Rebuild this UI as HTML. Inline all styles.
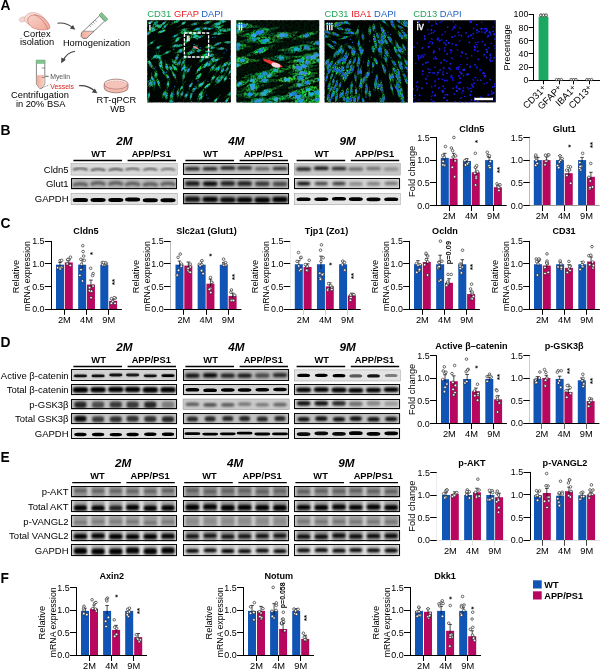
<!DOCTYPE html>
<html><head><meta charset="utf-8"><title>Figure</title>
<style>
html,body{margin:0;padding:0;background:#fff;}
body{width:600px;height:669px;overflow:hidden;font-family:"Liberation Sans", sans-serif;}
svg{display:block;will-change:transform;font-family:"Liberation Sans", sans-serif;}
</style></head><body>
<svg width="600" height="669" viewBox="0 0 600 669">
<defs>
<linearGradient id="braing" x1="0" y1="0" x2="1" y2="1"><stop offset="0" stop-color="#f8d3ca"/><stop offset="1" stop-color="#f0a999"/></linearGradient>
<linearGradient id="liqg" x1="0" y1="0" x2="1" y2="0"><stop offset="0" stop-color="#f2ab9b"/><stop offset="1" stop-color="#f9d3c8"/></linearGradient>
<filter id="grain0" x="0" y="0" width="100%" height="100%"><feTurbulence type="fractalNoise" baseFrequency="0.7" numOctaves="2" seed="3"/><feColorMatrix type="matrix" values="0 0 0 0 0  0 0 0 0 0  0 0 0 0 0  2.2 0 0 0 -0.8"/></filter>
<filter id="grain1" x="0" y="0" width="100%" height="100%"><feTurbulence type="fractalNoise" baseFrequency="0.45" numOctaves="2" seed="4"/><feColorMatrix type="matrix" values="0 0 0 0 0  0 0 0 0 0  0 0 0 0 0  2.4 0 0 0 -0.85"/></filter>
<filter id="grain2" x="0" y="0" width="100%" height="100%"><feTurbulence type="fractalNoise" baseFrequency="0.7" numOctaves="2" seed="5"/><feColorMatrix type="matrix" values="0 0 0 0 0  0 0 0 0 0  0 0 0 0 0  2.2 0 0 0 -0.8"/></filter>
<filter id="b04" x="-20%" y="-20%" width="140%" height="140%"><feGaussianBlur stdDeviation="0.4"/></filter>
<filter id="b05" x="-20%" y="-20%" width="140%" height="140%"><feGaussianBlur stdDeviation="0.5"/></filter>
<filter id="b06" x="-20%" y="-50%" width="140%" height="200%"><feGaussianBlur stdDeviation="0.6"/></filter>
<filter id="b07" x="-20%" y="-50%" width="140%" height="200%"><feGaussianBlur stdDeviation="0.95"/></filter>
<filter id="b08" x="-20%" y="-20%" width="140%" height="140%"><feGaussianBlur stdDeviation="0.8"/></filter>
<filter id="b12" x="-20%" y="-20%" width="140%" height="140%"><feGaussianBlur stdDeviation="1.2"/></filter>
</defs>
<rect x="0" y="0" width="600" height="669" fill="#fff"/>
<text x="0.60" y="10.00" font-size="13.8" text-anchor="start" font-weight="bold" font-style="normal" fill="#000" >A</text>
<g stroke-width="0.5" stroke-linecap="round"><ellipse cx="22.6" cy="19.4" rx="3.4" ry="2.4" fill="#f6d6cf" stroke="#cdb0aa" transform="rotate(-20 22.6 19.4)"/><path d="M24.5,18.5 C25.5,14 30.5,11.6 36,13 C41.5,14.4 46.5,19 48,25.5 L31,25 C27,24 24,21.5 24.5,18.5 Z" fill="#f8dad3" stroke="#c39a92" stroke-dasharray="0.8 0.7"/><path d="M28.3,18 C31,13.8 38.5,14.2 44,18.6 C48,21.8 50.6,26.3 49.6,28.4 C46,30.6 38,30.2 33.4,28 C29.4,26 26.6,21.6 28.3,18 Z" fill="url(#braing)" stroke="#b4544c" stroke-dasharray="0.8 0.7"/><path d="M34.5,14.6 C40,17 45.5,22.5 47.6,29.2" fill="none" stroke="#b4544c" stroke-dasharray="0.8 0.7"/></g>
<text x="37.00" y="36.60" font-size="9.3" text-anchor="middle" font-weight="normal" font-style="normal" fill="#000" >Cortex</text>
<text x="37.00" y="45.20" font-size="9.3" text-anchor="middle" font-weight="normal" font-style="normal" fill="#000" >isolation</text>
<path d="M57.5,23.2 C63,22.5 69,24.5 73.5,28.2" fill="none" stroke="#444" stroke-width="1.1"/>
<path d="M75.3,29.8 L69.8,28.6 L73.0,25.0 Z" fill="#444"/>
<polygon points="81.45,32.92 99.59,15.71 104.68,21.08 86.55,38.28 82.94,38.26 81.29,36.52" fill="#fff" stroke="#555" stroke-width="0.7" stroke-linejoin="round"/>
<polygon points="81.45,32.92 83.26,31.20 94.01,31.20 86.55,38.28 82.94,38.26 81.29,36.52" fill="url(#liqg)" stroke="#555" stroke-width="0.5" stroke-linejoin="round"/>
<polygon points="98.97,15.05 101.58,12.58 107.91,19.25 105.30,21.73" fill="#80c68f" stroke="#4d7d58" stroke-width="0.5"/>
<line x1="89.43" y1="25.34" x2="91.02" y2="27.01" stroke="#444" stroke-width="0.5"/>
<line x1="91.25" y1="23.62" x2="92.83" y2="25.29" stroke="#444" stroke-width="0.5"/>
<line x1="93.06" y1="21.90" x2="94.64" y2="23.57" stroke="#444" stroke-width="0.5"/>
<line x1="94.87" y1="20.18" x2="96.46" y2="21.85" stroke="#444" stroke-width="0.5"/>
<text x="96.50" y="46.40" font-size="9.3" text-anchor="middle" font-weight="normal" font-style="normal" fill="#000" >Homogenization</text>
<path d="M75,51.2 C70,52 65.5,55.5 63.0,60.5" fill="none" stroke="#444" stroke-width="1.1"/>
<path d="M61.2,63.2 L61.3,57.4 L65.9,59.8 Z" fill="#444"/>
<path d="M36.4,62.5 L44.8,62.5 L44.8,84 L41.4,88.6 L39.8,88.6 L36.4,84 Z" fill="#fff" stroke="#555" stroke-width="0.7" stroke-linejoin="round"/>
<path d="M36.75,76 L44.45,76 L44.45,83.9 L41.2,88.2 L40.0,88.2 L36.75,83.9 Z" fill="url(#liqg)"/>
<line x1="36.7" y1="75.6" x2="44.5" y2="75.6" stroke="#e0746a" stroke-width="0.5"/>
<rect x="36.10" y="60.00" width="9.00" height="3.40" fill="#80c68f" stroke="#5a9c6a" stroke-width="0.4" />
<path d="M44.8,68 h-3 M44.8,77.4 h-3" stroke="#444" stroke-width="0.6"/>
<line x1="45.20" y1="76.30" x2="48.60" y2="76.30" stroke="#333" stroke-width="0.8" />
<path d="M41.6,88 L48.8,85.2" stroke="#444" stroke-width="0.6" stroke-dasharray="1.2 0.8"/>
<text x="50.20" y="79.00" font-size="6.9" text-anchor="start" font-weight="normal" font-style="normal" fill="#555" >Myelin</text>
<text x="50.20" y="88.70" font-size="6.9" text-anchor="start" font-weight="normal" font-style="normal" fill="#d8201c" >Vessels</text>
<text x="40.00" y="98.40" font-size="9.3" text-anchor="middle" font-weight="normal" font-style="normal" fill="#000" >Centrifugation</text>
<text x="40.70" y="106.80" font-size="9.3" text-anchor="middle" font-weight="normal" font-style="normal" fill="#000" >in 20% BSA</text>
<path d="M79,85.7 C85,85.2 91,87.5 95.2,91.4" fill="none" stroke="#444" stroke-width="1.1"/>
<path d="M97.4,93.3 L91.8,92.4 L94.8,88.5 Z" fill="#444"/>
<path d="M104.2,84 L104.2,87.9 A11.9,4.9 0 0 0 128,87.9 L128,84 Z" fill="#f2b9ae" stroke="#7a4a44" stroke-width="0.6"/>
<ellipse cx="116.1" cy="84" rx="11.9" ry="4.9" fill="#fbe6e1" stroke="#7a4a44" stroke-width="0.6"/>
<ellipse cx="116.1" cy="85.0" rx="10.6" ry="3.8" fill="#f5c3b9" stroke="#b9776b" stroke-width="0.4" stroke-dasharray="2 1"/>
<text x="116.40" y="103.20" font-size="9.3" text-anchor="middle" font-weight="normal" font-style="normal" fill="#000" >RT-qPCR</text>
<text x="117.80" y="112.20" font-size="9.3" text-anchor="middle" font-weight="normal" font-style="normal" fill="#000" >WB</text>
<text x="147.3" y="17" font-size="9.4"><tspan fill="#23a65c">CD31</tspan> <tspan fill="#e5222b">GFAP</tspan> <tspan fill="#1f62c4">DAPI</tspan></text>
<text x="324.6" y="17" font-size="9.4"><tspan fill="#23a65c">CD31</tspan> <tspan fill="#e5222b">IBA1</tspan> <tspan fill="#1f62c4">DAPI</tspan></text>
<text x="413.2" y="17" font-size="9.4"><tspan fill="#23a65c">CD13</tspan> <tspan fill="#1f62c4">DAPI</tspan></text>
<clipPath id="mc0"><rect x="147.2" y="20.2" width="83.6" height="82.2"/></clipPath>
<rect x="147.20" y="20.20" width="83.60" height="82.20" fill="#010804" stroke="none" stroke-width="0" />
<g clip-path="url(#mc0)">
<g filter="url(#b04)">
<g transform="translate(159.4,57.6) rotate(58)"><ellipse rx="7.9" ry="0.7" fill="rgb(7,108,50)" opacity="0.87"/><ellipse rx="3.9" ry="1.4" fill="rgb(13,198,92)" opacity="0.98"/></g>
<g transform="translate(175.2,45.6) rotate(-17)"><ellipse rx="5.8" ry="0.6" fill="rgb(19,105,43)" opacity="0.72"/><ellipse rx="2.9" ry="1.2" fill="rgb(35,191,79)" opacity="0.97"/></g>
<g transform="translate(215.6,33.4) rotate(-9)"><ellipse rx="5.5" ry="0.5" fill="rgb(6,102,50)" opacity="0.59"/><ellipse rx="3.2" ry="1.5" fill="rgb(11,186,92)" opacity="0.81"/></g>
<g transform="translate(200.5,94.4) rotate(-58)"><ellipse rx="7.2" ry="0.9" fill="rgb(17,132,45)" opacity="0.77"/><ellipse rx="3.6" ry="1.5" fill="rgb(31,240,83)" opacity="0.84"/></g>
<g transform="translate(152.4,28.5) rotate(-41)"><ellipse rx="6.7" ry="0.6" fill="rgb(25,125,36)" opacity="0.56"/><ellipse rx="3.9" ry="1.5" fill="rgb(47,228,66)" opacity="0.89"/></g>
<g transform="translate(219.2,33.7) rotate(-4)"><ellipse rx="7.8" ry="0.5" fill="rgb(26,127,34)" opacity="0.76"/><ellipse rx="2.7" ry="1.4" fill="rgb(49,232,63)" opacity="0.91"/></g>
<g transform="translate(194.7,47.6) rotate(-38)"><ellipse rx="5.5" ry="0.6" fill="rgb(19,97,51)" opacity="0.79"/><ellipse rx="3.4" ry="1.5" fill="rgb(35,178,93)" opacity="0.87"/></g>
<g transform="translate(202.4,59.4) rotate(-43)"><ellipse rx="7.8" ry="0.6" fill="rgb(8,101,28)" opacity="0.56"/><ellipse rx="3.9" ry="1.6" fill="rgb(16,185,52)" opacity="0.87"/></g>
<g transform="translate(157.5,25.7) rotate(-16)"><ellipse rx="6.6" ry="0.7" fill="rgb(25,133,36)" opacity="0.67"/><ellipse rx="3.4" ry="1.2" fill="rgb(47,242,66)" opacity="0.94"/></g>
<g transform="translate(216.5,26.6) rotate(4)"><ellipse rx="6.1" ry="0.9" fill="rgb(18,94,36)" opacity="0.50"/><ellipse rx="4.0" ry="1.6" fill="rgb(34,171,67)" opacity="0.93"/></g>
<g transform="translate(150.4,22.3) rotate(-22)"><ellipse rx="6.2" ry="0.7" fill="rgb(25,96,39)" opacity="0.63"/><ellipse rx="3.6" ry="1.2" fill="rgb(47,176,72)" opacity="0.96"/></g>
<g transform="translate(150.0,83.5) rotate(100)"><ellipse rx="5.3" ry="0.8" fill="rgb(29,90,53)" opacity="0.51"/><ellipse rx="4.0" ry="1.6" fill="rgb(53,165,97)" opacity="0.76"/></g>
<g transform="translate(180.3,51.5) rotate(-17)"><ellipse rx="5.8" ry="0.9" fill="rgb(27,122,53)" opacity="0.55"/><ellipse rx="3.6" ry="1.4" fill="rgb(50,223,97)" opacity="0.85"/></g>
<g transform="translate(196.1,29.3) rotate(-28)"><ellipse rx="8.5" ry="0.7" fill="rgb(8,114,29)" opacity="0.52"/><ellipse rx="3.0" ry="1.3" fill="rgb(15,209,54)" opacity="0.80"/></g>
<g transform="translate(148.9,32.9) rotate(-49)"><ellipse rx="5.4" ry="0.8" fill="rgb(25,129,32)" opacity="0.57"/><ellipse rx="2.8" ry="1.4" fill="rgb(47,235,59)" opacity="0.98"/></g>
<g transform="translate(208.8,51.4) rotate(-3)"><ellipse rx="5.4" ry="0.8" fill="rgb(13,110,53)" opacity="0.81"/><ellipse rx="3.9" ry="1.1" fill="rgb(24,201,97)" opacity="0.98"/></g>
<g transform="translate(166.3,95.4) rotate(91)"><ellipse rx="5.5" ry="0.5" fill="rgb(12,124,44)" opacity="0.52"/><ellipse rx="3.4" ry="1.6" fill="rgb(23,226,81)" opacity="0.97"/></g>
<g transform="translate(218.5,68.5) rotate(-62)"><ellipse rx="7.1" ry="0.9" fill="rgb(21,106,51)" opacity="0.50"/><ellipse rx="3.8" ry="1.5" fill="rgb(39,194,94)" opacity="0.73"/></g>
<g transform="translate(220.8,30.1) rotate(-20)"><ellipse rx="6.2" ry="0.9" fill="rgb(17,101,48)" opacity="0.81"/><ellipse rx="3.7" ry="1.7" fill="rgb(31,185,88)" opacity="0.87"/></g>
<g transform="translate(225.4,78.8) rotate(-60)"><ellipse rx="6.3" ry="0.6" fill="rgb(12,91,45)" opacity="0.56"/><ellipse rx="3.0" ry="1.5" fill="rgb(23,167,83)" opacity="0.91"/></g>
<g transform="translate(217.8,23.7) rotate(-12)"><ellipse rx="8.9" ry="0.5" fill="rgb(11,121,34)" opacity="0.61"/><ellipse rx="3.4" ry="1.3" fill="rgb(21,220,63)" opacity="0.73"/></g>
<g transform="translate(171.8,94.3) rotate(115)"><ellipse rx="6.0" ry="0.5" fill="rgb(8,119,52)" opacity="0.64"/><ellipse rx="3.0" ry="1.6" fill="rgb(15,218,96)" opacity="0.71"/></g>
<g transform="translate(198.7,50.6) rotate(-10)"><ellipse rx="7.1" ry="0.7" fill="rgb(7,132,55)" opacity="0.53"/><ellipse rx="2.6" ry="1.6" fill="rgb(13,241,100)" opacity="0.66"/></g>
<g transform="translate(202.0,84.0) rotate(-47)"><ellipse rx="7.5" ry="0.8" fill="rgb(17,103,44)" opacity="0.81"/><ellipse rx="3.5" ry="1.3" fill="rgb(31,188,81)" opacity="0.87"/></g>
<g transform="translate(164.9,26.5) rotate(-45)"><ellipse rx="7.5" ry="0.8" fill="rgb(26,93,36)" opacity="0.69"/><ellipse rx="3.9" ry="1.2" fill="rgb(48,170,67)" opacity="0.89"/></g>
<g transform="translate(221.7,77.4) rotate(-45)"><ellipse rx="8.4" ry="0.8" fill="rgb(14,90,30)" opacity="0.71"/><ellipse rx="3.2" ry="1.7" fill="rgb(27,165,55)" opacity="0.91"/></g>
<g transform="translate(205.4,28.3) rotate(-7)"><ellipse rx="7.5" ry="0.9" fill="rgb(22,93,51)" opacity="0.75"/><ellipse rx="3.4" ry="1.2" fill="rgb(41,170,93)" opacity="0.76"/></g>
<g transform="translate(154.4,83.0) rotate(88)"><ellipse rx="8.6" ry="0.6" fill="rgb(19,93,39)" opacity="0.89"/><ellipse rx="2.7" ry="1.4" fill="rgb(35,170,71)" opacity="0.71"/></g>
<g transform="translate(194.2,89.2) rotate(-53)"><ellipse rx="8.0" ry="0.8" fill="rgb(20,91,52)" opacity="0.74"/><ellipse rx="3.3" ry="1.7" fill="rgb(38,166,95)" opacity="0.93"/></g>
<g transform="translate(213.7,60.4) rotate(-37)"><ellipse rx="8.4" ry="0.6" fill="rgb(19,92,31)" opacity="0.81"/><ellipse rx="2.8" ry="1.6" fill="rgb(35,168,57)" opacity="0.99"/></g>
<g transform="translate(212.9,67.6) rotate(-54)"><ellipse rx="8.8" ry="0.9" fill="rgb(23,111,40)" opacity="0.65"/><ellipse rx="3.8" ry="1.6" fill="rgb(43,202,74)" opacity="0.85"/></g>
<g transform="translate(212.3,59.2) rotate(-43)"><ellipse rx="9.0" ry="0.6" fill="rgb(13,117,28)" opacity="0.55"/><ellipse rx="3.4" ry="1.0" fill="rgb(24,213,51)" opacity="0.73"/></g>
<g transform="translate(179.0,45.7) rotate(-17)"><ellipse rx="8.6" ry="0.7" fill="rgb(7,110,42)" opacity="0.59"/><ellipse rx="3.6" ry="1.4" fill="rgb(14,200,77)" opacity="0.94"/></g>
<g transform="translate(147.2,100.7) rotate(91)"><ellipse rx="6.5" ry="0.8" fill="rgb(26,125,53)" opacity="0.74"/><ellipse rx="3.7" ry="1.3" fill="rgb(49,228,98)" opacity="0.75"/></g>
<g transform="translate(153.6,30.3) rotate(-22)"><ellipse rx="8.5" ry="0.8" fill="rgb(33,122,39)" opacity="0.86"/><ellipse rx="3.0" ry="1.0" fill="rgb(60,222,72)" opacity="0.97"/></g>
<g transform="translate(230.5,93.6) rotate(-32)"><ellipse rx="8.0" ry="0.7" fill="rgb(16,113,36)" opacity="0.54"/><ellipse rx="3.4" ry="1.7" fill="rgb(30,206,66)" opacity="0.88"/></g>
<g transform="translate(226.8,100.6) rotate(-55)"><ellipse rx="6.3" ry="0.7" fill="rgb(26,107,35)" opacity="0.79"/><ellipse rx="3.3" ry="1.3" fill="rgb(49,196,64)" opacity="0.75"/></g>
<g transform="translate(216.9,60.0) rotate(-28)"><ellipse rx="7.5" ry="0.6" fill="rgb(20,129,44)" opacity="0.84"/><ellipse rx="4.2" ry="1.0" fill="rgb(37,236,80)" opacity="0.83"/></g>
<g transform="translate(207.6,22.5) rotate(-16)"><ellipse rx="6.6" ry="0.6" fill="rgb(25,99,33)" opacity="0.85"/><ellipse rx="4.2" ry="1.4" fill="rgb(47,180,61)" opacity="0.69"/></g>
<g transform="translate(152.4,78.7) rotate(80)"><ellipse rx="6.8" ry="0.8" fill="rgb(21,121,53)" opacity="0.73"/><ellipse rx="3.1" ry="1.3" fill="rgb(39,221,98)" opacity="0.84"/></g>
<g transform="translate(194.7,23.9) rotate(-11)"><ellipse rx="8.6" ry="0.5" fill="rgb(29,92,46)" opacity="0.87"/><ellipse rx="3.8" ry="1.4" fill="rgb(53,169,84)" opacity="0.91"/></g>
<g transform="translate(191.0,96.3) rotate(-81)"><ellipse rx="6.4" ry="0.7" fill="rgb(21,91,53)" opacity="0.85"/><ellipse rx="3.5" ry="1.1" fill="rgb(39,167,98)" opacity="0.91"/></g>
<g transform="translate(206.2,54.6) rotate(-9)"><ellipse rx="7.6" ry="0.8" fill="rgb(8,125,29)" opacity="0.86"/><ellipse rx="3.6" ry="1.2" fill="rgb(15,228,53)" opacity="0.96"/></g>
<g transform="translate(185.3,70.5) rotate(-60)"><ellipse rx="7.8" ry="0.7" fill="rgb(29,103,40)" opacity="0.83"/><ellipse rx="3.5" ry="1.5" fill="rgb(54,188,74)" opacity="0.72"/></g>
<g transform="translate(181.9,94.0) rotate(-69)"><ellipse rx="5.8" ry="0.6" fill="rgb(25,97,52)" opacity="0.86"/><ellipse rx="2.8" ry="1.4" fill="rgb(47,177,95)" opacity="0.75"/></g>
<g transform="translate(201.1,97.4) rotate(-56)"><ellipse rx="8.5" ry="0.8" fill="rgb(6,118,51)" opacity="0.70"/><ellipse rx="3.2" ry="1.6" fill="rgb(12,216,93)" opacity="0.89"/></g>
<g transform="translate(213.1,77.8) rotate(-55)"><ellipse rx="6.4" ry="0.6" fill="rgb(9,117,27)" opacity="0.51"/><ellipse rx="2.9" ry="1.6" fill="rgb(17,213,50)" opacity="0.88"/></g>
<g transform="translate(207.0,63.7) rotate(-43)"><ellipse rx="8.1" ry="0.8" fill="rgb(7,122,51)" opacity="0.57"/><ellipse rx="3.6" ry="1.5" fill="rgb(13,223,93)" opacity="0.85"/></g>
<g transform="translate(177.9,93.2) rotate(-86)"><ellipse rx="7.0" ry="0.6" fill="rgb(21,98,49)" opacity="0.51"/><ellipse rx="3.9" ry="1.3" fill="rgb(39,179,90)" opacity="0.94"/></g>
<g transform="translate(182.7,68.6) rotate(-68)"><ellipse rx="7.7" ry="0.5" fill="rgb(7,105,51)" opacity="0.85"/><ellipse rx="3.2" ry="1.1" fill="rgb(14,191,93)" opacity="0.66"/></g>
<g transform="translate(218.2,24.1) rotate(-17)"><ellipse rx="8.4" ry="0.8" fill="rgb(8,96,28)" opacity="0.63"/><ellipse rx="3.9" ry="1.0" fill="rgb(15,175,52)" opacity="0.71"/></g>
<g transform="translate(223.2,21.5) rotate(-13)"><ellipse rx="5.4" ry="0.8" fill="rgb(10,110,48)" opacity="0.54"/><ellipse rx="2.6" ry="1.3" fill="rgb(19,201,88)" opacity="0.94"/></g>
<g transform="translate(206.4,57.1) rotate(-5)"><ellipse rx="8.3" ry="0.8" fill="rgb(25,97,38)" opacity="0.83"/><ellipse rx="4.1" ry="1.6" fill="rgb(47,177,70)" opacity="0.86"/></g>
<g transform="translate(183.7,76.7) rotate(-80)"><ellipse rx="7.8" ry="0.9" fill="rgb(15,114,51)" opacity="0.73"/><ellipse rx="2.7" ry="1.3" fill="rgb(28,209,94)" opacity="0.74"/></g>
<g transform="translate(180.7,50.2) rotate(-25)"><ellipse rx="9.0" ry="0.6" fill="rgb(5,97,33)" opacity="0.75"/><ellipse rx="3.1" ry="1.6" fill="rgb(10,177,61)" opacity="0.84"/></g>
<g transform="translate(219.2,23.4) rotate(-28)"><ellipse rx="7.5" ry="0.8" fill="rgb(9,125,50)" opacity="0.65"/><ellipse rx="3.2" ry="1.3" fill="rgb(18,228,91)" opacity="0.83"/></g>
<g transform="translate(199.6,37.2) rotate(-23)"><ellipse rx="5.7" ry="0.6" fill="rgb(16,103,49)" opacity="0.62"/><ellipse rx="3.9" ry="1.2" fill="rgb(30,189,90)" opacity="0.76"/></g>
<g transform="translate(185.1,57.1) rotate(-27)"><ellipse rx="6.7" ry="0.6" fill="rgb(22,124,50)" opacity="0.55"/><ellipse rx="2.7" ry="1.6" fill="rgb(41,227,91)" opacity="0.67"/></g>
<g transform="translate(224.7,64.8) rotate(-44)"><ellipse rx="7.1" ry="0.8" fill="rgb(28,127,46)" opacity="0.83"/><ellipse rx="3.7" ry="1.5" fill="rgb(52,232,85)" opacity="0.92"/></g>
<g transform="translate(157.9,56.8) rotate(-24)"><ellipse rx="6.8" ry="0.7" fill="rgb(10,108,53)" opacity="0.74"/><ellipse rx="4.0" ry="1.2" fill="rgb(19,198,97)" opacity="0.85"/></g>
<g transform="translate(229.7,63.7) rotate(-54)"><ellipse rx="5.4" ry="0.7" fill="rgb(9,111,36)" opacity="0.61"/><ellipse rx="2.8" ry="1.1" fill="rgb(17,202,67)" opacity="0.71"/></g>
<g transform="translate(225.0,64.8) rotate(-38)"><ellipse rx="8.6" ry="0.8" fill="rgb(23,119,53)" opacity="0.64"/><ellipse rx="3.8" ry="1.4" fill="rgb(43,217,98)" opacity="0.84"/></g>
<g transform="translate(167.1,52.5) rotate(-25)"><ellipse rx="7.0" ry="0.5" fill="rgb(17,91,34)" opacity="0.75"/><ellipse rx="3.9" ry="1.2" fill="rgb(32,167,62)" opacity="0.69"/></g>
<g transform="translate(151.7,42.7) rotate(-35)"><ellipse rx="6.0" ry="0.6" fill="rgb(11,111,35)" opacity="0.86"/><ellipse rx="2.8" ry="1.1" fill="rgb(20,203,65)" opacity="0.71"/></g>
<g transform="translate(219.3,27.3) rotate(-28)"><ellipse rx="6.9" ry="0.7" fill="rgb(8,132,35)" opacity="0.52"/><ellipse rx="4.0" ry="1.2" fill="rgb(16,241,64)" opacity="0.67"/></g>
<g transform="translate(217.4,79.2) rotate(-55)"><ellipse rx="5.2" ry="0.6" fill="rgb(16,127,54)" opacity="0.68"/><ellipse rx="2.9" ry="1.5" fill="rgb(30,232,99)" opacity="0.79"/></g>
<g transform="translate(208.7,46.6) rotate(-14)"><ellipse rx="7.1" ry="0.6" fill="rgb(16,120,35)" opacity="0.52"/><ellipse rx="3.3" ry="1.5" fill="rgb(30,219,64)" opacity="0.84"/></g>
<g transform="translate(161.0,62.5) rotate(72)"><ellipse rx="5.2" ry="0.9" fill="rgb(31,95,45)" opacity="0.61"/><ellipse rx="3.3" ry="1.2" fill="rgb(57,173,82)" opacity="0.89"/></g>
<g transform="translate(151.6,83.2) rotate(74)"><ellipse rx="7.6" ry="0.7" fill="rgb(17,108,51)" opacity="0.52"/><ellipse rx="3.7" ry="1.3" fill="rgb(31,197,94)" opacity="0.92"/></g>
<g transform="translate(158.4,47.4) rotate(-29)"><ellipse rx="5.1" ry="0.6" fill="rgb(11,91,42)" opacity="0.64"/><ellipse rx="3.1" ry="1.5" fill="rgb(21,166,78)" opacity="0.76"/></g>
<g transform="translate(183.9,29.7) rotate(-14)"><ellipse rx="6.2" ry="0.6" fill="rgb(31,112,31)" opacity="0.67"/><ellipse rx="3.5" ry="1.1" fill="rgb(57,204,57)" opacity="0.72"/></g>
<g transform="translate(183.6,23.1) rotate(-35)"><ellipse rx="8.7" ry="0.5" fill="rgb(25,96,48)" opacity="0.90"/><ellipse rx="3.1" ry="1.3" fill="rgb(46,176,89)" opacity="0.74"/></g>
<g transform="translate(209.2,64.5) rotate(-27)"><ellipse rx="6.1" ry="0.8" fill="rgb(19,106,36)" opacity="0.77"/><ellipse rx="2.6" ry="1.7" fill="rgb(35,193,67)" opacity="0.87"/></g>
<g transform="translate(198.6,76.3) rotate(-45)"><ellipse rx="5.2" ry="0.9" fill="rgb(22,129,53)" opacity="0.74"/><ellipse rx="3.8" ry="1.6" fill="rgb(40,236,97)" opacity="0.93"/></g>
<g transform="translate(211.3,55.4) rotate(-9)"><ellipse rx="6.0" ry="0.8" fill="rgb(17,99,37)" opacity="0.87"/><ellipse rx="2.7" ry="1.7" fill="rgb(32,180,68)" opacity="1.00"/></g>
<g transform="translate(178.2,38.4) rotate(-14)"><ellipse rx="8.9" ry="0.6" fill="rgb(7,94,36)" opacity="0.65"/><ellipse rx="2.9" ry="1.2" fill="rgb(13,172,67)" opacity="0.67"/></g>
<g transform="translate(204.7,66.5) rotate(-35)"><ellipse rx="8.9" ry="0.8" fill="rgb(30,126,36)" opacity="0.88"/><ellipse rx="3.7" ry="1.1" fill="rgb(55,230,67)" opacity="0.98"/></g>
<g transform="translate(222.3,70.6) rotate(-61)"><ellipse rx="8.1" ry="0.6" fill="rgb(13,112,36)" opacity="0.77"/><ellipse rx="3.0" ry="1.3" fill="rgb(25,205,67)" opacity="0.98"/></g>
<g transform="translate(168.0,84.2) rotate(98)"><ellipse rx="7.2" ry="0.9" fill="rgb(17,115,51)" opacity="0.75"/><ellipse rx="3.4" ry="1.3" fill="rgb(31,210,93)" opacity="0.71"/></g>
<g transform="translate(186.3,95.3) rotate(-63)"><ellipse rx="7.7" ry="0.8" fill="rgb(29,93,52)" opacity="0.82"/><ellipse rx="3.1" ry="1.6" fill="rgb(53,170,96)" opacity="0.70"/></g>
<g transform="translate(221.4,48.6) rotate(-5)"><ellipse rx="5.2" ry="0.8" fill="rgb(31,98,32)" opacity="0.70"/><ellipse rx="3.8" ry="1.3" fill="rgb(57,179,59)" opacity="0.87"/></g>
<g transform="translate(194.7,34.0) rotate(-13)"><ellipse rx="8.8" ry="0.9" fill="rgb(29,125,36)" opacity="0.62"/><ellipse rx="3.3" ry="1.3" fill="rgb(53,229,67)" opacity="0.77"/></g>
<g transform="translate(175.3,35.9) rotate(-23)"><ellipse rx="5.0" ry="0.7" fill="rgb(6,105,41)" opacity="0.82"/><ellipse rx="3.1" ry="1.3" fill="rgb(12,191,76)" opacity="0.66"/></g>
<g transform="translate(172.0,102.2) rotate(98)"><ellipse rx="7.1" ry="0.8" fill="rgb(11,121,37)" opacity="0.58"/><ellipse rx="3.5" ry="1.4" fill="rgb(21,220,68)" opacity="0.84"/></g>
<g transform="translate(208.5,64.7) rotate(-36)"><ellipse rx="8.1" ry="0.5" fill="rgb(15,100,30)" opacity="0.67"/><ellipse rx="2.8" ry="1.2" fill="rgb(28,182,55)" opacity="0.80"/></g>
<g transform="translate(160.9,66.0) rotate(66)"><ellipse rx="6.1" ry="0.9" fill="rgb(17,115,37)" opacity="0.86"/><ellipse rx="3.7" ry="1.7" fill="rgb(31,210,69)" opacity="0.92"/></g>
<g transform="translate(198.4,29.0) rotate(-24)"><ellipse rx="8.7" ry="0.5" fill="rgb(30,111,48)" opacity="0.70"/><ellipse rx="3.1" ry="1.1" fill="rgb(55,203,88)" opacity="0.97"/></g>
<g transform="translate(163.8,72.5) rotate(64)"><ellipse rx="8.7" ry="0.5" fill="rgb(5,119,50)" opacity="0.60"/><ellipse rx="3.6" ry="1.2" fill="rgb(10,218,91)" opacity="0.78"/></g>
<g transform="translate(200.5,84.9) rotate(-47)"><ellipse rx="5.5" ry="0.6" fill="rgb(26,125,41)" opacity="0.51"/><ellipse rx="2.8" ry="1.6" fill="rgb(48,229,75)" opacity="0.94"/></g>
<g transform="translate(160.0,26.4) rotate(-36)"><ellipse rx="7.8" ry="0.5" fill="rgb(29,132,31)" opacity="0.62"/><ellipse rx="2.8" ry="1.4" fill="rgb(53,241,58)" opacity="0.67"/></g>
<g transform="translate(171.8,96.1) rotate(103)"><ellipse rx="8.0" ry="0.8" fill="rgb(23,110,42)" opacity="0.90"/><ellipse rx="2.7" ry="1.5" fill="rgb(42,200,77)" opacity="0.80"/></g>
<g transform="translate(177.1,21.2) rotate(-26)"><ellipse rx="8.5" ry="0.9" fill="rgb(29,108,34)" opacity="0.76"/><ellipse rx="3.6" ry="1.6" fill="rgb(54,198,62)" opacity="0.88"/></g>
<g transform="translate(155.9,74.3) rotate(87)"><ellipse rx="8.4" ry="0.7" fill="rgb(19,122,30)" opacity="0.77"/><ellipse rx="3.2" ry="1.6" fill="rgb(35,223,56)" opacity="0.92"/></g>
<g transform="translate(188.5,70.0) rotate(-56)"><ellipse rx="6.2" ry="0.7" fill="rgb(12,118,52)" opacity="0.77"/><ellipse rx="2.6" ry="1.1" fill="rgb(22,215,96)" opacity="0.90"/></g>
<g transform="translate(191.3,52.6) rotate(-38)"><ellipse rx="8.8" ry="0.8" fill="rgb(30,111,40)" opacity="0.65"/><ellipse rx="3.4" ry="1.0" fill="rgb(56,202,73)" opacity="0.69"/></g>
<g transform="translate(187.5,40.5) rotate(-41)"><ellipse rx="6.8" ry="0.7" fill="rgb(17,127,29)" opacity="0.84"/><ellipse rx="3.8" ry="1.5" fill="rgb(31,231,54)" opacity="0.88"/></g>
<g transform="translate(166.8,66.8) rotate(74)"><ellipse rx="7.7" ry="0.8" fill="rgb(30,118,41)" opacity="0.64"/><ellipse rx="3.5" ry="1.7" fill="rgb(55,215,75)" opacity="0.95"/></g>
<g transform="translate(191.0,52.4) rotate(-15)"><ellipse rx="7.6" ry="0.9" fill="rgb(25,124,50)" opacity="0.86"/><ellipse rx="4.1" ry="1.6" fill="rgb(46,226,91)" opacity="0.66"/></g>
<g transform="translate(228.0,42.3) rotate(2)"><ellipse rx="6.3" ry="0.7" fill="rgb(20,106,55)" opacity="0.88"/><ellipse rx="3.7" ry="1.2" fill="rgb(37,194,100)" opacity="0.86"/></g>
<g transform="translate(184.7,32.1) rotate(-12)"><ellipse rx="8.9" ry="0.5" fill="rgb(9,128,40)" opacity="0.74"/><ellipse rx="4.2" ry="1.6" fill="rgb(18,233,74)" opacity="0.97"/></g>
<g transform="translate(148.9,95.3) rotate(96)"><ellipse rx="6.7" ry="0.5" fill="rgb(29,118,51)" opacity="0.73"/><ellipse rx="2.6" ry="1.2" fill="rgb(54,215,93)" opacity="0.72"/></g>
<g transform="translate(227.3,69.0) rotate(-59)"><ellipse rx="5.8" ry="0.8" fill="rgb(23,110,36)" opacity="0.67"/><ellipse rx="2.9" ry="1.2" fill="rgb(42,200,66)" opacity="0.79"/></g>
<g transform="translate(173.9,74.9) rotate(64)"><ellipse rx="8.8" ry="0.6" fill="rgb(31,102,36)" opacity="0.74"/><ellipse rx="4.1" ry="1.3" fill="rgb(57,187,67)" opacity="0.86"/></g>
<g transform="translate(170.9,68.2) rotate(61)"><ellipse rx="7.8" ry="0.6" fill="rgb(19,100,53)" opacity="0.74"/><ellipse rx="2.7" ry="1.4" fill="rgb(36,183,98)" opacity="0.98"/></g>
<g transform="translate(155.0,56.3) rotate(-40)"><ellipse rx="5.3" ry="0.8" fill="rgb(7,122,53)" opacity="0.81"/><ellipse rx="2.9" ry="1.3" fill="rgb(13,223,98)" opacity="0.89"/></g>
<g transform="translate(181.7,87.8) rotate(-60)"><ellipse rx="8.9" ry="0.7" fill="rgb(17,130,30)" opacity="0.63"/><ellipse rx="2.8" ry="1.1" fill="rgb(31,238,55)" opacity="0.71"/></g>
<g transform="translate(164.0,93.9) rotate(110)"><ellipse rx="5.2" ry="0.7" fill="rgb(9,124,30)" opacity="0.77"/><ellipse rx="3.6" ry="1.4" fill="rgb(17,226,56)" opacity="0.68"/></g>
<g transform="translate(170.4,102.1) rotate(93)"><ellipse rx="5.4" ry="0.7" fill="rgb(15,112,41)" opacity="0.76"/><ellipse rx="2.8" ry="1.4" fill="rgb(29,204,76)" opacity="0.79"/></g>
<g transform="translate(150.1,64.3) rotate(56)"><ellipse rx="7.8" ry="0.8" fill="rgb(31,125,52)" opacity="0.71"/><ellipse rx="3.9" ry="1.5" fill="rgb(57,228,96)" opacity="0.74"/></g>
<g transform="translate(183.3,62.2) rotate(-65)"><ellipse rx="7.0" ry="0.9" fill="rgb(28,109,50)" opacity="0.72"/><ellipse rx="3.7" ry="1.2" fill="rgb(52,199,91)" opacity="0.89"/></g>
<g transform="translate(224.7,30.5) rotate(0)"><ellipse rx="5.1" ry="0.8" fill="rgb(8,105,44)" opacity="0.68"/><ellipse rx="3.6" ry="1.5" fill="rgb(16,192,81)" opacity="0.83"/></g>
<g transform="translate(174.6,67.7) rotate(53)"><ellipse rx="5.3" ry="0.6" fill="rgb(18,134,45)" opacity="0.76"/><ellipse rx="3.8" ry="1.6" fill="rgb(33,245,82)" opacity="1.00"/></g>
<g transform="translate(176.8,57.9) rotate(-69)"><ellipse rx="5.5" ry="0.9" fill="rgb(28,91,53)" opacity="0.81"/><ellipse rx="4.1" ry="1.6" fill="rgb(52,167,98)" opacity="0.75"/></g>
<g transform="translate(219.1,80.8) rotate(-47)"><ellipse rx="8.1" ry="0.6" fill="rgb(7,124,50)" opacity="0.83"/><ellipse rx="4.0" ry="1.6" fill="rgb(13,226,91)" opacity="0.67"/></g>
<g transform="translate(198.9,31.9) rotate(-24)"><ellipse rx="6.5" ry="0.8" fill="rgb(29,90,31)" opacity="0.51"/><ellipse rx="3.1" ry="1.5" fill="rgb(54,165,58)" opacity="1.00"/></g>
<g transform="translate(174.6,62.3) rotate(42)"><ellipse rx="6.9" ry="0.5" fill="rgb(20,109,31)" opacity="0.54"/><ellipse rx="3.9" ry="1.6" fill="rgb(37,199,57)" opacity="0.88"/></g>
<g transform="translate(190.6,85.5) rotate(-69)"><ellipse rx="6.3" ry="0.7" fill="rgb(13,124,32)" opacity="0.59"/><ellipse rx="2.6" ry="1.6" fill="rgb(24,226,59)" opacity="0.74"/></g>
<g transform="translate(205.9,65.1) rotate(-44)"><ellipse rx="7.2" ry="0.6" fill="rgb(10,107,36)" opacity="0.74"/><ellipse rx="3.3" ry="1.4" fill="rgb(19,195,67)" opacity="0.83"/></g>
<g transform="translate(230.0,29.5) rotate(-3)"><ellipse rx="7.4" ry="0.8" fill="rgb(9,119,43)" opacity="0.68"/><ellipse rx="3.2" ry="1.7" fill="rgb(18,218,79)" opacity="0.67"/></g>
<g transform="translate(163.7,23.2) rotate(-43)"><ellipse rx="7.8" ry="0.6" fill="rgb(24,124,40)" opacity="0.61"/><ellipse rx="3.3" ry="1.1" fill="rgb(45,226,73)" opacity="0.92"/></g>
<g transform="translate(212.2,47.8) rotate(-5)"><ellipse rx="6.4" ry="0.6" fill="rgb(18,99,34)" opacity="0.74"/><ellipse rx="2.8" ry="1.4" fill="rgb(33,180,62)" opacity="0.79"/></g>
<g transform="translate(230.3,71.8) rotate(-62)"><ellipse rx="5.6" ry="0.8" fill="rgb(14,114,40)" opacity="0.58"/><ellipse rx="2.7" ry="1.1" fill="rgb(27,209,74)" opacity="0.99"/></g>
<g transform="translate(199.0,69.5) rotate(-54)"><ellipse rx="7.1" ry="0.8" fill="rgb(22,128,36)" opacity="0.86"/><ellipse rx="3.7" ry="1.3" fill="rgb(40,234,66)" opacity="0.93"/></g>
<g transform="translate(184.2,67.5) rotate(-84)"><ellipse rx="8.2" ry="0.7" fill="rgb(19,130,47)" opacity="0.58"/><ellipse rx="3.1" ry="1.4" fill="rgb(36,238,87)" opacity="0.75"/></g>
<g transform="translate(222.2,20.5) rotate(-17)"><ellipse rx="6.1" ry="0.7" fill="rgb(25,122,47)" opacity="0.65"/><ellipse rx="3.2" ry="1.3" fill="rgb(47,222,87)" opacity="0.98"/></g>
<g transform="translate(209.4,28.7) rotate(-11)"><ellipse rx="5.8" ry="0.7" fill="rgb(22,94,34)" opacity="0.58"/><ellipse rx="3.7" ry="1.1" fill="rgb(41,171,63)" opacity="0.70"/></g>
<g transform="translate(149.7,62.4) rotate(53)"><ellipse rx="8.4" ry="0.5" fill="rgb(31,129,50)" opacity="0.84"/><ellipse rx="2.8" ry="1.2" fill="rgb(58,236,92)" opacity="0.87"/></g>
<g transform="translate(207.3,85.9) rotate(-40)"><ellipse rx="8.7" ry="0.8" fill="rgb(19,130,40)" opacity="0.56"/><ellipse rx="4.1" ry="1.3" fill="rgb(36,237,74)" opacity="0.94"/></g>
<g transform="translate(194.8,36.7) rotate(-4)"><ellipse rx="8.1" ry="0.6" fill="rgb(17,121,27)" opacity="0.55"/><ellipse rx="4.1" ry="1.6" fill="rgb(32,221,50)" opacity="0.90"/></g>
<g transform="translate(217.7,43.9) rotate(-24)"><ellipse rx="5.1" ry="0.6" fill="rgb(30,107,55)" opacity="0.83"/><ellipse rx="4.1" ry="1.2" fill="rgb(56,195,100)" opacity="0.74"/></g>
<g transform="translate(158.5,82.8) rotate(72)"><ellipse rx="7.3" ry="0.6" fill="rgb(19,128,28)" opacity="0.86"/><ellipse rx="3.9" ry="1.3" fill="rgb(35,233,51)" opacity="0.92"/></g>
<g transform="translate(191.0,32.6) rotate(-5)"><ellipse rx="7.4" ry="0.5" fill="rgb(31,106,37)" opacity="0.57"/><ellipse rx="4.0" ry="1.3" fill="rgb(57,193,69)" opacity="0.92"/></g>
<g transform="translate(161.8,31.4) rotate(-20)"><ellipse rx="5.2" ry="0.6" fill="rgb(28,124,53)" opacity="0.80"/><ellipse rx="4.2" ry="1.3" fill="rgb(51,226,98)" opacity="0.93"/></g>
<g transform="translate(216.9,68.6) rotate(-29)"><ellipse rx="7.7" ry="0.6" fill="rgb(14,99,49)" opacity="0.51"/><ellipse rx="3.6" ry="1.6" fill="rgb(27,180,90)" opacity="0.70"/></g>
<g transform="translate(167.8,76.8) rotate(59)"><ellipse rx="6.7" ry="0.5" fill="rgb(17,121,41)" opacity="0.72"/><ellipse rx="3.0" ry="1.3" fill="rgb(31,221,76)" opacity="0.74"/></g>
<g transform="translate(155.5,23.2) rotate(-50)"><ellipse rx="5.7" ry="0.6" fill="rgb(5,101,47)" opacity="0.81"/><ellipse rx="3.6" ry="1.7" fill="rgb(10,185,87)" opacity="0.89"/></g>
<g transform="translate(179.1,62.9) rotate(-64)"><ellipse rx="5.7" ry="0.9" fill="rgb(5,109,38)" opacity="0.60"/><ellipse rx="2.9" ry="1.5" fill="rgb(10,199,70)" opacity="0.99"/></g>
<g transform="translate(215.9,100.1) rotate(-50)"><ellipse rx="8.7" ry="0.6" fill="rgb(22,92,41)" opacity="0.55"/><ellipse rx="3.6" ry="1.2" fill="rgb(40,169,75)" opacity="0.89"/></g>
<g transform="translate(177.0,40.3) rotate(-37)"><ellipse rx="7.1" ry="0.8" fill="rgb(31,113,31)" opacity="0.71"/><ellipse rx="2.6" ry="1.2" fill="rgb(57,207,58)" opacity="0.81"/></g>
<g transform="translate(196.1,36.0) rotate(-3)"><ellipse rx="5.2" ry="0.7" fill="rgb(14,118,55)" opacity="0.79"/><ellipse rx="2.8" ry="1.6" fill="rgb(27,216,100)" opacity="0.97"/></g>
<g transform="translate(216.6,23.8) rotate(-25)"><ellipse rx="6.0" ry="0.9" fill="rgb(14,96,43)" opacity="0.69"/><ellipse rx="3.3" ry="1.6" fill="rgb(27,175,79)" opacity="0.73"/></g>
</g>
<rect x="147.2" y="20.2" width="83.6" height="82.2" filter="url(#grain0)"/>
<g filter="url(#b04)"><ellipse rx="1.5" ry="1.0" fill="rgb(25,187,209)" opacity="0.92" transform="translate(159.4,57.6) rotate(58)"/><ellipse rx="1.5" ry="1.0" fill="rgb(60,166,233)" opacity="0.92" transform="translate(175.2,45.6) rotate(-17)"/><ellipse rx="1.5" ry="1.0" fill="rgb(56,150,192)" opacity="0.92" transform="translate(215.6,33.4) rotate(-9)"/><ellipse rx="1.5" ry="1.0" fill="rgb(52,185,198)" opacity="0.92" transform="translate(200.5,94.4) rotate(-58)"/><ellipse rx="1.5" ry="1.0" fill="rgb(47,189,212)" opacity="0.92" transform="translate(152.4,28.5) rotate(-41)"/><ellipse rx="1.5" ry="1.0" fill="rgb(34,196,199)" opacity="0.92" transform="translate(219.2,33.7) rotate(-4)"/><ellipse rx="1.5" ry="1.0" fill="rgb(33,142,204)" opacity="0.92" transform="translate(194.7,47.6) rotate(-38)"/><ellipse rx="1.5" ry="1.0" fill="rgb(23,152,195)" opacity="0.92" transform="translate(202.4,59.4) rotate(-43)"/><ellipse rx="1.5" ry="1.0" fill="rgb(49,173,192)" opacity="0.92" transform="translate(157.5,25.7) rotate(-16)"/><ellipse rx="1.5" ry="1.0" fill="rgb(26,152,194)" opacity="0.92" transform="translate(216.5,26.6) rotate(4)"/><ellipse rx="1.5" ry="1.0" fill="rgb(60,141,234)" opacity="0.92" transform="translate(150.4,22.3) rotate(-22)"/><ellipse rx="1.5" ry="1.0" fill="rgb(55,149,190)" opacity="0.92" transform="translate(150.0,83.5) rotate(100)"/><ellipse rx="1.5" ry="1.0" fill="rgb(37,144,220)" opacity="0.92" transform="translate(180.3,51.5) rotate(-17)"/><ellipse rx="1.5" ry="1.0" fill="rgb(49,167,225)" opacity="0.92" transform="translate(196.1,29.3) rotate(-28)"/><ellipse rx="1.5" ry="1.0" fill="rgb(29,148,228)" opacity="0.92" transform="translate(148.9,32.9) rotate(-49)"/><ellipse rx="1.5" ry="1.0" fill="rgb(50,198,233)" opacity="0.92" transform="translate(208.8,51.4) rotate(-3)"/><ellipse rx="1.5" ry="1.0" fill="rgb(50,162,212)" opacity="0.92" transform="translate(166.3,95.4) rotate(91)"/><ellipse rx="1.5" ry="1.0" fill="rgb(22,199,217)" opacity="0.92" transform="translate(218.5,68.5) rotate(-62)"/><ellipse rx="1.5" ry="1.0" fill="rgb(32,160,185)" opacity="0.92" transform="translate(220.8,30.1) rotate(-20)"/><ellipse rx="1.5" ry="1.0" fill="rgb(48,199,228)" opacity="0.92" transform="translate(225.4,78.8) rotate(-60)"/><ellipse rx="1.5" ry="1.0" fill="rgb(44,149,192)" opacity="0.92" transform="translate(217.8,23.7) rotate(-12)"/><ellipse rx="1.5" ry="1.0" fill="rgb(31,143,222)" opacity="0.92" transform="translate(171.8,94.3) rotate(115)"/><ellipse rx="1.5" ry="1.0" fill="rgb(22,156,211)" opacity="0.92" transform="translate(198.7,50.6) rotate(-10)"/><ellipse rx="1.5" ry="1.0" fill="rgb(30,198,188)" opacity="0.92" transform="translate(202.0,84.0) rotate(-47)"/><ellipse rx="1.5" ry="1.0" fill="rgb(41,166,224)" opacity="0.92" transform="translate(164.9,26.5) rotate(-45)"/><ellipse rx="1.5" ry="1.0" fill="rgb(45,167,182)" opacity="0.92" transform="translate(221.7,77.4) rotate(-45)"/><ellipse rx="1.5" ry="1.0" fill="rgb(60,175,223)" opacity="0.92" transform="translate(205.4,28.3) rotate(-7)"/><ellipse rx="1.5" ry="1.0" fill="rgb(29,165,212)" opacity="0.92" transform="translate(154.4,83.0) rotate(88)"/><ellipse rx="1.5" ry="1.0" fill="rgb(20,158,207)" opacity="0.92" transform="translate(194.2,89.2) rotate(-53)"/><ellipse rx="1.5" ry="1.0" fill="rgb(38,164,180)" opacity="0.92" transform="translate(213.7,60.4) rotate(-37)"/><ellipse rx="1.5" ry="1.0" fill="rgb(31,166,199)" opacity="0.92" transform="translate(212.9,67.6) rotate(-54)"/><ellipse rx="1.5" ry="1.0" fill="rgb(52,167,204)" opacity="0.92" transform="translate(212.3,59.2) rotate(-43)"/><ellipse rx="1.5" ry="1.0" fill="rgb(42,162,206)" opacity="0.92" transform="translate(179.0,45.7) rotate(-17)"/><ellipse rx="1.5" ry="1.0" fill="rgb(36,168,188)" opacity="0.92" transform="translate(147.2,100.7) rotate(91)"/><ellipse rx="1.5" ry="1.0" fill="rgb(25,173,231)" opacity="0.92" transform="translate(153.6,30.3) rotate(-22)"/><ellipse rx="1.5" ry="1.0" fill="rgb(38,160,221)" opacity="0.92" transform="translate(230.5,93.6) rotate(-32)"/><ellipse rx="1.5" ry="1.0" fill="rgb(31,186,220)" opacity="0.92" transform="translate(226.8,100.6) rotate(-55)"/><ellipse rx="1.5" ry="1.0" fill="rgb(44,179,204)" opacity="0.92" transform="translate(216.9,60.0) rotate(-28)"/><ellipse rx="1.5" ry="1.0" fill="rgb(42,163,207)" opacity="0.92" transform="translate(207.6,22.5) rotate(-16)"/><ellipse rx="1.5" ry="1.0" fill="rgb(41,171,221)" opacity="0.92" transform="translate(152.4,78.7) rotate(80)"/><ellipse rx="1.5" ry="1.0" fill="rgb(40,141,216)" opacity="0.92" transform="translate(194.7,23.9) rotate(-11)"/><ellipse rx="1.5" ry="1.0" fill="rgb(20,179,201)" opacity="0.92" transform="translate(191.0,96.3) rotate(-81)"/><ellipse rx="1.5" ry="1.0" fill="rgb(36,187,227)" opacity="0.92" transform="translate(206.2,54.6) rotate(-9)"/><ellipse rx="1.5" ry="1.0" fill="rgb(20,146,197)" opacity="0.92" transform="translate(185.3,70.5) rotate(-60)"/><ellipse rx="1.5" ry="1.0" fill="rgb(55,161,230)" opacity="0.92" transform="translate(181.9,94.0) rotate(-69)"/><ellipse rx="1.5" ry="1.0" fill="rgb(23,197,202)" opacity="0.92" transform="translate(201.1,97.4) rotate(-56)"/><ellipse rx="1.5" ry="1.0" fill="rgb(55,181,209)" opacity="0.92" transform="translate(213.1,77.8) rotate(-55)"/><ellipse rx="1.5" ry="1.0" fill="rgb(52,175,190)" opacity="0.92" transform="translate(207.0,63.7) rotate(-43)"/><ellipse rx="1.5" ry="1.0" fill="rgb(33,168,186)" opacity="0.92" transform="translate(177.9,93.2) rotate(-86)"/><ellipse rx="1.5" ry="1.0" fill="rgb(26,174,235)" opacity="0.92" transform="translate(182.7,68.6) rotate(-68)"/><ellipse rx="1.5" ry="1.0" fill="rgb(42,177,203)" opacity="0.92" transform="translate(218.2,24.1) rotate(-17)"/><ellipse rx="1.5" ry="1.0" fill="rgb(54,144,220)" opacity="0.92" transform="translate(223.2,21.5) rotate(-13)"/><ellipse rx="1.5" ry="1.0" fill="rgb(20,175,220)" opacity="0.92" transform="translate(206.4,57.1) rotate(-5)"/><ellipse rx="1.5" ry="1.0" fill="rgb(21,151,198)" opacity="0.92" transform="translate(183.7,76.7) rotate(-80)"/><ellipse rx="1.5" ry="1.0" fill="rgb(51,181,235)" opacity="0.92" transform="translate(180.7,50.2) rotate(-25)"/><ellipse rx="1.5" ry="1.0" fill="rgb(58,175,198)" opacity="0.92" transform="translate(219.2,23.4) rotate(-28)"/><ellipse rx="1.5" ry="1.0" fill="rgb(41,150,218)" opacity="0.92" transform="translate(199.6,37.2) rotate(-23)"/><ellipse rx="1.5" ry="1.0" fill="rgb(33,187,206)" opacity="0.92" transform="translate(185.1,57.1) rotate(-27)"/><ellipse rx="1.5" ry="1.0" fill="rgb(52,178,230)" opacity="0.92" transform="translate(224.7,64.8) rotate(-44)"/><ellipse rx="1.5" ry="1.0" fill="rgb(37,177,199)" opacity="0.92" transform="translate(157.9,56.8) rotate(-24)"/><ellipse rx="1.5" ry="1.0" fill="rgb(49,151,231)" opacity="0.92" transform="translate(229.7,63.7) rotate(-54)"/><ellipse rx="1.5" ry="1.0" fill="rgb(34,175,227)" opacity="0.92" transform="translate(225.0,64.8) rotate(-38)"/><ellipse rx="1.5" ry="1.0" fill="rgb(35,181,195)" opacity="0.92" transform="translate(167.1,52.5) rotate(-25)"/><ellipse rx="1.5" ry="1.0" fill="rgb(32,184,193)" opacity="0.92" transform="translate(151.7,42.7) rotate(-35)"/><ellipse rx="1.5" ry="1.0" fill="rgb(55,189,192)" opacity="0.92" transform="translate(219.3,27.3) rotate(-28)"/><ellipse rx="1.5" ry="1.0" fill="rgb(29,145,186)" opacity="0.92" transform="translate(217.4,79.2) rotate(-55)"/><ellipse rx="1.5" ry="1.0" fill="rgb(25,186,212)" opacity="0.92" transform="translate(208.7,46.6) rotate(-14)"/><ellipse rx="1.5" ry="1.0" fill="rgb(33,199,191)" opacity="0.92" transform="translate(161.0,62.5) rotate(72)"/><ellipse rx="1.5" ry="1.0" fill="rgb(21,173,199)" opacity="0.92" transform="translate(151.6,83.2) rotate(74)"/><ellipse rx="1.5" ry="1.0" fill="rgb(52,194,209)" opacity="0.92" transform="translate(158.4,47.4) rotate(-29)"/><ellipse rx="1.5" ry="1.0" fill="rgb(22,178,188)" opacity="0.92" transform="translate(183.9,29.7) rotate(-14)"/><ellipse rx="1.5" ry="1.0" fill="rgb(52,197,198)" opacity="0.92" transform="translate(183.6,23.1) rotate(-35)"/><ellipse rx="1.5" ry="1.0" fill="rgb(23,182,201)" opacity="0.92" transform="translate(209.2,64.5) rotate(-27)"/><ellipse rx="1.5" ry="1.0" fill="rgb(39,184,216)" opacity="0.92" transform="translate(198.6,76.3) rotate(-45)"/><ellipse rx="1.5" ry="1.0" fill="rgb(35,146,211)" opacity="0.92" transform="translate(211.3,55.4) rotate(-9)"/><ellipse rx="1.5" ry="1.0" fill="rgb(47,184,181)" opacity="0.92" transform="translate(178.2,38.4) rotate(-14)"/><ellipse rx="1.5" ry="1.0" fill="rgb(27,155,183)" opacity="0.92" transform="translate(204.7,66.5) rotate(-35)"/><ellipse rx="1.5" ry="1.0" fill="rgb(23,154,226)" opacity="0.92" transform="translate(222.3,70.6) rotate(-61)"/><ellipse rx="1.5" ry="1.0" fill="rgb(43,188,235)" opacity="0.92" transform="translate(168.0,84.2) rotate(98)"/><ellipse rx="1.5" ry="1.0" fill="rgb(36,184,230)" opacity="0.92" transform="translate(186.3,95.3) rotate(-63)"/><ellipse rx="1.5" ry="1.0" fill="rgb(44,149,212)" opacity="0.92" transform="translate(221.4,48.6) rotate(-5)"/><ellipse rx="1.5" ry="1.0" fill="rgb(24,190,223)" opacity="0.92" transform="translate(194.7,34.0) rotate(-13)"/><ellipse rx="1.5" ry="1.0" fill="rgb(29,157,233)" opacity="0.92" transform="translate(175.3,35.9) rotate(-23)"/><ellipse rx="1.5" ry="1.0" fill="rgb(23,146,200)" opacity="0.92" transform="translate(172.0,102.2) rotate(98)"/><ellipse rx="1.5" ry="1.0" fill="rgb(33,143,187)" opacity="0.92" transform="translate(208.5,64.7) rotate(-36)"/><ellipse rx="1.5" ry="1.0" fill="rgb(51,184,228)" opacity="0.92" transform="translate(160.9,66.0) rotate(66)"/><ellipse rx="1.5" ry="1.0" fill="rgb(26,174,189)" opacity="0.92" transform="translate(198.4,29.0) rotate(-24)"/><ellipse rx="1.5" ry="1.0" fill="rgb(23,151,206)" opacity="0.92" transform="translate(163.8,72.5) rotate(64)"/><ellipse rx="1.5" ry="1.0" fill="rgb(47,192,209)" opacity="0.92" transform="translate(200.5,84.9) rotate(-47)"/><ellipse rx="1.5" ry="1.0" fill="rgb(50,186,230)" opacity="0.92" transform="translate(160.0,26.4) rotate(-36)"/><ellipse rx="1.5" ry="1.0" fill="rgb(28,154,213)" opacity="0.92" transform="translate(171.8,96.1) rotate(103)"/><ellipse rx="1.5" ry="1.0" fill="rgb(26,179,180)" opacity="0.92" transform="translate(177.1,21.2) rotate(-26)"/><ellipse rx="1.5" ry="1.0" fill="rgb(27,190,212)" opacity="0.92" transform="translate(155.9,74.3) rotate(87)"/><ellipse rx="1.5" ry="1.0" fill="rgb(39,152,226)" opacity="0.92" transform="translate(188.5,70.0) rotate(-56)"/><ellipse rx="1.5" ry="1.0" fill="rgb(31,172,186)" opacity="0.92" transform="translate(191.3,52.6) rotate(-38)"/><ellipse rx="1.5" ry="1.0" fill="rgb(22,194,205)" opacity="0.92" transform="translate(187.5,40.5) rotate(-41)"/><ellipse rx="1.5" ry="1.0" fill="rgb(27,167,222)" opacity="0.92" transform="translate(166.8,66.8) rotate(74)"/><ellipse rx="1.5" ry="1.0" fill="rgb(41,174,226)" opacity="0.92" transform="translate(191.0,52.4) rotate(-15)"/><ellipse rx="1.5" ry="1.0" fill="rgb(57,149,187)" opacity="0.92" transform="translate(228.0,42.3) rotate(2)"/><ellipse rx="1.5" ry="1.0" fill="rgb(22,191,201)" opacity="0.92" transform="translate(184.7,32.1) rotate(-12)"/><ellipse rx="1.5" ry="1.0" fill="rgb(26,173,203)" opacity="0.92" transform="translate(148.9,95.3) rotate(96)"/><ellipse rx="1.5" ry="1.0" fill="rgb(35,143,190)" opacity="0.92" transform="translate(227.3,69.0) rotate(-59)"/><ellipse rx="1.5" ry="1.0" fill="rgb(37,190,201)" opacity="0.92" transform="translate(173.9,74.9) rotate(64)"/><ellipse rx="1.5" ry="1.0" fill="rgb(44,158,219)" opacity="0.92" transform="translate(170.9,68.2) rotate(61)"/><ellipse rx="1.5" ry="1.0" fill="rgb(39,193,202)" opacity="0.92" transform="translate(155.0,56.3) rotate(-40)"/><ellipse rx="1.5" ry="1.0" fill="rgb(25,180,235)" opacity="0.92" transform="translate(181.7,87.8) rotate(-60)"/><ellipse rx="1.5" ry="1.0" fill="rgb(56,148,219)" opacity="0.92" transform="translate(164.0,93.9) rotate(110)"/><ellipse rx="1.5" ry="1.0" fill="rgb(23,171,188)" opacity="0.92" transform="translate(170.4,102.1) rotate(93)"/><ellipse rx="1.5" ry="1.0" fill="rgb(30,142,180)" opacity="0.92" transform="translate(150.1,64.3) rotate(56)"/><ellipse rx="1.5" ry="1.0" fill="rgb(25,148,219)" opacity="0.92" transform="translate(183.3,62.2) rotate(-65)"/><ellipse rx="1.5" ry="1.0" fill="rgb(51,173,198)" opacity="0.92" transform="translate(224.7,30.5) rotate(0)"/><ellipse rx="1.5" ry="1.0" fill="rgb(36,193,183)" opacity="0.92" transform="translate(174.6,67.7) rotate(53)"/><ellipse rx="1.5" ry="1.0" fill="rgb(45,156,228)" opacity="0.92" transform="translate(176.8,57.9) rotate(-69)"/><ellipse rx="1.5" ry="1.0" fill="rgb(60,145,217)" opacity="0.92" transform="translate(219.1,80.8) rotate(-47)"/><ellipse rx="1.5" ry="1.0" fill="rgb(41,160,209)" opacity="0.92" transform="translate(198.9,31.9) rotate(-24)"/><ellipse rx="1.5" ry="1.0" fill="rgb(51,177,210)" opacity="0.92" transform="translate(174.6,62.3) rotate(42)"/><ellipse rx="1.5" ry="1.0" fill="rgb(57,188,228)" opacity="0.92" transform="translate(190.6,85.5) rotate(-69)"/><ellipse rx="1.5" ry="1.0" fill="rgb(49,200,222)" opacity="0.92" transform="translate(205.9,65.1) rotate(-44)"/><ellipse rx="1.5" ry="1.0" fill="rgb(35,148,225)" opacity="0.92" transform="translate(230.0,29.5) rotate(-3)"/><ellipse rx="1.5" ry="1.0" fill="rgb(40,181,223)" opacity="0.92" transform="translate(163.7,23.2) rotate(-43)"/><ellipse rx="1.5" ry="1.0" fill="rgb(49,179,202)" opacity="0.92" transform="translate(212.2,47.8) rotate(-5)"/><ellipse rx="1.5" ry="1.0" fill="rgb(46,172,217)" opacity="0.92" transform="translate(230.3,71.8) rotate(-62)"/><ellipse rx="1.5" ry="1.0" fill="rgb(56,160,233)" opacity="0.92" transform="translate(199.0,69.5) rotate(-54)"/><ellipse rx="1.5" ry="1.0" fill="rgb(37,191,225)" opacity="0.92" transform="translate(184.2,67.5) rotate(-84)"/><ellipse rx="1.5" ry="1.0" fill="rgb(49,184,211)" opacity="0.92" transform="translate(222.2,20.5) rotate(-17)"/><ellipse rx="1.5" ry="1.0" fill="rgb(31,172,221)" opacity="0.92" transform="translate(209.4,28.7) rotate(-11)"/><ellipse rx="1.5" ry="1.0" fill="rgb(50,198,205)" opacity="0.92" transform="translate(149.7,62.4) rotate(53)"/><ellipse rx="1.5" ry="1.0" fill="rgb(35,189,235)" opacity="0.92" transform="translate(207.3,85.9) rotate(-40)"/><ellipse rx="1.5" ry="1.0" fill="rgb(41,175,197)" opacity="0.92" transform="translate(194.8,36.7) rotate(-4)"/><ellipse rx="1.5" ry="1.0" fill="rgb(33,146,214)" opacity="0.92" transform="translate(217.7,43.9) rotate(-24)"/><ellipse rx="1.5" ry="1.0" fill="rgb(36,172,188)" opacity="0.92" transform="translate(158.5,82.8) rotate(72)"/><ellipse rx="1.5" ry="1.0" fill="rgb(59,151,195)" opacity="0.92" transform="translate(191.0,32.6) rotate(-5)"/><ellipse rx="1.5" ry="1.0" fill="rgb(56,172,208)" opacity="0.92" transform="translate(161.8,31.4) rotate(-20)"/><ellipse rx="1.5" ry="1.0" fill="rgb(29,161,199)" opacity="0.92" transform="translate(216.9,68.6) rotate(-29)"/><ellipse rx="1.5" ry="1.0" fill="rgb(60,161,228)" opacity="0.92" transform="translate(167.8,76.8) rotate(59)"/><ellipse rx="1.5" ry="1.0" fill="rgb(23,143,182)" opacity="0.92" transform="translate(155.5,23.2) rotate(-50)"/><ellipse rx="1.5" ry="1.0" fill="rgb(38,143,209)" opacity="0.92" transform="translate(179.1,62.9) rotate(-64)"/><ellipse rx="1.5" ry="1.0" fill="rgb(51,200,223)" opacity="0.92" transform="translate(215.9,100.1) rotate(-50)"/><ellipse rx="1.5" ry="1.0" fill="rgb(59,200,216)" opacity="0.92" transform="translate(177.0,40.3) rotate(-37)"/><ellipse rx="1.5" ry="1.0" fill="rgb(44,199,209)" opacity="0.92" transform="translate(196.1,36.0) rotate(-3)"/><ellipse rx="1.5" ry="1.0" fill="rgb(38,182,190)" opacity="0.92" transform="translate(216.6,23.8) rotate(-25)"/><circle cx="154.8" cy="81.9" r="0.6" fill="rgb(30,101,244)"/><circle cx="215.0" cy="37.1" r="0.6" fill="rgb(30,149,239)"/><circle cx="154.7" cy="55.7" r="0.6" fill="rgb(30,110,245)"/><circle cx="207.2" cy="55.9" r="0.6" fill="rgb(30,133,207)"/><circle cx="147.4" cy="74.1" r="0.6" fill="rgb(30,141,246)"/><circle cx="208.1" cy="61.0" r="0.6" fill="rgb(30,103,248)"/><circle cx="212.8" cy="37.5" r="0.6" fill="rgb(30,160,231)"/><circle cx="185.8" cy="35.6" r="0.6" fill="rgb(30,107,248)"/><circle cx="212.7" cy="28.5" r="0.6" fill="rgb(30,102,201)"/><circle cx="206.7" cy="95.1" r="0.6" fill="rgb(30,115,207)"/><circle cx="226.7" cy="49.9" r="0.6" fill="rgb(30,116,235)"/><circle cx="207.9" cy="81.4" r="0.6" fill="rgb(30,92,205)"/><circle cx="197.1" cy="39.1" r="0.6" fill="rgb(30,115,218)"/><circle cx="178.8" cy="62.7" r="0.6" fill="rgb(30,103,227)"/><circle cx="194.2" cy="44.6" r="0.6" fill="rgb(30,160,229)"/><circle cx="174.0" cy="94.5" r="0.6" fill="rgb(30,104,229)"/><circle cx="217.5" cy="79.9" r="0.6" fill="rgb(30,120,245)"/><circle cx="148.3" cy="81.3" r="0.6" fill="rgb(30,158,255)"/><circle cx="173.0" cy="20.3" r="0.6" fill="rgb(30,109,213)"/><circle cx="158.1" cy="82.6" r="0.6" fill="rgb(30,136,220)"/><circle cx="159.1" cy="51.0" r="0.6" fill="rgb(30,136,206)"/><circle cx="200.2" cy="47.7" r="0.6" fill="rgb(30,134,255)"/><circle cx="181.1" cy="51.5" r="0.6" fill="rgb(30,154,204)"/><circle cx="230.5" cy="56.6" r="0.6" fill="rgb(30,141,231)"/><circle cx="229.8" cy="78.3" r="0.6" fill="rgb(30,151,215)"/><circle cx="184.6" cy="55.8" r="0.6" fill="rgb(30,156,213)"/><circle cx="208.0" cy="98.2" r="0.6" fill="rgb(30,97,244)"/><circle cx="224.1" cy="53.0" r="0.6" fill="rgb(30,136,206)"/><circle cx="174.6" cy="86.6" r="0.6" fill="rgb(30,130,235)"/><circle cx="224.0" cy="70.2" r="0.6" fill="rgb(30,136,240)"/><circle cx="191.6" cy="101.6" r="0.6" fill="rgb(30,123,224)"/><circle cx="188.6" cy="71.6" r="0.6" fill="rgb(30,134,214)"/><circle cx="198.0" cy="80.9" r="0.6" fill="rgb(30,157,251)"/><circle cx="166.5" cy="72.2" r="0.6" fill="rgb(30,135,220)"/><circle cx="172.2" cy="22.8" r="0.6" fill="rgb(30,144,201)"/><circle cx="192.8" cy="93.8" r="0.6" fill="rgb(30,112,253)"/><circle cx="149.6" cy="93.8" r="0.6" fill="rgb(30,148,233)"/><circle cx="192.2" cy="83.4" r="0.6" fill="rgb(30,148,221)"/><circle cx="200.4" cy="83.5" r="0.6" fill="rgb(30,133,207)"/><circle cx="173.8" cy="49.2" r="0.6" fill="rgb(30,141,201)"/><circle cx="221.2" cy="78.8" r="0.6" fill="rgb(30,139,231)"/><circle cx="175.0" cy="75.2" r="0.6" fill="rgb(30,96,243)"/><circle cx="193.6" cy="47.2" r="0.6" fill="rgb(30,125,233)"/><circle cx="154.2" cy="68.4" r="0.6" fill="rgb(30,138,232)"/><circle cx="219.7" cy="32.9" r="0.6" fill="rgb(30,113,210)"/><ellipse cx="195.8" cy="47.6" rx="3.2" ry="0.8" fill="#f88" transform="rotate(25 195.8 47.6)"/></g>
</g>
<clipPath id="mc1"><rect x="236.4" y="20.2" width="82.8" height="82.2"/></clipPath>
<rect x="236.40" y="20.20" width="82.80" height="82.20" fill="#03170a" stroke="none" stroke-width="0" />
<g clip-path="url(#mc1)">
<g filter="url(#b05)">
<g transform="translate(285.2,35.2) rotate(6)"><ellipse rx="15.7" ry="1.9" fill="rgb(17,118,42)" opacity="0.56"/><ellipse rx="6.8" ry="2.8" fill="rgb(26,174,62)" opacity="0.81"/></g>
<g transform="translate(281.2,34.9) rotate(2)"><ellipse rx="13.9" ry="2.0" fill="rgb(23,135,68)" opacity="0.65"/><ellipse rx="7.5" ry="2.6" fill="rgb(35,199,100)" opacity="0.80"/></g>
<g transform="translate(269.1,75.7) rotate(-22)"><ellipse rx="15.7" ry="1.7" fill="rgb(25,114,41)" opacity="0.61"/><ellipse rx="7.2" ry="2.5" fill="rgb(37,169,61)" opacity="0.92"/></g>
<g transform="translate(269.1,103.3) rotate(3)"><ellipse rx="19.2" ry="1.8" fill="rgb(10,112,36)" opacity="0.51"/><ellipse rx="6.6" ry="3.6" fill="rgb(15,165,54)" opacity="0.77"/></g>
<g transform="translate(318.4,93.4) rotate(3)"><ellipse rx="13.0" ry="1.9" fill="rgb(25,159,39)" opacity="0.53"/><ellipse rx="8.7" ry="3.6" fill="rgb(38,235,58)" opacity="0.70"/></g>
<g transform="translate(260.7,50.6) rotate(-20)"><ellipse rx="16.4" ry="2.2" fill="rgb(15,152,52)" opacity="0.54"/><ellipse rx="7.6" ry="2.8" fill="rgb(23,224,77)" opacity="0.99"/></g>
<g transform="translate(291.8,94.4) rotate(-22)"><ellipse rx="17.1" ry="2.1" fill="rgb(30,129,59)" opacity="0.71"/><ellipse rx="7.6" ry="3.2" fill="rgb(45,190,87)" opacity="0.77"/></g>
<g transform="translate(317.6,43.2) rotate(5)"><ellipse rx="15.2" ry="1.3" fill="rgb(25,114,62)" opacity="0.58"/><ellipse rx="6.8" ry="2.6" fill="rgb(38,168,92)" opacity="0.88"/></g>
<g transform="translate(307.2,62.4) rotate(-3)"><ellipse rx="13.7" ry="1.7" fill="rgb(39,138,35)" opacity="0.60"/><ellipse rx="7.9" ry="2.9" fill="rgb(58,203,52)" opacity="0.85"/></g>
<g transform="translate(263.5,93.7) rotate(-9)"><ellipse rx="12.4" ry="1.8" fill="rgb(24,112,53)" opacity="0.77"/><ellipse rx="6.7" ry="2.5" fill="rgb(36,166,78)" opacity="0.92"/></g>
<g transform="translate(319.2,60.2) rotate(2)"><ellipse rx="17.1" ry="1.2" fill="rgb(29,141,65)" opacity="0.53"/><ellipse rx="9.0" ry="3.3" fill="rgb(43,208,96)" opacity="0.81"/></g>
<g transform="translate(264.8,73.6) rotate(-6)"><ellipse rx="19.9" ry="1.9" fill="rgb(14,114,56)" opacity="0.88"/><ellipse rx="8.3" ry="2.7" fill="rgb(22,169,83)" opacity="0.93"/></g>
<g transform="translate(294.5,93.8) rotate(-19)"><ellipse rx="16.2" ry="1.2" fill="rgb(25,115,60)" opacity="0.73"/><ellipse rx="9.2" ry="3.2" fill="rgb(38,170,89)" opacity="0.96"/></g>
<g transform="translate(300.9,78.4) rotate(-19)"><ellipse rx="17.5" ry="1.3" fill="rgb(36,140,35)" opacity="0.60"/><ellipse rx="6.3" ry="2.9" fill="rgb(54,207,52)" opacity="0.79"/></g>
<g transform="translate(254.3,39.3) rotate(-10)"><ellipse rx="16.8" ry="1.7" fill="rgb(19,131,56)" opacity="0.61"/><ellipse rx="7.7" ry="2.8" fill="rgb(29,193,83)" opacity="0.91"/></g>
<g transform="translate(266.4,40.3) rotate(3)"><ellipse rx="17.8" ry="2.1" fill="rgb(35,151,46)" opacity="0.54"/><ellipse rx="8.2" ry="3.5" fill="rgb(52,223,69)" opacity="0.88"/></g>
<g transform="translate(266.1,91.6) rotate(-21)"><ellipse rx="19.6" ry="1.2" fill="rgb(36,148,62)" opacity="0.82"/><ellipse rx="6.2" ry="2.5" fill="rgb(54,218,92)" opacity="0.90"/></g>
<g transform="translate(256.8,101.6) rotate(-0)"><ellipse rx="17.5" ry="1.5" fill="rgb(8,115,56)" opacity="0.54"/><ellipse rx="7.4" ry="3.5" fill="rgb(13,170,83)" opacity="0.90"/></g>
<g transform="translate(300.8,60.4) rotate(-8)"><ellipse rx="15.0" ry="1.5" fill="rgb(39,165,54)" opacity="0.54"/><ellipse rx="7.3" ry="3.1" fill="rgb(58,244,80)" opacity="0.84"/></g>
<g transform="translate(312.9,57.3) rotate(2)"><ellipse rx="18.6" ry="1.4" fill="rgb(39,148,41)" opacity="0.86"/><ellipse rx="6.3" ry="3.5" fill="rgb(58,218,61)" opacity="0.67"/></g>
<g transform="translate(299.8,68.5) rotate(-22)"><ellipse rx="14.0" ry="1.9" fill="rgb(14,119,39)" opacity="0.52"/><ellipse rx="7.9" ry="3.2" fill="rgb(22,176,58)" opacity="0.72"/></g>
<g transform="translate(275.6,70.4) rotate(-8)"><ellipse rx="19.8" ry="1.4" fill="rgb(17,161,41)" opacity="0.77"/><ellipse rx="6.6" ry="3.1" fill="rgb(26,237,61)" opacity="0.65"/></g>
<g transform="translate(261.6,31.8) rotate(-15)"><ellipse rx="19.1" ry="1.4" fill="rgb(21,140,63)" opacity="0.65"/><ellipse rx="8.5" ry="3.7" fill="rgb(32,207,94)" opacity="0.73"/></g>
<g transform="translate(259.7,100.4) rotate(-7)"><ellipse rx="15.4" ry="2.0" fill="rgb(15,133,53)" opacity="0.70"/><ellipse rx="8.3" ry="2.7" fill="rgb(23,197,78)" opacity="0.85"/></g>
<g transform="translate(243.7,25.4) rotate(5)"><ellipse rx="18.4" ry="1.6" fill="rgb(21,165,60)" opacity="0.53"/><ellipse rx="8.7" ry="2.9" fill="rgb(32,243,89)" opacity="0.71"/></g>
<g transform="translate(304.1,66.1) rotate(-2)"><ellipse rx="14.5" ry="1.2" fill="rgb(16,125,49)" opacity="0.57"/><ellipse rx="9.2" ry="3.0" fill="rgb(24,184,73)" opacity="0.82"/></g>
<g transform="translate(301.3,72.9) rotate(-15)"><ellipse rx="19.0" ry="1.5" fill="rgb(9,115,49)" opacity="0.64"/><ellipse rx="7.5" ry="3.1" fill="rgb(14,170,73)" opacity="0.76"/></g>
<g transform="translate(238.6,25.6) rotate(3)"><ellipse rx="15.0" ry="1.4" fill="rgb(18,136,68)" opacity="0.85"/><ellipse rx="8.8" ry="2.7" fill="rgb(27,201,100)" opacity="0.69"/></g>
<g transform="translate(297.0,49.0) rotate(-4)"><ellipse rx="19.5" ry="1.8" fill="rgb(29,156,68)" opacity="0.86"/><ellipse rx="8.3" ry="3.3" fill="rgb(43,230,100)" opacity="0.80"/></g>
<g transform="translate(237.9,44.9) rotate(8)"><ellipse rx="13.6" ry="2.0" fill="rgb(21,125,34)" opacity="0.79"/><ellipse rx="8.7" ry="2.6" fill="rgb(32,184,51)" opacity="0.73"/></g>
<g transform="translate(235.4,19.1) rotate(-3)"><ellipse rx="15.2" ry="1.7" fill="rgb(31,117,38)" opacity="0.60"/><ellipse rx="8.7" ry="3.0" fill="rgb(46,173,56)" opacity="0.84"/></g>
<g transform="translate(234.1,60.3) rotate(-19)"><ellipse rx="16.2" ry="1.4" fill="rgb(21,136,63)" opacity="0.88"/><ellipse rx="7.8" ry="2.9" fill="rgb(31,201,93)" opacity="0.71"/></g>
<g transform="translate(300.7,77.3) rotate(-4)"><ellipse rx="17.7" ry="1.5" fill="rgb(24,126,62)" opacity="0.71"/><ellipse rx="8.9" ry="3.4" fill="rgb(36,186,92)" opacity="0.94"/></g>
<g transform="translate(236.3,65.3) rotate(-18)"><ellipse rx="15.9" ry="1.9" fill="rgb(39,119,38)" opacity="0.71"/><ellipse rx="6.5" ry="2.7" fill="rgb(58,175,56)" opacity="0.79"/></g>
<g transform="translate(281.1,57.9) rotate(-2)"><ellipse rx="18.8" ry="1.9" fill="rgb(14,127,63)" opacity="0.59"/><ellipse rx="6.9" ry="3.2" fill="rgb(22,188,94)" opacity="0.83"/></g>
<g transform="translate(305.1,73.2) rotate(-1)"><ellipse rx="13.0" ry="1.4" fill="rgb(25,160,38)" opacity="0.88"/><ellipse rx="6.8" ry="2.6" fill="rgb(38,236,57)" opacity="1.00"/></g>
<g transform="translate(295.9,49.3) rotate(-20)"><ellipse rx="14.5" ry="1.4" fill="rgb(11,114,64)" opacity="0.53"/><ellipse rx="8.1" ry="3.1" fill="rgb(17,169,95)" opacity="0.96"/></g>
<g transform="translate(320.7,79.8) rotate(-3)"><ellipse rx="15.2" ry="2.1" fill="rgb(27,121,52)" opacity="0.76"/><ellipse rx="7.0" ry="2.6" fill="rgb(41,179,77)" opacity="0.92"/></g>
<g transform="translate(242.5,60.3) rotate(1)"><ellipse rx="17.7" ry="2.0" fill="rgb(38,148,44)" opacity="0.76"/><ellipse rx="8.0" ry="3.4" fill="rgb(57,219,66)" opacity="0.84"/></g>
<g transform="translate(306.6,35.3) rotate(-17)"><ellipse rx="15.8" ry="1.8" fill="rgb(24,133,48)" opacity="0.58"/><ellipse rx="7.9" ry="2.6" fill="rgb(36,196,71)" opacity="0.89"/></g>
<g transform="translate(317.1,99.6) rotate(-17)"><ellipse rx="13.9" ry="1.6" fill="rgb(8,157,34)" opacity="0.88"/><ellipse rx="8.1" ry="3.4" fill="rgb(12,232,51)" opacity="0.90"/></g>
<g transform="translate(316.5,54.8) rotate(-1)"><ellipse rx="14.0" ry="2.1" fill="rgb(29,136,36)" opacity="0.72"/><ellipse rx="6.6" ry="2.5" fill="rgb(44,201,54)" opacity="0.93"/></g>
<g transform="translate(297.4,67.5) rotate(7)"><ellipse rx="12.0" ry="2.1" fill="rgb(40,154,53)" opacity="0.87"/><ellipse rx="6.3" ry="3.8" fill="rgb(60,227,79)" opacity="0.79"/></g>
<g transform="translate(250.1,94.4) rotate(-6)"><ellipse rx="19.9" ry="1.8" fill="rgb(17,121,49)" opacity="0.85"/><ellipse rx="8.2" ry="3.4" fill="rgb(25,179,73)" opacity="0.83"/></g>
<g transform="translate(275.9,99.2) rotate(-11)"><ellipse rx="19.9" ry="1.8" fill="rgb(12,138,60)" opacity="0.82"/><ellipse rx="8.5" ry="3.5" fill="rgb(19,204,89)" opacity="0.85"/></g>
<g transform="translate(316.7,92.1) rotate(-6)"><ellipse rx="15.4" ry="2.0" fill="rgb(22,131,47)" opacity="0.75"/><ellipse rx="9.4" ry="2.9" fill="rgb(33,194,70)" opacity="0.95"/></g>
<g transform="translate(300.6,101.0) rotate(-14)"><ellipse rx="18.8" ry="1.5" fill="rgb(31,158,50)" opacity="0.77"/><ellipse rx="7.3" ry="3.2" fill="rgb(46,233,74)" opacity="0.70"/></g>
<g transform="translate(258.2,32.8) rotate(-7)"><ellipse rx="15.1" ry="1.5" fill="rgb(6,121,36)" opacity="0.86"/><ellipse rx="7.8" ry="3.5" fill="rgb(10,179,54)" opacity="0.73"/></g>
<g transform="translate(252.5,85.5) rotate(-20)"><ellipse rx="17.9" ry="1.4" fill="rgb(22,118,35)" opacity="0.55"/><ellipse rx="6.8" ry="2.9" fill="rgb(33,174,52)" opacity="0.84"/></g>
<g transform="translate(236.5,31.0) rotate(-3)"><ellipse rx="12.5" ry="1.6" fill="rgb(36,121,40)" opacity="0.72"/><ellipse rx="7.4" ry="3.5" fill="rgb(54,179,60)" opacity="0.76"/></g>
<g transform="translate(282.1,35.5) rotate(-13)"><ellipse rx="17.1" ry="1.4" fill="rgb(40,139,46)" opacity="0.72"/><ellipse rx="7.4" ry="3.3" fill="rgb(59,205,69)" opacity="0.71"/></g>
<g transform="translate(298.7,96.4) rotate(-12)"><ellipse rx="17.0" ry="1.7" fill="rgb(9,166,53)" opacity="0.53"/><ellipse rx="7.8" ry="2.8" fill="rgb(14,245,78)" opacity="0.97"/></g>
<g transform="translate(307.0,82.7) rotate(-9)"><ellipse rx="15.2" ry="1.4" fill="rgb(38,163,58)" opacity="0.89"/><ellipse rx="7.0" ry="2.9" fill="rgb(57,241,86)" opacity="0.73"/></g>
<g transform="translate(264.6,80.4) rotate(1)"><ellipse rx="13.5" ry="1.8" fill="rgb(12,120,49)" opacity="0.76"/><ellipse rx="6.6" ry="2.6" fill="rgb(19,177,73)" opacity="0.96"/></g>
<g transform="translate(252.3,80.3) rotate(-10)"><ellipse rx="12.1" ry="2.1" fill="rgb(29,157,58)" opacity="0.75"/><ellipse rx="6.4" ry="3.1" fill="rgb(43,231,86)" opacity="0.81"/></g>
<g transform="translate(308.1,57.5) rotate(-1)"><ellipse rx="15.6" ry="1.9" fill="rgb(20,165,38)" opacity="0.68"/><ellipse rx="6.3" ry="2.7" fill="rgb(30,243,56)" opacity="0.75"/></g>
<g transform="translate(286.6,79.6) rotate(-4)"><ellipse rx="17.5" ry="1.2" fill="rgb(38,146,36)" opacity="0.59"/><ellipse rx="8.5" ry="2.6" fill="rgb(56,215,54)" opacity="0.99"/></g>
<g transform="translate(239.5,84.1) rotate(-21)"><ellipse rx="18.0" ry="1.9" fill="rgb(19,133,46)" opacity="0.64"/><ellipse rx="7.8" ry="2.7" fill="rgb(28,196,68)" opacity="0.97"/></g>
<g transform="translate(299.4,85.0) rotate(-15)"><ellipse rx="12.8" ry="1.6" fill="rgb(28,112,50)" opacity="0.76"/><ellipse rx="6.0" ry="2.8" fill="rgb(42,166,74)" opacity="0.69"/></g>
<g transform="translate(264.1,41.2) rotate(-4)"><ellipse rx="17.5" ry="1.7" fill="rgb(6,132,47)" opacity="0.62"/><ellipse rx="7.2" ry="3.2" fill="rgb(10,195,70)" opacity="0.84"/></g>
<g transform="translate(252.8,88.2) rotate(-16)"><ellipse rx="16.4" ry="1.3" fill="rgb(20,131,47)" opacity="0.51"/><ellipse rx="7.1" ry="3.6" fill="rgb(30,194,70)" opacity="0.76"/></g>
<g transform="translate(260.5,76.6) rotate(-3)"><ellipse rx="19.4" ry="1.3" fill="rgb(11,153,37)" opacity="0.88"/><ellipse rx="7.1" ry="3.2" fill="rgb(17,226,55)" opacity="0.67"/></g>
<g transform="translate(236.8,48.4) rotate(-11)"><ellipse rx="12.1" ry="1.4" fill="rgb(17,115,48)" opacity="0.60"/><ellipse rx="8.5" ry="2.6" fill="rgb(26,170,71)" opacity="0.96"/></g>
<g transform="translate(308.0,89.7) rotate(-13)"><ellipse rx="17.7" ry="2.0" fill="rgb(23,141,36)" opacity="0.85"/><ellipse rx="9.1" ry="3.4" fill="rgb(35,208,53)" opacity="0.94"/></g>
<g transform="translate(306.7,47.5) rotate(6)"><ellipse rx="14.2" ry="1.8" fill="rgb(16,120,53)" opacity="0.82"/><ellipse rx="8.6" ry="3.1" fill="rgb(24,177,78)" opacity="0.75"/></g>
<g transform="translate(298.0,97.1) rotate(6)"><ellipse rx="15.4" ry="1.5" fill="rgb(36,132,67)" opacity="0.66"/><ellipse rx="9.5" ry="3.5" fill="rgb(54,195,99)" opacity="0.66"/></g>
<g transform="translate(311.3,94.1) rotate(-12)"><ellipse rx="15.5" ry="1.3" fill="rgb(23,161,63)" opacity="0.52"/><ellipse rx="9.3" ry="2.6" fill="rgb(35,238,93)" opacity="0.94"/></g>
<g transform="translate(253.7,35.4) rotate(-0)"><ellipse rx="16.0" ry="2.0" fill="rgb(10,140,52)" opacity="0.71"/><ellipse rx="7.9" ry="2.9" fill="rgb(15,207,77)" opacity="0.82"/></g>
</g>
<rect x="236.4" y="20.2" width="82.8" height="82.2" filter="url(#grain1)"/>
<g filter="url(#b04)"><ellipse rx="2.7" ry="1.9" fill="rgb(33,141,228)" opacity="0.92" transform="translate(285.2,35.2) rotate(6)"/><ellipse rx="2.8" ry="1.7" fill="rgb(59,163,221)" opacity="0.92" transform="translate(281.2,34.9) rotate(2)"/><ellipse rx="3.0" ry="1.6" fill="rgb(56,172,209)" opacity="0.92" transform="translate(269.1,75.7) rotate(-22)"/><ellipse rx="2.9" ry="2.0" fill="rgb(31,164,233)" opacity="0.92" transform="translate(269.1,103.3) rotate(3)"/><ellipse rx="3.1" ry="1.7" fill="rgb(31,170,212)" opacity="0.92" transform="translate(318.4,93.4) rotate(3)"/><ellipse rx="3.0" ry="1.8" fill="rgb(37,129,216)" opacity="0.92" transform="translate(260.7,50.6) rotate(-20)"/><ellipse rx="3.1" ry="1.7" fill="rgb(37,150,242)" opacity="0.92" transform="translate(291.8,94.4) rotate(-22)"/><ellipse rx="2.6" ry="1.7" fill="rgb(41,127,223)" opacity="0.92" transform="translate(317.6,43.2) rotate(5)"/><ellipse rx="2.7" ry="1.7" fill="rgb(47,133,229)" opacity="0.92" transform="translate(307.2,62.4) rotate(-3)"/><ellipse rx="3.1" ry="2.1" fill="rgb(59,173,203)" opacity="0.92" transform="translate(263.5,93.7) rotate(-9)"/><ellipse rx="2.6" ry="1.6" fill="rgb(59,171,228)" opacity="0.92" transform="translate(319.2,60.2) rotate(2)"/><ellipse rx="3.1" ry="2.0" fill="rgb(32,148,208)" opacity="0.92" transform="translate(264.8,73.6) rotate(-6)"/><ellipse rx="2.6" ry="1.9" fill="rgb(28,127,207)" opacity="0.92" transform="translate(294.5,93.8) rotate(-19)"/><ellipse rx="2.6" ry="2.0" fill="rgb(55,144,209)" opacity="0.92" transform="translate(300.9,78.4) rotate(-19)"/><ellipse rx="2.7" ry="1.6" fill="rgb(32,141,202)" opacity="0.92" transform="translate(254.3,39.3) rotate(-10)"/><ellipse rx="3.1" ry="1.8" fill="rgb(36,174,203)" opacity="0.92" transform="translate(266.4,40.3) rotate(3)"/><ellipse rx="2.6" ry="2.1" fill="rgb(26,166,211)" opacity="0.92" transform="translate(266.1,91.6) rotate(-21)"/><ellipse rx="2.9" ry="1.8" fill="rgb(34,146,233)" opacity="0.92" transform="translate(256.8,101.6) rotate(-0)"/><ellipse rx="3.0" ry="2.0" fill="rgb(24,144,206)" opacity="0.92" transform="translate(300.8,60.4) rotate(-8)"/><ellipse rx="3.1" ry="2.0" fill="rgb(54,152,226)" opacity="0.92" transform="translate(312.9,57.3) rotate(2)"/><ellipse rx="2.7" ry="1.9" fill="rgb(35,155,236)" opacity="0.92" transform="translate(299.8,68.5) rotate(-22)"/><ellipse rx="2.8" ry="1.6" fill="rgb(42,171,204)" opacity="0.92" transform="translate(275.6,70.4) rotate(-8)"/><ellipse rx="2.7" ry="2.0" fill="rgb(40,129,237)" opacity="0.92" transform="translate(261.6,31.8) rotate(-15)"/><ellipse rx="3.2" ry="1.8" fill="rgb(53,147,211)" opacity="0.92" transform="translate(259.7,100.4) rotate(-7)"/><ellipse rx="2.9" ry="1.9" fill="rgb(45,123,245)" opacity="0.92" transform="translate(243.7,25.4) rotate(5)"/><ellipse rx="3.2" ry="1.9" fill="rgb(53,150,244)" opacity="0.92" transform="translate(304.1,66.1) rotate(-2)"/><ellipse rx="3.0" ry="1.6" fill="rgb(60,142,231)" opacity="0.92" transform="translate(301.3,72.9) rotate(-15)"/><ellipse rx="2.9" ry="2.1" fill="rgb(28,153,232)" opacity="0.92" transform="translate(238.6,25.6) rotate(3)"/><ellipse rx="2.8" ry="1.8" fill="rgb(29,146,242)" opacity="0.92" transform="translate(297.0,49.0) rotate(-4)"/><ellipse rx="3.0" ry="1.8" fill="rgb(39,154,217)" opacity="0.92" transform="translate(237.9,44.9) rotate(8)"/><ellipse rx="3.1" ry="1.8" fill="rgb(41,166,226)" opacity="0.92" transform="translate(235.4,19.1) rotate(-3)"/><ellipse rx="3.0" ry="2.0" fill="rgb(49,124,210)" opacity="0.92" transform="translate(234.1,60.3) rotate(-19)"/><ellipse rx="2.6" ry="2.1" fill="rgb(23,145,202)" opacity="0.92" transform="translate(300.7,77.3) rotate(-4)"/><ellipse rx="3.1" ry="1.9" fill="rgb(41,171,232)" opacity="0.92" transform="translate(236.3,65.3) rotate(-18)"/><ellipse rx="2.8" ry="1.7" fill="rgb(26,162,228)" opacity="0.92" transform="translate(281.1,57.9) rotate(-2)"/><ellipse rx="2.5" ry="1.7" fill="rgb(60,135,231)" opacity="0.92" transform="translate(305.1,73.2) rotate(-1)"/><ellipse rx="2.6" ry="1.7" fill="rgb(24,171,200)" opacity="0.92" transform="translate(295.9,49.3) rotate(-20)"/><ellipse rx="3.1" ry="1.6" fill="rgb(28,161,235)" opacity="0.92" transform="translate(320.7,79.8) rotate(-3)"/><ellipse rx="2.7" ry="1.9" fill="rgb(31,160,228)" opacity="0.92" transform="translate(242.5,60.3) rotate(1)"/><ellipse rx="2.8" ry="1.7" fill="rgb(37,136,226)" opacity="0.92" transform="translate(306.6,35.3) rotate(-17)"/><ellipse rx="2.9" ry="1.8" fill="rgb(41,136,215)" opacity="0.92" transform="translate(317.1,99.6) rotate(-17)"/><ellipse rx="2.7" ry="1.9" fill="rgb(54,145,236)" opacity="0.92" transform="translate(316.5,54.8) rotate(-1)"/><ellipse rx="2.8" ry="2.0" fill="rgb(51,124,214)" opacity="0.92" transform="translate(297.4,67.5) rotate(7)"/><ellipse rx="2.9" ry="1.9" fill="rgb(31,146,231)" opacity="0.92" transform="translate(250.1,94.4) rotate(-6)"/><ellipse rx="2.6" ry="2.1" fill="rgb(57,168,207)" opacity="0.92" transform="translate(275.9,99.2) rotate(-11)"/><ellipse rx="2.9" ry="1.7" fill="rgb(22,150,203)" opacity="0.92" transform="translate(316.7,92.1) rotate(-6)"/><ellipse rx="3.2" ry="1.8" fill="rgb(23,153,223)" opacity="0.92" transform="translate(300.6,101.0) rotate(-14)"/><ellipse rx="2.9" ry="2.0" fill="rgb(45,125,245)" opacity="0.92" transform="translate(258.2,32.8) rotate(-7)"/><ellipse rx="2.8" ry="2.0" fill="rgb(36,175,228)" opacity="0.92" transform="translate(252.5,85.5) rotate(-20)"/><ellipse rx="2.6" ry="1.9" fill="rgb(33,159,210)" opacity="0.92" transform="translate(236.5,31.0) rotate(-3)"/><ellipse rx="3.2" ry="1.9" fill="rgb(50,149,223)" opacity="0.92" transform="translate(282.1,35.5) rotate(-13)"/><ellipse rx="3.0" ry="1.8" fill="rgb(46,123,226)" opacity="0.92" transform="translate(298.7,96.4) rotate(-12)"/><ellipse rx="2.5" ry="2.1" fill="rgb(32,133,231)" opacity="0.92" transform="translate(307.0,82.7) rotate(-9)"/><ellipse rx="3.2" ry="1.9" fill="rgb(40,143,207)" opacity="0.92" transform="translate(264.6,80.4) rotate(1)"/><ellipse rx="2.5" ry="1.7" fill="rgb(42,167,224)" opacity="0.92" transform="translate(252.3,80.3) rotate(-10)"/><ellipse rx="3.0" ry="2.0" fill="rgb(43,122,211)" opacity="0.92" transform="translate(308.1,57.5) rotate(-1)"/><ellipse rx="3.0" ry="1.7" fill="rgb(46,172,242)" opacity="0.92" transform="translate(286.6,79.6) rotate(-4)"/><ellipse rx="2.8" ry="1.6" fill="rgb(54,160,244)" opacity="0.92" transform="translate(239.5,84.1) rotate(-21)"/><ellipse rx="2.7" ry="1.7" fill="rgb(55,167,228)" opacity="0.92" transform="translate(299.4,85.0) rotate(-15)"/><ellipse rx="2.8" ry="1.8" fill="rgb(25,147,209)" opacity="0.92" transform="translate(264.1,41.2) rotate(-4)"/><ellipse rx="2.5" ry="1.9" fill="rgb(60,155,227)" opacity="0.92" transform="translate(252.8,88.2) rotate(-16)"/><ellipse rx="2.7" ry="1.9" fill="rgb(29,149,200)" opacity="0.92" transform="translate(260.5,76.6) rotate(-3)"/><ellipse rx="3.0" ry="1.9" fill="rgb(48,133,206)" opacity="0.92" transform="translate(236.8,48.4) rotate(-11)"/><ellipse rx="2.5" ry="1.6" fill="rgb(38,171,235)" opacity="0.92" transform="translate(308.0,89.7) rotate(-13)"/><ellipse rx="2.9" ry="2.1" fill="rgb(41,129,200)" opacity="0.92" transform="translate(306.7,47.5) rotate(6)"/><ellipse rx="2.8" ry="2.0" fill="rgb(35,156,223)" opacity="0.92" transform="translate(298.0,97.1) rotate(6)"/><ellipse rx="2.8" ry="1.6" fill="rgb(36,164,243)" opacity="0.92" transform="translate(311.3,94.1) rotate(-12)"/><ellipse rx="2.8" ry="1.9" fill="rgb(51,165,242)" opacity="0.92" transform="translate(253.7,35.4) rotate(-0)"/><ellipse cx="272.8" cy="63.2" rx="10.5" ry="1.9" fill="#ee3434" transform="rotate(21 272.8 63.2)"/><ellipse cx="275.9" cy="65.2" rx="4.6" ry="2.3" fill="#ffd4dc" transform="rotate(16 275.9 65.2)"/></g>
</g>
<clipPath id="mc2"><rect x="324.6" y="20.2" width="83.2" height="82.2"/></clipPath>
<rect x="324.60" y="20.20" width="83.20" height="82.20" fill="#010704" stroke="none" stroke-width="0" />
<g clip-path="url(#mc2)">
<g filter="url(#b04)">
<g transform="translate(336.9,70.8) rotate(100)"><ellipse rx="7.5" ry="0.8" fill="rgb(22,116,44)" opacity="0.80"/><ellipse rx="3.4" ry="1.4" fill="rgb(44,232,89)" opacity="0.96"/></g>
<g transform="translate(340.0,85.2) rotate(103)"><ellipse rx="6.8" ry="0.6" fill="rgb(27,96,41)" opacity="0.71"/><ellipse rx="2.9" ry="1.1" fill="rgb(55,193,83)" opacity="0.82"/></g>
<g transform="translate(358.9,59.5) rotate(83)"><ellipse rx="7.1" ry="0.9" fill="rgb(17,110,29)" opacity="0.86"/><ellipse rx="3.4" ry="1.1" fill="rgb(35,220,58)" opacity="0.71"/></g>
<g transform="translate(341.9,68.6) rotate(111)"><ellipse rx="6.5" ry="0.8" fill="rgb(25,112,42)" opacity="0.68"/><ellipse rx="3.5" ry="1.5" fill="rgb(50,225,84)" opacity="0.87"/></g>
<g transform="translate(396.9,76.4) rotate(67)"><ellipse rx="7.6" ry="0.8" fill="rgb(6,116,37)" opacity="0.55"/><ellipse rx="4.3" ry="1.4" fill="rgb(13,232,75)" opacity="0.82"/></g>
<g transform="translate(397.4,45.5) rotate(67)"><ellipse rx="6.8" ry="1.0" fill="rgb(15,96,39)" opacity="0.58"/><ellipse rx="4.0" ry="1.3" fill="rgb(30,192,78)" opacity="0.70"/></g>
<g transform="translate(347.5,29.7) rotate(2)"><ellipse rx="6.0" ry="0.7" fill="rgb(28,101,46)" opacity="0.58"/><ellipse rx="3.5" ry="1.5" fill="rgb(57,203,93)" opacity="0.81"/></g>
<g transform="translate(391.7,88.4) rotate(75)"><ellipse rx="7.9" ry="0.9" fill="rgb(26,107,49)" opacity="0.89"/><ellipse rx="3.2" ry="1.1" fill="rgb(52,214,98)" opacity="0.97"/></g>
<g transform="translate(342.8,73.6) rotate(112)"><ellipse rx="8.2" ry="0.9" fill="rgb(27,100,49)" opacity="0.57"/><ellipse rx="4.3" ry="1.4" fill="rgb(54,200,99)" opacity="0.72"/></g>
<g transform="translate(390.2,77.3) rotate(80)"><ellipse rx="8.2" ry="0.7" fill="rgb(22,104,29)" opacity="0.69"/><ellipse rx="3.9" ry="1.3" fill="rgb(44,208,58)" opacity="0.93"/></g>
<g transform="translate(381.3,85.4) rotate(88)"><ellipse rx="5.9" ry="1.0" fill="rgb(29,88,42)" opacity="0.80"/><ellipse rx="4.2" ry="1.1" fill="rgb(58,176,85)" opacity="0.99"/></g>
<g transform="translate(327.2,61.8) rotate(121)"><ellipse rx="7.1" ry="0.8" fill="rgb(13,94,42)" opacity="0.86"/><ellipse rx="3.2" ry="1.6" fill="rgb(26,188,85)" opacity="0.93"/></g>
<g transform="translate(382.5,30.2) rotate(69)"><ellipse rx="8.2" ry="0.9" fill="rgb(9,109,50)" opacity="0.64"/><ellipse rx="3.9" ry="1.6" fill="rgb(18,218,100)" opacity="0.82"/></g>
<g transform="translate(354.4,99.5) rotate(88)"><ellipse rx="6.7" ry="0.7" fill="rgb(27,116,48)" opacity="0.54"/><ellipse rx="3.0" ry="1.5" fill="rgb(54,233,96)" opacity="0.67"/></g>
<g transform="translate(381.8,101.9) rotate(68)"><ellipse rx="6.6" ry="1.0" fill="rgb(20,86,47)" opacity="0.66"/><ellipse rx="4.1" ry="1.7" fill="rgb(40,172,95)" opacity="0.80"/></g>
<g transform="translate(362.0,51.4) rotate(104)"><ellipse rx="8.4" ry="0.7" fill="rgb(8,95,45)" opacity="0.58"/><ellipse rx="3.3" ry="1.6" fill="rgb(17,190,90)" opacity="0.88"/></g>
<g transform="translate(334.1,65.6) rotate(123)"><ellipse rx="7.9" ry="0.7" fill="rgb(12,117,32)" opacity="0.77"/><ellipse rx="3.6" ry="1.1" fill="rgb(24,234,65)" opacity="0.94"/></g>
<g transform="translate(392.7,76.8) rotate(87)"><ellipse rx="8.4" ry="0.8" fill="rgb(28,93,37)" opacity="0.70"/><ellipse rx="4.3" ry="1.5" fill="rgb(56,186,75)" opacity="0.83"/></g>
<g transform="translate(391.9,22.1) rotate(56)"><ellipse rx="6.8" ry="1.0" fill="rgb(18,87,50)" opacity="0.80"/><ellipse rx="3.2" ry="1.3" fill="rgb(37,175,100)" opacity="0.82"/></g>
<g transform="translate(344.0,98.7) rotate(87)"><ellipse rx="7.4" ry="0.6" fill="rgb(28,85,30)" opacity="0.58"/><ellipse rx="2.8" ry="1.6" fill="rgb(56,170,61)" opacity="0.78"/></g>
<g transform="translate(404.0,47.5) rotate(65)"><ellipse rx="5.5" ry="0.6" fill="rgb(17,114,36)" opacity="0.67"/><ellipse rx="3.6" ry="1.2" fill="rgb(34,228,73)" opacity="0.66"/></g>
<g transform="translate(405.0,22.6) rotate(33)"><ellipse rx="7.7" ry="1.0" fill="rgb(13,97,36)" opacity="0.58"/><ellipse rx="4.3" ry="1.2" fill="rgb(27,195,72)" opacity="0.92"/></g>
<g transform="translate(336.4,97.4) rotate(102)"><ellipse rx="7.3" ry="0.7" fill="rgb(16,100,42)" opacity="0.89"/><ellipse rx="4.2" ry="1.3" fill="rgb(33,201,84)" opacity="0.79"/></g>
<g transform="translate(351.9,32.8) rotate(13)"><ellipse rx="7.0" ry="0.7" fill="rgb(29,97,25)" opacity="0.67"/><ellipse rx="4.4" ry="1.6" fill="rgb(58,195,50)" opacity="0.99"/></g>
<g transform="translate(394.0,63.1) rotate(59)"><ellipse rx="7.1" ry="0.8" fill="rgb(11,92,46)" opacity="0.57"/><ellipse rx="3.7" ry="1.5" fill="rgb(23,185,92)" opacity="0.97"/></g>
<g transform="translate(401.7,36.3) rotate(40)"><ellipse rx="7.5" ry="0.8" fill="rgb(22,93,27)" opacity="0.85"/><ellipse rx="3.4" ry="1.5" fill="rgb(45,187,54)" opacity="0.99"/></g>
<g transform="translate(333.4,81.5) rotate(104)"><ellipse rx="8.4" ry="0.8" fill="rgb(29,97,45)" opacity="0.63"/><ellipse rx="3.0" ry="1.2" fill="rgb(59,195,91)" opacity="0.91"/></g>
<g transform="translate(343.9,60.6) rotate(113)"><ellipse rx="5.7" ry="0.7" fill="rgb(23,101,33)" opacity="0.84"/><ellipse rx="4.1" ry="1.3" fill="rgb(46,202,67)" opacity="0.96"/></g>
<g transform="translate(401.7,95.8) rotate(78)"><ellipse rx="7.4" ry="0.8" fill="rgb(29,117,25)" opacity="0.55"/><ellipse rx="3.0" ry="1.6" fill="rgb(58,235,51)" opacity="0.92"/></g>
<g transform="translate(402.9,100.6) rotate(85)"><ellipse rx="7.0" ry="1.0" fill="rgb(23,113,39)" opacity="0.82"/><ellipse rx="3.7" ry="1.6" fill="rgb(47,226,79)" opacity="0.92"/></g>
<g transform="translate(328.3,96.3) rotate(107)"><ellipse rx="5.7" ry="0.8" fill="rgb(15,113,48)" opacity="0.53"/><ellipse rx="4.3" ry="1.3" fill="rgb(31,226,97)" opacity="0.73"/></g>
<g transform="translate(378.3,86.1) rotate(93)"><ellipse rx="6.7" ry="1.0" fill="rgb(23,114,37)" opacity="0.57"/><ellipse rx="3.2" ry="1.4" fill="rgb(46,229,75)" opacity="0.98"/></g>
<g transform="translate(342.2,23.0) rotate(3)"><ellipse rx="7.3" ry="0.7" fill="rgb(27,119,47)" opacity="0.63"/><ellipse rx="2.8" ry="1.5" fill="rgb(55,239,95)" opacity="0.83"/></g>
<g transform="translate(358.2,71.9) rotate(89)"><ellipse rx="8.4" ry="0.9" fill="rgb(21,82,37)" opacity="0.58"/><ellipse rx="3.3" ry="1.1" fill="rgb(42,165,75)" opacity="0.85"/></g>
<g transform="translate(368.3,74.3) rotate(102)"><ellipse rx="7.3" ry="0.7" fill="rgb(25,97,50)" opacity="0.85"/><ellipse rx="3.5" ry="1.1" fill="rgb(50,194,100)" opacity="1.00"/></g>
<g transform="translate(345.5,77.9) rotate(108)"><ellipse rx="5.1" ry="1.0" fill="rgb(28,90,26)" opacity="0.60"/><ellipse rx="3.4" ry="1.5" fill="rgb(57,180,52)" opacity="0.87"/></g>
<g transform="translate(385.7,41.4) rotate(57)"><ellipse rx="5.7" ry="1.0" fill="rgb(16,105,49)" opacity="0.61"/><ellipse rx="4.1" ry="1.6" fill="rgb(32,211,99)" opacity="0.76"/></g>
<g transform="translate(340.8,71.3) rotate(117)"><ellipse rx="6.2" ry="0.9" fill="rgb(11,109,28)" opacity="0.60"/><ellipse rx="4.0" ry="1.0" fill="rgb(22,218,57)" opacity="0.79"/></g>
<g transform="translate(399.5,80.2) rotate(73)"><ellipse rx="7.2" ry="0.7" fill="rgb(18,96,31)" opacity="0.74"/><ellipse rx="3.7" ry="1.5" fill="rgb(37,192,63)" opacity="0.73"/></g>
<g transform="translate(393.0,25.5) rotate(56)"><ellipse rx="6.8" ry="0.7" fill="rgb(29,100,27)" opacity="0.89"/><ellipse rx="3.2" ry="1.2" fill="rgb(58,200,55)" opacity="0.76"/></g>
<g transform="translate(349.5,100.8) rotate(111)"><ellipse rx="6.3" ry="0.8" fill="rgb(27,82,28)" opacity="0.73"/><ellipse rx="3.5" ry="1.4" fill="rgb(55,165,57)" opacity="0.96"/></g>
<g transform="translate(360.7,72.5) rotate(94)"><ellipse rx="7.1" ry="0.8" fill="rgb(20,115,37)" opacity="0.68"/><ellipse rx="3.1" ry="1.1" fill="rgb(41,230,74)" opacity="0.92"/></g>
<g transform="translate(354.1,52.3) rotate(97)"><ellipse rx="7.0" ry="0.8" fill="rgb(20,94,48)" opacity="0.58"/><ellipse rx="3.8" ry="1.7" fill="rgb(41,189,97)" opacity="0.67"/></g>
<g transform="translate(395.7,50.1) rotate(72)"><ellipse rx="6.1" ry="0.8" fill="rgb(9,110,45)" opacity="0.75"/><ellipse rx="4.0" ry="1.4" fill="rgb(18,220,91)" opacity="0.93"/></g>
<g transform="translate(378.7,49.7) rotate(87)"><ellipse rx="7.6" ry="0.6" fill="rgb(14,82,50)" opacity="0.79"/><ellipse rx="3.4" ry="1.0" fill="rgb(29,165,100)" opacity="0.71"/></g>
<g transform="translate(405.3,35.5) rotate(56)"><ellipse rx="5.9" ry="1.0" fill="rgb(19,83,29)" opacity="0.50"/><ellipse rx="3.6" ry="1.6" fill="rgb(38,167,58)" opacity="0.95"/></g>
<g transform="translate(326.9,77.3) rotate(104)"><ellipse rx="6.6" ry="0.9" fill="rgb(8,83,44)" opacity="0.73"/><ellipse rx="4.2" ry="1.1" fill="rgb(16,166,88)" opacity="0.94"/></g>
<g transform="translate(366.2,91.1) rotate(95)"><ellipse rx="7.0" ry="0.9" fill="rgb(14,102,34)" opacity="0.73"/><ellipse rx="3.4" ry="1.4" fill="rgb(28,204,69)" opacity="0.85"/></g>
<g transform="translate(376.0,81.5) rotate(92)"><ellipse rx="7.3" ry="0.8" fill="rgb(24,107,36)" opacity="0.74"/><ellipse rx="3.7" ry="1.1" fill="rgb(48,215,73)" opacity="0.73"/></g>
<g transform="translate(356.1,91.4) rotate(85)"><ellipse rx="6.9" ry="0.8" fill="rgb(26,114,27)" opacity="0.71"/><ellipse rx="3.6" ry="1.2" fill="rgb(52,229,54)" opacity="0.87"/></g>
<g transform="translate(329.3,70.3) rotate(124)"><ellipse rx="7.5" ry="1.0" fill="rgb(6,85,27)" opacity="0.69"/><ellipse rx="3.8" ry="1.2" fill="rgb(12,170,54)" opacity="0.90"/></g>
<g transform="translate(338.4,23.5) rotate(-2)"><ellipse rx="5.2" ry="0.9" fill="rgb(29,110,26)" opacity="0.87"/><ellipse rx="4.0" ry="1.5" fill="rgb(58,221,53)" opacity="0.98"/></g>
<g transform="translate(397.3,85.2) rotate(86)"><ellipse rx="8.3" ry="0.9" fill="rgb(9,110,43)" opacity="0.54"/><ellipse rx="3.5" ry="1.5" fill="rgb(18,220,87)" opacity="0.85"/></g>
<g transform="translate(340.2,28.7) rotate(12)"><ellipse rx="6.7" ry="0.6" fill="rgb(15,114,40)" opacity="0.88"/><ellipse rx="3.0" ry="1.4" fill="rgb(31,229,80)" opacity="0.92"/></g>
<g transform="translate(398.4,84.5) rotate(59)"><ellipse rx="7.5" ry="0.9" fill="rgb(23,109,35)" opacity="0.62"/><ellipse rx="4.3" ry="1.0" fill="rgb(46,219,71)" opacity="0.84"/></g>
<g transform="translate(382.4,37.2) rotate(71)"><ellipse rx="6.4" ry="0.7" fill="rgb(21,90,42)" opacity="0.60"/><ellipse rx="3.8" ry="1.5" fill="rgb(43,180,85)" opacity="0.89"/></g>
<g transform="translate(335.6,34.2) rotate(25)"><ellipse rx="7.0" ry="0.7" fill="rgb(22,109,37)" opacity="0.72"/><ellipse rx="4.0" ry="1.6" fill="rgb(44,218,75)" opacity="0.83"/></g>
<g transform="translate(347.1,100.7) rotate(100)"><ellipse rx="6.7" ry="0.9" fill="rgb(24,121,30)" opacity="0.84"/><ellipse rx="4.1" ry="1.3" fill="rgb(48,242,60)" opacity="0.71"/></g>
<g transform="translate(383.4,99.4) rotate(77)"><ellipse rx="5.1" ry="0.8" fill="rgb(13,116,41)" opacity="0.72"/><ellipse rx="4.3" ry="1.1" fill="rgb(26,232,83)" opacity="0.78"/></g>
<g transform="translate(354.4,60.6) rotate(108)"><ellipse rx="7.7" ry="0.8" fill="rgb(5,104,25)" opacity="0.62"/><ellipse rx="3.4" ry="1.4" fill="rgb(11,209,51)" opacity="0.67"/></g>
<g transform="translate(325.0,31.8) rotate(4)"><ellipse rx="7.6" ry="0.9" fill="rgb(14,89,39)" opacity="0.50"/><ellipse rx="2.9" ry="1.5" fill="rgb(29,179,79)" opacity="0.80"/></g>
<g transform="translate(340.6,95.2) rotate(106)"><ellipse rx="8.5" ry="0.9" fill="rgb(10,93,30)" opacity="0.51"/><ellipse rx="2.9" ry="1.5" fill="rgb(20,186,60)" opacity="0.89"/></g>
<g transform="translate(347.3,99.6) rotate(90)"><ellipse rx="6.2" ry="0.7" fill="rgb(7,121,38)" opacity="0.69"/><ellipse rx="4.2" ry="1.7" fill="rgb(14,243,77)" opacity="0.67"/></g>
<g transform="translate(338.8,61.6) rotate(122)"><ellipse rx="8.4" ry="0.9" fill="rgb(5,101,43)" opacity="0.80"/><ellipse rx="3.6" ry="1.3" fill="rgb(11,202,87)" opacity="0.98"/></g>
<g transform="translate(398.5,72.8) rotate(78)"><ellipse rx="5.7" ry="0.7" fill="rgb(28,116,31)" opacity="0.85"/><ellipse rx="4.2" ry="1.4" fill="rgb(56,233,62)" opacity="0.69"/></g>
<g transform="translate(349.7,62.3) rotate(113)"><ellipse rx="8.5" ry="0.6" fill="rgb(22,102,43)" opacity="0.57"/><ellipse rx="3.3" ry="1.3" fill="rgb(44,204,87)" opacity="0.96"/></g>
<g transform="translate(404.4,75.6) rotate(54)"><ellipse rx="5.9" ry="0.7" fill="rgb(19,99,29)" opacity="0.57"/><ellipse rx="3.1" ry="1.2" fill="rgb(38,199,59)" opacity="0.75"/></g>
<g transform="translate(325.6,36.1) rotate(9)"><ellipse rx="6.9" ry="0.9" fill="rgb(22,94,33)" opacity="0.59"/><ellipse rx="3.8" ry="1.6" fill="rgb(45,189,67)" opacity="0.74"/></g>
<g transform="translate(379.9,48.3) rotate(90)"><ellipse rx="7.7" ry="0.8" fill="rgb(18,109,46)" opacity="0.52"/><ellipse rx="4.2" ry="1.6" fill="rgb(37,219,92)" opacity="0.69"/></g>
<g transform="translate(346.7,22.6) rotate(21)"><ellipse rx="5.9" ry="0.6" fill="rgb(13,88,41)" opacity="0.64"/><ellipse rx="3.9" ry="1.3" fill="rgb(27,177,83)" opacity="0.93"/></g>
<g transform="translate(351.2,66.6) rotate(101)"><ellipse rx="7.0" ry="0.6" fill="rgb(27,88,25)" opacity="0.53"/><ellipse rx="3.4" ry="1.1" fill="rgb(55,177,50)" opacity="0.89"/></g>
<g transform="translate(400.2,27.0) rotate(30)"><ellipse rx="6.1" ry="0.8" fill="rgb(26,90,38)" opacity="0.61"/><ellipse rx="3.4" ry="1.1" fill="rgb(53,180,77)" opacity="0.83"/></g>
<g transform="translate(334.3,87.9) rotate(120)"><ellipse rx="8.4" ry="0.6" fill="rgb(19,94,44)" opacity="0.86"/><ellipse rx="4.4" ry="1.1" fill="rgb(39,188,88)" opacity="0.81"/></g>
<g transform="translate(361.1,85.5) rotate(86)"><ellipse rx="7.8" ry="0.7" fill="rgb(15,99,30)" opacity="0.66"/><ellipse rx="2.8" ry="1.6" fill="rgb(31,199,60)" opacity="0.74"/></g>
<g transform="translate(383.8,21.4) rotate(44)"><ellipse rx="7.3" ry="0.9" fill="rgb(8,114,32)" opacity="0.81"/><ellipse rx="3.2" ry="1.0" fill="rgb(17,228,65)" opacity="0.81"/></g>
<g transform="translate(390.2,39.4) rotate(69)"><ellipse rx="6.3" ry="0.6" fill="rgb(28,90,35)" opacity="0.77"/><ellipse rx="3.4" ry="1.6" fill="rgb(57,181,71)" opacity="0.76"/></g>
<g transform="translate(331.0,63.8) rotate(112)"><ellipse rx="5.8" ry="0.9" fill="rgb(5,114,35)" opacity="0.85"/><ellipse rx="3.6" ry="1.5" fill="rgb(11,229,71)" opacity="0.66"/></g>
<g transform="translate(399.9,50.2) rotate(47)"><ellipse rx="7.0" ry="0.7" fill="rgb(11,108,40)" opacity="0.72"/><ellipse rx="4.3" ry="1.0" fill="rgb(22,216,81)" opacity="0.94"/></g>
<g transform="translate(329.8,100.2) rotate(118)"><ellipse rx="6.5" ry="0.8" fill="rgb(22,89,29)" opacity="0.67"/><ellipse rx="3.4" ry="1.6" fill="rgb(44,178,58)" opacity="0.96"/></g>
<g transform="translate(398.6,21.1) rotate(39)"><ellipse rx="7.3" ry="0.9" fill="rgb(23,93,49)" opacity="0.82"/><ellipse rx="4.3" ry="1.3" fill="rgb(46,187,99)" opacity="0.94"/></g>
<g transform="translate(394.8,70.4) rotate(57)"><ellipse rx="5.6" ry="0.6" fill="rgb(9,122,25)" opacity="0.60"/><ellipse rx="3.5" ry="1.5" fill="rgb(18,244,50)" opacity="0.80"/></g>
<g transform="translate(329.1,86.0) rotate(103)"><ellipse rx="5.2" ry="0.9" fill="rgb(12,114,27)" opacity="0.83"/><ellipse rx="3.6" ry="1.4" fill="rgb(25,229,54)" opacity="0.78"/></g>
<g transform="translate(347.4,66.8) rotate(103)"><ellipse rx="7.1" ry="0.9" fill="rgb(20,92,33)" opacity="0.73"/><ellipse rx="4.2" ry="1.5" fill="rgb(40,185,66)" opacity="0.70"/></g>
<g transform="translate(382.0,42.1) rotate(81)"><ellipse rx="8.4" ry="1.0" fill="rgb(25,83,49)" opacity="0.52"/><ellipse rx="3.0" ry="1.3" fill="rgb(51,167,99)" opacity="0.98"/></g>
<g transform="translate(330.9,88.9) rotate(120)"><ellipse rx="6.2" ry="0.8" fill="rgb(27,105,29)" opacity="0.65"/><ellipse rx="3.0" ry="1.4" fill="rgb(55,210,58)" opacity="0.75"/></g>
<g transform="translate(389.6,39.4) rotate(55)"><ellipse rx="7.1" ry="0.8" fill="rgb(6,101,48)" opacity="0.65"/><ellipse rx="4.3" ry="1.1" fill="rgb(12,203,96)" opacity="0.91"/></g>
<g transform="translate(401.0,90.1) rotate(86)"><ellipse rx="6.2" ry="0.8" fill="rgb(13,112,49)" opacity="0.52"/><ellipse rx="3.4" ry="1.6" fill="rgb(26,224,98)" opacity="0.78"/></g>
<g transform="translate(352.6,69.6) rotate(114)"><ellipse rx="6.8" ry="0.7" fill="rgb(25,84,44)" opacity="0.54"/><ellipse rx="4.1" ry="1.3" fill="rgb(51,168,88)" opacity="0.68"/></g>
<g transform="translate(385.8,58.9) rotate(78)"><ellipse rx="8.1" ry="0.7" fill="rgb(7,101,48)" opacity="0.80"/><ellipse rx="3.4" ry="1.5" fill="rgb(15,202,97)" opacity="0.75"/></g>
<g transform="translate(342.6,59.6) rotate(118)"><ellipse rx="7.2" ry="0.8" fill="rgb(8,110,35)" opacity="0.77"/><ellipse rx="3.0" ry="1.3" fill="rgb(16,221,70)" opacity="0.96"/></g>
<g transform="translate(354.6,99.8) rotate(99)"><ellipse rx="6.6" ry="0.8" fill="rgb(11,118,36)" opacity="0.74"/><ellipse rx="4.1" ry="1.5" fill="rgb(22,236,73)" opacity="0.73"/></g>
<g transform="translate(398.0,89.8) rotate(83)"><ellipse rx="8.2" ry="0.6" fill="rgb(15,93,47)" opacity="0.72"/><ellipse rx="3.1" ry="1.5" fill="rgb(30,187,95)" opacity="0.71"/></g>
<g transform="translate(332.6,95.3) rotate(109)"><ellipse rx="7.1" ry="1.0" fill="rgb(11,94,34)" opacity="0.78"/><ellipse rx="2.8" ry="1.6" fill="rgb(23,189,68)" opacity="0.77"/></g>
<g transform="translate(406.7,62.7) rotate(57)"><ellipse rx="8.0" ry="0.9" fill="rgb(5,105,35)" opacity="0.77"/><ellipse rx="3.8" ry="1.5" fill="rgb(11,210,71)" opacity="1.00"/></g>
<g transform="translate(383.4,66.9) rotate(66)"><ellipse rx="6.8" ry="0.8" fill="rgb(20,104,37)" opacity="0.82"/><ellipse rx="3.1" ry="1.2" fill="rgb(40,208,75)" opacity="0.87"/></g>
<g transform="translate(402.3,95.4) rotate(76)"><ellipse rx="5.6" ry="0.6" fill="rgb(13,114,31)" opacity="0.64"/><ellipse rx="3.7" ry="1.1" fill="rgb(26,228,63)" opacity="0.87"/></g>
<g transform="translate(383.9,97.7) rotate(81)"><ellipse rx="8.1" ry="0.7" fill="rgb(13,121,40)" opacity="0.65"/><ellipse rx="3.7" ry="1.2" fill="rgb(27,242,81)" opacity="0.94"/></g>
<g transform="translate(407.3,68.6) rotate(51)"><ellipse rx="8.4" ry="1.0" fill="rgb(6,92,33)" opacity="0.71"/><ellipse rx="3.9" ry="1.2" fill="rgb(13,184,66)" opacity="0.95"/></g>
<g transform="translate(386.4,53.1) rotate(62)"><ellipse rx="5.9" ry="0.8" fill="rgb(15,121,36)" opacity="0.71"/><ellipse rx="3.9" ry="1.2" fill="rgb(31,243,72)" opacity="0.85"/></g>
<g transform="translate(340.8,49.3) rotate(103)"><ellipse rx="6.0" ry="0.7" fill="rgb(15,84,36)" opacity="0.70"/><ellipse rx="4.1" ry="1.6" fill="rgb(30,169,72)" opacity="0.88"/></g>
<g transform="translate(382.5,40.8) rotate(62)"><ellipse rx="8.2" ry="0.7" fill="rgb(5,100,41)" opacity="0.52"/><ellipse rx="2.9" ry="1.3" fill="rgb(11,201,83)" opacity="0.82"/></g>
<g transform="translate(352.0,33.0) rotate(16)"><ellipse rx="7.9" ry="1.0" fill="rgb(6,99,40)" opacity="0.76"/><ellipse rx="3.8" ry="1.2" fill="rgb(13,199,81)" opacity="0.87"/></g>
<g transform="translate(401.1,49.2) rotate(48)"><ellipse rx="7.6" ry="0.7" fill="rgb(26,105,40)" opacity="0.89"/><ellipse rx="3.5" ry="1.6" fill="rgb(53,211,81)" opacity="0.67"/></g>
<g transform="translate(398.3,72.4) rotate(68)"><ellipse rx="8.4" ry="0.9" fill="rgb(23,89,35)" opacity="0.52"/><ellipse rx="4.3" ry="1.0" fill="rgb(47,179,71)" opacity="0.90"/></g>
<g transform="translate(358.7,43.6) rotate(94)"><ellipse rx="7.4" ry="0.7" fill="rgb(9,118,45)" opacity="0.80"/><ellipse rx="3.1" ry="1.1" fill="rgb(18,237,91)" opacity="0.74"/></g>
<g transform="translate(352.6,51.3) rotate(96)"><ellipse rx="7.2" ry="0.8" fill="rgb(29,112,34)" opacity="0.86"/><ellipse rx="3.7" ry="1.3" fill="rgb(58,224,68)" opacity="0.75"/></g>
<g transform="translate(369.8,30.4) rotate(92)"><ellipse rx="5.7" ry="1.0" fill="rgb(17,115,37)" opacity="0.64"/><ellipse rx="4.0" ry="1.4" fill="rgb(35,231,74)" opacity="0.77"/></g>
<g transform="translate(333.4,93.7) rotate(100)"><ellipse rx="5.5" ry="0.8" fill="rgb(6,122,34)" opacity="0.84"/><ellipse rx="3.2" ry="1.6" fill="rgb(12,245,68)" opacity="0.83"/></g>
<g transform="translate(329.3,24.1) rotate(6)"><ellipse rx="7.6" ry="0.9" fill="rgb(27,117,25)" opacity="0.57"/><ellipse rx="3.6" ry="1.1" fill="rgb(55,234,51)" opacity="0.82"/></g>
<g transform="translate(360.5,85.4) rotate(105)"><ellipse rx="8.2" ry="0.6" fill="rgb(20,107,31)" opacity="0.89"/><ellipse rx="3.3" ry="1.5" fill="rgb(40,214,62)" opacity="0.71"/></g>
<g transform="translate(355.5,77.3) rotate(85)"><ellipse rx="7.3" ry="0.9" fill="rgb(19,84,31)" opacity="0.82"/><ellipse rx="3.6" ry="1.3" fill="rgb(39,168,62)" opacity="0.76"/></g>
<g transform="translate(336.9,90.2) rotate(108)"><ellipse rx="7.5" ry="0.6" fill="rgb(12,115,35)" opacity="0.75"/><ellipse rx="3.2" ry="1.3" fill="rgb(25,231,70)" opacity="0.69"/></g>
<g transform="translate(399.8,65.1) rotate(74)"><ellipse rx="7.1" ry="0.9" fill="rgb(22,116,32)" opacity="0.65"/><ellipse rx="4.3" ry="1.1" fill="rgb(45,233,65)" opacity="0.96"/></g>
<g transform="translate(342.2,69.3) rotate(119)"><ellipse rx="7.2" ry="0.9" fill="rgb(10,121,41)" opacity="0.52"/><ellipse rx="3.1" ry="1.6" fill="rgb(21,242,82)" opacity="0.97"/></g>
<g transform="translate(345.5,55.7) rotate(105)"><ellipse rx="7.1" ry="0.9" fill="rgb(28,88,43)" opacity="0.61"/><ellipse rx="4.2" ry="1.1" fill="rgb(56,177,87)" opacity="0.79"/></g>
<g transform="translate(399.3,56.0) rotate(59)"><ellipse rx="7.0" ry="0.9" fill="rgb(5,89,44)" opacity="0.66"/><ellipse rx="3.3" ry="1.3" fill="rgb(11,179,89)" opacity="0.74"/></g>
<g transform="translate(329.3,72.0) rotate(124)"><ellipse rx="6.2" ry="0.7" fill="rgb(18,86,42)" opacity="0.90"/><ellipse rx="3.1" ry="1.0" fill="rgb(36,172,85)" opacity="0.66"/></g>
<g transform="translate(327.8,63.9) rotate(116)"><ellipse rx="6.9" ry="0.6" fill="rgb(29,85,27)" opacity="0.82"/><ellipse rx="3.2" ry="1.4" fill="rgb(58,171,55)" opacity="0.65"/></g>
<g transform="translate(334.3,69.4) rotate(123)"><ellipse rx="5.8" ry="0.9" fill="rgb(13,117,44)" opacity="0.70"/><ellipse rx="3.9" ry="1.4" fill="rgb(26,235,88)" opacity="0.96"/></g>
<g transform="translate(342.5,93.8) rotate(89)"><ellipse rx="5.6" ry="0.6" fill="rgb(15,96,26)" opacity="0.88"/><ellipse rx="4.1" ry="1.7" fill="rgb(30,192,52)" opacity="0.95"/></g>
<g transform="translate(382.1,38.4) rotate(59)"><ellipse rx="7.6" ry="0.7" fill="rgb(19,105,25)" opacity="0.84"/><ellipse rx="4.1" ry="1.1" fill="rgb(39,211,50)" opacity="0.67"/></g>
<g transform="translate(360.5,49.2) rotate(81)"><ellipse rx="8.4" ry="0.7" fill="rgb(15,115,36)" opacity="0.65"/><ellipse rx="3.1" ry="1.4" fill="rgb(31,230,73)" opacity="0.99"/></g>
<g transform="translate(379.3,41.9) rotate(68)"><ellipse rx="7.0" ry="0.8" fill="rgb(23,101,48)" opacity="0.66"/><ellipse rx="2.9" ry="1.2" fill="rgb(47,203,96)" opacity="0.92"/></g>
<g transform="translate(358.5,98.0) rotate(104)"><ellipse rx="5.4" ry="0.8" fill="rgb(11,87,29)" opacity="0.52"/><ellipse rx="4.3" ry="1.4" fill="rgb(22,175,59)" opacity="0.78"/></g>
<g transform="translate(384.2,33.8) rotate(79)"><ellipse rx="6.7" ry="0.9" fill="rgb(17,116,43)" opacity="0.70"/><ellipse rx="4.4" ry="1.6" fill="rgb(34,232,86)" opacity="0.99"/></g>
<g transform="translate(351.4,90.7) rotate(92)"><ellipse rx="7.8" ry="0.7" fill="rgb(21,99,43)" opacity="0.86"/><ellipse rx="3.5" ry="1.3" fill="rgb(43,198,86)" opacity="0.95"/></g>
<g transform="translate(401.6,67.8) rotate(70)"><ellipse rx="7.0" ry="0.7" fill="rgb(5,109,29)" opacity="0.75"/><ellipse rx="3.5" ry="1.1" fill="rgb(10,218,58)" opacity="0.74"/></g>
<g transform="translate(337.3,25.1) rotate(-12)"><ellipse rx="6.2" ry="0.9" fill="rgb(17,120,30)" opacity="0.67"/><ellipse rx="4.1" ry="1.6" fill="rgb(35,241,60)" opacity="0.86"/></g>
<g transform="translate(328.3,66.8) rotate(103)"><ellipse rx="7.5" ry="0.8" fill="rgb(8,100,39)" opacity="0.74"/><ellipse rx="3.6" ry="1.4" fill="rgb(17,200,78)" opacity="0.97"/></g>
<g transform="translate(361.2,81.2) rotate(94)"><ellipse rx="6.8" ry="0.9" fill="rgb(17,115,34)" opacity="0.65"/><ellipse rx="3.5" ry="1.2" fill="rgb(35,230,68)" opacity="0.79"/></g>
<g transform="translate(349.4,71.6) rotate(113)"><ellipse rx="8.0" ry="1.0" fill="rgb(22,104,29)" opacity="0.72"/><ellipse rx="4.4" ry="1.5" fill="rgb(44,208,59)" opacity="0.71"/></g>
<g transform="translate(361.0,51.7) rotate(93)"><ellipse rx="7.4" ry="0.8" fill="rgb(29,94,40)" opacity="0.57"/><ellipse rx="3.3" ry="1.3" fill="rgb(59,189,80)" opacity="0.78"/></g>
<g transform="translate(368.3,63.2) rotate(94)"><ellipse rx="6.6" ry="0.8" fill="rgb(10,118,33)" opacity="0.50"/><ellipse rx="3.3" ry="1.2" fill="rgb(21,236,67)" opacity="0.96"/></g>
<g transform="translate(384.7,70.3) rotate(77)"><ellipse rx="5.0" ry="0.7" fill="rgb(26,87,41)" opacity="0.61"/><ellipse rx="3.9" ry="1.5" fill="rgb(53,174,83)" opacity="0.74"/></g>
<g transform="translate(344.7,75.7) rotate(114)"><ellipse rx="7.3" ry="0.8" fill="rgb(21,112,48)" opacity="0.81"/><ellipse rx="4.3" ry="1.3" fill="rgb(42,225,97)" opacity="0.94"/></g>
<g transform="translate(369.7,93.8) rotate(88)"><ellipse rx="7.3" ry="0.7" fill="rgb(17,94,38)" opacity="0.81"/><ellipse rx="3.0" ry="1.4" fill="rgb(35,189,77)" opacity="0.99"/></g>
<g transform="translate(401.2,63.4) rotate(63)"><ellipse rx="7.6" ry="0.6" fill="rgb(16,85,33)" opacity="0.50"/><ellipse rx="3.2" ry="1.1" fill="rgb(33,170,66)" opacity="0.76"/></g>
<g transform="translate(347.2,73.3) rotate(98)"><ellipse rx="6.1" ry="0.8" fill="rgb(17,122,45)" opacity="0.68"/><ellipse rx="4.0" ry="1.0" fill="rgb(34,245,91)" opacity="0.93"/></g>
<g transform="translate(381.6,89.5) rotate(77)"><ellipse rx="5.4" ry="0.8" fill="rgb(28,82,41)" opacity="0.68"/><ellipse rx="3.2" ry="1.6" fill="rgb(56,165,83)" opacity="0.88"/></g>
<g transform="translate(373.2,64.9) rotate(95)"><ellipse rx="7.8" ry="0.8" fill="rgb(16,107,35)" opacity="0.64"/><ellipse rx="3.1" ry="1.1" fill="rgb(32,215,70)" opacity="0.98"/></g>
<g transform="translate(381.4,42.4) rotate(83)"><ellipse rx="6.7" ry="1.0" fill="rgb(29,97,38)" opacity="0.76"/><ellipse rx="3.9" ry="1.1" fill="rgb(58,194,77)" opacity="0.68"/></g>
<g transform="translate(327.8,32.3) rotate(28)"><ellipse rx="7.8" ry="0.8" fill="rgb(17,98,43)" opacity="0.89"/><ellipse rx="3.3" ry="1.6" fill="rgb(34,197,87)" opacity="0.79"/></g>
<g transform="translate(340.2,60.7) rotate(98)"><ellipse rx="7.2" ry="0.9" fill="rgb(6,111,34)" opacity="0.58"/><ellipse rx="2.8" ry="1.2" fill="rgb(13,222,68)" opacity="0.73"/></g>
<g transform="translate(349.2,32.8) rotate(-2)"><ellipse rx="8.2" ry="1.0" fill="rgb(12,117,25)" opacity="0.86"/><ellipse rx="4.4" ry="1.0" fill="rgb(25,234,51)" opacity="0.70"/></g>
<g transform="translate(334.5,42.3) rotate(29)"><ellipse rx="7.2" ry="0.8" fill="rgb(8,88,29)" opacity="0.81"/><ellipse rx="3.3" ry="1.1" fill="rgb(17,177,58)" opacity="0.66"/></g>
<g transform="translate(380.7,50.9) rotate(81)"><ellipse rx="8.1" ry="0.9" fill="rgb(6,102,49)" opacity="0.83"/><ellipse rx="4.0" ry="1.5" fill="rgb(13,204,99)" opacity="0.69"/></g>
<g transform="translate(366.5,86.7) rotate(84)"><ellipse rx="7.8" ry="0.8" fill="rgb(16,105,46)" opacity="0.84"/><ellipse rx="3.0" ry="1.2" fill="rgb(32,211,93)" opacity="0.68"/></g>
<g transform="translate(373.8,27.6) rotate(88)"><ellipse rx="6.2" ry="0.7" fill="rgb(13,98,45)" opacity="0.71"/><ellipse rx="3.7" ry="1.6" fill="rgb(27,196,90)" opacity="0.73"/></g>
<g transform="translate(338.6,51.8) rotate(104)"><ellipse rx="6.1" ry="0.7" fill="rgb(5,121,30)" opacity="0.62"/><ellipse rx="3.5" ry="1.4" fill="rgb(10,242,60)" opacity="0.89"/></g>
<g transform="translate(377.7,35.9) rotate(65)"><ellipse rx="7.8" ry="0.8" fill="rgb(15,101,38)" opacity="0.74"/><ellipse rx="3.0" ry="1.3" fill="rgb(30,203,77)" opacity="0.91"/></g>
<g transform="translate(357.6,31.6) rotate(99)"><ellipse rx="6.9" ry="0.9" fill="rgb(9,103,27)" opacity="0.82"/><ellipse rx="3.7" ry="1.2" fill="rgb(18,206,55)" opacity="0.77"/></g>
<g transform="translate(330.5,46.1) rotate(34)"><ellipse rx="7.9" ry="1.0" fill="rgb(19,102,47)" opacity="0.55"/><ellipse rx="4.4" ry="1.5" fill="rgb(39,204,95)" opacity="0.82"/></g>
<g transform="translate(344.6,37.6) rotate(-15)"><ellipse rx="8.5" ry="0.7" fill="rgb(12,119,37)" opacity="0.89"/><ellipse rx="3.3" ry="1.3" fill="rgb(25,238,74)" opacity="0.73"/></g>
<g transform="translate(392.0,21.2) rotate(58)"><ellipse rx="6.7" ry="0.7" fill="rgb(9,87,49)" opacity="0.79"/><ellipse rx="3.7" ry="1.2" fill="rgb(19,174,99)" opacity="0.71"/></g>
<g transform="translate(375.8,44.7) rotate(88)"><ellipse rx="5.7" ry="0.9" fill="rgb(7,113,40)" opacity="0.83"/><ellipse rx="3.5" ry="1.3" fill="rgb(14,226,81)" opacity="0.88"/></g>
<g transform="translate(363.9,80.0) rotate(103)"><ellipse rx="8.2" ry="0.8" fill="rgb(29,93,47)" opacity="0.61"/><ellipse rx="3.7" ry="1.6" fill="rgb(59,187,95)" opacity="0.71"/></g>
<g transform="translate(404.0,33.0) rotate(45)"><ellipse rx="6.9" ry="0.7" fill="rgb(16,114,38)" opacity="0.82"/><ellipse rx="3.9" ry="1.2" fill="rgb(32,228,76)" opacity="0.79"/></g>
<g transform="translate(399.5,50.4) rotate(53)"><ellipse rx="5.4" ry="0.7" fill="rgb(16,88,32)" opacity="0.60"/><ellipse rx="2.9" ry="1.6" fill="rgb(33,177,64)" opacity="0.94"/></g>
<g transform="translate(400.5,35.2) rotate(63)"><ellipse rx="6.2" ry="1.0" fill="rgb(24,100,41)" opacity="0.84"/><ellipse rx="4.1" ry="1.5" fill="rgb(49,201,83)" opacity="0.92"/></g>
<g transform="translate(345.3,59.4) rotate(95)"><ellipse rx="5.2" ry="0.8" fill="rgb(11,113,42)" opacity="0.74"/><ellipse rx="4.2" ry="1.5" fill="rgb(23,227,85)" opacity="0.74"/></g>
<g transform="translate(342.7,51.2) rotate(112)"><ellipse rx="8.2" ry="0.7" fill="rgb(20,89,28)" opacity="0.55"/><ellipse rx="2.9" ry="1.5" fill="rgb(40,179,57)" opacity="0.67"/></g>
<g transform="translate(396.7,88.1) rotate(58)"><ellipse rx="5.7" ry="0.8" fill="rgb(13,92,43)" opacity="0.60"/><ellipse rx="3.6" ry="1.0" fill="rgb(26,185,86)" opacity="0.95"/></g>
<g transform="translate(346.7,57.0) rotate(116)"><ellipse rx="5.4" ry="0.8" fill="rgb(22,100,42)" opacity="0.88"/><ellipse rx="3.8" ry="1.0" fill="rgb(44,200,85)" opacity="0.82"/></g>
<g transform="translate(335.6,53.9) rotate(119)"><ellipse rx="7.9" ry="0.8" fill="rgb(23,86,41)" opacity="0.58"/><ellipse rx="3.9" ry="1.6" fill="rgb(47,173,83)" opacity="0.98"/></g>
<g transform="translate(338.9,70.0) rotate(106)"><ellipse rx="6.1" ry="0.6" fill="rgb(22,100,43)" opacity="0.74"/><ellipse rx="3.4" ry="1.6" fill="rgb(45,200,86)" opacity="0.91"/></g>
<g transform="translate(399.1,93.9) rotate(78)"><ellipse rx="7.3" ry="0.7" fill="rgb(13,115,33)" opacity="0.83"/><ellipse rx="3.1" ry="1.4" fill="rgb(27,230,66)" opacity="0.76"/></g>
<g transform="translate(360.6,71.2) rotate(99)"><ellipse rx="6.2" ry="0.9" fill="rgb(18,84,48)" opacity="0.50"/><ellipse rx="2.9" ry="1.3" fill="rgb(36,168,97)" opacity="0.91"/></g>
<g transform="translate(350.0,47.2) rotate(31)"><ellipse rx="8.1" ry="0.9" fill="rgb(13,92,45)" opacity="0.74"/><ellipse rx="3.2" ry="1.6" fill="rgb(26,185,90)" opacity="0.67"/></g>
<g transform="translate(376.7,78.2) rotate(98)"><ellipse rx="5.5" ry="0.8" fill="rgb(7,119,45)" opacity="0.62"/><ellipse rx="3.7" ry="1.1" fill="rgb(15,238,90)" opacity="0.79"/></g>
<g transform="translate(375.5,84.7) rotate(92)"><ellipse rx="8.4" ry="0.9" fill="rgb(8,109,34)" opacity="0.62"/><ellipse rx="4.2" ry="1.5" fill="rgb(17,218,68)" opacity="0.83"/></g>
<g transform="translate(347.1,92.2) rotate(101)"><ellipse rx="5.4" ry="0.9" fill="rgb(19,108,42)" opacity="0.58"/><ellipse rx="4.2" ry="1.6" fill="rgb(38,216,85)" opacity="0.78"/></g>
<g transform="translate(405.2,25.2) rotate(24)"><ellipse rx="7.3" ry="0.6" fill="rgb(15,119,41)" opacity="0.87"/><ellipse rx="3.3" ry="1.5" fill="rgb(30,238,82)" opacity="0.83"/></g>
<g transform="translate(398.2,76.2) rotate(59)"><ellipse rx="7.6" ry="0.7" fill="rgb(10,107,32)" opacity="0.81"/><ellipse rx="3.2" ry="1.7" fill="rgb(20,215,65)" opacity="0.97"/></g>
<g transform="translate(386.7,51.9) rotate(57)"><ellipse rx="7.1" ry="0.9" fill="rgb(5,87,46)" opacity="0.87"/><ellipse rx="3.3" ry="1.5" fill="rgb(11,174,93)" opacity="0.84"/></g>
<g transform="translate(351.1,98.8) rotate(99)"><ellipse rx="6.0" ry="0.9" fill="rgb(28,112,49)" opacity="0.67"/><ellipse rx="4.4" ry="1.4" fill="rgb(56,225,99)" opacity="0.72"/></g>
<g transform="translate(336.6,83.7) rotate(98)"><ellipse rx="6.4" ry="0.7" fill="rgb(11,120,28)" opacity="0.71"/><ellipse rx="3.5" ry="1.3" fill="rgb(23,241,57)" opacity="0.77"/></g>
<g transform="translate(406.4,80.6) rotate(69)"><ellipse rx="7.8" ry="0.6" fill="rgb(16,120,44)" opacity="0.58"/><ellipse rx="3.5" ry="1.6" fill="rgb(33,241,89)" opacity="0.79"/></g>
<g transform="translate(374.7,39.4) rotate(81)"><ellipse rx="6.1" ry="1.0" fill="rgb(20,102,36)" opacity="0.84"/><ellipse rx="4.1" ry="1.6" fill="rgb(41,204,72)" opacity="0.91"/></g>
<g transform="translate(351.5,85.3) rotate(98)"><ellipse rx="5.9" ry="0.7" fill="rgb(11,98,46)" opacity="0.84"/><ellipse rx="3.0" ry="1.4" fill="rgb(23,197,93)" opacity="0.85"/></g>
<g transform="translate(373.4,49.2) rotate(81)"><ellipse rx="5.0" ry="0.9" fill="rgb(12,121,46)" opacity="0.65"/><ellipse rx="3.2" ry="1.7" fill="rgb(24,242,92)" opacity="0.82"/></g>
<g transform="translate(362.9,36.6) rotate(85)"><ellipse rx="6.0" ry="0.7" fill="rgb(13,101,47)" opacity="0.52"/><ellipse rx="3.1" ry="1.6" fill="rgb(26,203,94)" opacity="0.67"/></g>
<g transform="translate(358.4,62.7) rotate(108)"><ellipse rx="5.6" ry="0.7" fill="rgb(15,88,32)" opacity="0.80"/><ellipse rx="4.0" ry="1.6" fill="rgb(31,177,64)" opacity="0.83"/></g>
<g transform="translate(407.0,22.9) rotate(47)"><ellipse rx="6.9" ry="0.7" fill="rgb(26,83,43)" opacity="0.58"/><ellipse rx="4.3" ry="1.3" fill="rgb(53,166,86)" opacity="0.71"/></g>
<g transform="translate(331.7,76.0) rotate(109)"><ellipse rx="7.8" ry="0.7" fill="rgb(15,111,33)" opacity="0.89"/><ellipse rx="3.1" ry="1.1" fill="rgb(30,222,67)" opacity="0.88"/></g>
<g transform="translate(363.1,100.5) rotate(78)"><ellipse rx="8.3" ry="0.8" fill="rgb(19,85,41)" opacity="0.52"/><ellipse rx="2.8" ry="1.4" fill="rgb(38,171,82)" opacity="0.81"/></g>
<g transform="translate(367.0,75.8) rotate(101)"><ellipse rx="6.4" ry="0.8" fill="rgb(23,99,37)" opacity="0.54"/><ellipse rx="4.0" ry="1.4" fill="rgb(47,198,75)" opacity="0.88"/></g>
<g transform="translate(401.3,66.5) rotate(73)"><ellipse rx="6.0" ry="0.8" fill="rgb(24,101,48)" opacity="0.69"/><ellipse rx="3.0" ry="1.1" fill="rgb(49,203,97)" opacity="0.69"/></g>
<g transform="translate(376.0,61.2) rotate(69)"><ellipse rx="5.0" ry="0.7" fill="rgb(20,117,39)" opacity="0.69"/><ellipse rx="3.4" ry="1.2" fill="rgb(40,235,78)" opacity="1.00"/></g>
</g>
<rect x="324.6" y="20.2" width="83.2" height="82.2" filter="url(#grain2)"/>
<g filter="url(#b04)"><ellipse rx="1.7" ry="1.1" fill="rgb(33,107,202)" opacity="0.92" transform="translate(336.9,70.8) rotate(100)"/><ellipse rx="1.7" ry="1.1" fill="rgb(33,98,232)" opacity="0.92" transform="translate(340.0,85.2) rotate(103)"/><ellipse rx="1.7" ry="1.1" fill="rgb(28,117,238)" opacity="0.92" transform="translate(358.9,59.5) rotate(83)"/><ellipse rx="1.7" ry="1.1" fill="rgb(43,87,220)" opacity="0.92" transform="translate(341.9,68.6) rotate(111)"/><ellipse rx="1.7" ry="1.1" fill="rgb(32,123,223)" opacity="0.92" transform="translate(396.9,76.4) rotate(67)"/><ellipse rx="1.7" ry="1.1" fill="rgb(43,130,211)" opacity="0.92" transform="translate(397.4,45.5) rotate(67)"/><ellipse rx="1.7" ry="1.1" fill="rgb(28,82,243)" opacity="0.92" transform="translate(347.5,29.7) rotate(2)"/><ellipse rx="1.7" ry="1.1" fill="rgb(20,127,245)" opacity="0.92" transform="translate(391.7,88.4) rotate(75)"/><ellipse rx="1.7" ry="1.1" fill="rgb(30,77,210)" opacity="0.92" transform="translate(342.8,73.6) rotate(112)"/><ellipse rx="1.7" ry="1.1" fill="rgb(38,126,204)" opacity="0.92" transform="translate(390.2,77.3) rotate(80)"/><ellipse rx="1.7" ry="1.1" fill="rgb(30,82,204)" opacity="0.92" transform="translate(381.3,85.4) rotate(88)"/><ellipse rx="1.7" ry="1.1" fill="rgb(43,118,244)" opacity="0.92" transform="translate(327.2,61.8) rotate(121)"/><ellipse rx="1.7" ry="1.1" fill="rgb(27,84,240)" opacity="0.92" transform="translate(382.5,30.2) rotate(69)"/><ellipse rx="1.7" ry="1.1" fill="rgb(25,92,231)" opacity="0.92" transform="translate(354.4,99.5) rotate(88)"/><ellipse rx="1.7" ry="1.1" fill="rgb(31,116,201)" opacity="0.92" transform="translate(381.8,101.9) rotate(68)"/><ellipse rx="1.7" ry="1.1" fill="rgb(38,122,244)" opacity="0.92" transform="translate(362.0,51.4) rotate(104)"/><ellipse rx="1.7" ry="1.1" fill="rgb(17,71,211)" opacity="0.92" transform="translate(334.1,65.6) rotate(123)"/><ellipse rx="1.7" ry="1.1" fill="rgb(22,108,237)" opacity="0.92" transform="translate(392.7,76.8) rotate(87)"/><ellipse rx="1.7" ry="1.1" fill="rgb(40,95,243)" opacity="0.92" transform="translate(391.9,22.1) rotate(56)"/><ellipse rx="1.7" ry="1.1" fill="rgb(30,102,240)" opacity="0.92" transform="translate(344.0,98.7) rotate(87)"/><ellipse rx="1.7" ry="1.1" fill="rgb(34,115,202)" opacity="0.92" transform="translate(404.0,47.5) rotate(65)"/><ellipse rx="1.7" ry="1.1" fill="rgb(36,111,206)" opacity="0.92" transform="translate(405.0,22.6) rotate(33)"/><ellipse rx="1.7" ry="1.1" fill="rgb(26,127,210)" opacity="0.92" transform="translate(336.4,97.4) rotate(102)"/><ellipse rx="1.7" ry="1.1" fill="rgb(38,108,212)" opacity="0.92" transform="translate(351.9,32.8) rotate(13)"/><ellipse rx="1.7" ry="1.1" fill="rgb(30,71,238)" opacity="0.92" transform="translate(394.0,63.1) rotate(59)"/><ellipse rx="1.7" ry="1.1" fill="rgb(25,100,208)" opacity="0.92" transform="translate(401.7,36.3) rotate(40)"/><ellipse rx="1.7" ry="1.1" fill="rgb(31,109,211)" opacity="0.92" transform="translate(333.4,81.5) rotate(104)"/><ellipse rx="1.7" ry="1.1" fill="rgb(26,91,239)" opacity="0.92" transform="translate(343.9,60.6) rotate(113)"/><ellipse rx="1.7" ry="1.1" fill="rgb(28,91,231)" opacity="0.92" transform="translate(401.7,95.8) rotate(78)"/><ellipse rx="1.7" ry="1.1" fill="rgb(20,93,207)" opacity="0.92" transform="translate(402.9,100.6) rotate(85)"/><ellipse rx="1.7" ry="1.1" fill="rgb(27,74,218)" opacity="0.92" transform="translate(328.3,96.3) rotate(107)"/><ellipse rx="1.7" ry="1.1" fill="rgb(34,70,245)" opacity="0.92" transform="translate(378.3,86.1) rotate(93)"/><ellipse rx="1.7" ry="1.1" fill="rgb(34,82,242)" opacity="0.92" transform="translate(342.2,23.0) rotate(3)"/><ellipse rx="1.7" ry="1.1" fill="rgb(39,81,214)" opacity="0.92" transform="translate(358.2,71.9) rotate(89)"/><ellipse rx="1.7" ry="1.1" fill="rgb(27,123,241)" opacity="0.92" transform="translate(368.3,74.3) rotate(102)"/><ellipse rx="1.7" ry="1.1" fill="rgb(22,122,227)" opacity="0.92" transform="translate(345.5,77.9) rotate(108)"/><ellipse rx="1.7" ry="1.1" fill="rgb(42,125,216)" opacity="0.92" transform="translate(385.7,41.4) rotate(57)"/><ellipse rx="1.7" ry="1.1" fill="rgb(27,98,237)" opacity="0.92" transform="translate(340.8,71.3) rotate(117)"/><ellipse rx="1.7" ry="1.1" fill="rgb(29,104,226)" opacity="0.92" transform="translate(399.5,80.2) rotate(73)"/><ellipse rx="1.7" ry="1.1" fill="rgb(20,78,234)" opacity="0.92" transform="translate(393.0,25.5) rotate(56)"/><ellipse rx="1.7" ry="1.1" fill="rgb(27,72,223)" opacity="0.92" transform="translate(349.5,100.8) rotate(111)"/><ellipse rx="1.7" ry="1.1" fill="rgb(27,94,206)" opacity="0.92" transform="translate(360.7,72.5) rotate(94)"/><ellipse rx="1.7" ry="1.1" fill="rgb(25,125,239)" opacity="0.92" transform="translate(354.1,52.3) rotate(97)"/><ellipse rx="1.7" ry="1.1" fill="rgb(36,125,237)" opacity="0.92" transform="translate(395.7,50.1) rotate(72)"/><ellipse rx="1.7" ry="1.1" fill="rgb(26,107,207)" opacity="0.92" transform="translate(378.7,49.7) rotate(87)"/><ellipse rx="1.7" ry="1.1" fill="rgb(29,108,217)" opacity="0.92" transform="translate(405.3,35.5) rotate(56)"/><ellipse rx="1.7" ry="1.1" fill="rgb(44,95,240)" opacity="0.92" transform="translate(326.9,77.3) rotate(104)"/><ellipse rx="1.7" ry="1.1" fill="rgb(21,123,200)" opacity="0.92" transform="translate(366.2,91.1) rotate(95)"/><ellipse rx="1.7" ry="1.1" fill="rgb(23,106,207)" opacity="0.92" transform="translate(376.0,81.5) rotate(92)"/><ellipse rx="1.7" ry="1.1" fill="rgb(45,119,235)" opacity="0.92" transform="translate(356.1,91.4) rotate(85)"/><ellipse rx="1.7" ry="1.1" fill="rgb(24,106,242)" opacity="0.92" transform="translate(329.3,70.3) rotate(124)"/><ellipse rx="1.7" ry="1.1" fill="rgb(42,78,204)" opacity="0.92" transform="translate(338.4,23.5) rotate(-2)"/><ellipse rx="1.7" ry="1.1" fill="rgb(32,76,228)" opacity="0.92" transform="translate(397.3,85.2) rotate(86)"/><ellipse rx="1.7" ry="1.1" fill="rgb(17,71,207)" opacity="0.92" transform="translate(340.2,28.7) rotate(12)"/><ellipse rx="1.7" ry="1.1" fill="rgb(20,91,208)" opacity="0.92" transform="translate(398.4,84.5) rotate(59)"/><ellipse rx="1.7" ry="1.1" fill="rgb(35,123,237)" opacity="0.92" transform="translate(382.4,37.2) rotate(71)"/><ellipse rx="1.7" ry="1.1" fill="rgb(24,80,245)" opacity="0.92" transform="translate(335.6,34.2) rotate(25)"/><ellipse rx="1.7" ry="1.1" fill="rgb(24,129,221)" opacity="0.92" transform="translate(347.1,100.7) rotate(100)"/><ellipse rx="1.7" ry="1.1" fill="rgb(23,97,245)" opacity="0.92" transform="translate(383.4,99.4) rotate(77)"/><ellipse rx="1.7" ry="1.1" fill="rgb(20,101,243)" opacity="0.92" transform="translate(354.4,60.6) rotate(108)"/><ellipse rx="1.7" ry="1.1" fill="rgb(30,75,210)" opacity="0.92" transform="translate(325.0,31.8) rotate(4)"/><ellipse rx="1.7" ry="1.1" fill="rgb(30,107,237)" opacity="0.92" transform="translate(340.6,95.2) rotate(106)"/><ellipse rx="1.7" ry="1.1" fill="rgb(20,91,238)" opacity="0.92" transform="translate(347.3,99.6) rotate(90)"/><ellipse rx="1.7" ry="1.1" fill="rgb(37,125,222)" opacity="0.92" transform="translate(338.8,61.6) rotate(122)"/><ellipse rx="1.7" ry="1.1" fill="rgb(22,114,241)" opacity="0.92" transform="translate(398.5,72.8) rotate(78)"/><ellipse rx="1.7" ry="1.1" fill="rgb(44,119,241)" opacity="0.92" transform="translate(349.7,62.3) rotate(113)"/><ellipse rx="1.7" ry="1.1" fill="rgb(15,97,202)" opacity="0.92" transform="translate(404.4,75.6) rotate(54)"/><ellipse rx="1.7" ry="1.1" fill="rgb(18,107,229)" opacity="0.92" transform="translate(325.6,36.1) rotate(9)"/><ellipse rx="1.7" ry="1.1" fill="rgb(27,125,238)" opacity="0.92" transform="translate(379.9,48.3) rotate(90)"/><ellipse rx="1.7" ry="1.1" fill="rgb(42,128,239)" opacity="0.92" transform="translate(346.7,22.6) rotate(21)"/><ellipse rx="1.7" ry="1.1" fill="rgb(27,114,208)" opacity="0.92" transform="translate(351.2,66.6) rotate(101)"/><ellipse rx="1.7" ry="1.1" fill="rgb(23,81,201)" opacity="0.92" transform="translate(400.2,27.0) rotate(30)"/><ellipse rx="1.7" ry="1.1" fill="rgb(39,88,231)" opacity="0.92" transform="translate(334.3,87.9) rotate(120)"/><ellipse rx="1.7" ry="1.1" fill="rgb(18,125,204)" opacity="0.92" transform="translate(361.1,85.5) rotate(86)"/><ellipse rx="1.7" ry="1.1" fill="rgb(15,128,215)" opacity="0.92" transform="translate(383.8,21.4) rotate(44)"/><ellipse rx="1.7" ry="1.1" fill="rgb(42,97,200)" opacity="0.92" transform="translate(390.2,39.4) rotate(69)"/><ellipse rx="1.7" ry="1.1" fill="rgb(24,101,244)" opacity="0.92" transform="translate(331.0,63.8) rotate(112)"/><ellipse rx="1.7" ry="1.1" fill="rgb(28,71,226)" opacity="0.92" transform="translate(399.9,50.2) rotate(47)"/><ellipse rx="1.7" ry="1.1" fill="rgb(45,96,229)" opacity="0.92" transform="translate(329.8,100.2) rotate(118)"/><ellipse rx="1.7" ry="1.1" fill="rgb(21,95,215)" opacity="0.92" transform="translate(398.6,21.1) rotate(39)"/><ellipse rx="1.7" ry="1.1" fill="rgb(39,77,234)" opacity="0.92" transform="translate(394.8,70.4) rotate(57)"/><ellipse rx="1.7" ry="1.1" fill="rgb(19,109,200)" opacity="0.92" transform="translate(329.1,86.0) rotate(103)"/><ellipse rx="1.7" ry="1.1" fill="rgb(24,84,242)" opacity="0.92" transform="translate(347.4,66.8) rotate(103)"/><ellipse rx="1.7" ry="1.1" fill="rgb(37,105,202)" opacity="0.92" transform="translate(382.0,42.1) rotate(81)"/><ellipse rx="1.7" ry="1.1" fill="rgb(43,99,215)" opacity="0.92" transform="translate(330.9,88.9) rotate(120)"/><ellipse rx="1.7" ry="1.1" fill="rgb(26,92,200)" opacity="0.92" transform="translate(389.6,39.4) rotate(55)"/><ellipse rx="1.7" ry="1.1" fill="rgb(36,124,209)" opacity="0.92" transform="translate(401.0,90.1) rotate(86)"/><ellipse rx="1.7" ry="1.1" fill="rgb(36,89,242)" opacity="0.92" transform="translate(352.6,69.6) rotate(114)"/><ellipse rx="1.7" ry="1.1" fill="rgb(20,123,232)" opacity="0.92" transform="translate(385.8,58.9) rotate(78)"/><ellipse rx="1.7" ry="1.1" fill="rgb(15,84,230)" opacity="0.92" transform="translate(342.6,59.6) rotate(118)"/><ellipse rx="1.7" ry="1.1" fill="rgb(44,92,212)" opacity="0.92" transform="translate(354.6,99.8) rotate(99)"/><ellipse rx="1.7" ry="1.1" fill="rgb(29,106,206)" opacity="0.92" transform="translate(398.0,89.8) rotate(83)"/><ellipse rx="1.7" ry="1.1" fill="rgb(19,110,231)" opacity="0.92" transform="translate(332.6,95.3) rotate(109)"/><ellipse rx="1.7" ry="1.1" fill="rgb(33,100,216)" opacity="0.92" transform="translate(406.7,62.7) rotate(57)"/><ellipse rx="1.7" ry="1.1" fill="rgb(24,106,201)" opacity="0.92" transform="translate(383.4,66.9) rotate(66)"/><ellipse rx="1.7" ry="1.1" fill="rgb(36,118,222)" opacity="0.92" transform="translate(402.3,95.4) rotate(76)"/><ellipse rx="1.7" ry="1.1" fill="rgb(29,91,218)" opacity="0.92" transform="translate(383.9,97.7) rotate(81)"/><ellipse rx="1.7" ry="1.1" fill="rgb(40,98,245)" opacity="0.92" transform="translate(407.3,68.6) rotate(51)"/><ellipse rx="1.7" ry="1.1" fill="rgb(26,99,215)" opacity="0.92" transform="translate(386.4,53.1) rotate(62)"/><ellipse rx="1.7" ry="1.1" fill="rgb(31,129,219)" opacity="0.92" transform="translate(340.8,49.3) rotate(103)"/><ellipse rx="1.7" ry="1.1" fill="rgb(19,128,216)" opacity="0.92" transform="translate(382.5,40.8) rotate(62)"/><ellipse rx="1.7" ry="1.1" fill="rgb(17,117,221)" opacity="0.92" transform="translate(352.0,33.0) rotate(16)"/><ellipse rx="1.7" ry="1.1" fill="rgb(20,92,227)" opacity="0.92" transform="translate(401.1,49.2) rotate(48)"/><ellipse rx="1.7" ry="1.1" fill="rgb(41,88,216)" opacity="0.92" transform="translate(398.3,72.4) rotate(68)"/><ellipse rx="1.7" ry="1.1" fill="rgb(36,112,244)" opacity="0.92" transform="translate(358.7,43.6) rotate(94)"/><ellipse rx="1.7" ry="1.1" fill="rgb(36,102,238)" opacity="0.92" transform="translate(352.6,51.3) rotate(96)"/><ellipse rx="1.7" ry="1.1" fill="rgb(33,119,234)" opacity="0.92" transform="translate(369.8,30.4) rotate(92)"/><ellipse rx="1.7" ry="1.1" fill="rgb(19,117,233)" opacity="0.92" transform="translate(333.4,93.7) rotate(100)"/><ellipse rx="1.7" ry="1.1" fill="rgb(36,127,236)" opacity="0.92" transform="translate(329.3,24.1) rotate(6)"/><ellipse rx="1.7" ry="1.1" fill="rgb(15,114,224)" opacity="0.92" transform="translate(360.5,85.4) rotate(105)"/><ellipse rx="1.7" ry="1.1" fill="rgb(44,82,215)" opacity="0.92" transform="translate(355.5,77.3) rotate(85)"/><ellipse rx="1.7" ry="1.1" fill="rgb(30,127,203)" opacity="0.92" transform="translate(336.9,90.2) rotate(108)"/><ellipse rx="1.7" ry="1.1" fill="rgb(45,103,211)" opacity="0.92" transform="translate(399.8,65.1) rotate(74)"/><ellipse rx="1.7" ry="1.1" fill="rgb(18,101,237)" opacity="0.92" transform="translate(342.2,69.3) rotate(119)"/><ellipse rx="1.7" ry="1.1" fill="rgb(16,72,245)" opacity="0.92" transform="translate(345.5,55.7) rotate(105)"/><ellipse rx="1.7" ry="1.1" fill="rgb(41,112,200)" opacity="0.92" transform="translate(399.3,56.0) rotate(59)"/><ellipse rx="1.7" ry="1.1" fill="rgb(31,100,204)" opacity="0.92" transform="translate(329.3,72.0) rotate(124)"/><ellipse rx="1.7" ry="1.1" fill="rgb(38,75,200)" opacity="0.92" transform="translate(327.8,63.9) rotate(116)"/><ellipse rx="1.7" ry="1.1" fill="rgb(33,77,229)" opacity="0.92" transform="translate(334.3,69.4) rotate(123)"/><ellipse rx="1.7" ry="1.1" fill="rgb(37,127,221)" opacity="0.92" transform="translate(342.5,93.8) rotate(89)"/><ellipse rx="1.7" ry="1.1" fill="rgb(17,92,240)" opacity="0.92" transform="translate(382.1,38.4) rotate(59)"/><ellipse rx="1.7" ry="1.1" fill="rgb(16,105,234)" opacity="0.92" transform="translate(360.5,49.2) rotate(81)"/><ellipse rx="1.7" ry="1.1" fill="rgb(36,108,214)" opacity="0.92" transform="translate(379.3,41.9) rotate(68)"/><ellipse rx="1.7" ry="1.1" fill="rgb(45,83,214)" opacity="0.92" transform="translate(358.5,98.0) rotate(104)"/><ellipse rx="1.7" ry="1.1" fill="rgb(35,78,210)" opacity="0.92" transform="translate(384.2,33.8) rotate(79)"/><ellipse rx="1.7" ry="1.1" fill="rgb(27,111,240)" opacity="0.92" transform="translate(351.4,90.7) rotate(92)"/><ellipse rx="1.7" ry="1.1" fill="rgb(39,97,218)" opacity="0.92" transform="translate(401.6,67.8) rotate(70)"/><ellipse rx="1.7" ry="1.1" fill="rgb(40,83,228)" opacity="0.92" transform="translate(337.3,25.1) rotate(-12)"/><ellipse rx="1.7" ry="1.1" fill="rgb(26,119,224)" opacity="0.92" transform="translate(328.3,66.8) rotate(103)"/><ellipse rx="1.7" ry="1.1" fill="rgb(45,112,222)" opacity="0.92" transform="translate(361.2,81.2) rotate(94)"/><ellipse rx="1.7" ry="1.1" fill="rgb(24,103,244)" opacity="0.92" transform="translate(349.4,71.6) rotate(113)"/><ellipse rx="1.7" ry="1.1" fill="rgb(36,114,200)" opacity="0.92" transform="translate(361.0,51.7) rotate(93)"/><ellipse rx="1.7" ry="1.1" fill="rgb(15,78,204)" opacity="0.92" transform="translate(368.3,63.2) rotate(94)"/><ellipse rx="1.7" ry="1.1" fill="rgb(30,103,204)" opacity="0.92" transform="translate(384.7,70.3) rotate(77)"/><ellipse rx="1.7" ry="1.1" fill="rgb(34,88,225)" opacity="0.92" transform="translate(344.7,75.7) rotate(114)"/><ellipse rx="1.7" ry="1.1" fill="rgb(23,119,211)" opacity="0.92" transform="translate(369.7,93.8) rotate(88)"/><ellipse rx="1.7" ry="1.1" fill="rgb(29,122,201)" opacity="0.92" transform="translate(401.2,63.4) rotate(63)"/><ellipse rx="1.7" ry="1.1" fill="rgb(25,100,213)" opacity="0.92" transform="translate(347.2,73.3) rotate(98)"/><ellipse rx="1.7" ry="1.1" fill="rgb(19,84,229)" opacity="0.92" transform="translate(381.6,89.5) rotate(77)"/><ellipse rx="1.7" ry="1.1" fill="rgb(28,88,239)" opacity="0.92" transform="translate(373.2,64.9) rotate(95)"/><ellipse rx="1.7" ry="1.1" fill="rgb(29,87,242)" opacity="0.92" transform="translate(381.4,42.4) rotate(83)"/><ellipse rx="1.7" ry="1.1" fill="rgb(42,101,233)" opacity="0.92" transform="translate(327.8,32.3) rotate(28)"/><ellipse rx="1.7" ry="1.1" fill="rgb(18,83,204)" opacity="0.92" transform="translate(340.2,60.7) rotate(98)"/><ellipse rx="1.7" ry="1.1" fill="rgb(20,72,237)" opacity="0.92" transform="translate(349.2,32.8) rotate(-2)"/><ellipse rx="1.7" ry="1.1" fill="rgb(33,82,237)" opacity="0.92" transform="translate(334.5,42.3) rotate(29)"/><ellipse rx="1.7" ry="1.1" fill="rgb(28,91,228)" opacity="0.92" transform="translate(380.7,50.9) rotate(81)"/><ellipse rx="1.7" ry="1.1" fill="rgb(39,88,202)" opacity="0.92" transform="translate(366.5,86.7) rotate(84)"/><ellipse rx="1.7" ry="1.1" fill="rgb(32,128,214)" opacity="0.92" transform="translate(373.8,27.6) rotate(88)"/><ellipse rx="1.7" ry="1.1" fill="rgb(15,120,244)" opacity="0.92" transform="translate(338.6,51.8) rotate(104)"/><ellipse rx="1.7" ry="1.1" fill="rgb(25,78,221)" opacity="0.92" transform="translate(377.7,35.9) rotate(65)"/><ellipse rx="1.7" ry="1.1" fill="rgb(42,129,214)" opacity="0.92" transform="translate(357.6,31.6) rotate(99)"/><ellipse rx="1.7" ry="1.1" fill="rgb(35,117,203)" opacity="0.92" transform="translate(330.5,46.1) rotate(34)"/><ellipse rx="1.7" ry="1.1" fill="rgb(40,90,239)" opacity="0.92" transform="translate(344.6,37.6) rotate(-15)"/><ellipse rx="1.7" ry="1.1" fill="rgb(41,98,208)" opacity="0.92" transform="translate(392.0,21.2) rotate(58)"/><ellipse rx="1.7" ry="1.1" fill="rgb(37,122,209)" opacity="0.92" transform="translate(375.8,44.7) rotate(88)"/><ellipse rx="1.7" ry="1.1" fill="rgb(37,114,218)" opacity="0.92" transform="translate(363.9,80.0) rotate(103)"/><ellipse rx="1.7" ry="1.1" fill="rgb(18,85,218)" opacity="0.92" transform="translate(404.0,33.0) rotate(45)"/><ellipse rx="1.7" ry="1.1" fill="rgb(36,127,226)" opacity="0.92" transform="translate(399.5,50.4) rotate(53)"/><ellipse rx="1.7" ry="1.1" fill="rgb(16,91,208)" opacity="0.92" transform="translate(400.5,35.2) rotate(63)"/><ellipse rx="1.7" ry="1.1" fill="rgb(42,100,222)" opacity="0.92" transform="translate(345.3,59.4) rotate(95)"/><ellipse rx="1.7" ry="1.1" fill="rgb(30,120,219)" opacity="0.92" transform="translate(342.7,51.2) rotate(112)"/><ellipse rx="1.7" ry="1.1" fill="rgb(31,91,241)" opacity="0.92" transform="translate(396.7,88.1) rotate(58)"/><ellipse rx="1.7" ry="1.1" fill="rgb(42,105,226)" opacity="0.92" transform="translate(346.7,57.0) rotate(116)"/><ellipse rx="1.7" ry="1.1" fill="rgb(18,105,222)" opacity="0.92" transform="translate(335.6,53.9) rotate(119)"/><ellipse rx="1.7" ry="1.1" fill="rgb(22,115,231)" opacity="0.92" transform="translate(338.9,70.0) rotate(106)"/><ellipse rx="1.7" ry="1.1" fill="rgb(23,111,222)" opacity="0.92" transform="translate(399.1,93.9) rotate(78)"/><ellipse rx="1.7" ry="1.1" fill="rgb(43,113,206)" opacity="0.92" transform="translate(360.6,71.2) rotate(99)"/><ellipse rx="1.7" ry="1.1" fill="rgb(37,121,201)" opacity="0.92" transform="translate(350.0,47.2) rotate(31)"/><ellipse rx="1.7" ry="1.1" fill="rgb(24,77,242)" opacity="0.92" transform="translate(376.7,78.2) rotate(98)"/><ellipse rx="1.7" ry="1.1" fill="rgb(17,126,209)" opacity="0.92" transform="translate(375.5,84.7) rotate(92)"/><ellipse rx="1.7" ry="1.1" fill="rgb(33,78,242)" opacity="0.92" transform="translate(347.1,92.2) rotate(101)"/><ellipse rx="1.7" ry="1.1" fill="rgb(45,106,229)" opacity="0.92" transform="translate(405.2,25.2) rotate(24)"/><ellipse rx="1.7" ry="1.1" fill="rgb(43,84,200)" opacity="0.92" transform="translate(398.2,76.2) rotate(59)"/><ellipse rx="1.7" ry="1.1" fill="rgb(37,95,202)" opacity="0.92" transform="translate(386.7,51.9) rotate(57)"/><ellipse rx="1.7" ry="1.1" fill="rgb(26,71,225)" opacity="0.92" transform="translate(351.1,98.8) rotate(99)"/><ellipse rx="1.7" ry="1.1" fill="rgb(18,70,216)" opacity="0.92" transform="translate(336.6,83.7) rotate(98)"/><ellipse rx="1.7" ry="1.1" fill="rgb(21,105,204)" opacity="0.92" transform="translate(406.4,80.6) rotate(69)"/><ellipse rx="1.7" ry="1.1" fill="rgb(39,95,238)" opacity="0.92" transform="translate(374.7,39.4) rotate(81)"/><ellipse rx="1.7" ry="1.1" fill="rgb(16,126,242)" opacity="0.92" transform="translate(351.5,85.3) rotate(98)"/><ellipse rx="1.7" ry="1.1" fill="rgb(26,122,208)" opacity="0.92" transform="translate(373.4,49.2) rotate(81)"/><ellipse rx="1.7" ry="1.1" fill="rgb(24,77,201)" opacity="0.92" transform="translate(362.9,36.6) rotate(85)"/><ellipse rx="1.7" ry="1.1" fill="rgb(22,113,211)" opacity="0.92" transform="translate(358.4,62.7) rotate(108)"/><ellipse rx="1.7" ry="1.1" fill="rgb(20,117,204)" opacity="0.92" transform="translate(407.0,22.9) rotate(47)"/><ellipse rx="1.7" ry="1.1" fill="rgb(23,95,207)" opacity="0.92" transform="translate(331.7,76.0) rotate(109)"/><ellipse rx="1.7" ry="1.1" fill="rgb(21,108,219)" opacity="0.92" transform="translate(363.1,100.5) rotate(78)"/><ellipse rx="1.7" ry="1.1" fill="rgb(36,91,234)" opacity="0.92" transform="translate(367.0,75.8) rotate(101)"/><ellipse rx="1.7" ry="1.1" fill="rgb(27,94,212)" opacity="0.92" transform="translate(401.3,66.5) rotate(73)"/><ellipse rx="1.7" ry="1.1" fill="rgb(42,111,228)" opacity="0.92" transform="translate(376.0,61.2) rotate(69)"/><circle cx="354.9" cy="100.7" r="0.6" fill="rgb(30,103,229)"/><circle cx="390.6" cy="34.3" r="0.6" fill="rgb(30,101,250)"/><circle cx="345.8" cy="95.1" r="0.6" fill="rgb(30,111,244)"/><circle cx="400.1" cy="80.1" r="0.6" fill="rgb(30,91,238)"/><circle cx="403.3" cy="44.9" r="0.6" fill="rgb(30,112,243)"/><circle cx="335.2" cy="57.1" r="0.6" fill="rgb(30,109,245)"/><circle cx="334.8" cy="78.0" r="0.6" fill="rgb(30,77,238)"/><circle cx="332.9" cy="98.4" r="0.6" fill="rgb(30,73,252)"/><circle cx="373.9" cy="89.7" r="0.6" fill="rgb(30,109,235)"/><circle cx="386.3" cy="35.1" r="0.6" fill="rgb(30,103,233)"/><circle cx="347.0" cy="43.3" r="0.6" fill="rgb(30,66,250)"/><circle cx="352.6" cy="42.3" r="0.6" fill="rgb(30,117,245)"/><circle cx="384.5" cy="55.3" r="0.6" fill="rgb(30,107,233)"/><circle cx="397.1" cy="90.3" r="0.6" fill="rgb(30,82,228)"/><circle cx="389.6" cy="49.8" r="0.6" fill="rgb(30,94,229)"/><circle cx="407.0" cy="71.6" r="0.6" fill="rgb(30,89,229)"/><circle cx="391.1" cy="57.5" r="0.6" fill="rgb(30,101,243)"/><circle cx="358.9" cy="68.8" r="0.6" fill="rgb(30,119,231)"/><circle cx="326.7" cy="80.5" r="0.6" fill="rgb(30,91,223)"/><circle cx="341.2" cy="74.9" r="0.6" fill="rgb(30,67,225)"/><circle cx="342.8" cy="53.8" r="0.6" fill="rgb(30,77,232)"/><circle cx="327.9" cy="22.7" r="0.6" fill="rgb(30,70,237)"/><circle cx="383.6" cy="57.8" r="0.6" fill="rgb(30,90,235)"/><circle cx="374.8" cy="85.7" r="0.6" fill="rgb(30,97,230)"/><circle cx="373.6" cy="65.7" r="0.6" fill="rgb(30,118,253)"/><circle cx="374.3" cy="34.7" r="0.6" fill="rgb(30,68,230)"/><circle cx="357.0" cy="53.8" r="0.6" fill="rgb(30,111,228)"/><circle cx="383.3" cy="38.1" r="0.6" fill="rgb(30,99,234)"/><circle cx="404.9" cy="68.1" r="0.6" fill="rgb(30,92,251)"/><circle cx="387.9" cy="32.1" r="0.6" fill="rgb(30,118,228)"/><circle cx="335.1" cy="45.4" r="0.6" fill="rgb(30,84,238)"/><circle cx="350.3" cy="39.4" r="0.6" fill="rgb(30,78,223)"/><circle cx="358.6" cy="66.9" r="0.6" fill="rgb(30,93,250)"/><circle cx="366.1" cy="97.1" r="0.6" fill="rgb(30,113,229)"/><circle cx="337.0" cy="80.7" r="0.6" fill="rgb(30,68,250)"/><circle cx="399.6" cy="90.4" r="0.6" fill="rgb(30,105,238)"/><circle cx="374.7" cy="20.3" r="0.6" fill="rgb(30,92,228)"/><circle cx="340.2" cy="28.2" r="0.6" fill="rgb(30,63,229)"/><circle cx="371.3" cy="57.1" r="0.6" fill="rgb(30,119,255)"/><circle cx="369.6" cy="41.1" r="0.6" fill="rgb(30,110,241)"/><circle cx="363.6" cy="62.0" r="0.6" fill="rgb(30,71,230)"/><circle cx="331.2" cy="68.5" r="0.6" fill="rgb(30,114,239)"/><circle cx="345.0" cy="32.8" r="0.6" fill="rgb(30,77,243)"/><circle cx="354.1" cy="50.0" r="0.6" fill="rgb(30,114,236)"/><circle cx="372.1" cy="72.1" r="0.6" fill="rgb(30,99,250)"/></g>
</g>
<clipPath id="mc3"><rect x="413.0" y="20.2" width="82.8" height="82.2"/></clipPath>
<rect x="413.00" y="20.20" width="82.80" height="82.20" fill="#000003" stroke="none" stroke-width="0" />
<g clip-path="url(#mc3)">
<g filter="url(#b04)">
<ellipse cx="494.1" cy="57.7" rx="1.1" ry="0.9" fill="rgb(16,14,253)" transform="rotate(133 494.1 57.7)"/>
<ellipse cx="467.2" cy="58.1" rx="0.9" ry="0.9" fill="rgb(25,15,223)" transform="rotate(40 467.2 58.1)"/>
<ellipse cx="481.6" cy="22.2" rx="0.8" ry="0.6" fill="rgb(14,43,233)" transform="rotate(33 481.6 22.2)"/>
<ellipse cx="446.9" cy="80.5" rx="1.1" ry="0.8" fill="rgb(35,25,220)" transform="rotate(66 446.9 80.5)"/>
<ellipse cx="461.1" cy="98.0" rx="1.1" ry="0.8" fill="rgb(18,28,228)" transform="rotate(136 461.1 98.0)"/>
<ellipse cx="456.7" cy="86.2" rx="1.0" ry="0.7" fill="rgb(26,28,217)" transform="rotate(87 456.7 86.2)"/>
<ellipse cx="425.1" cy="54.7" rx="0.9" ry="0.6" fill="rgb(39,32,221)" transform="rotate(151 425.1 54.7)"/>
<ellipse cx="467.5" cy="87.7" rx="0.9" ry="0.9" fill="rgb(13,16,239)" transform="rotate(53 467.5 87.7)"/>
<ellipse cx="458.5" cy="69.3" rx="0.9" ry="0.9" fill="rgb(24,26,219)" transform="rotate(32 458.5 69.3)"/>
<ellipse cx="477.5" cy="46.9" rx="0.9" ry="0.6" fill="rgb(17,25,254)" transform="rotate(39 477.5 46.9)"/>
<ellipse cx="490.4" cy="32.9" rx="0.8" ry="0.9" fill="rgb(10,40,244)" transform="rotate(60 490.4 32.9)"/>
<ellipse cx="458.9" cy="75.8" rx="0.9" ry="0.9" fill="rgb(37,24,249)" transform="rotate(17 458.9 75.8)"/>
<ellipse cx="450.8" cy="52.8" rx="0.8" ry="0.7" fill="rgb(26,12,254)" transform="rotate(115 450.8 52.8)"/>
<ellipse cx="467.8" cy="74.4" rx="1.0" ry="0.7" fill="rgb(30,14,216)" transform="rotate(112 467.8 74.4)"/>
<ellipse cx="444.8" cy="80.5" rx="0.9" ry="0.9" fill="rgb(34,28,253)" transform="rotate(130 444.8 80.5)"/>
<ellipse cx="474.6" cy="46.4" rx="0.9" ry="0.8" fill="rgb(22,38,236)" transform="rotate(144 474.6 46.4)"/>
<ellipse cx="478.9" cy="31.8" rx="1.0" ry="0.8" fill="rgb(31,44,252)" transform="rotate(2 478.9 31.8)"/>
<ellipse cx="453.4" cy="21.8" rx="0.9" ry="0.7" fill="rgb(24,34,222)" transform="rotate(47 453.4 21.8)"/>
<ellipse cx="414.0" cy="102.3" rx="1.2" ry="0.8" fill="rgb(13,13,223)" transform="rotate(168 414.0 102.3)"/>
<ellipse cx="456.8" cy="90.9" rx="1.2" ry="0.9" fill="rgb(35,45,231)" transform="rotate(125 456.8 90.9)"/>
<ellipse cx="434.0" cy="101.3" rx="0.8" ry="0.7" fill="rgb(22,40,234)" transform="rotate(35 434.0 101.3)"/>
<ellipse cx="468.2" cy="73.9" rx="1.0" ry="0.9" fill="rgb(17,31,221)" transform="rotate(64 468.2 73.9)"/>
<ellipse cx="468.6" cy="102.1" rx="1.0" ry="0.6" fill="rgb(25,39,240)" transform="rotate(138 468.6 102.1)"/>
<ellipse cx="417.3" cy="43.1" rx="0.7" ry="0.9" fill="rgb(26,16,253)" transform="rotate(43 417.3 43.1)"/>
<ellipse cx="437.1" cy="74.7" rx="0.9" ry="0.6" fill="rgb(12,30,244)" transform="rotate(149 437.1 74.7)"/>
<ellipse cx="489.6" cy="32.3" rx="1.2" ry="1.0" fill="rgb(32,27,221)" transform="rotate(101 489.6 32.3)"/>
<ellipse cx="485.0" cy="44.9" rx="1.3" ry="0.7" fill="rgb(33,40,236)" transform="rotate(119 485.0 44.9)"/>
<ellipse cx="456.4" cy="87.6" rx="1.1" ry="0.9" fill="rgb(11,19,246)" transform="rotate(135 456.4 87.6)"/>
<ellipse cx="447.1" cy="100.4" rx="1.1" ry="0.9" fill="rgb(33,32,242)" transform="rotate(18 447.1 100.4)"/>
<ellipse cx="442.3" cy="79.4" rx="1.1" ry="0.8" fill="rgb(11,11,244)" transform="rotate(180 442.3 79.4)"/>
<ellipse cx="429.0" cy="43.5" rx="0.9" ry="0.6" fill="rgb(21,10,254)" transform="rotate(49 429.0 43.5)"/>
<ellipse cx="468.3" cy="36.4" rx="0.9" ry="1.0" fill="rgb(16,28,252)" transform="rotate(39 468.3 36.4)"/>
<ellipse cx="484.9" cy="76.7" rx="1.1" ry="0.9" fill="rgb(24,30,220)" transform="rotate(140 484.9 76.7)"/>
<ellipse cx="437.8" cy="39.6" rx="1.0" ry="0.8" fill="rgb(35,29,253)" transform="rotate(142 437.8 39.6)"/>
<ellipse cx="475.3" cy="77.6" rx="1.3" ry="0.7" fill="rgb(18,24,253)" transform="rotate(21 475.3 77.6)"/>
<ellipse cx="450.1" cy="69.0" rx="1.1" ry="0.8" fill="rgb(27,30,220)" transform="rotate(39 450.1 69.0)"/>
<ellipse cx="471.3" cy="22.0" rx="1.0" ry="0.8" fill="rgb(32,31,226)" transform="rotate(61 471.3 22.0)"/>
<ellipse cx="481.2" cy="97.1" rx="1.3" ry="0.9" fill="rgb(10,18,230)" transform="rotate(15 481.2 97.1)"/>
<ellipse cx="473.2" cy="79.9" rx="0.9" ry="0.9" fill="rgb(13,16,248)" transform="rotate(76 473.2 79.9)"/>
<ellipse cx="464.4" cy="69.6" rx="1.1" ry="0.9" fill="rgb(11,34,255)" transform="rotate(103 464.4 69.6)"/>
<ellipse cx="418.2" cy="55.8" rx="0.9" ry="0.9" fill="rgb(22,21,243)" transform="rotate(49 418.2 55.8)"/>
<ellipse cx="473.3" cy="20.6" rx="0.8" ry="0.9" fill="rgb(37,29,227)" transform="rotate(173 473.3 20.6)"/>
<ellipse cx="470.3" cy="21.6" rx="1.2" ry="0.9" fill="rgb(25,29,216)" transform="rotate(91 470.3 21.6)"/>
<ellipse cx="443.6" cy="67.7" rx="0.9" ry="0.8" fill="rgb(33,29,216)" transform="rotate(149 443.6 67.7)"/>
<ellipse cx="474.8" cy="97.8" rx="0.8" ry="0.9" fill="rgb(32,41,226)" transform="rotate(173 474.8 97.8)"/>
<ellipse cx="456.4" cy="69.2" rx="0.8" ry="0.9" fill="rgb(22,18,229)" transform="rotate(62 456.4 69.2)"/>
<ellipse cx="451.3" cy="57.8" rx="0.7" ry="0.7" fill="rgb(20,17,224)" transform="rotate(83 451.3 57.8)"/>
<ellipse cx="490.3" cy="55.5" rx="1.1" ry="0.9" fill="rgb(22,37,225)" transform="rotate(8 490.3 55.5)"/>
<ellipse cx="485.4" cy="75.3" rx="0.9" ry="0.8" fill="rgb(39,35,230)" transform="rotate(60 485.4 75.3)"/>
<ellipse cx="463.3" cy="70.2" rx="1.3" ry="0.8" fill="rgb(38,20,222)" transform="rotate(18 463.3 70.2)"/>
<ellipse cx="470.3" cy="94.9" rx="0.9" ry="1.0" fill="rgb(32,32,248)" transform="rotate(111 470.3 94.9)"/>
<ellipse cx="444.1" cy="97.7" rx="1.3" ry="0.9" fill="rgb(30,42,237)" transform="rotate(153 444.1 97.7)"/>
<ellipse cx="490.9" cy="34.8" rx="0.7" ry="0.8" fill="rgb(22,42,244)" transform="rotate(123 490.9 34.8)"/>
<ellipse cx="481.9" cy="28.7" rx="1.3" ry="0.8" fill="rgb(15,14,253)" transform="rotate(5 481.9 28.7)"/>
<ellipse cx="457.5" cy="67.9" rx="0.9" ry="0.9" fill="rgb(14,26,222)" transform="rotate(140 457.5 67.9)"/>
<ellipse cx="464.1" cy="69.7" rx="1.3" ry="0.7" fill="rgb(26,44,215)" transform="rotate(38 464.1 69.7)"/>
<ellipse cx="492.8" cy="97.9" rx="1.0" ry="0.7" fill="rgb(31,45,222)" transform="rotate(155 492.8 97.9)"/>
<ellipse cx="454.8" cy="27.6" rx="1.2" ry="0.7" fill="rgb(28,32,244)" transform="rotate(12 454.8 27.6)"/>
<ellipse cx="482.5" cy="99.6" rx="1.0" ry="0.7" fill="rgb(24,44,241)" transform="rotate(8 482.5 99.6)"/>
<ellipse cx="483.1" cy="73.0" rx="0.9" ry="0.9" fill="rgb(15,19,224)" transform="rotate(155 483.1 73.0)"/>
<ellipse cx="452.3" cy="29.5" rx="1.0" ry="0.6" fill="rgb(27,23,224)" transform="rotate(97 452.3 29.5)"/>
<ellipse cx="443.0" cy="72.0" rx="1.0" ry="0.6" fill="rgb(14,38,238)" transform="rotate(103 443.0 72.0)"/>
<ellipse cx="473.2" cy="33.7" rx="1.0" ry="0.7" fill="rgb(25,41,247)" transform="rotate(114 473.2 33.7)"/>
<ellipse cx="431.4" cy="30.1" rx="1.2" ry="0.9" fill="rgb(31,26,253)" transform="rotate(73 431.4 30.1)"/>
<ellipse cx="456.6" cy="67.6" rx="0.7" ry="0.9" fill="rgb(20,18,247)" transform="rotate(100 456.6 67.6)"/>
<ellipse cx="426.1" cy="78.2" rx="0.7" ry="0.7" fill="rgb(26,20,232)" transform="rotate(73 426.1 78.2)"/>
<ellipse cx="436.8" cy="58.8" rx="1.0" ry="0.8" fill="rgb(13,23,224)" transform="rotate(34 436.8 58.8)"/>
<ellipse cx="431.0" cy="99.5" rx="0.7" ry="0.8" fill="rgb(28,24,244)" transform="rotate(141 431.0 99.5)"/>
<ellipse cx="427.8" cy="29.6" rx="0.7" ry="0.9" fill="rgb(11,25,232)" transform="rotate(18 427.8 29.6)"/>
<ellipse cx="493.1" cy="31.4" rx="0.9" ry="0.9" fill="rgb(18,42,230)" transform="rotate(137 493.1 31.4)"/>
<ellipse cx="444.1" cy="42.8" rx="1.0" ry="0.8" fill="rgb(10,15,252)" transform="rotate(49 444.1 42.8)"/>
<ellipse cx="417.3" cy="82.2" rx="1.3" ry="0.8" fill="rgb(20,23,242)" transform="rotate(155 417.3 82.2)"/>
<ellipse cx="464.7" cy="96.5" rx="1.0" ry="0.8" fill="rgb(24,23,235)" transform="rotate(8 464.7 96.5)"/>
<ellipse cx="424.6" cy="36.1" rx="0.9" ry="0.8" fill="rgb(36,44,231)" transform="rotate(175 424.6 36.1)"/>
<ellipse cx="480.8" cy="80.3" rx="1.1" ry="0.7" fill="rgb(24,38,225)" transform="rotate(50 480.8 80.3)"/>
<ellipse cx="462.4" cy="53.1" rx="0.9" ry="0.6" fill="rgb(31,36,236)" transform="rotate(17 462.4 53.1)"/>
<ellipse cx="423.5" cy="57.0" rx="0.7" ry="0.9" fill="rgb(19,17,255)" transform="rotate(34 423.5 57.0)"/>
<ellipse cx="459.2" cy="67.0" rx="1.2" ry="0.7" fill="rgb(11,11,250)" transform="rotate(143 459.2 67.0)"/>
<ellipse cx="469.8" cy="20.9" rx="0.8" ry="0.7" fill="rgb(28,11,243)" transform="rotate(35 469.8 20.9)"/>
<ellipse cx="471.4" cy="100.0" rx="1.2" ry="0.9" fill="rgb(33,14,222)" transform="rotate(85 471.4 100.0)"/>
<ellipse cx="437.9" cy="38.3" rx="1.2" ry="0.8" fill="rgb(10,44,242)" transform="rotate(131 437.9 38.3)"/>
<ellipse cx="478.5" cy="59.3" rx="1.1" ry="0.8" fill="rgb(35,27,220)" transform="rotate(39 478.5 59.3)"/>
<ellipse cx="482.6" cy="41.6" rx="0.7" ry="0.9" fill="rgb(35,31,240)" transform="rotate(14 482.6 41.6)"/>
<ellipse cx="491.2" cy="43.5" rx="0.8" ry="0.7" fill="rgb(12,30,215)" transform="rotate(168 491.2 43.5)"/>
<ellipse cx="419.6" cy="95.2" rx="1.1" ry="1.0" fill="rgb(17,21,225)" transform="rotate(171 419.6 95.2)"/>
<ellipse cx="422.9" cy="55.0" rx="1.0" ry="0.9" fill="rgb(10,10,225)" transform="rotate(119 422.9 55.0)"/>
<ellipse cx="470.3" cy="66.8" rx="1.2" ry="0.8" fill="rgb(29,26,223)" transform="rotate(81 470.3 66.8)"/>
<ellipse cx="471.2" cy="91.4" rx="1.1" ry="0.9" fill="rgb(16,35,240)" transform="rotate(163 471.2 91.4)"/>
<ellipse cx="492.9" cy="86.9" rx="1.2" ry="0.8" fill="rgb(27,32,230)" transform="rotate(98 492.9 86.9)"/>
<ellipse cx="446.7" cy="61.3" rx="0.9" ry="0.7" fill="rgb(27,31,222)" transform="rotate(165 446.7 61.3)"/>
<ellipse cx="454.0" cy="27.9" rx="1.3" ry="0.7" fill="rgb(27,40,219)" transform="rotate(171 454.0 27.9)"/>
<ellipse cx="422.9" cy="71.1" rx="1.1" ry="0.9" fill="rgb(39,24,240)" transform="rotate(62 422.9 71.1)"/>
<ellipse cx="469.9" cy="67.2" rx="0.7" ry="1.0" fill="rgb(11,14,238)" transform="rotate(73 469.9 67.2)"/>
<ellipse cx="422.6" cy="24.9" rx="0.7" ry="0.7" fill="rgb(27,31,231)" transform="rotate(49 422.6 24.9)"/>
<ellipse cx="488.2" cy="36.0" rx="1.2" ry="1.0" fill="rgb(17,21,246)" transform="rotate(110 488.2 36.0)"/>
<ellipse cx="415.7" cy="63.5" rx="0.7" ry="0.8" fill="rgb(33,17,231)" transform="rotate(99 415.7 63.5)"/>
<ellipse cx="421.3" cy="56.2" rx="1.1" ry="0.9" fill="rgb(24,15,230)" transform="rotate(69 421.3 56.2)"/>
<ellipse cx="439.5" cy="49.0" rx="1.3" ry="0.8" fill="rgb(30,10,224)" transform="rotate(62 439.5 49.0)"/>
<ellipse cx="476.9" cy="32.8" rx="0.7" ry="0.7" fill="rgb(14,30,240)" transform="rotate(148 476.9 32.8)"/>
<ellipse cx="477.7" cy="51.2" rx="1.2" ry="0.9" fill="rgb(40,13,243)" transform="rotate(161 477.7 51.2)"/>
<ellipse cx="490.8" cy="58.1" rx="1.3" ry="0.7" fill="rgb(31,14,216)" transform="rotate(145 490.8 58.1)"/>
<ellipse cx="432.5" cy="42.9" rx="0.8" ry="0.7" fill="rgb(37,35,246)" transform="rotate(102 432.5 42.9)"/>
<ellipse cx="459.9" cy="101.9" rx="1.1" ry="0.6" fill="rgb(30,12,251)" transform="rotate(26 459.9 101.9)"/>
<ellipse cx="461.5" cy="73.6" rx="1.2" ry="0.9" fill="rgb(32,45,216)" transform="rotate(160 461.5 73.6)"/>
<ellipse cx="474.9" cy="64.7" rx="1.0" ry="0.8" fill="rgb(21,38,224)" transform="rotate(106 474.9 64.7)"/>
<ellipse cx="458.3" cy="83.0" rx="0.8" ry="0.9" fill="rgb(10,30,245)" transform="rotate(59 458.3 83.0)"/>
<ellipse cx="422.9" cy="64.5" rx="1.1" ry="0.7" fill="rgb(23,30,225)" transform="rotate(126 422.9 64.5)"/>
<ellipse cx="425.0" cy="38.7" rx="1.2" ry="0.9" fill="rgb(14,40,254)" transform="rotate(67 425.0 38.7)"/>
<ellipse cx="463.3" cy="90.6" rx="1.2" ry="0.7" fill="rgb(17,16,252)" transform="rotate(49 463.3 90.6)"/>
<ellipse cx="467.0" cy="74.6" rx="1.0" ry="0.9" fill="rgb(13,44,225)" transform="rotate(19 467.0 74.6)"/>
<ellipse cx="456.1" cy="45.0" rx="1.2" ry="1.0" fill="rgb(10,27,227)" transform="rotate(162 456.1 45.0)"/>
<ellipse cx="427.6" cy="75.9" rx="1.1" ry="0.7" fill="rgb(18,19,222)" transform="rotate(18 427.6 75.9)"/>
<ellipse cx="486.5" cy="49.6" rx="1.2" ry="0.9" fill="rgb(11,45,236)" transform="rotate(1 486.5 49.6)"/>
<ellipse cx="478.1" cy="42.1" rx="1.2" ry="0.6" fill="rgb(31,20,223)" transform="rotate(105 478.1 42.1)"/>
<ellipse cx="455.8" cy="25.4" rx="1.1" ry="0.6" fill="rgb(14,23,236)" transform="rotate(75 455.8 25.4)"/>
<ellipse cx="447.0" cy="73.2" rx="1.0" ry="0.7" fill="rgb(40,41,249)" transform="rotate(90 447.0 73.2)"/>
<ellipse cx="449.1" cy="68.0" rx="1.2" ry="0.8" fill="rgb(17,16,245)" transform="rotate(162 449.1 68.0)"/>
<ellipse cx="495.0" cy="86.3" rx="1.1" ry="0.9" fill="rgb(30,29,218)" transform="rotate(131 495.0 86.3)"/>
<ellipse cx="442.9" cy="91.6" rx="1.1" ry="0.8" fill="rgb(22,36,237)" transform="rotate(115 442.9 91.6)"/>
<ellipse cx="458.6" cy="67.4" rx="1.2" ry="0.7" fill="rgb(27,20,228)" transform="rotate(145 458.6 67.4)"/>
<ellipse cx="444.8" cy="50.8" rx="1.2" ry="0.7" fill="rgb(25,28,223)" transform="rotate(101 444.8 50.8)"/>
<ellipse cx="420.9" cy="57.9" rx="1.0" ry="0.7" fill="rgb(31,18,225)" transform="rotate(63 420.9 57.9)"/>
<ellipse cx="435.2" cy="85.8" rx="1.2" ry="0.8" fill="rgb(26,15,249)" transform="rotate(105 435.2 85.8)"/>
<ellipse cx="470.9" cy="88.2" rx="0.8" ry="0.6" fill="rgb(13,42,247)" transform="rotate(143 470.9 88.2)"/>
<ellipse cx="441.7" cy="39.8" rx="0.8" ry="0.8" fill="rgb(18,13,227)" transform="rotate(84 441.7 39.8)"/>
<ellipse cx="466.1" cy="32.9" rx="1.0" ry="0.8" fill="rgb(31,27,239)" transform="rotate(27 466.1 32.9)"/>
<ellipse cx="429.4" cy="72.5" rx="1.2" ry="0.8" fill="rgb(27,42,244)" transform="rotate(168 429.4 72.5)"/>
<ellipse cx="440.2" cy="22.4" rx="0.9" ry="0.7" fill="rgb(16,19,237)" transform="rotate(104 440.2 22.4)"/>
<ellipse cx="477.1" cy="68.1" rx="0.8" ry="0.8" fill="rgb(13,28,237)" transform="rotate(56 477.1 68.1)"/>
<ellipse cx="459.1" cy="35.0" rx="1.0" ry="0.6" fill="rgb(18,33,247)" transform="rotate(137 459.1 35.0)"/>
<ellipse cx="484.2" cy="54.5" rx="0.9" ry="0.9" fill="rgb(37,31,227)" transform="rotate(105 484.2 54.5)"/>
<ellipse cx="477.6" cy="80.1" rx="0.8" ry="1.0" fill="rgb(22,21,236)" transform="rotate(136 477.6 80.1)"/>
<ellipse cx="459.9" cy="72.0" rx="1.2" ry="0.8" fill="rgb(38,14,218)" transform="rotate(52 459.9 72.0)"/>
<ellipse cx="418.9" cy="59.9" rx="0.7" ry="1.0" fill="rgb(26,14,217)" transform="rotate(165 418.9 59.9)"/>
<ellipse cx="438.0" cy="72.5" rx="1.1" ry="1.0" fill="rgb(19,34,249)" transform="rotate(27 438.0 72.5)"/>
<ellipse cx="435.8" cy="58.4" rx="0.7" ry="0.6" fill="rgb(32,37,244)" transform="rotate(160 435.8 58.4)"/>
<ellipse cx="492.2" cy="93.6" rx="1.2" ry="0.6" fill="rgb(28,26,249)" transform="rotate(101 492.2 93.6)"/>
<ellipse cx="445.8" cy="44.6" rx="1.1" ry="0.8" fill="rgb(28,40,248)" transform="rotate(98 445.8 44.6)"/>
<ellipse cx="417.9" cy="87.9" rx="1.2" ry="0.6" fill="rgb(25,26,224)" transform="rotate(131 417.9 87.9)"/>
<ellipse cx="435.1" cy="81.4" rx="1.1" ry="0.9" fill="rgb(14,24,255)" transform="rotate(86 435.1 81.4)"/>
<ellipse cx="462.8" cy="90.8" rx="0.9" ry="0.6" fill="rgb(25,24,227)" transform="rotate(153 462.8 90.8)"/>
<ellipse cx="452.3" cy="78.2" rx="1.1" ry="0.7" fill="rgb(17,20,246)" transform="rotate(100 452.3 78.2)"/>
<ellipse cx="450.5" cy="63.8" rx="0.9" ry="0.9" fill="rgb(37,39,224)" transform="rotate(26 450.5 63.8)"/>
<ellipse cx="471.6" cy="55.8" rx="0.9" ry="0.6" fill="rgb(19,45,254)" transform="rotate(179 471.6 55.8)"/>
<ellipse cx="463.5" cy="87.9" rx="0.9" ry="0.7" fill="rgb(36,13,228)" transform="rotate(128 463.5 87.9)"/>
<ellipse cx="419.1" cy="21.5" rx="1.3" ry="0.6" fill="rgb(26,41,232)" transform="rotate(12 419.1 21.5)"/>
<ellipse cx="432.8" cy="101.7" rx="1.1" ry="0.6" fill="rgb(17,22,239)" transform="rotate(60 432.8 101.7)"/>
<ellipse cx="480.2" cy="70.2" rx="1.2" ry="0.9" fill="rgb(11,17,234)" transform="rotate(94 480.2 70.2)"/>
<ellipse cx="436.6" cy="24.1" rx="1.1" ry="0.6" fill="rgb(16,13,227)" transform="rotate(4 436.6 24.1)"/>
<ellipse cx="434.1" cy="73.0" rx="1.0" ry="0.7" fill="rgb(40,39,240)" transform="rotate(8 434.1 73.0)"/>
<ellipse cx="473.6" cy="28.4" rx="0.8" ry="0.9" fill="rgb(14,27,255)" transform="rotate(62 473.6 28.4)"/>
<ellipse cx="452.3" cy="37.1" rx="1.0" ry="0.8" fill="rgb(21,40,229)" transform="rotate(10 452.3 37.1)"/>
<ellipse cx="432.6" cy="73.0" rx="1.3" ry="0.6" fill="rgb(21,15,246)" transform="rotate(52 432.6 73.0)"/>
<ellipse cx="459.3" cy="88.8" rx="1.1" ry="0.9" fill="rgb(32,42,222)" transform="rotate(14 459.3 88.8)"/>
<ellipse cx="467.1" cy="64.5" rx="1.0" ry="0.6" fill="rgb(12,39,248)" transform="rotate(150 467.1 64.5)"/>
<ellipse cx="492.9" cy="60.8" rx="1.1" ry="0.7" fill="rgb(27,10,233)" transform="rotate(89 492.9 60.8)"/>
<ellipse cx="459.8" cy="88.9" rx="0.9" ry="0.9" fill="rgb(34,24,250)" transform="rotate(148 459.8 88.9)"/>
<ellipse cx="483.8" cy="75.3" rx="1.0" ry="0.6" fill="rgb(27,20,230)" transform="rotate(179 483.8 75.3)"/>
<ellipse cx="418.6" cy="57.9" rx="1.2" ry="0.8" fill="rgb(19,31,221)" transform="rotate(91 418.6 57.9)"/>
<ellipse cx="429.0" cy="21.9" rx="1.2" ry="0.8" fill="rgb(22,21,230)" transform="rotate(127 429.0 21.9)"/>
<ellipse cx="460.2" cy="82.5" rx="1.3" ry="0.9" fill="rgb(35,28,233)" transform="rotate(147 460.2 82.5)"/>
<ellipse cx="428.1" cy="68.9" rx="1.0" ry="0.7" fill="rgb(30,40,234)" transform="rotate(19 428.1 68.9)"/>
<ellipse cx="434.2" cy="95.8" rx="0.8" ry="0.8" fill="rgb(17,20,239)" transform="rotate(144 434.2 95.8)"/>
<ellipse cx="421.9" cy="88.2" rx="0.9" ry="0.9" fill="rgb(18,40,244)" transform="rotate(140 421.9 88.2)"/>
<ellipse cx="462.0" cy="92.9" rx="1.0" ry="0.7" fill="rgb(11,12,253)" transform="rotate(73 462.0 92.9)"/>
<ellipse cx="460.7" cy="64.6" rx="0.7" ry="0.7" fill="rgb(23,12,234)" transform="rotate(174 460.7 64.6)"/>
<ellipse cx="442.1" cy="21.1" rx="0.8" ry="0.7" fill="rgb(40,41,228)" transform="rotate(162 442.1 21.1)"/>
<ellipse cx="431.9" cy="25.5" rx="0.8" ry="0.9" fill="rgb(17,25,238)" transform="rotate(37 431.9 25.5)"/>
<ellipse cx="451.7" cy="75.5" rx="1.1" ry="0.6" fill="rgb(24,43,215)" transform="rotate(13 451.7 75.5)"/>
<ellipse cx="429.0" cy="34.2" rx="0.9" ry="0.7" fill="rgb(14,36,231)" transform="rotate(124 429.0 34.2)"/>
<ellipse cx="471.0" cy="35.3" rx="1.3" ry="0.9" fill="rgb(17,28,252)" transform="rotate(38 471.0 35.3)"/>
<ellipse cx="431.4" cy="33.3" rx="0.7" ry="0.9" fill="rgb(40,35,250)" transform="rotate(87 431.4 33.3)"/>
<ellipse cx="460.1" cy="78.2" rx="1.0" ry="1.0" fill="rgb(36,27,232)" transform="rotate(86 460.1 78.2)"/>
<ellipse cx="481.3" cy="28.9" rx="1.1" ry="0.8" fill="rgb(40,37,249)" transform="rotate(95 481.3 28.9)"/>
<ellipse cx="443.1" cy="86.3" rx="0.9" ry="0.9" fill="rgb(21,41,224)" transform="rotate(109 443.1 86.3)"/>
<ellipse cx="461.5" cy="35.7" rx="0.9" ry="0.9" fill="rgb(40,24,242)" transform="rotate(136 461.5 35.7)"/>
<ellipse cx="444.1" cy="60.0" rx="1.2" ry="0.7" fill="rgb(21,29,254)" transform="rotate(175 444.1 60.0)"/>
<ellipse cx="435.4" cy="57.1" rx="1.1" ry="0.8" fill="rgb(17,14,232)" transform="rotate(65 435.4 57.1)"/>
<ellipse cx="451.0" cy="76.9" rx="1.0" ry="1.0" fill="rgb(16,18,228)" transform="rotate(6 451.0 76.9)"/>
<ellipse cx="490.8" cy="61.0" rx="1.1" ry="0.8" fill="rgb(31,22,219)" transform="rotate(53 490.8 61.0)"/>
<ellipse cx="474.6" cy="100.7" rx="1.0" ry="0.9" fill="rgb(21,25,225)" transform="rotate(4 474.6 100.7)"/>
<ellipse cx="437.4" cy="39.3" rx="0.8" ry="0.9" fill="rgb(23,24,226)" transform="rotate(84 437.4 39.3)"/>
<ellipse cx="488.9" cy="47.7" rx="1.0" ry="0.7" fill="rgb(11,16,232)" transform="rotate(109 488.9 47.7)"/>
<ellipse cx="493.2" cy="27.1" rx="0.8" ry="0.9" fill="rgb(16,20,241)" transform="rotate(38 493.2 27.1)"/>
<ellipse cx="450.7" cy="50.0" rx="1.2" ry="0.9" fill="rgb(38,10,227)" transform="rotate(172 450.7 50.0)"/>
<ellipse cx="433.6" cy="52.5" rx="1.2" ry="0.9" fill="rgb(40,20,255)" transform="rotate(112 433.6 52.5)"/>
<ellipse cx="454.3" cy="93.9" rx="0.9" ry="0.8" fill="rgb(30,29,221)" transform="rotate(60 454.3 93.9)"/>
<ellipse cx="458.3" cy="32.3" rx="1.1" ry="0.8" fill="rgb(39,17,220)" transform="rotate(162 458.3 32.3)"/>
<ellipse cx="433.8" cy="58.7" rx="0.9" ry="0.9" fill="rgb(19,22,215)" transform="rotate(112 433.8 58.7)"/>
<ellipse cx="447.3" cy="94.8" rx="1.2" ry="1.0" fill="rgb(32,14,253)" transform="rotate(38 447.3 94.8)"/>
<ellipse cx="495.3" cy="48.2" rx="1.2" ry="0.7" fill="rgb(29,33,219)" transform="rotate(156 495.3 48.2)"/>
<ellipse cx="494.4" cy="34.3" rx="1.3" ry="1.0" fill="rgb(40,30,230)" transform="rotate(84 494.4 34.3)"/>
<ellipse cx="486.1" cy="31.3" rx="0.8" ry="0.8" fill="rgb(10,27,243)" transform="rotate(97 486.1 31.3)"/>
<ellipse cx="454.2" cy="26.9" rx="1.1" ry="1.0" fill="rgb(24,13,235)" transform="rotate(81 454.2 26.9)"/>
<ellipse cx="490.6" cy="60.9" rx="0.8" ry="0.8" fill="rgb(37,39,255)" transform="rotate(173 490.6 60.9)"/>
<ellipse cx="439.7" cy="40.7" rx="1.3" ry="1.0" fill="rgb(25,20,218)" transform="rotate(157 439.7 40.7)"/>
<ellipse cx="418.8" cy="99.8" rx="0.7" ry="0.7" fill="rgb(38,14,222)" transform="rotate(126 418.8 99.8)"/>
<ellipse cx="459.6" cy="41.0" rx="1.1" ry="0.6" fill="rgb(22,28,249)" transform="rotate(142 459.6 41.0)"/>
<ellipse cx="440.2" cy="70.0" rx="1.2" ry="0.8" fill="rgb(31,25,220)" transform="rotate(165 440.2 70.0)"/>
<ellipse cx="476.9" cy="24.9" rx="1.1" ry="0.8" fill="rgb(19,10,252)" transform="rotate(30 476.9 24.9)"/>
<ellipse cx="416.5" cy="86.4" rx="1.0" ry="0.8" fill="rgb(37,22,217)" transform="rotate(144 416.5 86.4)"/>
<ellipse cx="431.7" cy="86.7" rx="0.8" ry="0.8" fill="rgb(30,19,225)" transform="rotate(37 431.7 86.7)"/>
<ellipse cx="434.8" cy="31.0" rx="1.0" ry="0.7" fill="rgb(25,15,252)" transform="rotate(59 434.8 31.0)"/>
<ellipse cx="490.6" cy="54.0" rx="1.0" ry="0.8" fill="rgb(21,25,220)" transform="rotate(22 490.6 54.0)"/>
<ellipse cx="452.3" cy="44.0" rx="0.8" ry="1.0" fill="rgb(34,24,231)" transform="rotate(99 452.3 44.0)"/>
<ellipse cx="476.5" cy="66.7" rx="0.8" ry="0.7" fill="rgb(10,34,233)" transform="rotate(52 476.5 66.7)"/>
<ellipse cx="474.5" cy="50.1" rx="1.1" ry="1.0" fill="rgb(21,16,250)" transform="rotate(18 474.5 50.1)"/>
<ellipse cx="476.6" cy="44.6" rx="1.1" ry="0.7" fill="rgb(28,12,248)" transform="rotate(167 476.6 44.6)"/>
<ellipse cx="487.5" cy="102.3" rx="0.7" ry="0.8" fill="rgb(21,20,238)" transform="rotate(64 487.5 102.3)"/>
<ellipse cx="452.7" cy="58.5" rx="1.1" ry="0.6" fill="rgb(13,31,216)" transform="rotate(63 452.7 58.5)"/>
<ellipse cx="435.0" cy="67.1" rx="0.9" ry="0.6" fill="rgb(20,42,240)" transform="rotate(18 435.0 67.1)"/>
<ellipse cx="495.1" cy="22.3" rx="0.8" ry="0.9" fill="rgb(39,19,228)" transform="rotate(8 495.1 22.3)"/>
<ellipse cx="493.5" cy="92.9" rx="1.1" ry="0.9" fill="rgb(18,45,242)" transform="rotate(167 493.5 92.9)"/>
<ellipse cx="433.3" cy="32.4" rx="0.8" ry="0.6" fill="rgb(21,45,252)" transform="rotate(25 433.3 32.4)"/>
<ellipse cx="455.1" cy="101.5" rx="0.8" ry="0.8" fill="rgb(40,21,236)" transform="rotate(103 455.1 101.5)"/>
<ellipse cx="459.9" cy="28.0" rx="0.7" ry="1.0" fill="rgb(24,32,231)" transform="rotate(141 459.9 28.0)"/>
<ellipse cx="426.7" cy="83.3" rx="0.9" ry="0.9" fill="rgb(32,35,235)" transform="rotate(132 426.7 83.3)"/>
<ellipse cx="422.5" cy="74.2" rx="0.9" ry="0.8" fill="rgb(21,20,254)" transform="rotate(1 422.5 74.2)"/>
<ellipse cx="447.7" cy="27.1" rx="1.0" ry="0.7" fill="rgb(26,33,224)" transform="rotate(136 447.7 27.1)"/>
<ellipse cx="414.0" cy="47.2" rx="0.8" ry="1.0" fill="rgb(19,23,248)" transform="rotate(1 414.0 47.2)"/>
<ellipse cx="491.5" cy="91.1" rx="0.9" ry="0.7" fill="rgb(39,19,249)" transform="rotate(36 491.5 91.1)"/>
<ellipse cx="425.8" cy="79.0" rx="1.1" ry="0.7" fill="rgb(12,42,220)" transform="rotate(34 425.8 79.0)"/>
<ellipse cx="470.8" cy="22.3" rx="0.8" ry="0.7" fill="rgb(28,37,228)" transform="rotate(158 470.8 22.3)"/>
<ellipse cx="457.4" cy="49.9" rx="1.0" ry="0.6" fill="rgb(31,16,245)" transform="rotate(42 457.4 49.9)"/>
<ellipse cx="490.2" cy="79.7" rx="1.0" ry="0.7" fill="rgb(22,41,229)" transform="rotate(40 490.2 79.7)"/>
<ellipse cx="453.2" cy="88.3" rx="0.9" ry="0.8" fill="rgb(40,33,244)" transform="rotate(12 453.2 88.3)"/>
<ellipse cx="495.3" cy="100.0" rx="1.0" ry="0.9" fill="rgb(14,16,255)" transform="rotate(155 495.3 100.0)"/>
<ellipse cx="477.0" cy="30.2" rx="0.9" ry="1.0" fill="rgb(33,43,252)" transform="rotate(149 477.0 30.2)"/>
<ellipse cx="451.7" cy="50.9" rx="0.9" ry="0.7" fill="rgb(28,39,230)" transform="rotate(138 451.7 50.9)"/>
<ellipse cx="446.4" cy="40.7" rx="0.8" ry="0.9" fill="rgb(14,44,242)" transform="rotate(170 446.4 40.7)"/>
<ellipse cx="470.3" cy="95.0" rx="1.2" ry="0.7" fill="rgb(22,21,221)" transform="rotate(46 470.3 95.0)"/>
<ellipse cx="463.5" cy="75.7" rx="0.8" ry="0.9" fill="rgb(10,42,229)" transform="rotate(28 463.5 75.7)"/>
<ellipse cx="434.0" cy="51.1" rx="0.9" ry="1.0" fill="rgb(36,22,223)" transform="rotate(12 434.0 51.1)"/>
<ellipse cx="435.2" cy="94.9" rx="0.9" ry="1.0" fill="rgb(29,35,253)" transform="rotate(1 435.2 94.9)"/>
<ellipse cx="425.9" cy="62.8" rx="1.0" ry="1.0" fill="rgb(13,36,233)" transform="rotate(61 425.9 62.8)"/>
<ellipse cx="452.8" cy="79.9" rx="1.2" ry="0.8" fill="rgb(15,17,220)" transform="rotate(24 452.8 79.9)"/>
<ellipse cx="477.9" cy="101.7" rx="1.3" ry="0.6" fill="rgb(23,34,226)" transform="rotate(14 477.9 101.7)"/>
<ellipse cx="432.7" cy="92.1" rx="1.2" ry="0.8" fill="rgb(24,10,230)" transform="rotate(62 432.7 92.1)"/>
<ellipse cx="489.8" cy="59.8" rx="1.2" ry="0.6" fill="rgb(11,44,217)" transform="rotate(58 489.8 59.8)"/>
<ellipse cx="495.3" cy="85.2" rx="0.8" ry="0.8" fill="rgb(14,29,226)" transform="rotate(113 495.3 85.2)"/>
<ellipse cx="417.3" cy="90.0" rx="0.8" ry="0.9" fill="rgb(21,20,254)" transform="rotate(125 417.3 90.0)"/>
<ellipse cx="427.8" cy="62.2" rx="1.2" ry="0.7" fill="rgb(15,33,224)" transform="rotate(175 427.8 62.2)"/>
<ellipse cx="448.7" cy="42.8" rx="1.1" ry="0.9" fill="rgb(30,45,253)" transform="rotate(136 448.7 42.8)"/>
<ellipse cx="441.1" cy="62.6" rx="1.2" ry="0.8" fill="rgb(31,36,251)" transform="rotate(100 441.1 62.6)"/>
<ellipse cx="431.8" cy="39.0" rx="0.9" ry="0.8" fill="rgb(18,25,236)" transform="rotate(39 431.8 39.0)"/>
<ellipse cx="438.7" cy="79.0" rx="0.8" ry="0.9" fill="rgb(35,15,242)" transform="rotate(153 438.7 79.0)"/>
<ellipse cx="444.5" cy="88.8" rx="1.2" ry="0.6" fill="rgb(23,18,219)" transform="rotate(136 444.5 88.8)"/>
<ellipse cx="494.7" cy="39.2" rx="1.0" ry="0.7" fill="rgb(30,34,242)" transform="rotate(34 494.7 39.2)"/>
<ellipse cx="488.2" cy="94.8" rx="1.2" ry="0.9" fill="rgb(13,19,223)" transform="rotate(74 488.2 94.8)"/>
<ellipse cx="473.5" cy="87.2" rx="0.8" ry="0.7" fill="rgb(28,23,225)" transform="rotate(155 473.5 87.2)"/>
<ellipse cx="413.8" cy="98.6" rx="0.7" ry="0.8" fill="rgb(23,38,241)" transform="rotate(89 413.8 98.6)"/>
<ellipse cx="491.2" cy="94.2" rx="0.7" ry="0.6" fill="rgb(25,36,253)" transform="rotate(54 491.2 94.2)"/>
<ellipse cx="472.0" cy="84.8" rx="1.2" ry="0.9" fill="rgb(22,30,249)" transform="rotate(57 472.0 84.8)"/>
<ellipse cx="475.7" cy="42.6" rx="0.8" ry="0.8" fill="rgb(12,25,219)" transform="rotate(179 475.7 42.6)"/>
<ellipse cx="421.8" cy="56.8" rx="1.2" ry="0.7" fill="rgb(15,16,255)" transform="rotate(17 421.8 56.8)"/>
<ellipse cx="444.9" cy="47.9" rx="0.9" ry="0.9" fill="rgb(32,10,225)" transform="rotate(40 444.9 47.9)"/>
<ellipse cx="435.5" cy="21.4" rx="1.0" ry="0.6" fill="rgb(20,13,228)" transform="rotate(56 435.5 21.4)"/>
<ellipse cx="428.8" cy="46.9" rx="1.1" ry="1.0" fill="rgb(35,37,232)" transform="rotate(146 428.8 46.9)"/>
<ellipse cx="468.9" cy="89.0" rx="0.7" ry="0.8" fill="rgb(30,45,224)" transform="rotate(14 468.9 89.0)"/>
<ellipse cx="430.3" cy="41.7" rx="0.9" ry="0.7" fill="rgb(38,17,252)" transform="rotate(172 430.3 41.7)"/>
<ellipse cx="465.8" cy="54.0" rx="1.0" ry="0.8" fill="rgb(40,38,230)" transform="rotate(48 465.8 54.0)"/>
<ellipse cx="442.3" cy="90.7" rx="0.9" ry="0.7" fill="rgb(20,43,232)" transform="rotate(179 442.3 90.7)"/>
<ellipse cx="413.1" cy="89.1" rx="1.1" ry="0.8" fill="rgb(31,44,228)" transform="rotate(130 413.1 89.1)"/>
<ellipse cx="472.9" cy="38.2" rx="0.9" ry="0.7" fill="rgb(23,31,237)" transform="rotate(36 472.9 38.2)"/>
<ellipse cx="461.0" cy="56.2" rx="1.1" ry="0.6" fill="rgb(33,10,242)" transform="rotate(98 461.0 56.2)"/>
<ellipse cx="422.6" cy="48.0" rx="1.1" ry="0.7" fill="rgb(37,42,234)" transform="rotate(139 422.6 48.0)"/>
<ellipse cx="484.9" cy="28.9" rx="1.2" ry="1.0" fill="rgb(20,18,229)" transform="rotate(139 484.9 28.9)"/>
<ellipse cx="475.2" cy="47.8" rx="1.1" ry="0.9" fill="rgb(32,23,241)" transform="rotate(28 475.2 47.8)"/>
<ellipse cx="486.8" cy="82.7" rx="0.8" ry="1.0" fill="rgb(38,11,233)" transform="rotate(36 486.8 82.7)"/>
<ellipse cx="487.0" cy="30.3" rx="1.1" ry="1.0" fill="rgb(21,25,254)" transform="rotate(25 487.0 30.3)"/>
<ellipse cx="454.9" cy="36.2" rx="1.0" ry="0.6" fill="rgb(29,42,219)" transform="rotate(112 454.9 36.2)"/>
<ellipse cx="494.3" cy="45.7" rx="0.9" ry="0.7" fill="rgb(13,41,220)" transform="rotate(145 494.3 45.7)"/>
<ellipse cx="445.2" cy="94.9" rx="0.8" ry="0.7" fill="rgb(22,38,235)" transform="rotate(118 445.2 94.9)"/>
<ellipse cx="473.0" cy="86.6" rx="1.0" ry="0.7" fill="rgb(36,17,235)" transform="rotate(156 473.0 86.6)"/>
<ellipse cx="487.6" cy="36.7" rx="0.8" ry="0.9" fill="rgb(13,25,254)" transform="rotate(111 487.6 36.7)"/>
<ellipse cx="481.8" cy="32.0" rx="1.0" ry="0.8" fill="rgb(28,12,253)" transform="rotate(178 481.8 32.0)"/>
<ellipse cx="431.7" cy="96.2" rx="1.1" ry="0.6" fill="rgb(29,21,250)" transform="rotate(135 431.7 96.2)"/>
<ellipse cx="430.2" cy="69.6" rx="0.8" ry="0.7" fill="rgb(23,31,216)" transform="rotate(62 430.2 69.6)"/>
<ellipse cx="484.1" cy="83.7" rx="0.7" ry="0.7" fill="rgb(14,44,220)" transform="rotate(86 484.1 83.7)"/>
<ellipse cx="487.2" cy="52.0" rx="1.3" ry="0.9" fill="rgb(22,45,251)" transform="rotate(99 487.2 52.0)"/>
<ellipse cx="436.4" cy="23.6" rx="1.2" ry="0.8" fill="rgb(26,28,229)" transform="rotate(33 436.4 23.6)"/>
<ellipse cx="469.3" cy="42.5" rx="0.8" ry="1.0" fill="rgb(20,37,241)" transform="rotate(162 469.3 42.5)"/>
<ellipse cx="432.1" cy="43.8" rx="0.9" ry="0.6" fill="rgb(12,38,243)" transform="rotate(10 432.1 43.8)"/>
<ellipse cx="486.6" cy="57.5" rx="1.0" ry="0.9" fill="rgb(39,32,224)" transform="rotate(137 486.6 57.5)"/>
<ellipse cx="486.8" cy="28.7" rx="0.8" ry="1.0" fill="rgb(30,15,221)" transform="rotate(7 486.8 28.7)"/>
<ellipse cx="465.3" cy="102.0" rx="1.1" ry="0.6" fill="rgb(38,28,222)" transform="rotate(145 465.3 102.0)"/>
<ellipse cx="447.1" cy="54.0" rx="1.1" ry="0.8" fill="rgb(16,43,223)" transform="rotate(11 447.1 54.0)"/>
<ellipse cx="443.3" cy="91.7" rx="1.2" ry="0.8" fill="rgb(27,44,217)" transform="rotate(128 443.3 91.7)"/>
<ellipse cx="443.6" cy="68.7" rx="0.9" ry="0.8" fill="rgb(16,22,234)" transform="rotate(177 443.6 68.7)"/>
<ellipse cx="461.9" cy="52.1" rx="1.1" ry="1.0" fill="rgb(40,11,243)" transform="rotate(53 461.9 52.1)"/>
<ellipse cx="442.2" cy="34.7" rx="0.9" ry="0.7" fill="rgb(30,21,226)" transform="rotate(88 442.2 34.7)"/>
<ellipse cx="474.1" cy="83.3" rx="1.2" ry="0.8" fill="rgb(24,12,241)" transform="rotate(159 474.1 83.3)"/>
<ellipse cx="494.8" cy="83.9" rx="0.8" ry="1.0" fill="rgb(27,15,231)" transform="rotate(19 494.8 83.9)"/>
<ellipse cx="415.1" cy="95.4" rx="1.0" ry="0.7" fill="rgb(13,37,234)" transform="rotate(167 415.1 95.4)"/>
<ellipse cx="445.2" cy="31.9" rx="0.9" ry="0.8" fill="rgb(28,19,224)" transform="rotate(86 445.2 31.9)"/>
<ellipse cx="438.9" cy="87.9" rx="1.2" ry="0.7" fill="rgb(38,10,242)" transform="rotate(121 438.9 87.9)"/>
<ellipse cx="443.1" cy="74.4" rx="0.9" ry="1.0" fill="rgb(29,42,225)" transform="rotate(152 443.1 74.4)"/>
<ellipse cx="483.7" cy="55.9" rx="0.7" ry="0.6" fill="rgb(13,25,238)" transform="rotate(174 483.7 55.9)"/>
<ellipse cx="485.0" cy="32.7" rx="1.3" ry="0.8" fill="rgb(13,40,223)" transform="rotate(69 485.0 32.7)"/>
<ellipse cx="484.0" cy="73.2" rx="1.2" ry="0.9" fill="rgb(29,33,235)" transform="rotate(32 484.0 73.2)"/>
</g>
</g>
<text x="148.80" y="29.60" font-size="9.8" text-anchor="start" font-weight="normal" font-style="normal" fill="#fff" stroke="#fff" stroke-width="0.35">i</text>
<text x="238.30" y="29.60" font-size="9.8" text-anchor="start" font-weight="normal" font-style="normal" fill="#fff" stroke="#fff" stroke-width="0.35">ii</text>
<text x="326.30" y="29.60" font-size="9.8" text-anchor="start" font-weight="normal" font-style="normal" fill="#fff" stroke="#fff" stroke-width="0.35">iii</text>
<text x="416.40" y="29.80" font-size="10.2" text-anchor="start" font-weight="normal" font-style="normal" fill="#fff" stroke="#fff" stroke-width="0.3">iv</text>
<rect x="184.4" y="33" width="24.2" height="24" fill="none" stroke="#fff" stroke-width="1.3" stroke-dasharray="3.2 1.2"/>
<text x="186.40" y="41.30" font-size="7.8" text-anchor="start" font-weight="normal" font-style="normal" fill="#fff" stroke="#fff" stroke-width="0.3">ii</text>
<rect x="474.40" y="97.80" width="18.60" height="2.40" fill="#fff" stroke="none" stroke-width="0" />
<rect x="538.60" y="16.60" width="9.80" height="63.70" fill="#1aa863" stroke="none" stroke-width="0" />
<line x1="533.50" y1="14.00" x2="533.50" y2="80.70" stroke="#000" stroke-width="1.0" />
<line x1="533.20" y1="80.50" x2="600.00" y2="80.50" stroke="#000" stroke-width="1.0" />
<line x1="528.60" y1="80.50" x2="533.60" y2="80.50" stroke="#000" stroke-width="1.0" />
<text x="528.30" y="83.40" font-size="8.8" text-anchor="end" font-weight="normal" font-style="normal" fill="#000" >0</text>
<line x1="528.60" y1="67.50" x2="533.60" y2="67.50" stroke="#000" stroke-width="1.0" />
<text x="528.30" y="70.20" font-size="8.8" text-anchor="end" font-weight="normal" font-style="normal" fill="#000" >20</text>
<line x1="528.60" y1="53.50" x2="533.60" y2="53.50" stroke="#000" stroke-width="1.0" />
<text x="528.30" y="57.00" font-size="8.8" text-anchor="end" font-weight="normal" font-style="normal" fill="#000" >40</text>
<line x1="528.60" y1="40.50" x2="533.60" y2="40.50" stroke="#000" stroke-width="1.0" />
<text x="528.30" y="43.80" font-size="8.8" text-anchor="end" font-weight="normal" font-style="normal" fill="#000" >60</text>
<line x1="528.60" y1="27.50" x2="533.60" y2="27.50" stroke="#000" stroke-width="1.0" />
<text x="528.30" y="30.60" font-size="8.8" text-anchor="end" font-weight="normal" font-style="normal" fill="#000" >80</text>
<line x1="528.60" y1="14.50" x2="533.60" y2="14.50" stroke="#000" stroke-width="1.0" />
<text x="528.30" y="17.40" font-size="8.8" text-anchor="end" font-weight="normal" font-style="normal" fill="#000" >100</text>
<text transform="translate(510.20,47.50) rotate(-90)" font-size="9.0" text-anchor="middle" font-weight="normal" fill="#000">Precentage</text>
<line x1="543.50" y1="80.30" x2="543.50" y2="84.30" stroke="#000" stroke-width="1.0" />
<text transform="translate(547.1,88.9) rotate(-45)" font-size="9.4" text-anchor="end">CD31<tspan font-size="8.4" dy="-1.6">+</tspan></text>
<line x1="559.50" y1="80.30" x2="559.50" y2="84.30" stroke="#000" stroke-width="1.0" />
<text transform="translate(562.6,88.9) rotate(-45)" font-size="9.4" text-anchor="end">GFAP<tspan font-size="8.4" dy="-1.6">+</tspan></text>
<line x1="573.50" y1="80.30" x2="573.50" y2="84.30" stroke="#000" stroke-width="1.0" />
<text transform="translate(577.2,88.9) rotate(-45)" font-size="9.4" text-anchor="end">IBA1<tspan font-size="8.4" dy="-1.6">+</tspan></text>
<line x1="589.50" y1="80.30" x2="589.50" y2="84.30" stroke="#000" stroke-width="1.0" />
<text transform="translate(592.8,88.9) rotate(-45)" font-size="9.4" text-anchor="end">CD13<tspan font-size="8.4" dy="-1.6">+</tspan></text>
<circle cx="540.9" cy="15.2" r="1.35" fill="#fff" stroke="#000" stroke-width="0.65"/>
<circle cx="543.5" cy="15.2" r="1.35" fill="#fff" stroke="#000" stroke-width="0.65"/>
<circle cx="546.1" cy="15.2" r="1.35" fill="#fff" stroke="#000" stroke-width="0.65"/>
<circle cx="556.6" cy="79.6" r="1.2" fill="#fff" stroke="#000" stroke-width="0.6"/>
<circle cx="559.0" cy="79.6" r="1.2" fill="#fff" stroke="#000" stroke-width="0.6"/>
<circle cx="561.4" cy="79.6" r="1.2" fill="#fff" stroke="#000" stroke-width="0.6"/>
<circle cx="571.2" cy="79.6" r="1.2" fill="#fff" stroke="#000" stroke-width="0.6"/>
<circle cx="573.6" cy="79.6" r="1.2" fill="#fff" stroke="#000" stroke-width="0.6"/>
<circle cx="576.0" cy="79.6" r="1.2" fill="#fff" stroke="#000" stroke-width="0.6"/>
<circle cx="586.8" cy="79.6" r="1.2" fill="#fff" stroke="#000" stroke-width="0.6"/>
<circle cx="589.2" cy="79.6" r="1.2" fill="#fff" stroke="#000" stroke-width="0.6"/>
<circle cx="591.6" cy="79.6" r="1.2" fill="#fff" stroke="#000" stroke-width="0.6"/>
<text x="0.60" y="135.00" font-size="13.8" text-anchor="start" font-weight="bold" font-style="normal" fill="#000" >B</text>
<text x="124.40" y="145.30" font-size="11.7" text-anchor="middle" font-weight="bold" font-style="italic" fill="#000" >2M</text>
<text x="98.60" y="156.60" font-size="9.3" text-anchor="middle" font-weight="bold" font-style="normal" fill="#000" >WT</text>
<text x="151.30" y="156.60" font-size="9.3" text-anchor="middle" font-weight="bold" font-style="normal" fill="#000" >APP/PS1</text>
<line x1="73.40" y1="160.45" x2="122.00" y2="160.45" stroke="#000" stroke-width="1.4" />
<line x1="127.60" y1="160.45" x2="176.00" y2="160.45" stroke="#000" stroke-width="1.4" />
<text x="236.40" y="145.30" font-size="11.7" text-anchor="middle" font-weight="bold" font-style="italic" fill="#000" >4M</text>
<text x="210.60" y="156.60" font-size="9.3" text-anchor="middle" font-weight="bold" font-style="normal" fill="#000" >WT</text>
<text x="263.30" y="156.60" font-size="9.3" text-anchor="middle" font-weight="bold" font-style="normal" fill="#000" >APP/PS1</text>
<line x1="185.40" y1="160.45" x2="234.00" y2="160.45" stroke="#000" stroke-width="1.4" />
<line x1="239.60" y1="160.45" x2="288.00" y2="160.45" stroke="#000" stroke-width="1.4" />
<text x="347.55" y="145.30" font-size="11.7" text-anchor="middle" font-weight="bold" font-style="italic" fill="#000" >9M</text>
<text x="321.80" y="156.60" font-size="9.3" text-anchor="middle" font-weight="bold" font-style="normal" fill="#000" >WT</text>
<text x="374.50" y="156.60" font-size="9.3" text-anchor="middle" font-weight="bold" font-style="normal" fill="#000" >APP/PS1</text>
<line x1="296.60" y1="160.45" x2="345.20" y2="160.45" stroke="#000" stroke-width="1.4" />
<line x1="350.80" y1="160.45" x2="399.20" y2="160.45" stroke="#000" stroke-width="1.4" />
<text x="68.60" y="172.60" font-size="9.5" text-anchor="end" font-weight="normal" font-style="normal" fill="#000" >Cldn5</text>
<clipPath id="bc1"><rect x="71.00" y="163.50" width="106.20" height="11.60"/></clipPath>
<rect x="71.00" y="163.50" width="106.20" height="11.60" fill="#d9d9d9" stroke="none" stroke-width="0" />
<g clip-path="url(#bc1)"><g filter="url(#b07)">
<path d="M74.0,169.5 Q80.4,167.3 86.8,169.5" fill="none" stroke="#000" stroke-linecap="round" stroke-width="1.9" opacity="0.70"/>
<path d="M91.7,170.2 Q98.1,168.0 104.5,170.2" fill="none" stroke="#000" stroke-linecap="round" stroke-width="1.9" opacity="0.75"/>
<path d="M109.4,170.1 Q115.8,167.9 122.2,170.1" fill="none" stroke="#000" stroke-linecap="round" stroke-width="1.9" opacity="0.70"/>
<path d="M126.2,169.6 Q132.6,167.4 139.0,169.6" fill="none" stroke="#000" stroke-linecap="round" stroke-width="1.9" opacity="0.62"/>
<path d="M143.9,169.8 Q150.3,167.6 156.7,169.8" fill="none" stroke="#000" stroke-linecap="round" stroke-width="1.9" opacity="0.62"/>
<path d="M161.6,169.8 Q168.0,167.6 174.4,169.8" fill="none" stroke="#000" stroke-linecap="round" stroke-width="1.9" opacity="0.55"/>
</g></g>
<rect x="71.00" y="163.50" width="106.20" height="11.60" fill="none" stroke="#888" stroke-width="0.4"/>
<clipPath id="bc2"><rect x="183.00" y="163.50" width="106.20" height="11.60"/></clipPath>
<rect x="183.00" y="163.50" width="106.20" height="11.60" fill="#c4c4c4" stroke="none" stroke-width="0" />
<g clip-path="url(#bc2)"><g filter="url(#b07)">
<rect x="184.3" y="165.9" width="16.2" height="5.6" rx="3" ry="2.5" fill="#000" opacity="0.18"/>
<rect x="185.1" y="167.2" width="14.6" height="3.0" rx="3.0" ry="1.5" fill="#000" opacity="0.80"/>
<rect x="202.0" y="166.0" width="16.2" height="5.6" rx="3" ry="2.5" fill="#000" opacity="0.18"/>
<rect x="202.8" y="167.3" width="14.6" height="3.0" rx="3.0" ry="1.5" fill="#000" opacity="0.80"/>
<rect x="219.7" y="165.3" width="16.2" height="5.6" rx="3" ry="2.5" fill="#000" opacity="0.19"/>
<rect x="220.5" y="166.6" width="14.6" height="3.0" rx="3.0" ry="1.5" fill="#000" opacity="0.85"/>
<rect x="236.5" y="165.2" width="16.2" height="5.6" rx="3" ry="2.5" fill="#000" opacity="0.17"/>
<rect x="237.3" y="166.5" width="14.6" height="3.0" rx="3.0" ry="1.5" fill="#000" opacity="0.75"/>
<rect x="254.2" y="166.0" width="16.2" height="5.6" rx="3" ry="2.5" fill="#000" opacity="0.10"/>
<rect x="255.0" y="167.3" width="14.6" height="3.0" rx="3.0" ry="1.5" fill="#000" opacity="0.45"/>
<rect x="271.9" y="165.6" width="16.2" height="5.6" rx="3" ry="2.5" fill="#000" opacity="0.15"/>
<rect x="272.7" y="166.9" width="14.6" height="3.0" rx="3.0" ry="1.5" fill="#000" opacity="0.70"/>
</g></g>
<rect x="183.5" y="163.5" width="105.0" height="11.0" fill="none" stroke="#0a0a0a" stroke-width="1"/>
<clipPath id="bc3"><rect x="294.20" y="163.50" width="106.10" height="11.60"/></clipPath>
<rect x="294.20" y="163.50" width="106.10" height="11.60" fill="#c8c8c8" stroke="none" stroke-width="0" />
<g clip-path="url(#bc3)"><g filter="url(#b07)">
<rect x="295.6" y="166.2" width="16.0" height="5.6" rx="3" ry="2.5" fill="#000" opacity="0.19"/>
<rect x="296.4" y="167.5" width="14.4" height="3.0" rx="3.0" ry="1.5" fill="#000" opacity="0.85"/>
<rect x="313.3" y="165.4" width="16.0" height="5.6" rx="3" ry="2.5" fill="#000" opacity="0.20"/>
<rect x="314.1" y="166.7" width="14.4" height="3.0" rx="3.0" ry="1.5" fill="#000" opacity="0.90"/>
<rect x="331.0" y="165.8" width="16.0" height="5.6" rx="3" ry="2.5" fill="#000" opacity="0.17"/>
<rect x="331.8" y="167.1" width="14.4" height="3.0" rx="3.0" ry="1.5" fill="#000" opacity="0.75"/>
<rect x="347.8" y="166.1" width="16.0" height="5.6" rx="3" ry="2.5" fill="#000" opacity="0.09"/>
<rect x="348.6" y="167.4" width="14.4" height="3.0" rx="3.0" ry="1.5" fill="#000" opacity="0.42"/>
<rect x="365.5" y="165.6" width="16.0" height="5.6" rx="3" ry="2.5" fill="#000" opacity="0.08"/>
<rect x="366.3" y="166.9" width="14.4" height="3.0" rx="3.0" ry="1.5" fill="#000" opacity="0.38"/>
<rect x="383.2" y="166.3" width="16.0" height="5.6" rx="3" ry="2.5" fill="#000" opacity="0.06"/>
<rect x="384.0" y="167.6" width="14.4" height="3.0" rx="3.0" ry="1.5" fill="#000" opacity="0.25"/>
</g></g>
<rect x="294.20" y="163.50" width="106.10" height="11.60" fill="none" stroke="#888" stroke-width="0.4"/>
<text x="68.60" y="187.20" font-size="9.5" text-anchor="end" font-weight="normal" font-style="normal" fill="#000" >Glut1</text>
<clipPath id="bc4"><rect x="71.00" y="178.20" width="106.20" height="11.40"/></clipPath>
<rect x="71.00" y="178.20" width="106.20" height="11.40" fill="#bcbcbc" stroke="none" stroke-width="0" />
<g clip-path="url(#bc4)"><g filter="url(#b07)">
<rect x="74.2" y="178.2" width="12.4" height="11.4" fill="#000" opacity="0.05"/>
<path d="M74.2,184.8 Q80.4,182.8 86.6,184.8" fill="none" stroke="#000" stroke-linecap="round" stroke-width="3.2" opacity="0.50"/>
<rect x="91.9" y="178.2" width="12.4" height="11.4" fill="#000" opacity="0.05"/>
<path d="M91.9,183.9 Q98.1,181.9 104.3,183.9" fill="none" stroke="#000" stroke-linecap="round" stroke-width="3.2" opacity="0.50"/>
<rect x="109.6" y="178.2" width="12.4" height="11.4" fill="#000" opacity="0.05"/>
<path d="M109.6,183.9 Q115.8,181.9 122.0,183.9" fill="none" stroke="#000" stroke-linecap="round" stroke-width="3.2" opacity="0.50"/>
<rect x="126.4" y="178.2" width="12.4" height="11.4" fill="#000" opacity="0.05"/>
<path d="M126.4,184.4 Q132.6,182.4 138.8,184.4" fill="none" stroke="#000" stroke-linecap="round" stroke-width="3.2" opacity="0.50"/>
<rect x="144.1" y="178.2" width="12.4" height="11.4" fill="#000" opacity="0.05"/>
<path d="M144.1,184.8 Q150.3,182.8 156.5,184.8" fill="none" stroke="#000" stroke-linecap="round" stroke-width="3.2" opacity="0.50"/>
<rect x="161.8" y="178.2" width="12.4" height="11.4" fill="#000" opacity="0.05"/>
<path d="M161.8,184.3 Q168.0,182.3 174.2,184.3" fill="none" stroke="#000" stroke-linecap="round" stroke-width="3.2" opacity="0.50"/>
</g></g>
<rect x="71.5" y="178.5" width="105.0" height="10.0" fill="none" stroke="#0a0a0a" stroke-width="1"/>
<clipPath id="bc5"><rect x="183.00" y="178.20" width="106.20" height="11.40"/></clipPath>
<rect x="183.00" y="178.20" width="106.20" height="11.40" fill="#bcbcbc" stroke="none" stroke-width="0" />
<g clip-path="url(#bc5)"><g filter="url(#b07)">
<rect x="184.6" y="180.3" width="15.6" height="6.6" rx="3" ry="2.5" fill="#000" opacity="0.26"/>
<rect x="185.4" y="181.6" width="14.0" height="4.0" rx="3.4" ry="1.7" fill="#000" opacity="0.85"/>
<rect x="202.3" y="180.5" width="15.6" height="6.6" rx="3" ry="2.5" fill="#000" opacity="0.28"/>
<rect x="203.2" y="181.8" width="14.0" height="4.0" rx="3.4" ry="1.7" fill="#000" opacity="0.95"/>
<rect x="220.0" y="180.1" width="15.6" height="6.6" rx="3" ry="2.5" fill="#000" opacity="0.24"/>
<rect x="220.8" y="181.4" width="14.0" height="4.0" rx="3.4" ry="1.7" fill="#000" opacity="0.80"/>
<rect x="236.8" y="180.3" width="15.6" height="6.6" rx="3" ry="2.5" fill="#000" opacity="0.24"/>
<rect x="237.6" y="181.6" width="14.0" height="4.0" rx="3.4" ry="1.7" fill="#000" opacity="0.80"/>
<rect x="254.5" y="180.5" width="15.6" height="6.6" rx="3" ry="2.5" fill="#000" opacity="0.20"/>
<rect x="255.3" y="181.8" width="14.0" height="4.0" rx="3.4" ry="1.7" fill="#000" opacity="0.65"/>
<rect x="272.2" y="180.6" width="15.6" height="6.6" rx="3" ry="2.5" fill="#000" opacity="0.17"/>
<rect x="273.0" y="181.9" width="14.0" height="4.0" rx="3.4" ry="1.7" fill="#000" opacity="0.55"/>
</g></g>
<rect x="183.5" y="178.5" width="105.0" height="10.0" fill="none" stroke="#0a0a0a" stroke-width="1"/>
<clipPath id="bc6"><rect x="294.20" y="178.20" width="106.10" height="11.40"/></clipPath>
<rect x="294.20" y="178.20" width="106.10" height="11.40" fill="#d2d2d2" stroke="none" stroke-width="0" />
<g clip-path="url(#bc6)"><g filter="url(#b07)">
<rect x="296.2" y="180.6" width="14.8" height="6.0" rx="3" ry="2.5" fill="#000" opacity="0.20"/>
<rect x="297.0" y="181.9" width="13.2" height="3.4" rx="3.4" ry="1.7" fill="#000" opacity="0.90"/>
<rect x="313.9" y="180.6" width="14.8" height="6.0" rx="3" ry="2.5" fill="#000" opacity="0.13"/>
<rect x="314.7" y="181.9" width="13.2" height="3.4" rx="3.4" ry="1.7" fill="#000" opacity="0.60"/>
<rect x="331.6" y="180.6" width="14.8" height="6.0" rx="3" ry="2.5" fill="#000" opacity="0.14"/>
<rect x="332.4" y="181.9" width="13.2" height="3.4" rx="3.4" ry="1.7" fill="#000" opacity="0.65"/>
<rect x="348.4" y="180.9" width="14.8" height="6.0" rx="3" ry="2.5" fill="#000" opacity="0.07"/>
<rect x="349.2" y="182.2" width="13.2" height="3.4" rx="3.4" ry="1.7" fill="#000" opacity="0.30"/>
<rect x="366.1" y="180.7" width="14.8" height="6.0" rx="3" ry="2.5" fill="#000" opacity="0.07"/>
<rect x="366.9" y="182.0" width="13.2" height="3.4" rx="3.4" ry="1.7" fill="#000" opacity="0.33"/>
<rect x="383.8" y="180.4" width="14.8" height="6.0" rx="3" ry="2.5" fill="#000" opacity="0.08"/>
<rect x="384.6" y="181.7" width="13.2" height="3.4" rx="3.4" ry="1.7" fill="#000" opacity="0.38"/>
</g></g>
<rect x="294.5" y="178.5" width="105.0" height="10.0" fill="none" stroke="#0a0a0a" stroke-width="1"/>
<text x="68.60" y="202.30" font-size="9.5" text-anchor="end" font-weight="normal" font-style="normal" fill="#000" >GAPDH</text>
<clipPath id="bc7"><rect x="71.00" y="193.20" width="106.20" height="11.60"/></clipPath>
<rect x="71.00" y="193.20" width="106.20" height="11.60" fill="#e2e2e2" stroke="none" stroke-width="0" />
<g clip-path="url(#bc7)"><g filter="url(#b06)">
<rect x="72.9" y="198.1" width="15.0" height="4.0" rx="3.4" ry="1.7" fill="#000" opacity="1.00"/>
<rect x="90.6" y="197.9" width="15.0" height="4.0" rx="3.4" ry="1.7" fill="#000" opacity="1.00"/>
<rect x="108.3" y="197.9" width="15.0" height="4.0" rx="3.4" ry="1.7" fill="#000" opacity="1.00"/>
<rect x="125.1" y="197.5" width="15.0" height="4.0" rx="3.4" ry="1.7" fill="#000" opacity="1.00"/>
<rect x="142.8" y="198.3" width="15.0" height="4.0" rx="3.4" ry="1.7" fill="#000" opacity="1.00"/>
<rect x="160.5" y="198.2" width="15.0" height="4.0" rx="3.4" ry="1.7" fill="#000" opacity="1.00"/>
</g></g>
<rect x="71.00" y="193.20" width="106.20" height="11.60" fill="none" stroke="#888" stroke-width="0.4"/>
<clipPath id="bc8"><rect x="183.00" y="193.20" width="106.20" height="11.60"/></clipPath>
<rect x="183.00" y="193.20" width="106.20" height="11.60" fill="#b8b8b8" stroke="none" stroke-width="0" />
<g clip-path="url(#bc8)"><g filter="url(#b07)">
<rect x="184.2" y="195.5" width="16.4" height="7.4" rx="3" ry="2.5" fill="#000" opacity="0.27"/>
<rect x="185.0" y="196.8" width="14.8" height="4.8" rx="3.4" ry="1.7" fill="#000" opacity="0.90"/>
<rect x="201.9" y="195.7" width="16.4" height="7.4" rx="3" ry="2.5" fill="#000" opacity="0.30"/>
<rect x="202.8" y="197.0" width="14.8" height="4.8" rx="3.4" ry="1.7" fill="#000" opacity="1.00"/>
<rect x="219.6" y="196.1" width="16.4" height="7.4" rx="3" ry="2.5" fill="#000" opacity="0.28"/>
<rect x="220.4" y="197.4" width="14.8" height="4.8" rx="3.4" ry="1.7" fill="#000" opacity="0.95"/>
<rect x="236.4" y="196.1" width="16.4" height="7.4" rx="3" ry="2.5" fill="#000" opacity="0.30"/>
<rect x="237.2" y="197.4" width="14.8" height="4.8" rx="3.4" ry="1.7" fill="#000" opacity="1.00"/>
<rect x="254.1" y="196.3" width="16.4" height="7.4" rx="3" ry="2.5" fill="#000" opacity="0.30"/>
<rect x="254.9" y="197.6" width="14.8" height="4.8" rx="3.4" ry="1.7" fill="#000" opacity="1.00"/>
<rect x="271.8" y="195.8" width="16.4" height="7.4" rx="3" ry="2.5" fill="#000" opacity="0.30"/>
<rect x="272.6" y="197.1" width="14.8" height="4.8" rx="3.4" ry="1.7" fill="#000" opacity="1.00"/>
</g></g>
<rect x="183.5" y="193.5" width="105.0" height="10.0" fill="none" stroke="#0a0a0a" stroke-width="1"/>
<clipPath id="bc9"><rect x="294.20" y="193.20" width="106.10" height="11.60"/></clipPath>
<rect x="294.20" y="193.20" width="106.10" height="11.60" fill="#e6e6e6" stroke="none" stroke-width="0" />
<g clip-path="url(#bc9)"><g filter="url(#b06)">
<rect x="296.6" y="197.5" width="14.0" height="3.6" rx="3.4" ry="1.7" fill="#000" opacity="1.00"/>
<rect x="314.3" y="197.4" width="14.0" height="3.6" rx="3.4" ry="1.7" fill="#000" opacity="1.00"/>
<rect x="332.0" y="197.0" width="14.0" height="3.6" rx="3.4" ry="1.7" fill="#000" opacity="1.00"/>
<rect x="348.8" y="197.3" width="14.0" height="3.6" rx="3.4" ry="1.7" fill="#000" opacity="1.00"/>
<rect x="366.5" y="197.6" width="14.0" height="3.6" rx="3.4" ry="1.7" fill="#000" opacity="1.00"/>
<rect x="384.2" y="197.5" width="14.0" height="3.6" rx="3.4" ry="1.7" fill="#000" opacity="1.00"/>
</g></g>
<rect x="294.20" y="193.20" width="106.10" height="11.60" fill="none" stroke="#888" stroke-width="0.4"/>
<rect x="440.80" y="157.84" width="8.00" height="47.46" fill="#1054b6" stroke="none" stroke-width="0" />
<rect x="449.60" y="158.74" width="8.00" height="46.56" fill="#b8075f" stroke="none" stroke-width="0" />
<rect x="462.95" y="161.00" width="8.00" height="44.30" fill="#1054b6" stroke="none" stroke-width="0" />
<rect x="471.75" y="172.30" width="8.00" height="33.00" fill="#b8075f" stroke="none" stroke-width="0" />
<rect x="485.10" y="160.10" width="8.00" height="45.20" fill="#1054b6" stroke="none" stroke-width="0" />
<rect x="493.90" y="187.22" width="8.00" height="18.08" fill="#b8075f" stroke="none" stroke-width="0" />
<line x1="436.50" y1="137.20" x2="436.50" y2="205.75" stroke="#000" stroke-width="1.0" />
<line x1="436.10" y1="205.50" x2="506.70" y2="205.50" stroke="#000" stroke-width="1.0" />
<line x1="430.00" y1="205.50" x2="436.50" y2="205.50" stroke="#000" stroke-width="1.0" />
<text x="429.70" y="208.50" font-size="8.9" text-anchor="end" font-weight="normal" font-style="normal" fill="#000" >0.0</text>
<line x1="430.00" y1="182.50" x2="436.50" y2="182.50" stroke="#000" stroke-width="1.0" />
<text x="429.70" y="185.90" font-size="8.9" text-anchor="end" font-weight="normal" font-style="normal" fill="#000" >0.5</text>
<line x1="430.00" y1="160.50" x2="436.50" y2="160.50" stroke="#000" stroke-width="1.0" />
<text x="429.70" y="163.30" font-size="8.9" text-anchor="end" font-weight="normal" font-style="normal" fill="#000" >1.0</text>
<line x1="430.00" y1="137.50" x2="436.50" y2="137.50" stroke="#000" stroke-width="1.0" />
<text x="429.70" y="140.70" font-size="8.9" text-anchor="end" font-weight="normal" font-style="normal" fill="#000" >1.5</text>
<line x1="449.50" y1="205.30" x2="449.50" y2="211.10" stroke="#000" stroke-width="1.0" />
<text x="449.20" y="219.00" font-size="9.3" text-anchor="middle" font-weight="normal" font-style="normal" fill="#000" >2M</text>
<line x1="471.50" y1="205.30" x2="471.50" y2="211.10" stroke="#000" stroke-width="1.0" />
<text x="471.35" y="219.00" font-size="9.3" text-anchor="middle" font-weight="normal" font-style="normal" fill="#000" >4M</text>
<line x1="493.50" y1="205.30" x2="493.50" y2="211.10" stroke="#000" stroke-width="1.0" />
<text x="493.50" y="219.00" font-size="9.3" text-anchor="middle" font-weight="normal" font-style="normal" fill="#000" >9M</text>
<text x="471.80" y="132.10" font-size="9.1" text-anchor="middle" font-weight="bold" font-style="normal" fill="#000" >Cldn5</text>
<line x1="444.80" y1="153.32" x2="444.80" y2="160.55" stroke="#000" stroke-width="0.7" />
<line x1="443.00" y1="153.32" x2="446.60" y2="153.32" stroke="#000" stroke-width="0.7" />
<circle cx="443.12" cy="161.42" r="1.3" fill="#fff" stroke="#111" stroke-width="0.6"/>
<circle cx="442.75" cy="155.38" r="1.3" fill="#fff" stroke="#111" stroke-width="0.6"/>
<circle cx="444.16" cy="157.26" r="1.3" fill="#fff" stroke="#111" stroke-width="0.6"/>
<circle cx="444.84" cy="165.03" r="1.3" fill="#fff" stroke="#111" stroke-width="0.6"/>
<circle cx="444.48" cy="165.37" r="1.3" fill="#fff" stroke="#111" stroke-width="0.6"/>
<circle cx="442.84" cy="164.84" r="1.3" fill="#fff" stroke="#111" stroke-width="0.6"/>
<line x1="453.60" y1="153.32" x2="453.60" y2="162.00" stroke="#000" stroke-width="0.7" />
<line x1="451.80" y1="153.32" x2="455.40" y2="153.32" stroke="#000" stroke-width="0.7" />
<circle cx="455.17" cy="160.88" r="1.3" fill="#fff" stroke="#111" stroke-width="0.6"/>
<circle cx="452.27" cy="167.25" r="1.3" fill="#fff" stroke="#111" stroke-width="0.6"/>
<circle cx="455.75" cy="155.86" r="1.3" fill="#fff" stroke="#111" stroke-width="0.6"/>
<circle cx="453.10" cy="157.00" r="1.3" fill="#fff" stroke="#111" stroke-width="0.6"/>
<circle cx="451.42" cy="147.98" r="1.3" fill="#fff" stroke="#111" stroke-width="0.6"/>
<circle cx="452.59" cy="150.64" r="1.3" fill="#fff" stroke="#111" stroke-width="0.6"/>
<line x1="466.95" y1="158.74" x2="466.95" y2="162.36" stroke="#000" stroke-width="0.7" />
<line x1="465.15" y1="158.74" x2="468.75" y2="158.74" stroke="#000" stroke-width="0.7" />
<circle cx="465.12" cy="165.02" r="1.3" fill="#fff" stroke="#111" stroke-width="0.6"/>
<circle cx="468.47" cy="162.74" r="1.3" fill="#fff" stroke="#111" stroke-width="0.6"/>
<circle cx="467.34" cy="163.89" r="1.3" fill="#fff" stroke="#111" stroke-width="0.6"/>
<circle cx="466.34" cy="159.75" r="1.3" fill="#fff" stroke="#111" stroke-width="0.6"/>
<circle cx="464.85" cy="160.57" r="1.3" fill="#fff" stroke="#111" stroke-width="0.6"/>
<circle cx="465.54" cy="164.99" r="1.3" fill="#fff" stroke="#111" stroke-width="0.6"/>
<line x1="475.75" y1="167.78" x2="475.75" y2="175.02" stroke="#000" stroke-width="0.7" />
<line x1="473.95" y1="167.78" x2="477.55" y2="167.78" stroke="#000" stroke-width="0.7" />
<circle cx="475.40" cy="167.21" r="1.3" fill="#fff" stroke="#111" stroke-width="0.6"/>
<circle cx="476.16" cy="176.50" r="1.3" fill="#fff" stroke="#111" stroke-width="0.6"/>
<circle cx="474.79" cy="173.36" r="1.3" fill="#fff" stroke="#111" stroke-width="0.6"/>
<circle cx="476.71" cy="165.65" r="1.3" fill="#fff" stroke="#111" stroke-width="0.6"/>
<circle cx="476.11" cy="178.09" r="1.3" fill="#fff" stroke="#111" stroke-width="0.6"/>
<circle cx="477.55" cy="171.73" r="1.3" fill="#fff" stroke="#111" stroke-width="0.6"/>
<line x1="489.10" y1="157.39" x2="489.10" y2="161.73" stroke="#000" stroke-width="0.7" />
<line x1="487.30" y1="157.39" x2="490.90" y2="157.39" stroke="#000" stroke-width="0.7" />
<circle cx="488.08" cy="155.43" r="1.3" fill="#fff" stroke="#111" stroke-width="0.6"/>
<circle cx="487.27" cy="152.29" r="1.3" fill="#fff" stroke="#111" stroke-width="0.6"/>
<circle cx="490.33" cy="161.43" r="1.3" fill="#fff" stroke="#111" stroke-width="0.6"/>
<circle cx="489.05" cy="165.76" r="1.3" fill="#fff" stroke="#111" stroke-width="0.6"/>
<circle cx="489.91" cy="167.60" r="1.3" fill="#fff" stroke="#111" stroke-width="0.6"/>
<circle cx="489.45" cy="155.79" r="1.3" fill="#fff" stroke="#111" stroke-width="0.6"/>
<line x1="497.90" y1="185.41" x2="497.90" y2="188.30" stroke="#000" stroke-width="0.7" />
<line x1="496.10" y1="185.41" x2="499.70" y2="185.41" stroke="#000" stroke-width="0.7" />
<circle cx="497.01" cy="183.83" r="1.3" fill="#fff" stroke="#111" stroke-width="0.6"/>
<circle cx="498.35" cy="185.81" r="1.3" fill="#fff" stroke="#111" stroke-width="0.6"/>
<circle cx="497.69" cy="186.64" r="1.3" fill="#fff" stroke="#111" stroke-width="0.6"/>
<circle cx="500.03" cy="184.76" r="1.3" fill="#fff" stroke="#111" stroke-width="0.6"/>
<circle cx="498.69" cy="187.41" r="1.3" fill="#fff" stroke="#111" stroke-width="0.6"/>
<circle cx="498.87" cy="190.40" r="1.3" fill="#fff" stroke="#111" stroke-width="0.6"/>
<circle cx="453.89" cy="137.50" r="1.3" fill="#fff" stroke="#111" stroke-width="0.6"/>
<circle cx="454.59" cy="176.82" r="1.3" fill="#fff" stroke="#111" stroke-width="0.6"/>
<circle cx="445.44" cy="146.54" r="1.3" fill="#fff" stroke="#111" stroke-width="0.6"/>
<circle cx="475.32" cy="153.32" r="1.3" fill="#fff" stroke="#111" stroke-width="0.6"/>
<circle cx="475.52" cy="184.96" r="1.3" fill="#fff" stroke="#111" stroke-width="0.6"/>
<text transform="translate(479.75,141.50) rotate(-90)" font-size="7.5" text-anchor="middle" font-weight="bold" fill="#000">*</text>
<text transform="translate(501.90,170.00) rotate(-90)" font-size="7.5" text-anchor="middle" font-weight="bold" fill="#000">**</text>
<text transform="translate(415.40,171.30) rotate(-90)" font-size="9.3" text-anchor="middle" font-weight="normal" fill="#000">Fold change</text>
<rect x="533.80" y="160.10" width="8.00" height="45.20" fill="#1054b6" stroke="none" stroke-width="0" />
<rect x="542.60" y="160.10" width="8.00" height="45.20" fill="#b8075f" stroke="none" stroke-width="0" />
<rect x="555.95" y="160.10" width="8.00" height="45.20" fill="#1054b6" stroke="none" stroke-width="0" />
<rect x="564.75" y="173.21" width="8.00" height="32.09" fill="#b8075f" stroke="none" stroke-width="0" />
<rect x="578.10" y="160.10" width="8.00" height="45.20" fill="#1054b6" stroke="none" stroke-width="0" />
<rect x="586.90" y="176.82" width="8.00" height="28.48" fill="#b8075f" stroke="none" stroke-width="0" />
<line x1="529.50" y1="137.20" x2="529.50" y2="205.75" stroke="#bbb" stroke-width="1.0" />
<line x1="529.40" y1="205.50" x2="599.70" y2="205.50" stroke="#999" stroke-width="1.0" />
<line x1="523.30" y1="205.50" x2="529.80" y2="205.50" stroke="#000" stroke-width="1.0" />
<text x="523.00" y="208.50" font-size="8.9" text-anchor="end" font-weight="normal" font-style="normal" fill="#000" >0.0</text>
<line x1="523.30" y1="182.50" x2="529.80" y2="182.50" stroke="#000" stroke-width="1.0" />
<text x="523.00" y="185.90" font-size="8.9" text-anchor="end" font-weight="normal" font-style="normal" fill="#000" >0.5</text>
<line x1="523.30" y1="160.50" x2="529.80" y2="160.50" stroke="#000" stroke-width="1.0" />
<text x="523.00" y="163.30" font-size="8.9" text-anchor="end" font-weight="normal" font-style="normal" fill="#000" >1.0</text>
<line x1="523.30" y1="137.50" x2="529.80" y2="137.50" stroke="#000" stroke-width="1.0" />
<text x="523.00" y="140.70" font-size="8.9" text-anchor="end" font-weight="normal" font-style="normal" fill="#000" >1.5</text>
<line x1="542.50" y1="205.30" x2="542.50" y2="211.10" stroke="#000" stroke-width="1.0" />
<text x="542.20" y="219.00" font-size="9.3" text-anchor="middle" font-weight="normal" font-style="normal" fill="#000" >2M</text>
<line x1="564.50" y1="205.30" x2="564.50" y2="211.10" stroke="#000" stroke-width="1.0" />
<text x="564.35" y="219.00" font-size="9.3" text-anchor="middle" font-weight="normal" font-style="normal" fill="#000" >4M</text>
<line x1="586.50" y1="205.30" x2="586.50" y2="211.10" stroke="#000" stroke-width="1.0" />
<text x="586.50" y="219.00" font-size="9.3" text-anchor="middle" font-weight="normal" font-style="normal" fill="#000" >9M</text>
<text x="564.30" y="132.10" font-size="9.1" text-anchor="middle" font-weight="bold" font-style="normal" fill="#000" >Glut1</text>
<line x1="537.80" y1="157.39" x2="537.80" y2="161.73" stroke="#000" stroke-width="0.7" />
<line x1="536.00" y1="157.39" x2="539.60" y2="157.39" stroke="#000" stroke-width="0.7" />
<circle cx="535.51" cy="157.24" r="1.3" fill="#fff" stroke="#111" stroke-width="0.6"/>
<circle cx="536.21" cy="160.62" r="1.3" fill="#fff" stroke="#111" stroke-width="0.6"/>
<circle cx="535.68" cy="165.29" r="1.3" fill="#fff" stroke="#111" stroke-width="0.6"/>
<circle cx="536.02" cy="156.46" r="1.3" fill="#fff" stroke="#111" stroke-width="0.6"/>
<circle cx="537.28" cy="163.52" r="1.3" fill="#fff" stroke="#111" stroke-width="0.6"/>
<circle cx="535.79" cy="155.06" r="1.3" fill="#fff" stroke="#111" stroke-width="0.6"/>
<line x1="546.60" y1="156.94" x2="546.60" y2="162.00" stroke="#000" stroke-width="0.7" />
<line x1="544.80" y1="156.94" x2="548.40" y2="156.94" stroke="#000" stroke-width="0.7" />
<circle cx="546.84" cy="160.96" r="1.3" fill="#fff" stroke="#111" stroke-width="0.6"/>
<circle cx="548.13" cy="154.90" r="1.3" fill="#fff" stroke="#111" stroke-width="0.6"/>
<circle cx="545.54" cy="155.16" r="1.3" fill="#fff" stroke="#111" stroke-width="0.6"/>
<circle cx="545.92" cy="161.25" r="1.3" fill="#fff" stroke="#111" stroke-width="0.6"/>
<circle cx="548.80" cy="154.89" r="1.3" fill="#fff" stroke="#111" stroke-width="0.6"/>
<circle cx="545.05" cy="164.83" r="1.3" fill="#fff" stroke="#111" stroke-width="0.6"/>
<line x1="559.95" y1="155.58" x2="559.95" y2="162.81" stroke="#000" stroke-width="0.7" />
<line x1="558.15" y1="155.58" x2="561.75" y2="155.58" stroke="#000" stroke-width="0.7" />
<circle cx="558.67" cy="167.67" r="1.3" fill="#fff" stroke="#111" stroke-width="0.6"/>
<circle cx="560.38" cy="160.44" r="1.3" fill="#fff" stroke="#111" stroke-width="0.6"/>
<circle cx="557.57" cy="165.46" r="1.3" fill="#fff" stroke="#111" stroke-width="0.6"/>
<circle cx="559.32" cy="161.93" r="1.3" fill="#fff" stroke="#111" stroke-width="0.6"/>
<circle cx="562.12" cy="158.60" r="1.3" fill="#fff" stroke="#111" stroke-width="0.6"/>
<circle cx="560.02" cy="155.79" r="1.3" fill="#fff" stroke="#111" stroke-width="0.6"/>
<line x1="568.75" y1="169.59" x2="568.75" y2="175.38" stroke="#000" stroke-width="0.7" />
<line x1="566.95" y1="169.59" x2="570.55" y2="169.59" stroke="#000" stroke-width="0.7" />
<circle cx="569.60" cy="169.89" r="1.3" fill="#fff" stroke="#111" stroke-width="0.6"/>
<circle cx="570.67" cy="183.29" r="1.3" fill="#fff" stroke="#111" stroke-width="0.6"/>
<circle cx="570.55" cy="166.88" r="1.3" fill="#fff" stroke="#111" stroke-width="0.6"/>
<circle cx="568.23" cy="166.48" r="1.3" fill="#fff" stroke="#111" stroke-width="0.6"/>
<circle cx="566.85" cy="175.49" r="1.3" fill="#fff" stroke="#111" stroke-width="0.6"/>
<circle cx="566.65" cy="170.17" r="1.3" fill="#fff" stroke="#111" stroke-width="0.6"/>
<line x1="582.10" y1="157.39" x2="582.10" y2="161.73" stroke="#000" stroke-width="0.7" />
<line x1="580.30" y1="157.39" x2="583.90" y2="157.39" stroke="#000" stroke-width="0.7" />
<circle cx="580.70" cy="169.88" r="1.3" fill="#fff" stroke="#111" stroke-width="0.6"/>
<circle cx="581.33" cy="166.21" r="1.3" fill="#fff" stroke="#111" stroke-width="0.6"/>
<circle cx="579.70" cy="168.19" r="1.3" fill="#fff" stroke="#111" stroke-width="0.6"/>
<circle cx="580.19" cy="166.41" r="1.3" fill="#fff" stroke="#111" stroke-width="0.6"/>
<circle cx="579.82" cy="162.57" r="1.3" fill="#fff" stroke="#111" stroke-width="0.6"/>
<circle cx="582.65" cy="153.33" r="1.3" fill="#fff" stroke="#111" stroke-width="0.6"/>
<line x1="590.90" y1="172.30" x2="590.90" y2="179.54" stroke="#000" stroke-width="0.7" />
<line x1="589.10" y1="172.30" x2="592.70" y2="172.30" stroke="#000" stroke-width="0.7" />
<circle cx="589.71" cy="188.74" r="1.3" fill="#fff" stroke="#111" stroke-width="0.6"/>
<circle cx="590.25" cy="180.96" r="1.3" fill="#fff" stroke="#111" stroke-width="0.6"/>
<circle cx="592.57" cy="187.05" r="1.3" fill="#fff" stroke="#111" stroke-width="0.6"/>
<circle cx="590.74" cy="163.45" r="1.3" fill="#fff" stroke="#111" stroke-width="0.6"/>
<circle cx="588.91" cy="177.26" r="1.3" fill="#fff" stroke="#111" stroke-width="0.6"/>
<circle cx="590.14" cy="187.61" r="1.3" fill="#fff" stroke="#111" stroke-width="0.6"/>
<text transform="translate(572.75,146.00) rotate(-90)" font-size="7.5" text-anchor="middle" font-weight="bold" fill="#000">*</text>
<text transform="translate(594.90,145.00) rotate(-90)" font-size="7.5" text-anchor="middle" font-weight="bold" fill="#000">**</text>
<text x="0.60" y="228.40" font-size="13.8" text-anchor="start" font-weight="bold" font-style="normal" fill="#000" >C</text>
<rect x="56.00" y="264.70" width="8.00" height="44.30" fill="#1054b6" stroke="none" stroke-width="0" />
<rect x="64.80" y="262.44" width="8.00" height="46.56" fill="#b8075f" stroke="none" stroke-width="0" />
<rect x="78.15" y="264.70" width="8.00" height="44.30" fill="#1054b6" stroke="none" stroke-width="0" />
<rect x="86.95" y="284.59" width="8.00" height="24.41" fill="#b8075f" stroke="none" stroke-width="0" />
<rect x="100.30" y="264.70" width="8.00" height="44.30" fill="#1054b6" stroke="none" stroke-width="0" />
<rect x="109.10" y="300.86" width="8.00" height="8.14" fill="#b8075f" stroke="none" stroke-width="0" />
<line x1="51.50" y1="240.90" x2="51.50" y2="309.45" stroke="#000" stroke-width="1.0" />
<line x1="50.90" y1="309.50" x2="121.90" y2="309.50" stroke="#000" stroke-width="1.0" />
<line x1="44.80" y1="309.50" x2="51.30" y2="309.50" stroke="#000" stroke-width="1.0" />
<text x="44.50" y="312.20" font-size="8.9" text-anchor="end" font-weight="normal" font-style="normal" fill="#000" >0.0</text>
<line x1="44.80" y1="286.50" x2="51.30" y2="286.50" stroke="#000" stroke-width="1.0" />
<text x="44.50" y="289.60" font-size="8.9" text-anchor="end" font-weight="normal" font-style="normal" fill="#000" >0.5</text>
<line x1="44.80" y1="263.50" x2="51.30" y2="263.50" stroke="#000" stroke-width="1.0" />
<text x="44.50" y="267.00" font-size="8.9" text-anchor="end" font-weight="normal" font-style="normal" fill="#000" >1.0</text>
<line x1="44.80" y1="241.50" x2="51.30" y2="241.50" stroke="#000" stroke-width="1.0" />
<text x="44.50" y="244.40" font-size="8.9" text-anchor="end" font-weight="normal" font-style="normal" fill="#000" >1.5</text>
<line x1="64.50" y1="309.00" x2="64.50" y2="314.80" stroke="#000" stroke-width="1.0" />
<text x="64.40" y="322.70" font-size="9.3" text-anchor="middle" font-weight="normal" font-style="normal" fill="#000" >2M</text>
<line x1="86.50" y1="309.00" x2="86.50" y2="314.80" stroke="#000" stroke-width="1.0" />
<text x="86.55" y="322.70" font-size="9.3" text-anchor="middle" font-weight="normal" font-style="normal" fill="#000" >4M</text>
<line x1="108.50" y1="309.00" x2="108.50" y2="314.80" stroke="#000" stroke-width="1.0" />
<text x="108.70" y="322.70" font-size="9.3" text-anchor="middle" font-weight="normal" font-style="normal" fill="#000" >9M</text>
<text x="86.00" y="233.80" font-size="9.1" text-anchor="middle" font-weight="bold" font-style="normal" fill="#000" >Cldn5</text>
<line x1="60.00" y1="262.44" x2="60.00" y2="266.06" stroke="#000" stroke-width="0.7" />
<line x1="58.20" y1="262.44" x2="61.80" y2="262.44" stroke="#000" stroke-width="0.7" />
<circle cx="61.58" cy="267.36" r="1.3" fill="#fff" stroke="#111" stroke-width="0.6"/>
<circle cx="57.71" cy="267.76" r="1.3" fill="#fff" stroke="#111" stroke-width="0.6"/>
<circle cx="60.14" cy="260.63" r="1.3" fill="#fff" stroke="#111" stroke-width="0.6"/>
<circle cx="60.21" cy="267.90" r="1.3" fill="#fff" stroke="#111" stroke-width="0.6"/>
<circle cx="60.13" cy="268.98" r="1.3" fill="#fff" stroke="#111" stroke-width="0.6"/>
<circle cx="61.74" cy="260.38" r="1.3" fill="#fff" stroke="#111" stroke-width="0.6"/>
<line x1="68.80" y1="259.73" x2="68.80" y2="264.07" stroke="#000" stroke-width="0.7" />
<line x1="67.00" y1="259.73" x2="70.60" y2="259.73" stroke="#000" stroke-width="0.7" />
<circle cx="67.65" cy="259.78" r="1.3" fill="#fff" stroke="#111" stroke-width="0.6"/>
<circle cx="67.20" cy="263.89" r="1.3" fill="#fff" stroke="#111" stroke-width="0.6"/>
<circle cx="68.96" cy="259.49" r="1.3" fill="#fff" stroke="#111" stroke-width="0.6"/>
<circle cx="67.98" cy="259.42" r="1.3" fill="#fff" stroke="#111" stroke-width="0.6"/>
<circle cx="70.30" cy="265.45" r="1.3" fill="#fff" stroke="#111" stroke-width="0.6"/>
<circle cx="70.49" cy="257.18" r="1.3" fill="#fff" stroke="#111" stroke-width="0.6"/>
<line x1="82.15" y1="259.28" x2="82.15" y2="267.96" stroke="#000" stroke-width="0.7" />
<line x1="80.35" y1="259.28" x2="83.95" y2="259.28" stroke="#000" stroke-width="0.7" />
<circle cx="83.68" cy="256.06" r="1.3" fill="#fff" stroke="#111" stroke-width="0.6"/>
<circle cx="80.84" cy="259.28" r="1.3" fill="#fff" stroke="#111" stroke-width="0.6"/>
<circle cx="81.46" cy="264.31" r="1.3" fill="#fff" stroke="#111" stroke-width="0.6"/>
<circle cx="79.88" cy="275.35" r="1.3" fill="#fff" stroke="#111" stroke-width="0.6"/>
<circle cx="80.99" cy="269.69" r="1.3" fill="#fff" stroke="#111" stroke-width="0.6"/>
<circle cx="84.34" cy="260.35" r="1.3" fill="#fff" stroke="#111" stroke-width="0.6"/>
<line x1="90.95" y1="280.07" x2="90.95" y2="287.30" stroke="#000" stroke-width="0.7" />
<line x1="89.15" y1="280.07" x2="92.75" y2="280.07" stroke="#000" stroke-width="0.7" />
<circle cx="93.05" cy="286.08" r="1.3" fill="#fff" stroke="#111" stroke-width="0.6"/>
<circle cx="93.13" cy="273.56" r="1.3" fill="#fff" stroke="#111" stroke-width="0.6"/>
<circle cx="89.61" cy="287.65" r="1.3" fill="#fff" stroke="#111" stroke-width="0.6"/>
<circle cx="89.49" cy="290.77" r="1.3" fill="#fff" stroke="#111" stroke-width="0.6"/>
<circle cx="91.55" cy="291.27" r="1.3" fill="#fff" stroke="#111" stroke-width="0.6"/>
<circle cx="92.58" cy="275.55" r="1.3" fill="#fff" stroke="#111" stroke-width="0.6"/>
<line x1="104.30" y1="262.90" x2="104.30" y2="265.79" stroke="#000" stroke-width="0.7" />
<line x1="102.50" y1="262.90" x2="106.10" y2="262.90" stroke="#000" stroke-width="0.7" />
<circle cx="105.03" cy="264.89" r="1.3" fill="#fff" stroke="#111" stroke-width="0.6"/>
<circle cx="102.31" cy="262.54" r="1.3" fill="#fff" stroke="#111" stroke-width="0.6"/>
<circle cx="106.27" cy="263.54" r="1.3" fill="#fff" stroke="#111" stroke-width="0.6"/>
<circle cx="105.50" cy="262.66" r="1.3" fill="#fff" stroke="#111" stroke-width="0.6"/>
<circle cx="102.76" cy="264.86" r="1.3" fill="#fff" stroke="#111" stroke-width="0.6"/>
<circle cx="103.50" cy="262.61" r="1.3" fill="#fff" stroke="#111" stroke-width="0.6"/>
<line x1="113.10" y1="299.06" x2="113.10" y2="301.95" stroke="#000" stroke-width="0.7" />
<line x1="111.30" y1="299.06" x2="114.90" y2="299.06" stroke="#000" stroke-width="0.7" />
<circle cx="115.36" cy="298.14" r="1.3" fill="#fff" stroke="#111" stroke-width="0.6"/>
<circle cx="112.63" cy="301.62" r="1.3" fill="#fff" stroke="#111" stroke-width="0.6"/>
<circle cx="114.18" cy="297.63" r="1.3" fill="#fff" stroke="#111" stroke-width="0.6"/>
<circle cx="111.31" cy="303.25" r="1.3" fill="#fff" stroke="#111" stroke-width="0.6"/>
<circle cx="115.04" cy="303.39" r="1.3" fill="#fff" stroke="#111" stroke-width="0.6"/>
<circle cx="111.40" cy="298.65" r="1.3" fill="#fff" stroke="#111" stroke-width="0.6"/>
<circle cx="82.80" cy="245.72" r="1.3" fill="#fff" stroke="#111" stroke-width="0.6"/>
<circle cx="83.11" cy="251.60" r="1.3" fill="#fff" stroke="#111" stroke-width="0.6"/>
<circle cx="82.46" cy="280.98" r="1.3" fill="#fff" stroke="#111" stroke-width="0.6"/>
<circle cx="90.65" cy="268.32" r="1.3" fill="#fff" stroke="#111" stroke-width="0.6"/>
<circle cx="91.05" cy="297.70" r="1.3" fill="#fff" stroke="#111" stroke-width="0.6"/>
<text transform="translate(94.95,253.50) rotate(-90)" font-size="7.5" text-anchor="middle" font-weight="bold" fill="#000">*</text>
<text transform="translate(117.10,282.00) rotate(-90)" font-size="7.5" text-anchor="middle" font-weight="bold" fill="#000">**</text>
<text transform="translate(19.30,276.50) rotate(-90)" font-size="9.3" text-anchor="middle" font-weight="normal" fill="#000">Relative</text>
<text transform="translate(30.30,276.10) rotate(-90)" font-size="9.3" text-anchor="middle" textLength="69.8" lengthAdjust="spacingAndGlyphs">mRNA expression</text>
<rect x="175.50" y="264.70" width="8.00" height="44.30" fill="#1054b6" stroke="none" stroke-width="0" />
<rect x="184.30" y="265.61" width="8.00" height="43.39" fill="#b8075f" stroke="none" stroke-width="0" />
<rect x="197.65" y="264.70" width="8.00" height="44.30" fill="#1054b6" stroke="none" stroke-width="0" />
<rect x="206.45" y="283.69" width="8.00" height="25.31" fill="#b8075f" stroke="none" stroke-width="0" />
<rect x="219.80" y="264.70" width="8.00" height="44.30" fill="#1054b6" stroke="none" stroke-width="0" />
<rect x="228.60" y="295.89" width="8.00" height="13.11" fill="#b8075f" stroke="none" stroke-width="0" />
<line x1="170.50" y1="240.90" x2="170.50" y2="309.45" stroke="#bbb" stroke-width="1.0" />
<line x1="170.10" y1="309.50" x2="241.40" y2="309.50" stroke="#000" stroke-width="1.0" />
<line x1="164.00" y1="309.50" x2="170.50" y2="309.50" stroke="#000" stroke-width="1.0" />
<text x="163.70" y="312.20" font-size="8.9" text-anchor="end" font-weight="normal" font-style="normal" fill="#000" >0.0</text>
<line x1="164.00" y1="286.50" x2="170.50" y2="286.50" stroke="#000" stroke-width="1.0" />
<text x="163.70" y="289.60" font-size="8.9" text-anchor="end" font-weight="normal" font-style="normal" fill="#000" >0.5</text>
<line x1="164.00" y1="263.50" x2="170.50" y2="263.50" stroke="#000" stroke-width="1.0" />
<text x="163.70" y="267.00" font-size="8.9" text-anchor="end" font-weight="normal" font-style="normal" fill="#000" >1.0</text>
<line x1="164.00" y1="241.50" x2="170.50" y2="241.50" stroke="#000" stroke-width="1.0" />
<text x="163.70" y="244.40" font-size="8.9" text-anchor="end" font-weight="normal" font-style="normal" fill="#000" >1.5</text>
<line x1="183.50" y1="309.00" x2="183.50" y2="314.80" stroke="#000" stroke-width="1.0" />
<text x="183.90" y="322.70" font-size="9.3" text-anchor="middle" font-weight="normal" font-style="normal" fill="#000" >2M</text>
<line x1="206.50" y1="309.00" x2="206.50" y2="314.80" stroke="#000" stroke-width="1.0" />
<text x="206.05" y="322.70" font-size="9.3" text-anchor="middle" font-weight="normal" font-style="normal" fill="#000" >4M</text>
<line x1="228.50" y1="309.00" x2="228.50" y2="314.80" stroke="#000" stroke-width="1.0" />
<text x="228.20" y="322.70" font-size="9.3" text-anchor="middle" font-weight="normal" font-style="normal" fill="#000" >9M</text>
<text x="206.50" y="233.80" font-size="9.1" text-anchor="middle" font-weight="bold" font-style="normal" fill="#000" >Slc2a1 (Glut1)</text>
<line x1="179.50" y1="261.09" x2="179.50" y2="266.87" stroke="#000" stroke-width="0.7" />
<line x1="177.70" y1="261.09" x2="181.30" y2="261.09" stroke="#000" stroke-width="0.7" />
<circle cx="177.17" cy="275.13" r="1.3" fill="#fff" stroke="#111" stroke-width="0.6"/>
<circle cx="180.22" cy="254.06" r="1.3" fill="#fff" stroke="#111" stroke-width="0.6"/>
<circle cx="181.58" cy="264.10" r="1.3" fill="#fff" stroke="#111" stroke-width="0.6"/>
<circle cx="181.28" cy="266.20" r="1.3" fill="#fff" stroke="#111" stroke-width="0.6"/>
<circle cx="178.11" cy="257.33" r="1.3" fill="#fff" stroke="#111" stroke-width="0.6"/>
<circle cx="178.51" cy="270.31" r="1.3" fill="#fff" stroke="#111" stroke-width="0.6"/>
<line x1="188.30" y1="261.99" x2="188.30" y2="267.78" stroke="#000" stroke-width="0.7" />
<line x1="186.50" y1="261.99" x2="190.10" y2="261.99" stroke="#000" stroke-width="0.7" />
<circle cx="188.71" cy="271.47" r="1.3" fill="#fff" stroke="#111" stroke-width="0.6"/>
<circle cx="187.91" cy="269.96" r="1.3" fill="#fff" stroke="#111" stroke-width="0.6"/>
<circle cx="190.27" cy="272.28" r="1.3" fill="#fff" stroke="#111" stroke-width="0.6"/>
<circle cx="188.10" cy="268.25" r="1.3" fill="#fff" stroke="#111" stroke-width="0.6"/>
<circle cx="190.24" cy="264.10" r="1.3" fill="#fff" stroke="#111" stroke-width="0.6"/>
<circle cx="190.31" cy="267.04" r="1.3" fill="#fff" stroke="#111" stroke-width="0.6"/>
<line x1="201.65" y1="261.09" x2="201.65" y2="266.87" stroke="#000" stroke-width="0.7" />
<line x1="199.85" y1="261.09" x2="203.45" y2="261.09" stroke="#000" stroke-width="0.7" />
<circle cx="201.80" cy="264.67" r="1.3" fill="#fff" stroke="#111" stroke-width="0.6"/>
<circle cx="199.34" cy="264.28" r="1.3" fill="#fff" stroke="#111" stroke-width="0.6"/>
<circle cx="200.13" cy="265.79" r="1.3" fill="#fff" stroke="#111" stroke-width="0.6"/>
<circle cx="203.09" cy="273.67" r="1.3" fill="#fff" stroke="#111" stroke-width="0.6"/>
<circle cx="201.52" cy="270.63" r="1.3" fill="#fff" stroke="#111" stroke-width="0.6"/>
<circle cx="201.92" cy="260.63" r="1.3" fill="#fff" stroke="#111" stroke-width="0.6"/>
<line x1="210.45" y1="279.17" x2="210.45" y2="286.40" stroke="#000" stroke-width="0.7" />
<line x1="208.65" y1="279.17" x2="212.25" y2="279.17" stroke="#000" stroke-width="0.7" />
<circle cx="210.54" cy="288.60" r="1.3" fill="#fff" stroke="#111" stroke-width="0.6"/>
<circle cx="211.81" cy="282.44" r="1.3" fill="#fff" stroke="#111" stroke-width="0.6"/>
<circle cx="210.74" cy="292.59" r="1.3" fill="#fff" stroke="#111" stroke-width="0.6"/>
<circle cx="209.38" cy="289.37" r="1.3" fill="#fff" stroke="#111" stroke-width="0.6"/>
<circle cx="210.49" cy="277.53" r="1.3" fill="#fff" stroke="#111" stroke-width="0.6"/>
<circle cx="211.70" cy="282.29" r="1.3" fill="#fff" stroke="#111" stroke-width="0.6"/>
<line x1="223.80" y1="262.44" x2="223.80" y2="266.06" stroke="#000" stroke-width="0.7" />
<line x1="222.00" y1="262.44" x2="225.60" y2="262.44" stroke="#000" stroke-width="0.7" />
<circle cx="223.53" cy="259.11" r="1.3" fill="#fff" stroke="#111" stroke-width="0.6"/>
<circle cx="223.83" cy="263.48" r="1.3" fill="#fff" stroke="#111" stroke-width="0.6"/>
<circle cx="224.73" cy="264.57" r="1.3" fill="#fff" stroke="#111" stroke-width="0.6"/>
<circle cx="223.96" cy="265.22" r="1.3" fill="#fff" stroke="#111" stroke-width="0.6"/>
<circle cx="225.92" cy="264.94" r="1.3" fill="#fff" stroke="#111" stroke-width="0.6"/>
<circle cx="225.61" cy="262.54" r="1.3" fill="#fff" stroke="#111" stroke-width="0.6"/>
<line x1="232.60" y1="293.18" x2="232.60" y2="297.52" stroke="#000" stroke-width="0.7" />
<line x1="230.80" y1="293.18" x2="234.40" y2="293.18" stroke="#000" stroke-width="0.7" />
<circle cx="231.45" cy="289.90" r="1.3" fill="#fff" stroke="#111" stroke-width="0.6"/>
<circle cx="234.73" cy="295.25" r="1.3" fill="#fff" stroke="#111" stroke-width="0.6"/>
<circle cx="230.86" cy="292.20" r="1.3" fill="#fff" stroke="#111" stroke-width="0.6"/>
<circle cx="232.32" cy="300.00" r="1.3" fill="#fff" stroke="#111" stroke-width="0.6"/>
<circle cx="231.36" cy="300.53" r="1.3" fill="#fff" stroke="#111" stroke-width="0.6"/>
<circle cx="233.41" cy="300.52" r="1.3" fill="#fff" stroke="#111" stroke-width="0.6"/>
<text transform="translate(214.45,255.00) rotate(-90)" font-size="7.5" text-anchor="middle" font-weight="bold" fill="#000">*</text>
<text transform="translate(236.60,277.00) rotate(-90)" font-size="7.5" text-anchor="middle" font-weight="bold" fill="#000">**</text>
<text transform="translate(138.50,276.50) rotate(-90)" font-size="9.3" text-anchor="middle" font-weight="normal" fill="#000">Relative</text>
<text transform="translate(149.50,276.10) rotate(-90)" font-size="9.3" text-anchor="middle" textLength="69.8" lengthAdjust="spacingAndGlyphs">mRNA expression</text>
<rect x="294.80" y="264.25" width="8.00" height="44.75" fill="#1054b6" stroke="none" stroke-width="0" />
<rect x="303.60" y="266.96" width="8.00" height="42.04" fill="#b8075f" stroke="none" stroke-width="0" />
<rect x="316.95" y="264.25" width="8.00" height="44.75" fill="#1054b6" stroke="none" stroke-width="0" />
<rect x="325.75" y="286.40" width="8.00" height="22.60" fill="#b8075f" stroke="none" stroke-width="0" />
<rect x="339.10" y="264.25" width="8.00" height="44.75" fill="#1054b6" stroke="none" stroke-width="0" />
<rect x="347.90" y="295.44" width="8.00" height="13.56" fill="#b8075f" stroke="none" stroke-width="0" />
<line x1="290.50" y1="240.90" x2="290.50" y2="309.45" stroke="#eee" stroke-width="1.0" />
<line x1="289.80" y1="309.50" x2="360.70" y2="309.50" stroke="#000" stroke-width="1.0" />
<line x1="283.70" y1="309.50" x2="290.20" y2="309.50" stroke="#000" stroke-width="1.0" />
<text x="283.40" y="312.20" font-size="8.9" text-anchor="end" font-weight="normal" font-style="normal" fill="#000" >0.0</text>
<line x1="283.70" y1="286.50" x2="290.20" y2="286.50" stroke="#000" stroke-width="1.0" />
<text x="283.40" y="289.60" font-size="8.9" text-anchor="end" font-weight="normal" font-style="normal" fill="#000" >0.5</text>
<line x1="283.70" y1="263.50" x2="290.20" y2="263.50" stroke="#000" stroke-width="1.0" />
<text x="283.40" y="267.00" font-size="8.9" text-anchor="end" font-weight="normal" font-style="normal" fill="#000" >1.0</text>
<line x1="283.70" y1="241.50" x2="290.20" y2="241.50" stroke="#000" stroke-width="1.0" />
<text x="283.40" y="244.40" font-size="8.9" text-anchor="end" font-weight="normal" font-style="normal" fill="#000" >1.5</text>
<line x1="303.50" y1="309.00" x2="303.50" y2="314.80" stroke="#ccc" stroke-width="1.0" />
<text x="303.20" y="322.70" font-size="9.3" text-anchor="middle" font-weight="normal" font-style="normal" fill="#000" >2M</text>
<line x1="325.50" y1="309.00" x2="325.50" y2="314.80" stroke="#ccc" stroke-width="1.0" />
<text x="325.35" y="322.70" font-size="9.3" text-anchor="middle" font-weight="normal" font-style="normal" fill="#000" >4M</text>
<line x1="347.50" y1="309.00" x2="347.50" y2="314.80" stroke="#ccc" stroke-width="1.0" />
<text x="347.50" y="322.70" font-size="9.3" text-anchor="middle" font-weight="normal" font-style="normal" fill="#000" >9M</text>
<text x="326.50" y="233.80" font-size="9.1" text-anchor="middle" font-weight="bold" font-style="normal" fill="#000" >Tjp1 (Zo1)</text>
<line x1="298.80" y1="260.64" x2="298.80" y2="266.42" stroke="#000" stroke-width="0.7" />
<line x1="297.00" y1="260.64" x2="300.60" y2="260.64" stroke="#000" stroke-width="0.7" />
<circle cx="300.71" cy="257.84" r="1.3" fill="#fff" stroke="#111" stroke-width="0.6"/>
<circle cx="299.84" cy="270.50" r="1.3" fill="#fff" stroke="#111" stroke-width="0.6"/>
<circle cx="297.09" cy="261.35" r="1.3" fill="#fff" stroke="#111" stroke-width="0.6"/>
<circle cx="301.04" cy="257.33" r="1.3" fill="#fff" stroke="#111" stroke-width="0.6"/>
<circle cx="300.97" cy="269.32" r="1.3" fill="#fff" stroke="#111" stroke-width="0.6"/>
<circle cx="298.74" cy="266.09" r="1.3" fill="#fff" stroke="#111" stroke-width="0.6"/>
<line x1="307.60" y1="263.80" x2="307.60" y2="268.86" stroke="#000" stroke-width="0.7" />
<line x1="305.80" y1="263.80" x2="309.40" y2="263.80" stroke="#000" stroke-width="0.7" />
<circle cx="309.20" cy="260.32" r="1.3" fill="#fff" stroke="#111" stroke-width="0.6"/>
<circle cx="307.27" cy="270.64" r="1.3" fill="#fff" stroke="#111" stroke-width="0.6"/>
<circle cx="306.83" cy="266.79" r="1.3" fill="#fff" stroke="#111" stroke-width="0.6"/>
<circle cx="306.73" cy="270.26" r="1.3" fill="#fff" stroke="#111" stroke-width="0.6"/>
<circle cx="305.29" cy="264.55" r="1.3" fill="#fff" stroke="#111" stroke-width="0.6"/>
<circle cx="307.31" cy="266.38" r="1.3" fill="#fff" stroke="#111" stroke-width="0.6"/>
<line x1="320.95" y1="256.12" x2="320.95" y2="269.13" stroke="#000" stroke-width="0.7" />
<line x1="319.15" y1="256.12" x2="322.75" y2="256.12" stroke="#000" stroke-width="0.7" />
<circle cx="320.14" cy="277.87" r="1.3" fill="#fff" stroke="#111" stroke-width="0.6"/>
<circle cx="321.01" cy="261.45" r="1.3" fill="#fff" stroke="#111" stroke-width="0.6"/>
<circle cx="323.28" cy="274.10" r="1.3" fill="#fff" stroke="#111" stroke-width="0.6"/>
<circle cx="323.21" cy="257.73" r="1.3" fill="#fff" stroke="#111" stroke-width="0.6"/>
<circle cx="319.82" cy="273.18" r="1.3" fill="#fff" stroke="#111" stroke-width="0.6"/>
<circle cx="322.29" cy="274.66" r="1.3" fill="#fff" stroke="#111" stroke-width="0.6"/>
<line x1="329.75" y1="282.78" x2="329.75" y2="288.57" stroke="#000" stroke-width="0.7" />
<line x1="327.95" y1="282.78" x2="331.55" y2="282.78" stroke="#000" stroke-width="0.7" />
<circle cx="327.97" cy="288.99" r="1.3" fill="#fff" stroke="#111" stroke-width="0.6"/>
<circle cx="331.72" cy="287.10" r="1.3" fill="#fff" stroke="#111" stroke-width="0.6"/>
<circle cx="328.59" cy="283.52" r="1.3" fill="#fff" stroke="#111" stroke-width="0.6"/>
<circle cx="331.76" cy="289.57" r="1.3" fill="#fff" stroke="#111" stroke-width="0.6"/>
<circle cx="330.71" cy="285.76" r="1.3" fill="#fff" stroke="#111" stroke-width="0.6"/>
<circle cx="327.63" cy="290.11" r="1.3" fill="#fff" stroke="#111" stroke-width="0.6"/>
<line x1="343.10" y1="261.54" x2="343.10" y2="265.88" stroke="#000" stroke-width="0.7" />
<line x1="341.30" y1="261.54" x2="344.90" y2="261.54" stroke="#000" stroke-width="0.7" />
<circle cx="342.74" cy="261.06" r="1.3" fill="#fff" stroke="#111" stroke-width="0.6"/>
<circle cx="345.20" cy="270.05" r="1.3" fill="#fff" stroke="#111" stroke-width="0.6"/>
<circle cx="344.55" cy="262.43" r="1.3" fill="#fff" stroke="#111" stroke-width="0.6"/>
<circle cx="344.81" cy="269.90" r="1.3" fill="#fff" stroke="#111" stroke-width="0.6"/>
<circle cx="344.84" cy="270.13" r="1.3" fill="#fff" stroke="#111" stroke-width="0.6"/>
<circle cx="342.33" cy="264.88" r="1.3" fill="#fff" stroke="#111" stroke-width="0.6"/>
<line x1="351.90" y1="293.18" x2="351.90" y2="296.80" stroke="#000" stroke-width="0.7" />
<line x1="350.10" y1="293.18" x2="353.70" y2="293.18" stroke="#000" stroke-width="0.7" />
<circle cx="353.95" cy="294.72" r="1.3" fill="#fff" stroke="#111" stroke-width="0.6"/>
<circle cx="350.12" cy="297.96" r="1.3" fill="#fff" stroke="#111" stroke-width="0.6"/>
<circle cx="350.64" cy="295.15" r="1.3" fill="#fff" stroke="#111" stroke-width="0.6"/>
<circle cx="350.27" cy="299.68" r="1.3" fill="#fff" stroke="#111" stroke-width="0.6"/>
<circle cx="350.47" cy="300.32" r="1.3" fill="#fff" stroke="#111" stroke-width="0.6"/>
<circle cx="350.96" cy="297.48" r="1.3" fill="#fff" stroke="#111" stroke-width="0.6"/>
<circle cx="321.47" cy="244.82" r="1.3" fill="#fff" stroke="#111" stroke-width="0.6"/>
<circle cx="320.53" cy="250.24" r="1.3" fill="#fff" stroke="#111" stroke-width="0.6"/>
<circle cx="320.95" cy="279.17" r="1.3" fill="#fff" stroke="#111" stroke-width="0.6"/>
<circle cx="320.31" cy="279.17" r="1.3" fill="#fff" stroke="#111" stroke-width="0.6"/>
<circle cx="298.49" cy="252.50" r="1.3" fill="#fff" stroke="#111" stroke-width="0.6"/>
<text transform="translate(333.75,264.00) rotate(-90)" font-size="7.5" text-anchor="middle" font-weight="bold" fill="#000">*</text>
<text transform="translate(355.90,276.00) rotate(-90)" font-size="7.5" text-anchor="middle" font-weight="bold" fill="#000">**</text>
<text transform="translate(258.20,276.50) rotate(-90)" font-size="9.3" text-anchor="middle" font-weight="normal" fill="#000">Relative</text>
<text transform="translate(269.20,276.10) rotate(-90)" font-size="9.3" text-anchor="middle" textLength="69.8" lengthAdjust="spacingAndGlyphs">mRNA expression</text>
<rect x="414.00" y="264.25" width="8.00" height="44.75" fill="#1054b6" stroke="none" stroke-width="0" />
<rect x="422.80" y="261.99" width="8.00" height="47.01" fill="#b8075f" stroke="none" stroke-width="0" />
<rect x="436.15" y="264.25" width="8.00" height="44.75" fill="#1054b6" stroke="none" stroke-width="0" />
<rect x="444.95" y="282.78" width="8.00" height="26.22" fill="#b8075f" stroke="none" stroke-width="0" />
<rect x="458.30" y="264.25" width="8.00" height="44.75" fill="#1054b6" stroke="none" stroke-width="0" />
<rect x="467.10" y="294.08" width="8.00" height="14.92" fill="#b8075f" stroke="none" stroke-width="0" />
<line x1="409.50" y1="240.90" x2="409.50" y2="309.45" stroke="#000" stroke-width="1.0" />
<line x1="409.30" y1="309.50" x2="479.90" y2="309.50" stroke="#000" stroke-width="1.0" />
<line x1="403.20" y1="309.50" x2="409.70" y2="309.50" stroke="#000" stroke-width="1.0" />
<text x="402.90" y="312.20" font-size="8.9" text-anchor="end" font-weight="normal" font-style="normal" fill="#000" >0.0</text>
<line x1="403.20" y1="286.50" x2="409.70" y2="286.50" stroke="#000" stroke-width="1.0" />
<text x="402.90" y="289.60" font-size="8.9" text-anchor="end" font-weight="normal" font-style="normal" fill="#000" >0.5</text>
<line x1="403.20" y1="263.50" x2="409.70" y2="263.50" stroke="#000" stroke-width="1.0" />
<text x="402.90" y="267.00" font-size="8.9" text-anchor="end" font-weight="normal" font-style="normal" fill="#000" >1.0</text>
<line x1="403.20" y1="241.50" x2="409.70" y2="241.50" stroke="#000" stroke-width="1.0" />
<text x="402.90" y="244.40" font-size="8.9" text-anchor="end" font-weight="normal" font-style="normal" fill="#000" >1.5</text>
<line x1="422.50" y1="309.00" x2="422.50" y2="314.80" stroke="#000" stroke-width="1.0" />
<text x="422.40" y="322.70" font-size="9.3" text-anchor="middle" font-weight="normal" font-style="normal" fill="#000" >2M</text>
<line x1="444.50" y1="309.00" x2="444.50" y2="314.80" stroke="#000" stroke-width="1.0" />
<text x="444.55" y="322.70" font-size="9.3" text-anchor="middle" font-weight="normal" font-style="normal" fill="#000" >4M</text>
<line x1="466.50" y1="309.00" x2="466.50" y2="314.80" stroke="#000" stroke-width="1.0" />
<text x="466.70" y="322.70" font-size="9.3" text-anchor="middle" font-weight="normal" font-style="normal" fill="#000" >9M</text>
<text x="445.00" y="233.80" font-size="9.1" text-anchor="middle" font-weight="bold" font-style="normal" fill="#000" >Ocldn</text>
<line x1="418.00" y1="260.64" x2="418.00" y2="266.42" stroke="#000" stroke-width="0.7" />
<line x1="416.20" y1="260.64" x2="419.80" y2="260.64" stroke="#000" stroke-width="0.7" />
<circle cx="416.80" cy="272.42" r="1.3" fill="#fff" stroke="#111" stroke-width="0.6"/>
<circle cx="419.12" cy="270.82" r="1.3" fill="#fff" stroke="#111" stroke-width="0.6"/>
<circle cx="416.51" cy="263.56" r="1.3" fill="#fff" stroke="#111" stroke-width="0.6"/>
<circle cx="420.09" cy="264.59" r="1.3" fill="#fff" stroke="#111" stroke-width="0.6"/>
<circle cx="419.53" cy="269.59" r="1.3" fill="#fff" stroke="#111" stroke-width="0.6"/>
<circle cx="417.98" cy="265.17" r="1.3" fill="#fff" stroke="#111" stroke-width="0.6"/>
<line x1="426.80" y1="258.38" x2="426.80" y2="264.16" stroke="#000" stroke-width="0.7" />
<line x1="425.00" y1="258.38" x2="428.60" y2="258.38" stroke="#000" stroke-width="0.7" />
<circle cx="426.29" cy="254.43" r="1.3" fill="#fff" stroke="#111" stroke-width="0.6"/>
<circle cx="427.70" cy="261.87" r="1.3" fill="#fff" stroke="#111" stroke-width="0.6"/>
<circle cx="426.04" cy="253.27" r="1.3" fill="#fff" stroke="#111" stroke-width="0.6"/>
<circle cx="427.79" cy="255.98" r="1.3" fill="#fff" stroke="#111" stroke-width="0.6"/>
<circle cx="426.34" cy="259.53" r="1.3" fill="#fff" stroke="#111" stroke-width="0.6"/>
<circle cx="424.66" cy="264.75" r="1.3" fill="#fff" stroke="#111" stroke-width="0.6"/>
<line x1="440.15" y1="255.21" x2="440.15" y2="269.68" stroke="#000" stroke-width="0.7" />
<line x1="438.35" y1="255.21" x2="441.95" y2="255.21" stroke="#000" stroke-width="0.7" />
<circle cx="438.09" cy="268.44" r="1.3" fill="#fff" stroke="#111" stroke-width="0.6"/>
<circle cx="438.98" cy="262.07" r="1.3" fill="#fff" stroke="#111" stroke-width="0.6"/>
<circle cx="438.16" cy="267.30" r="1.3" fill="#fff" stroke="#111" stroke-width="0.6"/>
<circle cx="441.93" cy="261.17" r="1.3" fill="#fff" stroke="#111" stroke-width="0.6"/>
<circle cx="439.10" cy="262.71" r="1.3" fill="#fff" stroke="#111" stroke-width="0.6"/>
<circle cx="439.16" cy="266.58" r="1.3" fill="#fff" stroke="#111" stroke-width="0.6"/>
<line x1="448.95" y1="278.72" x2="448.95" y2="285.22" stroke="#000" stroke-width="0.7" />
<line x1="447.15" y1="278.72" x2="450.75" y2="278.72" stroke="#000" stroke-width="0.7" />
<circle cx="447.31" cy="283.70" r="1.3" fill="#fff" stroke="#111" stroke-width="0.6"/>
<circle cx="447.81" cy="283.76" r="1.3" fill="#fff" stroke="#111" stroke-width="0.6"/>
<circle cx="451.22" cy="274.43" r="1.3" fill="#fff" stroke="#111" stroke-width="0.6"/>
<circle cx="447.72" cy="281.93" r="1.3" fill="#fff" stroke="#111" stroke-width="0.6"/>
<circle cx="448.04" cy="274.36" r="1.3" fill="#fff" stroke="#111" stroke-width="0.6"/>
<circle cx="446.56" cy="285.38" r="1.3" fill="#fff" stroke="#111" stroke-width="0.6"/>
<line x1="462.30" y1="259.73" x2="462.30" y2="266.96" stroke="#000" stroke-width="0.7" />
<line x1="460.50" y1="259.73" x2="464.10" y2="259.73" stroke="#000" stroke-width="0.7" />
<circle cx="462.18" cy="266.93" r="1.3" fill="#fff" stroke="#111" stroke-width="0.6"/>
<circle cx="460.86" cy="264.20" r="1.3" fill="#fff" stroke="#111" stroke-width="0.6"/>
<circle cx="459.92" cy="264.17" r="1.3" fill="#fff" stroke="#111" stroke-width="0.6"/>
<circle cx="460.33" cy="268.52" r="1.3" fill="#fff" stroke="#111" stroke-width="0.6"/>
<circle cx="460.10" cy="266.07" r="1.3" fill="#fff" stroke="#111" stroke-width="0.6"/>
<circle cx="461.36" cy="272.89" r="1.3" fill="#fff" stroke="#111" stroke-width="0.6"/>
<line x1="471.10" y1="291.37" x2="471.10" y2="295.71" stroke="#000" stroke-width="0.7" />
<line x1="469.30" y1="291.37" x2="472.90" y2="291.37" stroke="#000" stroke-width="0.7" />
<circle cx="471.51" cy="298.61" r="1.3" fill="#fff" stroke="#111" stroke-width="0.6"/>
<circle cx="472.30" cy="293.69" r="1.3" fill="#fff" stroke="#111" stroke-width="0.6"/>
<circle cx="472.14" cy="291.95" r="1.3" fill="#fff" stroke="#111" stroke-width="0.6"/>
<circle cx="470.57" cy="288.94" r="1.3" fill="#fff" stroke="#111" stroke-width="0.6"/>
<circle cx="473.43" cy="296.44" r="1.3" fill="#fff" stroke="#111" stroke-width="0.6"/>
<circle cx="472.18" cy="298.84" r="1.3" fill="#fff" stroke="#111" stroke-width="0.6"/>
<circle cx="440.44" cy="241.20" r="1.3" fill="#fff" stroke="#111" stroke-width="0.6"/>
<circle cx="439.24" cy="280.98" r="1.3" fill="#fff" stroke="#111" stroke-width="0.6"/>
<circle cx="440.82" cy="280.07" r="1.3" fill="#fff" stroke="#111" stroke-width="0.6"/>
<circle cx="427.58" cy="275.10" r="1.3" fill="#fff" stroke="#111" stroke-width="0.6"/>
<circle cx="462.55" cy="250.24" r="1.3" fill="#fff" stroke="#111" stroke-width="0.6"/>
<circle cx="471.57" cy="284.14" r="1.3" fill="#fff" stroke="#111" stroke-width="0.6"/>
<text transform="translate(475.10,267.00) rotate(-90)" font-size="7.5" text-anchor="middle" font-weight="bold" fill="#000">**</text>
<text transform="translate(377.70,276.50) rotate(-90)" font-size="9.3" text-anchor="middle" font-weight="normal" fill="#000">Relative</text>
<text transform="translate(388.70,276.10) rotate(-90)" font-size="9.3" text-anchor="middle" textLength="69.8" lengthAdjust="spacingAndGlyphs">mRNA expression</text>
<text transform="translate(451.40,252.60) rotate(-90)" font-size="7.4" text-anchor="middle" font-weight="bold" fill="#000">p=0.09</text>
<rect x="534.00" y="264.25" width="8.00" height="44.75" fill="#1054b6" stroke="none" stroke-width="0" />
<rect x="542.80" y="265.61" width="8.00" height="43.39" fill="#b8075f" stroke="none" stroke-width="0" />
<rect x="556.15" y="264.25" width="8.00" height="44.75" fill="#1054b6" stroke="none" stroke-width="0" />
<rect x="564.95" y="267.87" width="8.00" height="41.13" fill="#b8075f" stroke="none" stroke-width="0" />
<rect x="578.30" y="264.25" width="8.00" height="44.75" fill="#1054b6" stroke="none" stroke-width="0" />
<rect x="587.10" y="261.54" width="8.00" height="47.46" fill="#b8075f" stroke="none" stroke-width="0" />
<line x1="529.50" y1="240.90" x2="529.50" y2="309.45" stroke="#000" stroke-width="1.0" />
<line x1="529.30" y1="309.50" x2="599.90" y2="309.50" stroke="#000" stroke-width="1.0" />
<line x1="523.20" y1="309.50" x2="529.70" y2="309.50" stroke="#000" stroke-width="1.0" />
<text x="522.90" y="312.20" font-size="8.9" text-anchor="end" font-weight="normal" font-style="normal" fill="#000" >0.0</text>
<line x1="523.20" y1="286.50" x2="529.70" y2="286.50" stroke="#000" stroke-width="1.0" />
<text x="522.90" y="289.60" font-size="8.9" text-anchor="end" font-weight="normal" font-style="normal" fill="#000" >0.5</text>
<line x1="523.20" y1="263.50" x2="529.70" y2="263.50" stroke="#000" stroke-width="1.0" />
<text x="522.90" y="267.00" font-size="8.9" text-anchor="end" font-weight="normal" font-style="normal" fill="#000" >1.0</text>
<line x1="523.20" y1="241.50" x2="529.70" y2="241.50" stroke="#000" stroke-width="1.0" />
<text x="522.90" y="244.40" font-size="8.9" text-anchor="end" font-weight="normal" font-style="normal" fill="#000" >1.5</text>
<line x1="542.50" y1="309.00" x2="542.50" y2="314.80" stroke="#000" stroke-width="1.0" />
<text x="542.40" y="322.70" font-size="9.3" text-anchor="middle" font-weight="normal" font-style="normal" fill="#000" >2M</text>
<line x1="564.50" y1="309.00" x2="564.50" y2="314.80" stroke="#000" stroke-width="1.0" />
<text x="564.55" y="322.70" font-size="9.3" text-anchor="middle" font-weight="normal" font-style="normal" fill="#000" >4M</text>
<line x1="586.50" y1="309.00" x2="586.50" y2="314.80" stroke="#000" stroke-width="1.0" />
<text x="586.70" y="322.70" font-size="9.3" text-anchor="middle" font-weight="normal" font-style="normal" fill="#000" >9M</text>
<text x="564.00" y="233.80" font-size="9.1" text-anchor="middle" font-weight="bold" font-style="normal" fill="#000" >CD31</text>
<line x1="538.00" y1="261.54" x2="538.00" y2="265.88" stroke="#000" stroke-width="0.7" />
<line x1="536.20" y1="261.54" x2="539.80" y2="261.54" stroke="#000" stroke-width="0.7" />
<circle cx="536.27" cy="258.96" r="1.3" fill="#fff" stroke="#111" stroke-width="0.6"/>
<circle cx="538.02" cy="263.93" r="1.3" fill="#fff" stroke="#111" stroke-width="0.6"/>
<circle cx="539.46" cy="259.71" r="1.3" fill="#fff" stroke="#111" stroke-width="0.6"/>
<circle cx="538.40" cy="259.83" r="1.3" fill="#fff" stroke="#111" stroke-width="0.6"/>
<circle cx="538.88" cy="258.93" r="1.3" fill="#fff" stroke="#111" stroke-width="0.6"/>
<circle cx="536.70" cy="261.63" r="1.3" fill="#fff" stroke="#111" stroke-width="0.6"/>
<line x1="546.80" y1="262.44" x2="546.80" y2="267.51" stroke="#000" stroke-width="0.7" />
<line x1="545.00" y1="262.44" x2="548.60" y2="262.44" stroke="#000" stroke-width="0.7" />
<circle cx="545.04" cy="273.55" r="1.3" fill="#fff" stroke="#111" stroke-width="0.6"/>
<circle cx="544.90" cy="267.50" r="1.3" fill="#fff" stroke="#111" stroke-width="0.6"/>
<circle cx="547.08" cy="261.05" r="1.3" fill="#fff" stroke="#111" stroke-width="0.6"/>
<circle cx="547.41" cy="263.88" r="1.3" fill="#fff" stroke="#111" stroke-width="0.6"/>
<circle cx="546.75" cy="263.16" r="1.3" fill="#fff" stroke="#111" stroke-width="0.6"/>
<circle cx="548.23" cy="272.34" r="1.3" fill="#fff" stroke="#111" stroke-width="0.6"/>
<line x1="560.15" y1="261.99" x2="560.15" y2="265.61" stroke="#000" stroke-width="0.7" />
<line x1="558.35" y1="261.99" x2="561.95" y2="261.99" stroke="#000" stroke-width="0.7" />
<circle cx="560.16" cy="260.89" r="1.3" fill="#fff" stroke="#111" stroke-width="0.6"/>
<circle cx="560.91" cy="263.87" r="1.3" fill="#fff" stroke="#111" stroke-width="0.6"/>
<circle cx="561.29" cy="268.96" r="1.3" fill="#fff" stroke="#111" stroke-width="0.6"/>
<circle cx="558.11" cy="266.94" r="1.3" fill="#fff" stroke="#111" stroke-width="0.6"/>
<circle cx="561.25" cy="266.80" r="1.3" fill="#fff" stroke="#111" stroke-width="0.6"/>
<circle cx="561.30" cy="267.45" r="1.3" fill="#fff" stroke="#111" stroke-width="0.6"/>
<line x1="568.95" y1="264.70" x2="568.95" y2="269.77" stroke="#000" stroke-width="0.7" />
<line x1="567.15" y1="264.70" x2="570.75" y2="264.70" stroke="#000" stroke-width="0.7" />
<circle cx="568.92" cy="261.42" r="1.3" fill="#fff" stroke="#111" stroke-width="0.6"/>
<circle cx="568.85" cy="269.14" r="1.3" fill="#fff" stroke="#111" stroke-width="0.6"/>
<circle cx="570.23" cy="265.88" r="1.3" fill="#fff" stroke="#111" stroke-width="0.6"/>
<circle cx="569.64" cy="266.60" r="1.3" fill="#fff" stroke="#111" stroke-width="0.6"/>
<circle cx="567.26" cy="272.45" r="1.3" fill="#fff" stroke="#111" stroke-width="0.6"/>
<circle cx="570.12" cy="270.54" r="1.3" fill="#fff" stroke="#111" stroke-width="0.6"/>
<line x1="582.30" y1="261.54" x2="582.30" y2="265.88" stroke="#000" stroke-width="0.7" />
<line x1="580.50" y1="261.54" x2="584.10" y2="261.54" stroke="#000" stroke-width="0.7" />
<circle cx="582.63" cy="266.90" r="1.3" fill="#fff" stroke="#111" stroke-width="0.6"/>
<circle cx="580.19" cy="269.54" r="1.3" fill="#fff" stroke="#111" stroke-width="0.6"/>
<circle cx="583.13" cy="266.76" r="1.3" fill="#fff" stroke="#111" stroke-width="0.6"/>
<circle cx="583.14" cy="262.17" r="1.3" fill="#fff" stroke="#111" stroke-width="0.6"/>
<circle cx="582.38" cy="266.52" r="1.3" fill="#fff" stroke="#111" stroke-width="0.6"/>
<circle cx="582.14" cy="264.64" r="1.3" fill="#fff" stroke="#111" stroke-width="0.6"/>
<line x1="591.10" y1="257.02" x2="591.10" y2="264.25" stroke="#000" stroke-width="0.7" />
<line x1="589.30" y1="257.02" x2="592.90" y2="257.02" stroke="#000" stroke-width="0.7" />
<circle cx="592.99" cy="268.01" r="1.3" fill="#fff" stroke="#111" stroke-width="0.6"/>
<circle cx="593.40" cy="265.62" r="1.3" fill="#fff" stroke="#111" stroke-width="0.6"/>
<circle cx="588.78" cy="255.62" r="1.3" fill="#fff" stroke="#111" stroke-width="0.6"/>
<circle cx="592.64" cy="262.10" r="1.3" fill="#fff" stroke="#111" stroke-width="0.6"/>
<circle cx="590.86" cy="255.19" r="1.3" fill="#fff" stroke="#111" stroke-width="0.6"/>
<circle cx="589.71" cy="264.68" r="1.3" fill="#fff" stroke="#111" stroke-width="0.6"/>
<circle cx="591.99" cy="246.62" r="1.3" fill="#fff" stroke="#111" stroke-width="0.6"/>
<circle cx="537.42" cy="275.10" r="1.3" fill="#fff" stroke="#111" stroke-width="0.6"/>
<circle cx="546.96" cy="253.86" r="1.3" fill="#fff" stroke="#111" stroke-width="0.6"/>
<text transform="translate(497.70,276.50) rotate(-90)" font-size="9.3" text-anchor="middle" font-weight="normal" fill="#000">Relative</text>
<text transform="translate(508.70,276.10) rotate(-90)" font-size="9.3" text-anchor="middle" textLength="69.8" lengthAdjust="spacingAndGlyphs">mRNA expression</text>
<text x="0.60" y="346.80" font-size="13.8" text-anchor="start" font-weight="bold" font-style="normal" fill="#000" >D</text>
<text x="124.40" y="351.20" font-size="11.7" text-anchor="middle" font-weight="bold" font-style="italic" fill="#000" >2M</text>
<text x="98.60" y="362.60" font-size="9.3" text-anchor="middle" font-weight="bold" font-style="normal" fill="#000" >WT</text>
<text x="151.30" y="362.60" font-size="9.3" text-anchor="middle" font-weight="bold" font-style="normal" fill="#000" >APP/PS1</text>
<line x1="73.40" y1="366.50" x2="122.00" y2="366.50" stroke="#000" stroke-width="1.4" />
<line x1="127.60" y1="366.50" x2="176.00" y2="366.50" stroke="#000" stroke-width="1.4" />
<text x="236.40" y="351.20" font-size="11.7" text-anchor="middle" font-weight="bold" font-style="italic" fill="#000" >4M</text>
<text x="210.60" y="362.60" font-size="9.3" text-anchor="middle" font-weight="bold" font-style="normal" fill="#000" >WT</text>
<text x="263.30" y="362.60" font-size="9.3" text-anchor="middle" font-weight="bold" font-style="normal" fill="#000" >APP/PS1</text>
<line x1="185.40" y1="366.50" x2="234.00" y2="366.50" stroke="#000" stroke-width="1.4" />
<line x1="239.60" y1="366.50" x2="288.00" y2="366.50" stroke="#000" stroke-width="1.4" />
<text x="347.55" y="351.20" font-size="11.7" text-anchor="middle" font-weight="bold" font-style="italic" fill="#000" >9M</text>
<text x="321.80" y="362.60" font-size="9.3" text-anchor="middle" font-weight="bold" font-style="normal" fill="#000" >WT</text>
<text x="374.50" y="362.60" font-size="9.3" text-anchor="middle" font-weight="bold" font-style="normal" fill="#000" >APP/PS1</text>
<line x1="296.60" y1="366.50" x2="345.20" y2="366.50" stroke="#000" stroke-width="1.4" />
<line x1="350.80" y1="366.50" x2="399.20" y2="366.50" stroke="#000" stroke-width="1.4" />
<text x="68.60" y="378.75" font-size="9.5" text-anchor="end" font-weight="normal" font-style="normal" fill="#000" >Active β-catenin</text>
<clipPath id="bc10"><rect x="71.00" y="369.90" width="106.20" height="11.10"/></clipPath>
<rect x="71.00" y="369.90" width="106.20" height="11.10" fill="#d2d2d2" stroke="none" stroke-width="0" />
<g clip-path="url(#bc10)"><g filter="url(#b06)">
<rect x="73.0" y="373.2" width="14.8" height="5.4" rx="3" ry="2.5" fill="#000" opacity="0.11"/>
<rect x="73.8" y="374.5" width="13.2" height="2.8" rx="2.8" ry="1.4" fill="#000" opacity="0.90"/>
<rect x="90.8" y="373.2" width="14.8" height="5.4" rx="3" ry="2.5" fill="#000" opacity="0.11"/>
<rect x="91.5" y="374.5" width="13.2" height="2.8" rx="2.8" ry="1.4" fill="#000" opacity="0.90"/>
<rect x="108.5" y="372.3" width="14.8" height="5.4" rx="3" ry="2.5" fill="#000" opacity="0.11"/>
<rect x="109.2" y="373.6" width="13.2" height="2.8" rx="2.8" ry="1.4" fill="#000" opacity="0.90"/>
<rect x="125.2" y="372.3" width="14.8" height="5.4" rx="3" ry="2.5" fill="#000" opacity="0.10"/>
<rect x="126.0" y="373.6" width="13.2" height="2.8" rx="2.8" ry="1.4" fill="#000" opacity="0.85"/>
<rect x="142.9" y="373.1" width="14.8" height="5.4" rx="3" ry="2.5" fill="#000" opacity="0.11"/>
<rect x="143.7" y="374.4" width="13.2" height="2.8" rx="2.8" ry="1.4" fill="#000" opacity="0.90"/>
<rect x="160.6" y="373.0" width="14.8" height="5.4" rx="3" ry="2.5" fill="#000" opacity="0.12"/>
<rect x="161.4" y="374.3" width="13.2" height="2.8" rx="2.8" ry="1.4" fill="#000" opacity="1.00"/>
</g></g>
<rect x="71.5" y="369.5" width="105.0" height="11.0" fill="none" stroke="#0a0a0a" stroke-width="1"/>
<clipPath id="bc11"><rect x="183.00" y="369.90" width="106.20" height="11.10"/></clipPath>
<rect x="183.00" y="369.90" width="106.20" height="11.10" fill="#b8b8b8" stroke="none" stroke-width="0" />
<g clip-path="url(#bc11)"><g filter="url(#b07)">
<rect x="184.6" y="372.4" width="15.6" height="6.4" rx="3" ry="2.5" fill="#000" opacity="0.23"/>
<rect x="185.4" y="373.7" width="14.0" height="3.8" rx="3.4" ry="1.7" fill="#000" opacity="0.90"/>
<rect x="202.3" y="372.1" width="15.6" height="6.4" rx="3" ry="2.5" fill="#000" opacity="0.25"/>
<rect x="203.2" y="373.4" width="14.0" height="3.8" rx="3.4" ry="1.7" fill="#000" opacity="1.00"/>
<rect x="220.0" y="372.4" width="15.6" height="6.4" rx="3" ry="2.5" fill="#000" opacity="0.20"/>
<rect x="220.8" y="373.7" width="14.0" height="3.8" rx="3.4" ry="1.7" fill="#000" opacity="0.80"/>
<rect x="236.8" y="372.4" width="15.6" height="6.4" rx="3" ry="2.5" fill="#000" opacity="0.21"/>
<rect x="237.6" y="373.7" width="14.0" height="3.8" rx="3.4" ry="1.7" fill="#000" opacity="0.85"/>
<rect x="254.5" y="372.3" width="15.6" height="6.4" rx="3" ry="2.5" fill="#000" opacity="0.14"/>
<rect x="255.3" y="373.6" width="14.0" height="3.8" rx="3.4" ry="1.7" fill="#000" opacity="0.55"/>
<rect x="272.2" y="371.9" width="15.6" height="6.4" rx="3" ry="2.5" fill="#000" opacity="0.19"/>
<rect x="273.0" y="373.2" width="14.0" height="3.8" rx="3.4" ry="1.7" fill="#000" opacity="0.75"/>
</g></g>
<rect x="183.5" y="369.5" width="105.0" height="11.0" fill="none" stroke="#0a0a0a" stroke-width="1"/>
<clipPath id="bc12"><rect x="294.20" y="369.90" width="106.10" height="11.10"/></clipPath>
<rect x="294.20" y="369.90" width="106.10" height="11.10" fill="#e4e4e4" stroke="none" stroke-width="0" />
<g clip-path="url(#bc12)"><g filter="url(#b06)">
<rect x="297.2" y="373.8" width="12.8" height="3.2" rx="3.2" ry="1.6" fill="#000" opacity="1.00"/>
<rect x="314.9" y="373.7" width="12.8" height="3.2" rx="3.2" ry="1.6" fill="#000" opacity="1.00"/>
<rect x="332.6" y="374.1" width="12.8" height="3.2" rx="3.2" ry="1.6" fill="#000" opacity="1.00"/>
<rect x="349.4" y="374.3" width="12.8" height="3.2" rx="3.2" ry="1.6" fill="#000" opacity="0.60"/>
<rect x="367.1" y="374.3" width="12.8" height="3.2" rx="3.2" ry="1.6" fill="#000" opacity="0.90"/>
<rect x="384.8" y="373.9" width="12.8" height="3.2" rx="3.2" ry="1.6" fill="#000" opacity="0.45"/>
</g></g>
<rect x="294.20" y="369.90" width="106.10" height="11.10" fill="none" stroke="#888" stroke-width="0.4"/>
<text x="68.60" y="393.25" font-size="9.5" text-anchor="end" font-weight="normal" font-style="normal" fill="#000" >Total β-catenin</text>
<clipPath id="bc13"><rect x="71.00" y="384.50" width="106.20" height="10.90"/></clipPath>
<rect x="71.00" y="384.50" width="106.20" height="10.90" fill="#dcdcdc" stroke="none" stroke-width="0" />
<g clip-path="url(#bc13)"><g filter="url(#b07)">
<rect x="72.8" y="387.1" width="15.2" height="5.6" rx="3.4" ry="1.7" fill="#000" opacity="1.00"/>
<rect x="90.5" y="386.9" width="15.2" height="5.6" rx="3.4" ry="1.7" fill="#000" opacity="1.00"/>
<rect x="108.2" y="386.7" width="15.2" height="5.6" rx="3.4" ry="1.7" fill="#000" opacity="1.00"/>
<rect x="125.0" y="386.7" width="15.2" height="5.6" rx="3.4" ry="1.7" fill="#000" opacity="1.00"/>
<rect x="142.7" y="387.1" width="15.2" height="5.6" rx="3.4" ry="1.7" fill="#000" opacity="1.00"/>
<rect x="160.4" y="387.0" width="15.2" height="5.6" rx="3.4" ry="1.7" fill="#000" opacity="1.00"/>
</g></g>
<rect x="71.5" y="384.5" width="105.0" height="10.0" fill="none" stroke="#0a0a0a" stroke-width="1"/>
<clipPath id="bc14"><rect x="183.00" y="384.50" width="106.20" height="10.90"/></clipPath>
<rect x="183.00" y="384.50" width="106.20" height="10.90" fill="#d2d2d2" stroke="none" stroke-width="0" />
<g clip-path="url(#bc14)"><g filter="url(#b06)">
<rect x="185.6" y="388.0" width="13.6" height="3.6" rx="3.4" ry="1.7" fill="#000" opacity="1.00"/>
<rect x="203.3" y="388.5" width="13.6" height="3.6" rx="3.4" ry="1.7" fill="#000" opacity="1.00"/>
<rect x="221.0" y="388.2" width="13.6" height="3.6" rx="3.4" ry="1.7" fill="#000" opacity="1.00"/>
<rect x="237.8" y="388.2" width="13.6" height="3.6" rx="3.4" ry="1.7" fill="#000" opacity="1.00"/>
<rect x="255.5" y="387.9" width="13.6" height="3.6" rx="3.4" ry="1.7" fill="#000" opacity="1.00"/>
<rect x="273.2" y="387.7" width="13.6" height="3.6" rx="3.4" ry="1.7" fill="#000" opacity="1.00"/>
</g></g>
<rect x="183.5" y="384.5" width="105.0" height="10.0" fill="none" stroke="#0a0a0a" stroke-width="1"/>
<clipPath id="bc15"><rect x="294.20" y="384.50" width="106.10" height="10.90"/></clipPath>
<rect x="294.20" y="384.50" width="106.10" height="10.90" fill="#d2d2d2" stroke="none" stroke-width="0" />
<g clip-path="url(#bc15)"><g filter="url(#b07)">
<rect x="296.2" y="387.4" width="14.8" height="4.8" rx="3.4" ry="1.7" fill="#000" opacity="1.00"/>
<rect x="313.9" y="387.2" width="14.8" height="4.8" rx="3.4" ry="1.7" fill="#000" opacity="1.00"/>
<rect x="331.6" y="387.6" width="14.8" height="4.8" rx="3.4" ry="1.7" fill="#000" opacity="1.00"/>
<rect x="348.4" y="388.0" width="14.8" height="4.8" rx="3.4" ry="1.7" fill="#000" opacity="1.00"/>
<rect x="366.1" y="387.7" width="14.8" height="4.8" rx="3.4" ry="1.7" fill="#000" opacity="1.00"/>
<rect x="383.8" y="387.2" width="14.8" height="4.8" rx="3.4" ry="1.7" fill="#000" opacity="1.00"/>
</g></g>
<rect x="294.5" y="384.5" width="105.0" height="10.0" fill="none" stroke="#0a0a0a" stroke-width="1"/>
<text x="68.60" y="407.70" font-size="9.5" text-anchor="end" font-weight="normal" font-style="normal" fill="#000" >p-GSK3β</text>
<clipPath id="bc16"><rect x="71.00" y="399.00" width="106.20" height="10.80"/></clipPath>
<rect x="71.00" y="399.00" width="106.20" height="10.80" fill="#bebebe" stroke="none" stroke-width="0" />
<g clip-path="url(#bc16)"><g filter="url(#b07)">
<rect x="74.4" y="401.6" width="12.0" height="6.4" rx="3.4" ry="1.7" fill="#000" opacity="0.80"/>
<rect x="92.1" y="401.5" width="12.0" height="6.4" rx="3.4" ry="1.7" fill="#000" opacity="0.60"/>
<rect x="109.8" y="401.4" width="12.0" height="6.4" rx="3.4" ry="1.7" fill="#000" opacity="0.70"/>
<rect x="126.6" y="401.6" width="12.0" height="6.4" rx="3.4" ry="1.7" fill="#000" opacity="0.70"/>
<rect x="144.3" y="401.5" width="12.0" height="6.4" rx="3.4" ry="1.7" fill="#000" opacity="0.80"/>
<rect x="162.0" y="401.5" width="12.0" height="6.4" rx="3.4" ry="1.7" fill="#000" opacity="0.35"/>
</g></g>
<rect x="71.5" y="399.5" width="105.0" height="9.0" fill="none" stroke="#0a0a0a" stroke-width="1"/>
<clipPath id="bc17"><rect x="183.00" y="399.00" width="106.20" height="10.80"/></clipPath>
<rect x="183.00" y="399.00" width="106.20" height="10.80" fill="#cacaca" stroke="none" stroke-width="0" />
<g clip-path="url(#bc17)"><g filter="url(#b07)">
<rect x="185.6" y="402.5" width="13.6" height="3.6" rx="3.4" ry="1.7" fill="#000" opacity="0.55"/>
<rect x="203.3" y="403.1" width="13.6" height="3.6" rx="3.4" ry="1.7" fill="#000" opacity="0.60"/>
<rect x="221.0" y="403.1" width="13.6" height="3.6" rx="3.4" ry="1.7" fill="#000" opacity="0.55"/>
<rect x="237.8" y="402.3" width="13.6" height="3.6" rx="3.4" ry="1.7" fill="#000" opacity="0.40"/>
<rect x="255.5" y="402.9" width="13.6" height="3.6" rx="3.4" ry="1.7" fill="#000" opacity="0.40"/>
<rect x="273.2" y="402.8" width="13.6" height="3.6" rx="3.4" ry="1.7" fill="#000" opacity="0.50"/>
</g></g>
<rect x="183.00" y="399.00" width="106.20" height="10.80" fill="none" stroke="#888" stroke-width="0.4"/>
<clipPath id="bc18"><rect x="294.20" y="399.00" width="106.10" height="10.80"/></clipPath>
<rect x="294.20" y="399.00" width="106.10" height="10.80" fill="#d0d0d0" stroke="none" stroke-width="0" />
<g clip-path="url(#bc18)"><g filter="url(#b07)">
<rect x="296.8" y="401.0" width="13.6" height="4.8" rx="3.4" ry="1.7" fill="#000" opacity="0.90"/>
<rect x="314.5" y="401.0" width="13.6" height="4.8" rx="3.4" ry="1.7" fill="#000" opacity="0.90"/>
<rect x="332.2" y="401.0" width="13.6" height="4.8" rx="3.4" ry="1.7" fill="#000" opacity="0.80"/>
<rect x="349.0" y="401.4" width="13.6" height="4.8" rx="3.4" ry="1.7" fill="#000" opacity="0.45"/>
<rect x="366.7" y="401.0" width="13.6" height="4.8" rx="3.4" ry="1.7" fill="#000" opacity="0.35"/>
<rect x="384.4" y="401.3" width="13.6" height="4.8" rx="3.4" ry="1.7" fill="#000" opacity="0.25"/>
</g></g>
<rect x="294.5" y="399.5" width="105.0" height="9.0" fill="none" stroke="#0a0a0a" stroke-width="1"/>
<text x="68.60" y="422.10" font-size="9.5" text-anchor="end" font-weight="normal" font-style="normal" fill="#000" >Total GSK3β</text>
<clipPath id="bc19"><rect x="71.00" y="413.20" width="106.20" height="11.20"/></clipPath>
<rect x="71.00" y="413.20" width="106.20" height="11.20" fill="#c4c4c4" stroke="none" stroke-width="0" />
<g clip-path="url(#bc19)"><g filter="url(#b07)">
<rect x="74.4" y="415.7" width="12.0" height="6.0" rx="3.4" ry="1.7" fill="#000" opacity="0.95"/>
<rect x="92.1" y="416.2" width="12.0" height="6.0" rx="3.4" ry="1.7" fill="#000" opacity="0.70"/>
<rect x="109.8" y="416.2" width="12.0" height="6.0" rx="3.4" ry="1.7" fill="#000" opacity="0.75"/>
<rect x="126.6" y="415.8" width="12.0" height="6.0" rx="3.4" ry="1.7" fill="#000" opacity="0.75"/>
<rect x="144.3" y="415.9" width="12.0" height="6.0" rx="3.4" ry="1.7" fill="#000" opacity="0.75"/>
<rect x="162.0" y="416.2" width="12.0" height="6.0" rx="3.4" ry="1.7" fill="#000" opacity="0.80"/>
</g></g>
<rect x="71.5" y="413.5" width="105.0" height="10.0" fill="none" stroke="#0a0a0a" stroke-width="1"/>
<clipPath id="bc20"><rect x="183.00" y="413.20" width="106.20" height="11.20"/></clipPath>
<rect x="183.00" y="413.20" width="106.20" height="11.20" fill="#c0c0c0" stroke="none" stroke-width="0" />
<g clip-path="url(#bc20)"><g filter="url(#b07)">
<rect x="187.0" y="416.4" width="10.8" height="5.2" rx="3.4" ry="1.7" fill="#000" opacity="0.80"/>
<rect x="204.8" y="416.2" width="10.8" height="5.2" rx="3.4" ry="1.7" fill="#000" opacity="0.80"/>
<rect x="222.4" y="415.9" width="10.8" height="5.2" rx="3.4" ry="1.7" fill="#000" opacity="0.80"/>
<rect x="239.2" y="416.0" width="10.8" height="5.2" rx="3.4" ry="1.7" fill="#000" opacity="0.80"/>
<rect x="256.9" y="416.4" width="10.8" height="5.2" rx="3.4" ry="1.7" fill="#000" opacity="0.80"/>
<rect x="274.6" y="415.9" width="10.8" height="5.2" rx="3.4" ry="1.7" fill="#000" opacity="0.80"/>
</g></g>
<rect x="183.5" y="413.5" width="105.0" height="10.0" fill="none" stroke="#0a0a0a" stroke-width="1"/>
<clipPath id="bc21"><rect x="294.20" y="413.20" width="106.10" height="11.20"/></clipPath>
<rect x="294.20" y="413.20" width="106.10" height="11.20" fill="#c0c0c0" stroke="none" stroke-width="0" />
<g clip-path="url(#bc21)"><g filter="url(#b07)">
<rect x="297.6" y="416.9" width="12.0" height="4.6" rx="3.4" ry="1.7" fill="#000" opacity="0.90"/>
<rect x="315.3" y="416.3" width="12.0" height="4.6" rx="3.4" ry="1.7" fill="#000" opacity="0.90"/>
<rect x="333.0" y="416.9" width="12.0" height="4.6" rx="3.4" ry="1.7" fill="#000" opacity="0.90"/>
<rect x="349.8" y="416.3" width="12.0" height="4.6" rx="3.4" ry="1.7" fill="#000" opacity="0.90"/>
<rect x="367.5" y="417.0" width="12.0" height="4.6" rx="3.4" ry="1.7" fill="#000" opacity="0.90"/>
<rect x="385.2" y="416.7" width="12.0" height="4.6" rx="3.4" ry="1.7" fill="#000" opacity="0.90"/>
</g></g>
<rect x="294.5" y="413.5" width="105.0" height="10.0" fill="none" stroke="#0a0a0a" stroke-width="1"/>
<text x="68.60" y="436.95" font-size="9.5" text-anchor="end" font-weight="normal" font-style="normal" fill="#000" >GAPDH</text>
<clipPath id="bc22"><rect x="71.00" y="428.30" width="106.20" height="10.70"/></clipPath>
<rect x="71.00" y="428.30" width="106.20" height="10.70" fill="#dedede" stroke="none" stroke-width="0" />
<g clip-path="url(#bc22)"><g filter="url(#b06)">
<rect x="74.2" y="432.8" width="12.4" height="3.4" rx="3.4" ry="1.7" fill="#000" opacity="1.00"/>
<rect x="91.9" y="432.8" width="12.4" height="3.4" rx="3.4" ry="1.7" fill="#000" opacity="1.00"/>
<rect x="109.6" y="432.9" width="12.4" height="3.4" rx="3.4" ry="1.7" fill="#000" opacity="1.00"/>
<rect x="126.4" y="432.8" width="12.4" height="3.4" rx="3.4" ry="1.7" fill="#000" opacity="1.00"/>
<rect x="144.1" y="432.6" width="12.4" height="3.4" rx="3.4" ry="1.7" fill="#000" opacity="1.00"/>
<rect x="161.8" y="432.5" width="12.4" height="3.4" rx="3.4" ry="1.7" fill="#000" opacity="1.00"/>
</g></g>
<rect x="71.5" y="428.5" width="105.0" height="10.0" fill="none" stroke="#0a0a0a" stroke-width="1"/>
<clipPath id="bc23"><rect x="183.00" y="428.30" width="106.20" height="10.70"/></clipPath>
<rect x="183.00" y="428.30" width="106.20" height="10.70" fill="#d8d8d8" stroke="none" stroke-width="0" />
<g clip-path="url(#bc23)"><g filter="url(#b06)">
<rect x="184.4" y="432.3" width="16.0" height="2.8" rx="2.8" ry="1.4" fill="#000" opacity="1.00"/>
<rect x="202.2" y="432.7" width="16.0" height="2.8" rx="2.8" ry="1.4" fill="#000" opacity="1.00"/>
<rect x="219.8" y="432.4" width="16.0" height="2.8" rx="2.8" ry="1.4" fill="#000" opacity="1.00"/>
<rect x="236.6" y="431.8" width="16.0" height="2.8" rx="2.8" ry="1.4" fill="#000" opacity="1.00"/>
<rect x="254.3" y="432.6" width="16.0" height="2.8" rx="2.8" ry="1.4" fill="#000" opacity="1.00"/>
<rect x="272.0" y="432.5" width="16.0" height="2.8" rx="2.8" ry="1.4" fill="#000" opacity="1.00"/>
</g></g>
<rect x="183.5" y="428.5" width="105.0" height="10.0" fill="none" stroke="#0a0a0a" stroke-width="1"/>
<clipPath id="bc24"><rect x="294.20" y="428.30" width="106.10" height="10.70"/></clipPath>
<rect x="294.20" y="428.30" width="106.10" height="10.70" fill="#dcdcdc" stroke="none" stroke-width="0" />
<g clip-path="url(#bc24)"><g filter="url(#b06)">
<rect x="296.8" y="432.2" width="13.6" height="3.8" rx="3.4" ry="1.7" fill="#000" opacity="0.95"/>
<rect x="314.5" y="431.4" width="13.6" height="3.8" rx="3.4" ry="1.7" fill="#000" opacity="0.95"/>
<rect x="332.2" y="432.0" width="13.6" height="3.8" rx="3.4" ry="1.7" fill="#000" opacity="0.95"/>
<rect x="349.0" y="431.3" width="13.6" height="3.8" rx="3.4" ry="1.7" fill="#000" opacity="1.00"/>
<rect x="366.7" y="431.9" width="13.6" height="3.8" rx="3.4" ry="1.7" fill="#000" opacity="1.00"/>
<rect x="384.4" y="431.5" width="13.6" height="3.8" rx="3.4" ry="1.7" fill="#000" opacity="1.00"/>
</g></g>
<rect x="294.5" y="428.5" width="105.0" height="10.0" fill="none" stroke="#0a0a0a" stroke-width="1"/>
<rect x="441.00" y="379.23" width="8.00" height="44.07" fill="#1054b6" stroke="none" stroke-width="0" />
<rect x="449.80" y="381.26" width="8.00" height="42.04" fill="#b8075f" stroke="none" stroke-width="0" />
<rect x="463.15" y="379.00" width="8.00" height="44.30" fill="#1054b6" stroke="none" stroke-width="0" />
<rect x="471.95" y="391.21" width="8.00" height="32.09" fill="#b8075f" stroke="none" stroke-width="0" />
<rect x="485.30" y="379.00" width="8.00" height="44.30" fill="#1054b6" stroke="none" stroke-width="0" />
<rect x="494.10" y="399.34" width="8.00" height="23.96" fill="#b8075f" stroke="none" stroke-width="0" />
<line x1="436.50" y1="355.20" x2="436.50" y2="423.75" stroke="#000" stroke-width="1.0" />
<line x1="436.10" y1="423.50" x2="506.90" y2="423.50" stroke="#000" stroke-width="1.0" />
<line x1="430.00" y1="423.50" x2="436.50" y2="423.50" stroke="#000" stroke-width="1.0" />
<text x="429.70" y="426.50" font-size="8.9" text-anchor="end" font-weight="normal" font-style="normal" fill="#000" >0.0</text>
<line x1="430.00" y1="400.50" x2="436.50" y2="400.50" stroke="#000" stroke-width="1.0" />
<text x="429.70" y="403.90" font-size="8.9" text-anchor="end" font-weight="normal" font-style="normal" fill="#000" >0.5</text>
<line x1="430.00" y1="378.50" x2="436.50" y2="378.50" stroke="#000" stroke-width="1.0" />
<text x="429.70" y="381.30" font-size="8.9" text-anchor="end" font-weight="normal" font-style="normal" fill="#000" >1.0</text>
<line x1="430.00" y1="355.50" x2="436.50" y2="355.50" stroke="#000" stroke-width="1.0" />
<text x="429.70" y="358.70" font-size="8.9" text-anchor="end" font-weight="normal" font-style="normal" fill="#000" >1.5</text>
<line x1="449.50" y1="423.30" x2="449.50" y2="429.10" stroke="#000" stroke-width="1.0" />
<text x="449.40" y="437.00" font-size="9.3" text-anchor="middle" font-weight="normal" font-style="normal" fill="#000" >2M</text>
<line x1="471.50" y1="423.30" x2="471.50" y2="429.10" stroke="#000" stroke-width="1.0" />
<text x="471.55" y="437.00" font-size="9.3" text-anchor="middle" font-weight="normal" font-style="normal" fill="#000" >4M</text>
<line x1="493.50" y1="423.30" x2="493.50" y2="429.10" stroke="#000" stroke-width="1.0" />
<text x="493.70" y="437.00" font-size="9.3" text-anchor="middle" font-weight="normal" font-style="normal" fill="#000" >9M</text>
<text x="471.50" y="348.60" font-size="9.1" text-anchor="middle" font-weight="bold" font-style="normal" fill="#000" >Active β–catenin</text>
<line x1="445.00" y1="374.71" x2="445.00" y2="381.94" stroke="#000" stroke-width="0.7" />
<line x1="443.20" y1="374.71" x2="446.80" y2="374.71" stroke="#000" stroke-width="0.7" />
<circle cx="445.12" cy="387.33" r="1.3" fill="#fff" stroke="#111" stroke-width="0.6"/>
<circle cx="443.24" cy="371.04" r="1.3" fill="#fff" stroke="#111" stroke-width="0.6"/>
<circle cx="445.04" cy="373.44" r="1.3" fill="#fff" stroke="#111" stroke-width="0.6"/>
<circle cx="445.98" cy="372.24" r="1.3" fill="#fff" stroke="#111" stroke-width="0.6"/>
<circle cx="446.91" cy="384.09" r="1.3" fill="#fff" stroke="#111" stroke-width="0.6"/>
<circle cx="442.72" cy="379.48" r="1.3" fill="#fff" stroke="#111" stroke-width="0.6"/>
<line x1="453.80" y1="375.84" x2="453.80" y2="384.52" stroke="#000" stroke-width="0.7" />
<line x1="452.00" y1="375.84" x2="455.60" y2="375.84" stroke="#000" stroke-width="0.7" />
<circle cx="453.76" cy="395.29" r="1.3" fill="#fff" stroke="#111" stroke-width="0.6"/>
<circle cx="452.85" cy="382.38" r="1.3" fill="#fff" stroke="#111" stroke-width="0.6"/>
<circle cx="453.05" cy="389.38" r="1.3" fill="#fff" stroke="#111" stroke-width="0.6"/>
<circle cx="455.43" cy="385.42" r="1.3" fill="#fff" stroke="#111" stroke-width="0.6"/>
<circle cx="455.00" cy="392.52" r="1.3" fill="#fff" stroke="#111" stroke-width="0.6"/>
<circle cx="451.98" cy="373.60" r="1.3" fill="#fff" stroke="#111" stroke-width="0.6"/>
<line x1="467.15" y1="374.48" x2="467.15" y2="381.72" stroke="#000" stroke-width="0.7" />
<line x1="465.35" y1="374.48" x2="468.95" y2="374.48" stroke="#000" stroke-width="0.7" />
<circle cx="468.17" cy="369.37" r="1.3" fill="#fff" stroke="#111" stroke-width="0.6"/>
<circle cx="466.14" cy="371.74" r="1.3" fill="#fff" stroke="#111" stroke-width="0.6"/>
<circle cx="466.64" cy="381.31" r="1.3" fill="#fff" stroke="#111" stroke-width="0.6"/>
<circle cx="467.58" cy="369.99" r="1.3" fill="#fff" stroke="#111" stroke-width="0.6"/>
<circle cx="466.80" cy="381.52" r="1.3" fill="#fff" stroke="#111" stroke-width="0.6"/>
<circle cx="464.98" cy="383.07" r="1.3" fill="#fff" stroke="#111" stroke-width="0.6"/>
<line x1="475.95" y1="388.04" x2="475.95" y2="393.11" stroke="#000" stroke-width="0.7" />
<line x1="474.15" y1="388.04" x2="477.75" y2="388.04" stroke="#000" stroke-width="0.7" />
<circle cx="477.56" cy="400.21" r="1.3" fill="#fff" stroke="#111" stroke-width="0.6"/>
<circle cx="478.04" cy="395.08" r="1.3" fill="#fff" stroke="#111" stroke-width="0.6"/>
<circle cx="474.83" cy="395.74" r="1.3" fill="#fff" stroke="#111" stroke-width="0.6"/>
<circle cx="474.46" cy="391.01" r="1.3" fill="#fff" stroke="#111" stroke-width="0.6"/>
<circle cx="478.14" cy="393.50" r="1.3" fill="#fff" stroke="#111" stroke-width="0.6"/>
<circle cx="477.45" cy="384.26" r="1.3" fill="#fff" stroke="#111" stroke-width="0.6"/>
<line x1="489.30" y1="376.29" x2="489.30" y2="380.63" stroke="#000" stroke-width="0.7" />
<line x1="487.50" y1="376.29" x2="491.10" y2="376.29" stroke="#000" stroke-width="0.7" />
<circle cx="491.28" cy="377.23" r="1.3" fill="#fff" stroke="#111" stroke-width="0.6"/>
<circle cx="489.54" cy="374.22" r="1.3" fill="#fff" stroke="#111" stroke-width="0.6"/>
<circle cx="487.14" cy="376.62" r="1.3" fill="#fff" stroke="#111" stroke-width="0.6"/>
<circle cx="489.06" cy="376.48" r="1.3" fill="#fff" stroke="#111" stroke-width="0.6"/>
<circle cx="489.99" cy="376.26" r="1.3" fill="#fff" stroke="#111" stroke-width="0.6"/>
<circle cx="487.14" cy="381.32" r="1.3" fill="#fff" stroke="#111" stroke-width="0.6"/>
<line x1="498.10" y1="395.73" x2="498.10" y2="401.51" stroke="#000" stroke-width="0.7" />
<line x1="496.30" y1="395.73" x2="499.90" y2="395.73" stroke="#000" stroke-width="0.7" />
<circle cx="496.31" cy="389.70" r="1.3" fill="#fff" stroke="#111" stroke-width="0.6"/>
<circle cx="497.35" cy="399.85" r="1.3" fill="#fff" stroke="#111" stroke-width="0.6"/>
<circle cx="499.25" cy="403.00" r="1.3" fill="#fff" stroke="#111" stroke-width="0.6"/>
<circle cx="496.95" cy="390.73" r="1.3" fill="#fff" stroke="#111" stroke-width="0.6"/>
<circle cx="497.14" cy="396.52" r="1.3" fill="#fff" stroke="#111" stroke-width="0.6"/>
<circle cx="497.59" cy="398.31" r="1.3" fill="#fff" stroke="#111" stroke-width="0.6"/>
<circle cx="466.48" cy="359.12" r="1.3" fill="#fff" stroke="#111" stroke-width="0.6"/>
<circle cx="444.32" cy="366.80" r="1.3" fill="#fff" stroke="#111" stroke-width="0.6"/>
<circle cx="444.42" cy="391.66" r="1.3" fill="#fff" stroke="#111" stroke-width="0.6"/>
<circle cx="454.61" cy="365.44" r="1.3" fill="#fff" stroke="#111" stroke-width="0.6"/>
<circle cx="453.79" cy="394.82" r="1.3" fill="#fff" stroke="#111" stroke-width="0.6"/>
<circle cx="497.54" cy="412.00" r="1.3" fill="#fff" stroke="#111" stroke-width="0.6"/>
<text transform="translate(479.95,367.00) rotate(-90)" font-size="7.5" text-anchor="middle" font-weight="bold" fill="#000">*</text>
<text transform="translate(502.10,377.00) rotate(-90)" font-size="7.5" text-anchor="middle" font-weight="bold" fill="#000">**</text>
<text transform="translate(415.30,389.30) rotate(-90)" font-size="9.3" text-anchor="middle" font-weight="normal" fill="#000">Fold change</text>
<rect x="533.50" y="378.90" width="8.00" height="44.30" fill="#1054b6" stroke="none" stroke-width="0" />
<rect x="542.30" y="378.00" width="8.00" height="45.20" fill="#b8075f" stroke="none" stroke-width="0" />
<rect x="555.65" y="378.90" width="8.00" height="44.30" fill="#1054b6" stroke="none" stroke-width="0" />
<rect x="564.45" y="392.01" width="8.00" height="31.19" fill="#b8075f" stroke="none" stroke-width="0" />
<rect x="577.80" y="380.26" width="8.00" height="42.94" fill="#1054b6" stroke="none" stroke-width="0" />
<rect x="586.60" y="401.05" width="8.00" height="22.15" fill="#b8075f" stroke="none" stroke-width="0" />
<line x1="529.50" y1="355.10" x2="529.50" y2="423.65" stroke="#ccc" stroke-width="1.0" />
<line x1="529.40" y1="423.50" x2="599.40" y2="423.50" stroke="#000" stroke-width="1.0" />
<line x1="523.30" y1="423.50" x2="529.80" y2="423.50" stroke="#000" stroke-width="1.0" />
<text x="523.00" y="426.40" font-size="8.9" text-anchor="end" font-weight="normal" font-style="normal" fill="#000" >0.0</text>
<line x1="523.30" y1="400.50" x2="529.80" y2="400.50" stroke="#000" stroke-width="1.0" />
<text x="523.00" y="403.80" font-size="8.9" text-anchor="end" font-weight="normal" font-style="normal" fill="#000" >0.5</text>
<line x1="523.30" y1="378.50" x2="529.80" y2="378.50" stroke="#000" stroke-width="1.0" />
<text x="523.00" y="381.20" font-size="8.9" text-anchor="end" font-weight="normal" font-style="normal" fill="#000" >1.0</text>
<line x1="523.30" y1="355.50" x2="529.80" y2="355.50" stroke="#000" stroke-width="1.0" />
<text x="523.00" y="358.60" font-size="8.9" text-anchor="end" font-weight="normal" font-style="normal" fill="#000" >1.5</text>
<line x1="541.50" y1="423.20" x2="541.50" y2="429.00" stroke="#666" stroke-width="1.0" />
<text x="541.90" y="436.90" font-size="9.3" text-anchor="middle" font-weight="normal" font-style="normal" fill="#000" >2M</text>
<line x1="564.50" y1="423.20" x2="564.50" y2="429.00" stroke="#666" stroke-width="1.0" />
<text x="564.05" y="436.90" font-size="9.3" text-anchor="middle" font-weight="normal" font-style="normal" fill="#000" >4M</text>
<line x1="586.50" y1="423.20" x2="586.50" y2="429.00" stroke="#666" stroke-width="1.0" />
<text x="586.20" y="436.90" font-size="9.3" text-anchor="middle" font-weight="normal" font-style="normal" fill="#000" >9M</text>
<text x="564.20" y="348.60" font-size="9.1" text-anchor="middle" font-weight="bold" font-style="normal" fill="#000" >p-GSK3β</text>
<line x1="537.50" y1="376.64" x2="537.50" y2="380.26" stroke="#000" stroke-width="0.7" />
<line x1="535.70" y1="376.64" x2="539.30" y2="376.64" stroke="#000" stroke-width="0.7" />
<circle cx="539.88" cy="372.02" r="1.3" fill="#fff" stroke="#111" stroke-width="0.6"/>
<circle cx="535.77" cy="379.58" r="1.3" fill="#fff" stroke="#111" stroke-width="0.6"/>
<circle cx="535.54" cy="383.07" r="1.3" fill="#fff" stroke="#111" stroke-width="0.6"/>
<circle cx="535.54" cy="381.05" r="1.3" fill="#fff" stroke="#111" stroke-width="0.6"/>
<circle cx="536.34" cy="382.44" r="1.3" fill="#fff" stroke="#111" stroke-width="0.6"/>
<circle cx="539.36" cy="377.96" r="1.3" fill="#fff" stroke="#111" stroke-width="0.6"/>
<line x1="546.30" y1="375.29" x2="546.30" y2="379.63" stroke="#000" stroke-width="0.7" />
<line x1="544.50" y1="375.29" x2="548.10" y2="375.29" stroke="#000" stroke-width="0.7" />
<circle cx="545.88" cy="372.36" r="1.3" fill="#fff" stroke="#111" stroke-width="0.6"/>
<circle cx="546.42" cy="379.56" r="1.3" fill="#fff" stroke="#111" stroke-width="0.6"/>
<circle cx="545.52" cy="380.23" r="1.3" fill="#fff" stroke="#111" stroke-width="0.6"/>
<circle cx="545.23" cy="385.92" r="1.3" fill="#fff" stroke="#111" stroke-width="0.6"/>
<circle cx="544.50" cy="369.54" r="1.3" fill="#fff" stroke="#111" stroke-width="0.6"/>
<circle cx="546.92" cy="377.94" r="1.3" fill="#fff" stroke="#111" stroke-width="0.6"/>
<line x1="559.65" y1="376.19" x2="559.65" y2="380.53" stroke="#000" stroke-width="0.7" />
<line x1="557.85" y1="376.19" x2="561.45" y2="376.19" stroke="#000" stroke-width="0.7" />
<circle cx="558.29" cy="370.70" r="1.3" fill="#fff" stroke="#111" stroke-width="0.6"/>
<circle cx="558.44" cy="383.04" r="1.3" fill="#fff" stroke="#111" stroke-width="0.6"/>
<circle cx="559.39" cy="380.72" r="1.3" fill="#fff" stroke="#111" stroke-width="0.6"/>
<circle cx="561.32" cy="370.70" r="1.3" fill="#fff" stroke="#111" stroke-width="0.6"/>
<circle cx="557.35" cy="372.16" r="1.3" fill="#fff" stroke="#111" stroke-width="0.6"/>
<circle cx="560.66" cy="387.36" r="1.3" fill="#fff" stroke="#111" stroke-width="0.6"/>
<line x1="568.45" y1="389.30" x2="568.45" y2="393.64" stroke="#000" stroke-width="0.7" />
<line x1="566.65" y1="389.30" x2="570.25" y2="389.30" stroke="#000" stroke-width="0.7" />
<circle cx="568.32" cy="385.30" r="1.3" fill="#fff" stroke="#111" stroke-width="0.6"/>
<circle cx="566.05" cy="390.83" r="1.3" fill="#fff" stroke="#111" stroke-width="0.6"/>
<circle cx="570.50" cy="393.48" r="1.3" fill="#fff" stroke="#111" stroke-width="0.6"/>
<circle cx="570.16" cy="387.60" r="1.3" fill="#fff" stroke="#111" stroke-width="0.6"/>
<circle cx="567.24" cy="385.61" r="1.3" fill="#fff" stroke="#111" stroke-width="0.6"/>
<circle cx="566.79" cy="397.31" r="1.3" fill="#fff" stroke="#111" stroke-width="0.6"/>
<line x1="581.80" y1="378.00" x2="581.80" y2="381.62" stroke="#000" stroke-width="0.7" />
<line x1="580.00" y1="378.00" x2="583.60" y2="378.00" stroke="#000" stroke-width="0.7" />
<circle cx="582.67" cy="379.88" r="1.3" fill="#fff" stroke="#111" stroke-width="0.6"/>
<circle cx="582.86" cy="374.27" r="1.3" fill="#fff" stroke="#111" stroke-width="0.6"/>
<circle cx="583.07" cy="378.26" r="1.3" fill="#fff" stroke="#111" stroke-width="0.6"/>
<circle cx="582.05" cy="380.84" r="1.3" fill="#fff" stroke="#111" stroke-width="0.6"/>
<circle cx="583.16" cy="386.50" r="1.3" fill="#fff" stroke="#111" stroke-width="0.6"/>
<circle cx="583.82" cy="383.89" r="1.3" fill="#fff" stroke="#111" stroke-width="0.6"/>
<line x1="590.60" y1="398.34" x2="590.60" y2="402.68" stroke="#000" stroke-width="0.7" />
<line x1="588.80" y1="398.34" x2="592.40" y2="398.34" stroke="#000" stroke-width="0.7" />
<circle cx="589.66" cy="398.59" r="1.3" fill="#fff" stroke="#111" stroke-width="0.6"/>
<circle cx="589.41" cy="406.10" r="1.3" fill="#fff" stroke="#111" stroke-width="0.6"/>
<circle cx="591.55" cy="399.20" r="1.3" fill="#fff" stroke="#111" stroke-width="0.6"/>
<circle cx="588.54" cy="406.31" r="1.3" fill="#fff" stroke="#111" stroke-width="0.6"/>
<circle cx="591.00" cy="400.72" r="1.3" fill="#fff" stroke="#111" stroke-width="0.6"/>
<circle cx="589.27" cy="402.57" r="1.3" fill="#fff" stroke="#111" stroke-width="0.6"/>
<text transform="translate(572.45,371.00) rotate(-90)" font-size="7.5" text-anchor="middle" font-weight="bold" fill="#000">**</text>
<text transform="translate(594.60,381.00) rotate(-90)" font-size="7.5" text-anchor="middle" font-weight="bold" fill="#000">**</text>
<text x="0.60" y="462.00" font-size="13.8" text-anchor="start" font-weight="bold" font-style="normal" fill="#000" >E</text>
<text x="123.20" y="467.20" font-size="11.7" text-anchor="middle" font-weight="bold" font-style="italic" fill="#000" >2M</text>
<text x="97.40" y="478.80" font-size="9.3" text-anchor="middle" font-weight="bold" font-style="normal" fill="#000" >WT</text>
<text x="150.10" y="478.80" font-size="9.3" text-anchor="middle" font-weight="bold" font-style="normal" fill="#000" >APP/PS1</text>
<line x1="72.20" y1="482.60" x2="120.80" y2="482.60" stroke="#000" stroke-width="1.4" />
<line x1="126.40" y1="482.60" x2="174.80" y2="482.60" stroke="#000" stroke-width="1.4" />
<text x="235.20" y="467.20" font-size="11.7" text-anchor="middle" font-weight="bold" font-style="italic" fill="#000" >4M</text>
<text x="209.40" y="478.80" font-size="9.3" text-anchor="middle" font-weight="bold" font-style="normal" fill="#000" >WT</text>
<text x="262.10" y="478.80" font-size="9.3" text-anchor="middle" font-weight="bold" font-style="normal" fill="#000" >APP/PS1</text>
<line x1="184.20" y1="482.60" x2="232.80" y2="482.60" stroke="#000" stroke-width="1.4" />
<line x1="238.40" y1="482.60" x2="286.80" y2="482.60" stroke="#000" stroke-width="1.4" />
<text x="346.35" y="467.20" font-size="11.7" text-anchor="middle" font-weight="bold" font-style="italic" fill="#000" >9M</text>
<text x="320.60" y="478.80" font-size="9.3" text-anchor="middle" font-weight="bold" font-style="normal" fill="#000" >WT</text>
<text x="373.30" y="478.80" font-size="9.3" text-anchor="middle" font-weight="bold" font-style="normal" fill="#000" >APP/PS1</text>
<line x1="295.40" y1="482.60" x2="344.00" y2="482.60" stroke="#000" stroke-width="1.4" />
<line x1="349.60" y1="482.60" x2="398.00" y2="482.60" stroke="#000" stroke-width="1.4" />
<text x="68.60" y="495.20" font-size="9.5" text-anchor="end" font-weight="normal" font-style="normal" fill="#000" >p-AKT</text>
<clipPath id="bc25"><rect x="71.00" y="486.00" width="106.20" height="11.80"/></clipPath>
<rect x="71.00" y="486.00" width="106.20" height="11.80" fill="#c8c8c8" stroke="none" stroke-width="0" />
<g clip-path="url(#bc25)"><g filter="url(#b07)">
<rect x="73.8" y="486.0" width="13.2" height="11.8" fill="#000" opacity="0.27"/>
<rect x="73.8" y="489.3" width="13.2" height="3.0" rx="3.0" ry="1.5" fill="#000" opacity="0.38"/>
<rect x="91.5" y="486.0" width="13.2" height="11.8" fill="#000" opacity="0.27"/>
<rect x="91.5" y="489.6" width="13.2" height="3.0" rx="3.0" ry="1.5" fill="#000" opacity="0.38"/>
<rect x="109.2" y="486.0" width="13.2" height="11.8" fill="#000" opacity="0.27"/>
<rect x="109.2" y="489.5" width="13.2" height="3.0" rx="3.0" ry="1.5" fill="#000" opacity="0.38"/>
<rect x="126.0" y="486.0" width="13.2" height="11.8" fill="#000" opacity="0.27"/>
<rect x="126.0" y="489.7" width="13.2" height="3.0" rx="3.0" ry="1.5" fill="#000" opacity="0.38"/>
<rect x="143.7" y="486.0" width="13.2" height="11.8" fill="#000" opacity="0.27"/>
<rect x="143.7" y="489.7" width="13.2" height="3.0" rx="3.0" ry="1.5" fill="#000" opacity="0.38"/>
<rect x="161.4" y="486.0" width="13.2" height="11.8" fill="#000" opacity="0.27"/>
<rect x="161.4" y="489.2" width="13.2" height="3.0" rx="3.0" ry="1.5" fill="#000" opacity="0.38"/>
</g></g>
<rect x="71.5" y="486.5" width="105.0" height="10.0" fill="none" stroke="#0a0a0a" stroke-width="1"/>
<clipPath id="bc26"><rect x="183.00" y="486.00" width="106.20" height="11.80"/></clipPath>
<rect x="183.00" y="486.00" width="106.20" height="11.80" fill="#c0c0c0" stroke="none" stroke-width="0" />
<g clip-path="url(#bc26)"><g filter="url(#b07)">
<rect x="185.6" y="486.0" width="13.6" height="11.8" fill="#000" opacity="0.30"/>
<rect x="185.6" y="489.1" width="13.6" height="3.0" rx="3.0" ry="1.5" fill="#000" opacity="0.32"/>
<rect x="203.3" y="486.0" width="13.6" height="11.8" fill="#000" opacity="0.30"/>
<rect x="203.3" y="489.9" width="13.6" height="3.0" rx="3.0" ry="1.5" fill="#000" opacity="0.32"/>
<rect x="221.0" y="486.0" width="13.6" height="11.8" fill="#000" opacity="0.30"/>
<rect x="221.0" y="489.4" width="13.6" height="3.0" rx="3.0" ry="1.5" fill="#000" opacity="0.32"/>
<rect x="237.8" y="486.0" width="13.6" height="11.8" fill="#000" opacity="0.30"/>
<rect x="237.8" y="489.3" width="13.6" height="3.0" rx="3.0" ry="1.5" fill="#000" opacity="0.32"/>
<rect x="255.5" y="486.0" width="13.6" height="11.8" fill="#000" opacity="0.30"/>
<rect x="255.5" y="490.1" width="13.6" height="3.0" rx="3.0" ry="1.5" fill="#000" opacity="0.32"/>
<rect x="273.2" y="486.0" width="13.6" height="11.8" fill="#000" opacity="0.30"/>
<rect x="273.2" y="489.6" width="13.6" height="3.0" rx="3.0" ry="1.5" fill="#000" opacity="0.32"/>
</g></g>
<rect x="183.5" y="486.5" width="105.0" height="10.0" fill="none" stroke="#0a0a0a" stroke-width="1"/>
<clipPath id="bc27"><rect x="294.20" y="486.00" width="106.10" height="11.80"/></clipPath>
<rect x="294.20" y="486.00" width="106.10" height="11.80" fill="#c4c4c4" stroke="none" stroke-width="0" />
<g clip-path="url(#bc27)"><g filter="url(#b07)">
<rect x="296.8" y="486.0" width="13.6" height="11.8" fill="#000" opacity="0.28"/>
<rect x="296.8" y="489.9" width="13.6" height="3.0" rx="3.0" ry="1.5" fill="#000" opacity="0.38"/>
<rect x="314.5" y="486.0" width="13.6" height="11.8" fill="#000" opacity="0.28"/>
<rect x="314.5" y="489.6" width="13.6" height="3.0" rx="3.0" ry="1.5" fill="#000" opacity="0.38"/>
<rect x="332.2" y="486.0" width="13.6" height="11.8" fill="#000" opacity="0.28"/>
<rect x="332.2" y="489.7" width="13.6" height="3.0" rx="3.0" ry="1.5" fill="#000" opacity="0.38"/>
<rect x="349.0" y="486.0" width="13.6" height="11.8" fill="#000" opacity="0.28"/>
<rect x="349.0" y="489.3" width="13.6" height="3.0" rx="3.0" ry="1.5" fill="#000" opacity="0.38"/>
<rect x="366.7" y="486.0" width="13.6" height="11.8" fill="#000" opacity="0.28"/>
<rect x="366.7" y="489.7" width="13.6" height="3.0" rx="3.0" ry="1.5" fill="#000" opacity="0.38"/>
<rect x="384.4" y="486.0" width="13.6" height="11.8" fill="#000" opacity="0.28"/>
<rect x="384.4" y="490.0" width="13.6" height="3.0" rx="3.0" ry="1.5" fill="#000" opacity="0.38"/>
</g></g>
<rect x="294.5" y="486.5" width="105.0" height="10.0" fill="none" stroke="#0a0a0a" stroke-width="1"/>
<text x="68.60" y="509.90" font-size="9.5" text-anchor="end" font-weight="normal" font-style="normal" fill="#000" >Total AKT</text>
<clipPath id="bc28"><rect x="71.00" y="500.80" width="106.20" height="11.60"/></clipPath>
<rect x="71.00" y="500.80" width="106.20" height="11.60" fill="#dedede" stroke="none" stroke-width="0" />
<g clip-path="url(#bc28)"><g filter="url(#b07)">
<rect x="73.8" y="500.8" width="13.2" height="11.6" fill="#000" opacity="0.28"/>
<rect x="73.8" y="505.2" width="13.2" height="5.2" rx="3.4" ry="1.7" fill="#000" opacity="1.00"/>
<rect x="91.5" y="500.8" width="13.2" height="11.6" fill="#000" opacity="0.28"/>
<rect x="91.5" y="505.4" width="13.2" height="5.2" rx="3.4" ry="1.7" fill="#000" opacity="1.00"/>
<rect x="109.2" y="500.8" width="13.2" height="11.6" fill="#000" opacity="0.28"/>
<rect x="109.2" y="505.4" width="13.2" height="5.2" rx="3.4" ry="1.7" fill="#000" opacity="0.80"/>
<rect x="126.0" y="500.8" width="13.2" height="11.6" fill="#000" opacity="0.28"/>
<rect x="126.0" y="504.8" width="13.2" height="5.2" rx="3.4" ry="1.7" fill="#000" opacity="1.00"/>
<rect x="143.7" y="500.8" width="13.2" height="11.6" fill="#000" opacity="0.28"/>
<rect x="143.7" y="505.5" width="13.2" height="5.2" rx="3.4" ry="1.7" fill="#000" opacity="1.00"/>
<rect x="161.4" y="500.8" width="13.2" height="11.6" fill="#000" opacity="0.28"/>
<rect x="161.4" y="505.3" width="13.2" height="5.2" rx="3.4" ry="1.7" fill="#000" opacity="1.00"/>
</g></g>
<rect x="71.5" y="500.5" width="105.0" height="11.0" fill="none" stroke="#0a0a0a" stroke-width="1"/>
<clipPath id="bc29"><rect x="183.00" y="500.80" width="106.20" height="11.60"/></clipPath>
<rect x="183.00" y="500.80" width="106.20" height="11.60" fill="#d8d8d8" stroke="none" stroke-width="0" />
<g clip-path="url(#bc29)"><g filter="url(#b07)">
<rect x="185.5" y="500.8" width="13.8" height="11.6" fill="#000" opacity="0.30"/>
<rect x="185.5" y="504.5" width="13.8" height="5.4" rx="3.4" ry="1.7" fill="#000" opacity="1.00"/>
<rect x="203.2" y="500.8" width="13.8" height="11.6" fill="#000" opacity="0.30"/>
<rect x="203.2" y="504.2" width="13.8" height="5.4" rx="3.4" ry="1.7" fill="#000" opacity="1.00"/>
<rect x="220.9" y="500.8" width="13.8" height="11.6" fill="#000" opacity="0.30"/>
<rect x="220.9" y="505.1" width="13.8" height="5.4" rx="3.4" ry="1.7" fill="#000" opacity="1.00"/>
<rect x="237.7" y="500.8" width="13.8" height="11.6" fill="#000" opacity="0.30"/>
<rect x="237.7" y="504.7" width="13.8" height="5.4" rx="3.4" ry="1.7" fill="#000" opacity="1.00"/>
<rect x="255.4" y="500.8" width="13.8" height="11.6" fill="#000" opacity="0.30"/>
<rect x="255.4" y="504.9" width="13.8" height="5.4" rx="3.4" ry="1.7" fill="#000" opacity="1.00"/>
<rect x="273.1" y="500.8" width="13.8" height="11.6" fill="#000" opacity="0.30"/>
<rect x="273.1" y="505.1" width="13.8" height="5.4" rx="3.4" ry="1.7" fill="#000" opacity="1.00"/>
</g></g>
<rect x="183.5" y="500.5" width="105.0" height="11.0" fill="none" stroke="#0a0a0a" stroke-width="1"/>
<clipPath id="bc30"><rect x="294.20" y="500.80" width="106.10" height="11.60"/></clipPath>
<rect x="294.20" y="500.80" width="106.10" height="11.60" fill="#dadada" stroke="none" stroke-width="0" />
<g clip-path="url(#bc30)"><g filter="url(#b07)">
<rect x="296.7" y="500.8" width="13.8" height="11.6" fill="#000" opacity="0.28"/>
<rect x="296.7" y="504.9" width="13.8" height="4.8" rx="3.4" ry="1.7" fill="#000" opacity="1.00"/>
<rect x="314.4" y="500.8" width="13.8" height="11.6" fill="#000" opacity="0.28"/>
<rect x="314.4" y="505.1" width="13.8" height="4.8" rx="3.4" ry="1.7" fill="#000" opacity="1.00"/>
<rect x="332.1" y="500.8" width="13.8" height="11.6" fill="#000" opacity="0.28"/>
<rect x="332.1" y="504.6" width="13.8" height="4.8" rx="3.4" ry="1.7" fill="#000" opacity="1.00"/>
<rect x="348.9" y="500.8" width="13.8" height="11.6" fill="#000" opacity="0.28"/>
<rect x="348.9" y="505.0" width="13.8" height="4.8" rx="3.4" ry="1.7" fill="#000" opacity="1.00"/>
<rect x="366.6" y="500.8" width="13.8" height="11.6" fill="#000" opacity="0.28"/>
<rect x="366.6" y="504.6" width="13.8" height="4.8" rx="3.4" ry="1.7" fill="#000" opacity="1.00"/>
<rect x="384.3" y="500.8" width="13.8" height="11.6" fill="#000" opacity="0.28"/>
<rect x="384.3" y="505.1" width="13.8" height="4.8" rx="3.4" ry="1.7" fill="#000" opacity="1.00"/>
</g></g>
<rect x="294.5" y="500.5" width="105.0" height="11.0" fill="none" stroke="#0a0a0a" stroke-width="1"/>
<text x="68.60" y="524.70" font-size="9.5" text-anchor="end" font-weight="normal" font-style="normal" fill="#000" >p-VANGL2</text>
<clipPath id="bc31"><rect x="71.00" y="515.60" width="106.20" height="11.60"/></clipPath>
<rect x="71.00" y="515.60" width="106.20" height="11.60" fill="#cccccc" stroke="none" stroke-width="0" />
<g clip-path="url(#bc31)"><g filter="url(#b07)">
<rect x="73.6" y="515.6" width="13.6" height="11.6" fill="#000" opacity="0.24"/>
<rect x="73.6" y="521.2" width="13.6" height="2.4" rx="2.4" ry="1.2" fill="#000" opacity="0.30"/>
<rect x="91.3" y="515.6" width="13.6" height="11.6" fill="#000" opacity="0.24"/>
<rect x="91.3" y="520.4" width="13.6" height="2.4" rx="2.4" ry="1.2" fill="#000" opacity="0.30"/>
<rect x="109.0" y="515.6" width="13.6" height="11.6" fill="#000" opacity="0.24"/>
<rect x="109.0" y="520.4" width="13.6" height="2.4" rx="2.4" ry="1.2" fill="#000" opacity="0.30"/>
<rect x="125.8" y="515.6" width="13.6" height="11.6" fill="#000" opacity="0.24"/>
<rect x="125.8" y="520.5" width="13.6" height="2.4" rx="2.4" ry="1.2" fill="#000" opacity="0.30"/>
<rect x="143.5" y="515.6" width="13.6" height="11.6" fill="#000" opacity="0.24"/>
<rect x="143.5" y="521.3" width="13.6" height="2.4" rx="2.4" ry="1.2" fill="#000" opacity="0.30"/>
<rect x="161.2" y="515.6" width="13.6" height="11.6" fill="#000" opacity="0.24"/>
<rect x="161.2" y="520.7" width="13.6" height="2.4" rx="2.4" ry="1.2" fill="#000" opacity="0.30"/>
</g></g>
<rect x="71.5" y="515.5" width="105.0" height="11.0" fill="none" stroke="#0a0a0a" stroke-width="1"/>
<clipPath id="bc32"><rect x="183.00" y="515.60" width="106.20" height="11.60"/></clipPath>
<rect x="183.00" y="515.60" width="106.20" height="11.60" fill="#cacaca" stroke="none" stroke-width="0" />
<g clip-path="url(#bc32)"><g filter="url(#b07)">
<rect x="185.6" y="515.6" width="13.6" height="11.6" fill="#000" opacity="0.24"/>
<rect x="185.6" y="519.3" width="13.6" height="4.4" rx="3.4" ry="1.7" fill="#000" opacity="0.10"/>
<rect x="203.3" y="515.6" width="13.6" height="11.6" fill="#000" opacity="0.24"/>
<rect x="203.3" y="519.0" width="13.6" height="4.4" rx="3.4" ry="1.7" fill="#000" opacity="0.10"/>
<rect x="221.0" y="515.6" width="13.6" height="11.6" fill="#000" opacity="0.24"/>
<rect x="221.0" y="519.2" width="13.6" height="4.4" rx="3.4" ry="1.7" fill="#000" opacity="0.10"/>
<rect x="237.8" y="515.6" width="13.6" height="11.6" fill="#000" opacity="0.24"/>
<rect x="237.8" y="519.1" width="13.6" height="4.4" rx="3.4" ry="1.7" fill="#000" opacity="0.10"/>
<rect x="255.5" y="515.6" width="13.6" height="11.6" fill="#000" opacity="0.24"/>
<rect x="255.5" y="519.1" width="13.6" height="4.4" rx="3.4" ry="1.7" fill="#000" opacity="0.10"/>
<rect x="273.2" y="515.6" width="13.6" height="11.6" fill="#000" opacity="0.24"/>
<rect x="273.2" y="519.3" width="13.6" height="4.4" rx="3.4" ry="1.7" fill="#000" opacity="0.10"/>
</g></g>
<rect x="183.5" y="515.5" width="105.0" height="11.0" fill="none" stroke="#0a0a0a" stroke-width="1"/>
<clipPath id="bc33"><rect x="294.20" y="515.60" width="106.10" height="11.60"/></clipPath>
<rect x="294.20" y="515.60" width="106.10" height="11.60" fill="#cacaca" stroke="none" stroke-width="0" />
<g clip-path="url(#bc33)"><g filter="url(#b07)">
<rect x="296.8" y="515.6" width="13.6" height="11.6" fill="#000" opacity="0.24"/>
<rect x="296.8" y="520.2" width="13.6" height="2.6" rx="2.6" ry="1.3" fill="#000" opacity="0.30"/>
<rect x="314.5" y="515.6" width="13.6" height="11.6" fill="#000" opacity="0.24"/>
<rect x="314.5" y="520.5" width="13.6" height="2.6" rx="2.6" ry="1.3" fill="#000" opacity="0.30"/>
<rect x="332.2" y="515.6" width="13.6" height="11.6" fill="#000" opacity="0.24"/>
<rect x="332.2" y="520.3" width="13.6" height="2.6" rx="2.6" ry="1.3" fill="#000" opacity="0.30"/>
<rect x="349.0" y="515.6" width="13.6" height="11.6" fill="#000" opacity="0.24"/>
<rect x="349.0" y="520.5" width="13.6" height="2.6" rx="2.6" ry="1.3" fill="#000" opacity="0.30"/>
<rect x="366.7" y="515.6" width="13.6" height="11.6" fill="#000" opacity="0.24"/>
<rect x="366.7" y="520.5" width="13.6" height="2.6" rx="2.6" ry="1.3" fill="#000" opacity="0.30"/>
<rect x="384.4" y="515.6" width="13.6" height="11.6" fill="#000" opacity="0.24"/>
<rect x="384.4" y="520.6" width="13.6" height="2.6" rx="2.6" ry="1.3" fill="#000" opacity="0.30"/>
</g></g>
<rect x="294.5" y="515.5" width="105.0" height="11.0" fill="none" stroke="#0a0a0a" stroke-width="1"/>
<text x="68.60" y="539.40" font-size="9.5" text-anchor="end" font-weight="normal" font-style="normal" fill="#000" >Total VANGL2</text>
<clipPath id="bc34"><rect x="71.00" y="530.40" width="106.20" height="11.40"/></clipPath>
<rect x="71.00" y="530.40" width="106.20" height="11.40" fill="#dcdcdc" stroke="none" stroke-width="0" />
<g clip-path="url(#bc34)"><g filter="url(#b07)">
<rect x="73.6" y="530.4" width="13.6" height="11.4" fill="#000" opacity="0.28"/>
<rect x="73.6" y="533.9" width="13.6" height="4.8" rx="3.4" ry="1.7" fill="#000" opacity="1.00"/>
<rect x="91.3" y="530.4" width="13.6" height="11.4" fill="#000" opacity="0.28"/>
<rect x="91.3" y="533.4" width="13.6" height="4.8" rx="3.4" ry="1.7" fill="#000" opacity="1.00"/>
<rect x="109.0" y="530.4" width="13.6" height="11.4" fill="#000" opacity="0.28"/>
<rect x="109.0" y="534.1" width="13.6" height="4.8" rx="3.4" ry="1.7" fill="#000" opacity="1.00"/>
<rect x="125.8" y="530.4" width="13.6" height="11.4" fill="#000" opacity="0.28"/>
<rect x="125.8" y="534.2" width="13.6" height="4.8" rx="3.4" ry="1.7" fill="#000" opacity="1.00"/>
<rect x="143.5" y="530.4" width="13.6" height="11.4" fill="#000" opacity="0.28"/>
<rect x="143.5" y="534.1" width="13.6" height="4.8" rx="3.4" ry="1.7" fill="#000" opacity="1.00"/>
<rect x="161.2" y="530.4" width="13.6" height="11.4" fill="#000" opacity="0.28"/>
<rect x="161.2" y="533.8" width="13.6" height="4.8" rx="3.4" ry="1.7" fill="#000" opacity="1.00"/>
</g></g>
<rect x="71.5" y="530.5" width="105.0" height="10.0" fill="none" stroke="#0a0a0a" stroke-width="1"/>
<clipPath id="bc35"><rect x="183.00" y="530.40" width="106.20" height="11.40"/></clipPath>
<rect x="183.00" y="530.40" width="106.20" height="11.40" fill="#d4d4d4" stroke="none" stroke-width="0" />
<g clip-path="url(#bc35)"><g filter="url(#b07)">
<rect x="185.6" y="530.4" width="13.6" height="11.4" fill="#000" opacity="0.30"/>
<rect x="185.6" y="534.3" width="13.6" height="4.0" rx="3.4" ry="1.7" fill="#000" opacity="0.90"/>
<rect x="203.3" y="530.4" width="13.6" height="11.4" fill="#000" opacity="0.30"/>
<rect x="203.3" y="533.8" width="13.6" height="4.0" rx="3.4" ry="1.7" fill="#000" opacity="0.90"/>
<rect x="221.0" y="530.4" width="13.6" height="11.4" fill="#000" opacity="0.30"/>
<rect x="221.0" y="534.4" width="13.6" height="4.0" rx="3.4" ry="1.7" fill="#000" opacity="0.90"/>
<rect x="237.8" y="530.4" width="13.6" height="11.4" fill="#000" opacity="0.30"/>
<rect x="237.8" y="534.2" width="13.6" height="4.0" rx="3.4" ry="1.7" fill="#000" opacity="0.90"/>
<rect x="255.5" y="530.4" width="13.6" height="11.4" fill="#000" opacity="0.30"/>
<rect x="255.5" y="533.9" width="13.6" height="4.0" rx="3.4" ry="1.7" fill="#000" opacity="0.90"/>
<rect x="273.2" y="530.4" width="13.6" height="11.4" fill="#000" opacity="0.30"/>
<rect x="273.2" y="533.7" width="13.6" height="4.0" rx="3.4" ry="1.7" fill="#000" opacity="0.90"/>
</g></g>
<rect x="183.5" y="530.5" width="105.0" height="10.0" fill="none" stroke="#0a0a0a" stroke-width="1"/>
<clipPath id="bc36"><rect x="294.20" y="530.40" width="106.10" height="11.40"/></clipPath>
<rect x="294.20" y="530.40" width="106.10" height="11.40" fill="#d4d4d4" stroke="none" stroke-width="0" />
<g clip-path="url(#bc36)"><g filter="url(#b07)">
<rect x="296.8" y="530.4" width="13.6" height="11.4" fill="#000" opacity="0.30"/>
<rect x="296.8" y="534.4" width="13.6" height="4.2" rx="3.4" ry="1.7" fill="#000" opacity="0.95"/>
<rect x="314.5" y="530.4" width="13.6" height="11.4" fill="#000" opacity="0.30"/>
<rect x="314.5" y="534.5" width="13.6" height="4.2" rx="3.4" ry="1.7" fill="#000" opacity="0.95"/>
<rect x="332.2" y="530.4" width="13.6" height="11.4" fill="#000" opacity="0.30"/>
<rect x="332.2" y="533.6" width="13.6" height="4.2" rx="3.4" ry="1.7" fill="#000" opacity="0.95"/>
<rect x="349.0" y="530.4" width="13.6" height="11.4" fill="#000" opacity="0.30"/>
<rect x="349.0" y="534.3" width="13.6" height="4.2" rx="3.4" ry="1.7" fill="#000" opacity="0.95"/>
<rect x="366.7" y="530.4" width="13.6" height="11.4" fill="#000" opacity="0.30"/>
<rect x="366.7" y="533.9" width="13.6" height="4.2" rx="3.4" ry="1.7" fill="#000" opacity="0.95"/>
<rect x="384.4" y="530.4" width="13.6" height="11.4" fill="#000" opacity="0.30"/>
<rect x="384.4" y="533.7" width="13.6" height="4.2" rx="3.4" ry="1.7" fill="#000" opacity="0.95"/>
</g></g>
<rect x="294.5" y="530.5" width="105.0" height="10.0" fill="none" stroke="#0a0a0a" stroke-width="1"/>
<text x="68.60" y="553.90" font-size="9.5" text-anchor="end" font-weight="normal" font-style="normal" fill="#000" >GAPDH</text>
<clipPath id="bc37"><rect x="71.00" y="544.70" width="106.20" height="11.80"/></clipPath>
<rect x="71.00" y="544.70" width="106.20" height="11.80" fill="#e0e0e0" stroke="none" stroke-width="0" />
<g clip-path="url(#bc37)"><g filter="url(#b07)">
<rect x="73.8" y="544.7" width="13.2" height="11.8" fill="#000" opacity="0.20"/>
<rect x="73.8" y="547.9" width="13.2" height="6.0" rx="3.4" ry="1.7" fill="#000" opacity="1.00"/>
<rect x="91.5" y="544.7" width="13.2" height="11.8" fill="#000" opacity="0.20"/>
<rect x="91.5" y="548.4" width="13.2" height="6.0" rx="3.4" ry="1.7" fill="#000" opacity="1.00"/>
<rect x="109.2" y="544.7" width="13.2" height="11.8" fill="#000" opacity="0.20"/>
<rect x="109.2" y="548.5" width="13.2" height="6.0" rx="3.4" ry="1.7" fill="#000" opacity="1.00"/>
<rect x="126.0" y="544.7" width="13.2" height="11.8" fill="#000" opacity="0.20"/>
<rect x="126.0" y="547.6" width="13.2" height="6.0" rx="3.4" ry="1.7" fill="#000" opacity="1.00"/>
<rect x="143.7" y="544.7" width="13.2" height="11.8" fill="#000" opacity="0.20"/>
<rect x="143.7" y="548.2" width="13.2" height="6.0" rx="3.4" ry="1.7" fill="#000" opacity="1.00"/>
<rect x="161.4" y="544.7" width="13.2" height="11.8" fill="#000" opacity="0.20"/>
<rect x="161.4" y="547.6" width="13.2" height="6.0" rx="3.4" ry="1.7" fill="#000" opacity="1.00"/>
</g></g>
<rect x="71.5" y="544.5" width="105.0" height="11.0" fill="none" stroke="#0a0a0a" stroke-width="1"/>
<clipPath id="bc38"><rect x="183.00" y="544.70" width="106.20" height="11.80"/></clipPath>
<rect x="183.00" y="544.70" width="106.20" height="11.80" fill="#e0e0e0" stroke="none" stroke-width="0" />
<g clip-path="url(#bc38)"><g filter="url(#b07)">
<rect x="185.8" y="544.7" width="13.2" height="11.8" fill="#000" opacity="0.12"/>
<rect x="185.8" y="548.9" width="13.2" height="3.8" rx="3.4" ry="1.7" fill="#000" opacity="0.98"/>
<rect x="203.6" y="544.7" width="13.2" height="11.8" fill="#000" opacity="0.12"/>
<rect x="203.6" y="548.5" width="13.2" height="3.8" rx="3.4" ry="1.7" fill="#000" opacity="0.98"/>
<rect x="221.2" y="544.7" width="13.2" height="11.8" fill="#000" opacity="0.12"/>
<rect x="221.2" y="549.1" width="13.2" height="3.8" rx="3.4" ry="1.7" fill="#000" opacity="0.98"/>
<rect x="238.0" y="544.7" width="13.2" height="11.8" fill="#000" opacity="0.12"/>
<rect x="238.0" y="549.2" width="13.2" height="3.8" rx="3.4" ry="1.7" fill="#000" opacity="0.98"/>
<rect x="255.7" y="544.7" width="13.2" height="11.8" fill="#000" opacity="0.12"/>
<rect x="255.7" y="548.7" width="13.2" height="3.8" rx="3.4" ry="1.7" fill="#000" opacity="0.98"/>
<rect x="273.4" y="544.7" width="13.2" height="11.8" fill="#000" opacity="0.12"/>
<rect x="273.4" y="549.2" width="13.2" height="3.8" rx="3.4" ry="1.7" fill="#000" opacity="0.98"/>
</g></g>
<rect x="183.5" y="544.5" width="105.0" height="11.0" fill="none" stroke="#0a0a0a" stroke-width="1"/>
<clipPath id="bc39"><rect x="294.20" y="544.70" width="106.10" height="11.80"/></clipPath>
<rect x="294.20" y="544.70" width="106.10" height="11.80" fill="#e0e0e0" stroke="none" stroke-width="0" />
<g clip-path="url(#bc39)"><g filter="url(#b07)">
<rect x="297.0" y="544.7" width="13.2" height="11.8" fill="#000" opacity="0.12"/>
<rect x="297.0" y="548.5" width="13.2" height="3.8" rx="3.4" ry="1.7" fill="#000" opacity="0.98"/>
<rect x="314.7" y="544.7" width="13.2" height="11.8" fill="#000" opacity="0.12"/>
<rect x="314.7" y="548.3" width="13.2" height="3.8" rx="3.4" ry="1.7" fill="#000" opacity="0.98"/>
<rect x="332.4" y="544.7" width="13.2" height="11.8" fill="#000" opacity="0.12"/>
<rect x="332.4" y="548.8" width="13.2" height="3.8" rx="3.4" ry="1.7" fill="#000" opacity="0.98"/>
<rect x="349.2" y="544.7" width="13.2" height="11.8" fill="#000" opacity="0.12"/>
<rect x="349.2" y="548.2" width="13.2" height="3.8" rx="3.4" ry="1.7" fill="#000" opacity="0.98"/>
<rect x="366.9" y="544.7" width="13.2" height="11.8" fill="#000" opacity="0.12"/>
<rect x="366.9" y="548.4" width="13.2" height="3.8" rx="3.4" ry="1.7" fill="#000" opacity="0.98"/>
<rect x="384.6" y="544.7" width="13.2" height="11.8" fill="#000" opacity="0.12"/>
<rect x="384.6" y="548.6" width="13.2" height="3.8" rx="3.4" ry="1.7" fill="#000" opacity="0.98"/>
</g></g>
<rect x="294.5" y="544.5" width="105.0" height="11.0" fill="none" stroke="#0a0a0a" stroke-width="1"/>
<rect x="442.00" y="495.00" width="8.00" height="45.20" fill="#1054b6" stroke="none" stroke-width="0" />
<rect x="450.80" y="494.10" width="8.00" height="46.10" fill="#b8075f" stroke="none" stroke-width="0" />
<rect x="464.15" y="495.00" width="8.00" height="45.20" fill="#1054b6" stroke="none" stroke-width="0" />
<rect x="472.95" y="492.29" width="8.00" height="47.91" fill="#b8075f" stroke="none" stroke-width="0" />
<rect x="486.30" y="495.00" width="8.00" height="45.20" fill="#1054b6" stroke="none" stroke-width="0" />
<rect x="495.10" y="497.26" width="8.00" height="42.94" fill="#b8075f" stroke="none" stroke-width="0" />
<line x1="436.50" y1="472.10" x2="436.50" y2="540.65" stroke="#ececec" stroke-width="1.0" />
<line x1="436.30" y1="540.50" x2="507.90" y2="540.50" stroke="#e2e2e2" stroke-width="1.0" />
<line x1="430.20" y1="540.50" x2="436.70" y2="540.50" stroke="#000" stroke-width="1.0" />
<text x="429.90" y="543.40" font-size="8.9" text-anchor="end" font-weight="normal" font-style="normal" fill="#000" >0.0</text>
<line x1="430.20" y1="517.50" x2="436.70" y2="517.50" stroke="#000" stroke-width="1.0" />
<text x="429.90" y="520.80" font-size="8.9" text-anchor="end" font-weight="normal" font-style="normal" fill="#000" >0.5</text>
<line x1="430.20" y1="495.50" x2="436.70" y2="495.50" stroke="#000" stroke-width="1.0" />
<text x="429.90" y="498.20" font-size="8.9" text-anchor="end" font-weight="normal" font-style="normal" fill="#000" >1.0</text>
<line x1="430.20" y1="472.50" x2="436.70" y2="472.50" stroke="#000" stroke-width="1.0" />
<text x="429.90" y="475.60" font-size="8.9" text-anchor="end" font-weight="normal" font-style="normal" fill="#000" >1.5</text>
<line x1="450.50" y1="540.20" x2="450.50" y2="546.00" stroke="#e2e2e2" stroke-width="1.0" />
<text x="450.40" y="553.90" font-size="9.3" text-anchor="middle" font-weight="normal" font-style="normal" fill="#000" >2M</text>
<line x1="472.50" y1="540.20" x2="472.50" y2="546.00" stroke="#e2e2e2" stroke-width="1.0" />
<text x="472.55" y="553.90" font-size="9.3" text-anchor="middle" font-weight="normal" font-style="normal" fill="#000" >4M</text>
<line x1="494.50" y1="540.20" x2="494.50" y2="546.00" stroke="#e2e2e2" stroke-width="1.0" />
<text x="494.70" y="553.90" font-size="9.3" text-anchor="middle" font-weight="normal" font-style="normal" fill="#000" >9M</text>
<text x="472.00" y="465.60" font-size="9.1" text-anchor="middle" font-weight="bold" font-style="normal" fill="#000" >p-AKT</text>
<line x1="446.00" y1="492.74" x2="446.00" y2="496.36" stroke="#000" stroke-width="0.7" />
<line x1="444.20" y1="492.74" x2="447.80" y2="492.74" stroke="#000" stroke-width="0.7" />
<circle cx="443.65" cy="493.63" r="1.3" fill="#fff" stroke="#111" stroke-width="0.6"/>
<circle cx="445.81" cy="497.15" r="1.3" fill="#fff" stroke="#111" stroke-width="0.6"/>
<circle cx="446.69" cy="490.02" r="1.3" fill="#fff" stroke="#111" stroke-width="0.6"/>
<circle cx="445.88" cy="490.84" r="1.3" fill="#fff" stroke="#111" stroke-width="0.6"/>
<circle cx="444.79" cy="497.88" r="1.3" fill="#fff" stroke="#111" stroke-width="0.6"/>
<circle cx="446.98" cy="490.00" r="1.3" fill="#fff" stroke="#111" stroke-width="0.6"/>
<line x1="454.80" y1="491.84" x2="454.80" y2="495.45" stroke="#000" stroke-width="0.7" />
<line x1="453.00" y1="491.84" x2="456.60" y2="491.84" stroke="#000" stroke-width="0.7" />
<circle cx="452.50" cy="496.27" r="1.3" fill="#fff" stroke="#111" stroke-width="0.6"/>
<circle cx="455.64" cy="494.11" r="1.3" fill="#fff" stroke="#111" stroke-width="0.6"/>
<circle cx="453.63" cy="494.82" r="1.3" fill="#fff" stroke="#111" stroke-width="0.6"/>
<circle cx="456.84" cy="492.58" r="1.3" fill="#fff" stroke="#111" stroke-width="0.6"/>
<circle cx="452.56" cy="496.57" r="1.3" fill="#fff" stroke="#111" stroke-width="0.6"/>
<circle cx="454.42" cy="495.56" r="1.3" fill="#fff" stroke="#111" stroke-width="0.6"/>
<line x1="468.15" y1="492.74" x2="468.15" y2="496.36" stroke="#000" stroke-width="0.7" />
<line x1="466.35" y1="492.74" x2="469.95" y2="492.74" stroke="#000" stroke-width="0.7" />
<circle cx="466.70" cy="492.52" r="1.3" fill="#fff" stroke="#111" stroke-width="0.6"/>
<circle cx="469.30" cy="491.78" r="1.3" fill="#fff" stroke="#111" stroke-width="0.6"/>
<circle cx="466.74" cy="494.95" r="1.3" fill="#fff" stroke="#111" stroke-width="0.6"/>
<circle cx="467.25" cy="489.90" r="1.3" fill="#fff" stroke="#111" stroke-width="0.6"/>
<circle cx="466.86" cy="491.53" r="1.3" fill="#fff" stroke="#111" stroke-width="0.6"/>
<circle cx="469.40" cy="498.02" r="1.3" fill="#fff" stroke="#111" stroke-width="0.6"/>
<line x1="476.95" y1="488.22" x2="476.95" y2="494.73" stroke="#000" stroke-width="0.7" />
<line x1="475.15" y1="488.22" x2="478.75" y2="488.22" stroke="#000" stroke-width="0.7" />
<circle cx="479.12" cy="495.76" r="1.3" fill="#fff" stroke="#111" stroke-width="0.6"/>
<circle cx="475.45" cy="492.35" r="1.3" fill="#fff" stroke="#111" stroke-width="0.6"/>
<circle cx="476.55" cy="496.04" r="1.3" fill="#fff" stroke="#111" stroke-width="0.6"/>
<circle cx="479.10" cy="490.05" r="1.3" fill="#fff" stroke="#111" stroke-width="0.6"/>
<circle cx="476.44" cy="497.08" r="1.3" fill="#fff" stroke="#111" stroke-width="0.6"/>
<circle cx="479.23" cy="496.18" r="1.3" fill="#fff" stroke="#111" stroke-width="0.6"/>
<line x1="490.30" y1="492.29" x2="490.30" y2="496.63" stroke="#000" stroke-width="0.7" />
<line x1="488.50" y1="492.29" x2="492.10" y2="492.29" stroke="#000" stroke-width="0.7" />
<circle cx="488.15" cy="499.86" r="1.3" fill="#fff" stroke="#111" stroke-width="0.6"/>
<circle cx="489.79" cy="499.77" r="1.3" fill="#fff" stroke="#111" stroke-width="0.6"/>
<circle cx="492.14" cy="490.68" r="1.3" fill="#fff" stroke="#111" stroke-width="0.6"/>
<circle cx="492.69" cy="492.48" r="1.3" fill="#fff" stroke="#111" stroke-width="0.6"/>
<circle cx="489.48" cy="490.32" r="1.3" fill="#fff" stroke="#111" stroke-width="0.6"/>
<circle cx="492.39" cy="498.41" r="1.3" fill="#fff" stroke="#111" stroke-width="0.6"/>
<line x1="499.10" y1="493.19" x2="499.10" y2="499.70" stroke="#000" stroke-width="0.7" />
<line x1="497.30" y1="493.19" x2="500.90" y2="493.19" stroke="#000" stroke-width="0.7" />
<circle cx="496.85" cy="493.09" r="1.3" fill="#fff" stroke="#111" stroke-width="0.6"/>
<circle cx="498.52" cy="495.03" r="1.3" fill="#fff" stroke="#111" stroke-width="0.6"/>
<circle cx="498.29" cy="498.97" r="1.3" fill="#fff" stroke="#111" stroke-width="0.6"/>
<circle cx="496.71" cy="501.74" r="1.3" fill="#fff" stroke="#111" stroke-width="0.6"/>
<circle cx="498.39" cy="500.25" r="1.3" fill="#fff" stroke="#111" stroke-width="0.6"/>
<circle cx="497.29" cy="491.08" r="1.3" fill="#fff" stroke="#111" stroke-width="0.6"/>
<circle cx="477.88" cy="479.18" r="1.3" fill="#fff" stroke="#111" stroke-width="0.6"/>
<circle cx="498.51" cy="512.18" r="1.3" fill="#fff" stroke="#111" stroke-width="0.6"/>
<circle cx="498.81" cy="507.66" r="1.3" fill="#fff" stroke="#111" stroke-width="0.6"/>
<text transform="translate(415.00,506.20) rotate(-90)" font-size="9.3" text-anchor="middle" font-weight="normal" fill="#000">Fold change</text>
<rect x="534.00" y="495.25" width="8.00" height="44.75" fill="#1054b6" stroke="none" stroke-width="0" />
<rect x="542.80" y="492.99" width="8.00" height="47.01" fill="#b8075f" stroke="none" stroke-width="0" />
<rect x="556.15" y="495.70" width="8.00" height="44.30" fill="#1054b6" stroke="none" stroke-width="0" />
<rect x="564.95" y="491.18" width="8.00" height="48.82" fill="#b8075f" stroke="none" stroke-width="0" />
<rect x="578.30" y="495.25" width="8.00" height="44.75" fill="#1054b6" stroke="none" stroke-width="0" />
<rect x="587.10" y="494.35" width="8.00" height="45.65" fill="#b8075f" stroke="none" stroke-width="0" />
<line x1="530.50" y1="471.90" x2="530.50" y2="540.45" stroke="#000" stroke-width="1.0" />
<line x1="529.60" y1="540.50" x2="599.90" y2="540.50" stroke="#ddd" stroke-width="1.0" />
<line x1="523.50" y1="540.50" x2="530.00" y2="540.50" stroke="#000" stroke-width="1.0" />
<text x="523.20" y="543.20" font-size="8.9" text-anchor="end" font-weight="normal" font-style="normal" fill="#000" >0.0</text>
<line x1="523.50" y1="517.50" x2="530.00" y2="517.50" stroke="#000" stroke-width="1.0" />
<text x="523.20" y="520.60" font-size="8.9" text-anchor="end" font-weight="normal" font-style="normal" fill="#000" >0.5</text>
<line x1="523.50" y1="494.50" x2="530.00" y2="494.50" stroke="#000" stroke-width="1.0" />
<text x="523.20" y="498.00" font-size="8.9" text-anchor="end" font-weight="normal" font-style="normal" fill="#000" >1.0</text>
<line x1="523.50" y1="472.50" x2="530.00" y2="472.50" stroke="#000" stroke-width="1.0" />
<text x="523.20" y="475.40" font-size="8.9" text-anchor="end" font-weight="normal" font-style="normal" fill="#000" >1.5</text>
<line x1="542.50" y1="540.00" x2="542.50" y2="545.80" stroke="#444" stroke-width="1.0" />
<text x="542.40" y="553.70" font-size="9.3" text-anchor="middle" font-weight="normal" font-style="normal" fill="#000" >2M</text>
<line x1="564.50" y1="540.00" x2="564.50" y2="545.80" stroke="#444" stroke-width="1.0" />
<text x="564.55" y="553.70" font-size="9.3" text-anchor="middle" font-weight="normal" font-style="normal" fill="#000" >4M</text>
<line x1="586.50" y1="540.00" x2="586.50" y2="545.80" stroke="#444" stroke-width="1.0" />
<text x="586.70" y="553.70" font-size="9.3" text-anchor="middle" font-weight="normal" font-style="normal" fill="#000" >9M</text>
<text x="565.00" y="465.60" font-size="9.1" text-anchor="middle" font-weight="bold" font-style="normal" fill="#000" >p-VANGL2</text>
<line x1="538.00" y1="491.64" x2="538.00" y2="497.42" stroke="#000" stroke-width="0.7" />
<line x1="536.20" y1="491.64" x2="539.80" y2="491.64" stroke="#000" stroke-width="0.7" />
<circle cx="539.55" cy="490.89" r="1.3" fill="#fff" stroke="#111" stroke-width="0.6"/>
<circle cx="535.84" cy="495.98" r="1.3" fill="#fff" stroke="#111" stroke-width="0.6"/>
<circle cx="537.39" cy="495.54" r="1.3" fill="#fff" stroke="#111" stroke-width="0.6"/>
<circle cx="536.53" cy="490.70" r="1.3" fill="#fff" stroke="#111" stroke-width="0.6"/>
<circle cx="539.91" cy="496.72" r="1.3" fill="#fff" stroke="#111" stroke-width="0.6"/>
<circle cx="537.57" cy="500.35" r="1.3" fill="#fff" stroke="#111" stroke-width="0.6"/>
<line x1="546.80" y1="488.47" x2="546.80" y2="495.70" stroke="#000" stroke-width="0.7" />
<line x1="545.00" y1="488.47" x2="548.60" y2="488.47" stroke="#000" stroke-width="0.7" />
<circle cx="548.08" cy="485.94" r="1.3" fill="#fff" stroke="#111" stroke-width="0.6"/>
<circle cx="544.57" cy="501.30" r="1.3" fill="#fff" stroke="#111" stroke-width="0.6"/>
<circle cx="548.82" cy="500.90" r="1.3" fill="#fff" stroke="#111" stroke-width="0.6"/>
<circle cx="547.99" cy="497.39" r="1.3" fill="#fff" stroke="#111" stroke-width="0.6"/>
<circle cx="546.03" cy="485.79" r="1.3" fill="#fff" stroke="#111" stroke-width="0.6"/>
<circle cx="549.00" cy="497.11" r="1.3" fill="#fff" stroke="#111" stroke-width="0.6"/>
<line x1="560.15" y1="492.54" x2="560.15" y2="497.60" stroke="#000" stroke-width="0.7" />
<line x1="558.35" y1="492.54" x2="561.95" y2="492.54" stroke="#000" stroke-width="0.7" />
<circle cx="559.01" cy="493.72" r="1.3" fill="#fff" stroke="#111" stroke-width="0.6"/>
<circle cx="559.27" cy="492.77" r="1.3" fill="#fff" stroke="#111" stroke-width="0.6"/>
<circle cx="557.77" cy="498.75" r="1.3" fill="#fff" stroke="#111" stroke-width="0.6"/>
<circle cx="562.15" cy="492.24" r="1.3" fill="#fff" stroke="#111" stroke-width="0.6"/>
<circle cx="562.28" cy="493.89" r="1.3" fill="#fff" stroke="#111" stroke-width="0.6"/>
<circle cx="558.87" cy="502.16" r="1.3" fill="#fff" stroke="#111" stroke-width="0.6"/>
<line x1="568.95" y1="487.12" x2="568.95" y2="493.62" stroke="#000" stroke-width="0.7" />
<line x1="567.15" y1="487.12" x2="570.75" y2="487.12" stroke="#000" stroke-width="0.7" />
<circle cx="571.14" cy="491.74" r="1.3" fill="#fff" stroke="#111" stroke-width="0.6"/>
<circle cx="568.41" cy="482.98" r="1.3" fill="#fff" stroke="#111" stroke-width="0.6"/>
<circle cx="568.61" cy="495.69" r="1.3" fill="#fff" stroke="#111" stroke-width="0.6"/>
<circle cx="571.00" cy="491.30" r="1.3" fill="#fff" stroke="#111" stroke-width="0.6"/>
<circle cx="570.40" cy="496.92" r="1.3" fill="#fff" stroke="#111" stroke-width="0.6"/>
<circle cx="570.50" cy="486.87" r="1.3" fill="#fff" stroke="#111" stroke-width="0.6"/>
<line x1="582.30" y1="492.99" x2="582.30" y2="496.61" stroke="#000" stroke-width="0.7" />
<line x1="580.50" y1="492.99" x2="584.10" y2="492.99" stroke="#000" stroke-width="0.7" />
<circle cx="582.81" cy="492.17" r="1.3" fill="#fff" stroke="#111" stroke-width="0.6"/>
<circle cx="581.43" cy="496.81" r="1.3" fill="#fff" stroke="#111" stroke-width="0.6"/>
<circle cx="583.65" cy="496.50" r="1.3" fill="#fff" stroke="#111" stroke-width="0.6"/>
<circle cx="580.85" cy="499.06" r="1.3" fill="#fff" stroke="#111" stroke-width="0.6"/>
<circle cx="581.09" cy="492.97" r="1.3" fill="#fff" stroke="#111" stroke-width="0.6"/>
<circle cx="580.06" cy="499.19" r="1.3" fill="#fff" stroke="#111" stroke-width="0.6"/>
<line x1="591.10" y1="492.09" x2="591.10" y2="495.70" stroke="#000" stroke-width="0.7" />
<line x1="589.30" y1="492.09" x2="592.90" y2="492.09" stroke="#000" stroke-width="0.7" />
<circle cx="590.26" cy="493.75" r="1.3" fill="#fff" stroke="#111" stroke-width="0.6"/>
<circle cx="592.94" cy="490.01" r="1.3" fill="#fff" stroke="#111" stroke-width="0.6"/>
<circle cx="589.97" cy="489.94" r="1.3" fill="#fff" stroke="#111" stroke-width="0.6"/>
<circle cx="589.16" cy="498.11" r="1.3" fill="#fff" stroke="#111" stroke-width="0.6"/>
<circle cx="592.11" cy="494.36" r="1.3" fill="#fff" stroke="#111" stroke-width="0.6"/>
<circle cx="589.82" cy="494.83" r="1.3" fill="#fff" stroke="#111" stroke-width="0.6"/>
<circle cx="546.63" cy="473.56" r="1.3" fill="#fff" stroke="#111" stroke-width="0.6"/>
<circle cx="547.04" cy="507.46" r="1.3" fill="#fff" stroke="#111" stroke-width="0.6"/>
<circle cx="560.50" cy="481.24" r="1.3" fill="#fff" stroke="#111" stroke-width="0.6"/>
<circle cx="569.45" cy="479.88" r="1.3" fill="#fff" stroke="#111" stroke-width="0.6"/>
<circle cx="569.64" cy="479.88" r="1.3" fill="#fff" stroke="#111" stroke-width="0.6"/>
<circle cx="591.43" cy="484.86" r="1.3" fill="#fff" stroke="#111" stroke-width="0.6"/>
<circle cx="559.39" cy="505.65" r="1.3" fill="#fff" stroke="#111" stroke-width="0.6"/>
<text x="0.60" y="582.80" font-size="13.8" text-anchor="start" font-weight="bold" font-style="normal" fill="#000" >F</text>
<rect x="81.00" y="610.90" width="8.00" height="44.30" fill="#1054b6" stroke="none" stroke-width="0" />
<rect x="90.00" y="608.64" width="8.00" height="46.56" fill="#b8075f" stroke="none" stroke-width="0" />
<rect x="103.10" y="610.90" width="8.00" height="44.30" fill="#1054b6" stroke="none" stroke-width="0" />
<rect x="112.10" y="629.89" width="8.00" height="25.31" fill="#b8075f" stroke="none" stroke-width="0" />
<rect x="125.20" y="610.90" width="8.00" height="44.30" fill="#1054b6" stroke="none" stroke-width="0" />
<rect x="134.20" y="637.12" width="8.00" height="18.08" fill="#b8075f" stroke="none" stroke-width="0" />
<line x1="76.50" y1="587.10" x2="76.50" y2="655.65" stroke="#000" stroke-width="1.0" />
<line x1="76.10" y1="655.50" x2="147.00" y2="655.50" stroke="#000" stroke-width="1.0" />
<line x1="70.00" y1="655.50" x2="76.50" y2="655.50" stroke="#000" stroke-width="1.0" />
<text x="69.70" y="658.40" font-size="8.9" text-anchor="end" font-weight="normal" font-style="normal" fill="#000" >0.0</text>
<line x1="70.00" y1="632.50" x2="76.50" y2="632.50" stroke="#000" stroke-width="1.0" />
<text x="69.70" y="635.80" font-size="8.9" text-anchor="end" font-weight="normal" font-style="normal" fill="#000" >0.5</text>
<line x1="70.00" y1="610.50" x2="76.50" y2="610.50" stroke="#000" stroke-width="1.0" />
<text x="69.70" y="613.20" font-size="8.9" text-anchor="end" font-weight="normal" font-style="normal" fill="#000" >1.0</text>
<line x1="70.00" y1="587.50" x2="76.50" y2="587.50" stroke="#000" stroke-width="1.0" />
<text x="69.70" y="590.60" font-size="8.9" text-anchor="end" font-weight="normal" font-style="normal" fill="#000" >1.5</text>
<line x1="89.50" y1="655.20" x2="89.50" y2="661.00" stroke="#000" stroke-width="1.0" />
<text x="89.50" y="668.90" font-size="9.3" text-anchor="middle" font-weight="normal" font-style="normal" fill="#000" >2M</text>
<line x1="111.50" y1="655.20" x2="111.50" y2="661.00" stroke="#000" stroke-width="1.0" />
<text x="111.60" y="668.90" font-size="9.3" text-anchor="middle" font-weight="normal" font-style="normal" fill="#000" >4M</text>
<line x1="133.50" y1="655.20" x2="133.50" y2="661.00" stroke="#000" stroke-width="1.0" />
<text x="133.70" y="668.90" font-size="9.3" text-anchor="middle" font-weight="normal" font-style="normal" fill="#000" >9M</text>
<text x="111.80" y="578.80" font-size="9.1" text-anchor="middle" font-weight="bold" font-style="normal" fill="#000" >Axin2</text>
<line x1="85.00" y1="608.19" x2="85.00" y2="612.53" stroke="#000" stroke-width="0.7" />
<line x1="83.20" y1="608.19" x2="86.80" y2="608.19" stroke="#000" stroke-width="0.7" />
<circle cx="84.01" cy="606.28" r="1.3" fill="#fff" stroke="#111" stroke-width="0.6"/>
<circle cx="84.39" cy="610.18" r="1.3" fill="#fff" stroke="#111" stroke-width="0.6"/>
<circle cx="83.56" cy="608.32" r="1.3" fill="#fff" stroke="#111" stroke-width="0.6"/>
<circle cx="83.78" cy="613.64" r="1.3" fill="#fff" stroke="#111" stroke-width="0.6"/>
<circle cx="86.84" cy="614.66" r="1.3" fill="#fff" stroke="#111" stroke-width="0.6"/>
<circle cx="84.17" cy="610.05" r="1.3" fill="#fff" stroke="#111" stroke-width="0.6"/>
<line x1="94.00" y1="605.03" x2="94.00" y2="610.81" stroke="#000" stroke-width="0.7" />
<line x1="92.20" y1="605.03" x2="95.80" y2="605.03" stroke="#000" stroke-width="0.7" />
<circle cx="96.36" cy="610.99" r="1.3" fill="#fff" stroke="#111" stroke-width="0.6"/>
<circle cx="92.71" cy="608.51" r="1.3" fill="#fff" stroke="#111" stroke-width="0.6"/>
<circle cx="94.74" cy="603.07" r="1.3" fill="#fff" stroke="#111" stroke-width="0.6"/>
<circle cx="92.09" cy="599.77" r="1.3" fill="#fff" stroke="#111" stroke-width="0.6"/>
<circle cx="95.53" cy="609.10" r="1.3" fill="#fff" stroke="#111" stroke-width="0.6"/>
<circle cx="95.99" cy="602.49" r="1.3" fill="#fff" stroke="#111" stroke-width="0.6"/>
<line x1="107.10" y1="605.48" x2="107.10" y2="614.16" stroke="#000" stroke-width="0.7" />
<line x1="105.30" y1="605.48" x2="108.90" y2="605.48" stroke="#000" stroke-width="0.7" />
<circle cx="106.11" cy="626.49" r="1.3" fill="#fff" stroke="#111" stroke-width="0.6"/>
<circle cx="105.61" cy="621.23" r="1.3" fill="#fff" stroke="#111" stroke-width="0.6"/>
<circle cx="107.50" cy="598.08" r="1.3" fill="#fff" stroke="#111" stroke-width="0.6"/>
<circle cx="106.49" cy="599.24" r="1.3" fill="#fff" stroke="#111" stroke-width="0.6"/>
<circle cx="106.86" cy="600.97" r="1.3" fill="#fff" stroke="#111" stroke-width="0.6"/>
<circle cx="108.43" cy="617.41" r="1.3" fill="#fff" stroke="#111" stroke-width="0.6"/>
<line x1="116.10" y1="625.37" x2="116.10" y2="632.60" stroke="#000" stroke-width="0.7" />
<line x1="114.30" y1="625.37" x2="117.90" y2="625.37" stroke="#000" stroke-width="0.7" />
<circle cx="114.21" cy="619.82" r="1.3" fill="#fff" stroke="#111" stroke-width="0.6"/>
<circle cx="116.68" cy="628.15" r="1.3" fill="#fff" stroke="#111" stroke-width="0.6"/>
<circle cx="115.47" cy="634.99" r="1.3" fill="#fff" stroke="#111" stroke-width="0.6"/>
<circle cx="114.68" cy="636.37" r="1.3" fill="#fff" stroke="#111" stroke-width="0.6"/>
<circle cx="116.58" cy="634.32" r="1.3" fill="#fff" stroke="#111" stroke-width="0.6"/>
<circle cx="114.68" cy="627.15" r="1.3" fill="#fff" stroke="#111" stroke-width="0.6"/>
<line x1="129.20" y1="608.64" x2="129.20" y2="612.26" stroke="#000" stroke-width="0.7" />
<line x1="127.40" y1="608.64" x2="131.00" y2="608.64" stroke="#000" stroke-width="0.7" />
<circle cx="128.37" cy="616.43" r="1.3" fill="#fff" stroke="#111" stroke-width="0.6"/>
<circle cx="127.69" cy="609.29" r="1.3" fill="#fff" stroke="#111" stroke-width="0.6"/>
<circle cx="127.78" cy="612.60" r="1.3" fill="#fff" stroke="#111" stroke-width="0.6"/>
<circle cx="129.43" cy="608.23" r="1.3" fill="#fff" stroke="#111" stroke-width="0.6"/>
<circle cx="127.29" cy="614.85" r="1.3" fill="#fff" stroke="#111" stroke-width="0.6"/>
<circle cx="129.44" cy="611.85" r="1.3" fill="#fff" stroke="#111" stroke-width="0.6"/>
<line x1="138.20" y1="633.50" x2="138.20" y2="639.29" stroke="#000" stroke-width="0.7" />
<line x1="136.40" y1="633.50" x2="140.00" y2="633.50" stroke="#000" stroke-width="0.7" />
<circle cx="136.24" cy="634.76" r="1.3" fill="#fff" stroke="#111" stroke-width="0.6"/>
<circle cx="139.14" cy="641.68" r="1.3" fill="#fff" stroke="#111" stroke-width="0.6"/>
<circle cx="137.16" cy="638.34" r="1.3" fill="#fff" stroke="#111" stroke-width="0.6"/>
<circle cx="140.38" cy="639.73" r="1.3" fill="#fff" stroke="#111" stroke-width="0.6"/>
<circle cx="138.52" cy="639.66" r="1.3" fill="#fff" stroke="#111" stroke-width="0.6"/>
<circle cx="137.80" cy="639.06" r="1.3" fill="#fff" stroke="#111" stroke-width="0.6"/>
<text transform="translate(120.10,596.00) rotate(-90)" font-size="7.5" text-anchor="middle" font-weight="bold" fill="#000">*</text>
<text transform="translate(142.20,611.00) rotate(-90)" font-size="7.5" text-anchor="middle" font-weight="bold" fill="#000">**</text>
<text transform="translate(44.50,622.70) rotate(-90)" font-size="9.3" text-anchor="middle" font-weight="normal" fill="#000">Relative</text>
<text transform="translate(55.50,622.30) rotate(-90)" font-size="9.3" text-anchor="middle" textLength="69.8" lengthAdjust="spacingAndGlyphs">mRNA expression</text>
<rect x="248.00" y="610.90" width="8.00" height="44.30" fill="#1054b6" stroke="none" stroke-width="0" />
<rect x="257.00" y="610.90" width="8.00" height="44.30" fill="#b8075f" stroke="none" stroke-width="0" />
<rect x="270.10" y="610.90" width="8.00" height="44.30" fill="#1054b6" stroke="none" stroke-width="0" />
<rect x="279.10" y="628.98" width="8.00" height="26.22" fill="#b8075f" stroke="none" stroke-width="0" />
<rect x="292.20" y="610.90" width="8.00" height="44.30" fill="#1054b6" stroke="none" stroke-width="0" />
<rect x="301.20" y="638.93" width="8.00" height="16.27" fill="#b8075f" stroke="none" stroke-width="0" />
<line x1="243.50" y1="587.10" x2="243.50" y2="655.65" stroke="#000" stroke-width="1.0" />
<line x1="243.10" y1="655.50" x2="314.00" y2="655.50" stroke="#000" stroke-width="1.0" />
<line x1="237.00" y1="655.50" x2="243.50" y2="655.50" stroke="#000" stroke-width="1.0" />
<text x="236.70" y="658.40" font-size="8.9" text-anchor="end" font-weight="normal" font-style="normal" fill="#000" >0.0</text>
<line x1="237.00" y1="632.50" x2="243.50" y2="632.50" stroke="#000" stroke-width="1.0" />
<text x="236.70" y="635.80" font-size="8.9" text-anchor="end" font-weight="normal" font-style="normal" fill="#000" >0.5</text>
<line x1="237.00" y1="610.50" x2="243.50" y2="610.50" stroke="#000" stroke-width="1.0" />
<text x="236.70" y="613.20" font-size="8.9" text-anchor="end" font-weight="normal" font-style="normal" fill="#000" >1.0</text>
<line x1="237.00" y1="587.50" x2="243.50" y2="587.50" stroke="#000" stroke-width="1.0" />
<text x="236.70" y="590.60" font-size="8.9" text-anchor="end" font-weight="normal" font-style="normal" fill="#000" >1.5</text>
<line x1="256.50" y1="655.20" x2="256.50" y2="661.00" stroke="#000" stroke-width="1.0" />
<text x="256.50" y="668.90" font-size="9.3" text-anchor="middle" font-weight="normal" font-style="normal" fill="#000" >2M</text>
<line x1="278.50" y1="655.20" x2="278.50" y2="661.00" stroke="#000" stroke-width="1.0" />
<text x="278.60" y="668.90" font-size="9.3" text-anchor="middle" font-weight="normal" font-style="normal" fill="#000" >4M</text>
<line x1="300.50" y1="655.20" x2="300.50" y2="661.00" stroke="#000" stroke-width="1.0" />
<text x="300.70" y="668.90" font-size="9.3" text-anchor="middle" font-weight="normal" font-style="normal" fill="#000" >9M</text>
<text x="278.80" y="578.80" font-size="9.1" text-anchor="middle" font-weight="bold" font-style="normal" fill="#000" >Notum</text>
<line x1="252.00" y1="605.48" x2="252.00" y2="614.16" stroke="#000" stroke-width="0.7" />
<line x1="250.20" y1="605.48" x2="253.80" y2="605.48" stroke="#000" stroke-width="0.7" />
<circle cx="254.38" cy="602.67" r="1.3" fill="#fff" stroke="#111" stroke-width="0.6"/>
<circle cx="250.55" cy="613.37" r="1.3" fill="#fff" stroke="#111" stroke-width="0.6"/>
<circle cx="250.58" cy="606.78" r="1.3" fill="#fff" stroke="#111" stroke-width="0.6"/>
<circle cx="253.93" cy="619.84" r="1.3" fill="#fff" stroke="#111" stroke-width="0.6"/>
<circle cx="253.54" cy="612.28" r="1.3" fill="#fff" stroke="#111" stroke-width="0.6"/>
<circle cx="253.84" cy="612.60" r="1.3" fill="#fff" stroke="#111" stroke-width="0.6"/>
<line x1="261.00" y1="606.38" x2="261.00" y2="613.62" stroke="#000" stroke-width="0.7" />
<line x1="259.20" y1="606.38" x2="262.80" y2="606.38" stroke="#000" stroke-width="0.7" />
<circle cx="259.38" cy="611.70" r="1.3" fill="#fff" stroke="#111" stroke-width="0.6"/>
<circle cx="261.25" cy="618.80" r="1.3" fill="#fff" stroke="#111" stroke-width="0.6"/>
<circle cx="262.97" cy="608.62" r="1.3" fill="#fff" stroke="#111" stroke-width="0.6"/>
<circle cx="261.59" cy="617.59" r="1.3" fill="#fff" stroke="#111" stroke-width="0.6"/>
<circle cx="261.02" cy="613.01" r="1.3" fill="#fff" stroke="#111" stroke-width="0.6"/>
<circle cx="259.96" cy="616.67" r="1.3" fill="#fff" stroke="#111" stroke-width="0.6"/>
<line x1="274.10" y1="603.67" x2="274.10" y2="615.24" stroke="#000" stroke-width="0.7" />
<line x1="272.30" y1="603.67" x2="275.90" y2="603.67" stroke="#000" stroke-width="0.7" />
<circle cx="276.14" cy="610.43" r="1.3" fill="#fff" stroke="#111" stroke-width="0.6"/>
<circle cx="274.05" cy="617.98" r="1.3" fill="#fff" stroke="#111" stroke-width="0.6"/>
<circle cx="276.34" cy="605.39" r="1.3" fill="#fff" stroke="#111" stroke-width="0.6"/>
<circle cx="272.31" cy="616.38" r="1.3" fill="#fff" stroke="#111" stroke-width="0.6"/>
<circle cx="276.38" cy="602.89" r="1.3" fill="#fff" stroke="#111" stroke-width="0.6"/>
<circle cx="271.96" cy="611.22" r="1.3" fill="#fff" stroke="#111" stroke-width="0.6"/>
<line x1="283.10" y1="623.56" x2="283.10" y2="632.24" stroke="#000" stroke-width="0.7" />
<line x1="281.30" y1="623.56" x2="284.90" y2="623.56" stroke="#000" stroke-width="0.7" />
<circle cx="282.56" cy="619.35" r="1.3" fill="#fff" stroke="#111" stroke-width="0.6"/>
<circle cx="283.68" cy="621.68" r="1.3" fill="#fff" stroke="#111" stroke-width="0.6"/>
<circle cx="281.47" cy="623.12" r="1.3" fill="#fff" stroke="#111" stroke-width="0.6"/>
<circle cx="281.77" cy="623.82" r="1.3" fill="#fff" stroke="#111" stroke-width="0.6"/>
<circle cx="284.76" cy="630.71" r="1.3" fill="#fff" stroke="#111" stroke-width="0.6"/>
<circle cx="281.58" cy="623.03" r="1.3" fill="#fff" stroke="#111" stroke-width="0.6"/>
<line x1="296.20" y1="608.64" x2="296.20" y2="612.26" stroke="#000" stroke-width="0.7" />
<line x1="294.40" y1="608.64" x2="298.00" y2="608.64" stroke="#000" stroke-width="0.7" />
<circle cx="295.72" cy="613.45" r="1.3" fill="#fff" stroke="#111" stroke-width="0.6"/>
<circle cx="295.64" cy="610.77" r="1.3" fill="#fff" stroke="#111" stroke-width="0.6"/>
<circle cx="294.99" cy="613.63" r="1.3" fill="#fff" stroke="#111" stroke-width="0.6"/>
<circle cx="298.11" cy="609.28" r="1.3" fill="#fff" stroke="#111" stroke-width="0.6"/>
<circle cx="296.50" cy="614.22" r="1.3" fill="#fff" stroke="#111" stroke-width="0.6"/>
<circle cx="293.98" cy="609.04" r="1.3" fill="#fff" stroke="#111" stroke-width="0.6"/>
<line x1="305.20" y1="635.31" x2="305.20" y2="641.10" stroke="#000" stroke-width="0.7" />
<line x1="303.40" y1="635.31" x2="307.00" y2="635.31" stroke="#000" stroke-width="0.7" />
<circle cx="303.37" cy="633.20" r="1.3" fill="#fff" stroke="#111" stroke-width="0.6"/>
<circle cx="305.44" cy="637.58" r="1.3" fill="#fff" stroke="#111" stroke-width="0.6"/>
<circle cx="304.27" cy="637.21" r="1.3" fill="#fff" stroke="#111" stroke-width="0.6"/>
<circle cx="305.60" cy="640.01" r="1.3" fill="#fff" stroke="#111" stroke-width="0.6"/>
<circle cx="305.96" cy="639.93" r="1.3" fill="#fff" stroke="#111" stroke-width="0.6"/>
<circle cx="304.90" cy="639.65" r="1.3" fill="#fff" stroke="#111" stroke-width="0.6"/>
<circle cx="273.15" cy="587.40" r="1.3" fill="#fff" stroke="#111" stroke-width="0.6"/>
<circle cx="283.34" cy="612.26" r="1.3" fill="#fff" stroke="#111" stroke-width="0.6"/>
<circle cx="283.08" cy="619.04" r="1.3" fill="#fff" stroke="#111" stroke-width="0.6"/>
<text transform="translate(309.20,618.00) rotate(-90)" font-size="7.5" text-anchor="middle" font-weight="bold" fill="#000">**</text>
<text transform="translate(211.50,622.70) rotate(-90)" font-size="9.3" text-anchor="middle" font-weight="normal" fill="#000">Relative</text>
<text transform="translate(222.50,622.30) rotate(-90)" font-size="9.3" text-anchor="middle" textLength="69.8" lengthAdjust="spacingAndGlyphs">mRNA expression</text>
<text transform="translate(285.40,595.30) rotate(-90)" font-size="7.0" text-anchor="middle" font-weight="bold" fill="#000">p=0.058</text>
<rect x="415.00" y="610.90" width="8.00" height="44.30" fill="#1054b6" stroke="none" stroke-width="0" />
<rect x="424.00" y="611.81" width="8.00" height="43.39" fill="#b8075f" stroke="none" stroke-width="0" />
<rect x="437.10" y="610.90" width="8.00" height="44.30" fill="#1054b6" stroke="none" stroke-width="0" />
<rect x="446.10" y="630.79" width="8.00" height="24.41" fill="#b8075f" stroke="none" stroke-width="0" />
<rect x="459.20" y="610.90" width="8.00" height="44.30" fill="#1054b6" stroke="none" stroke-width="0" />
<rect x="468.20" y="636.22" width="8.00" height="18.98" fill="#b8075f" stroke="none" stroke-width="0" />
<line x1="410.50" y1="587.10" x2="410.50" y2="655.65" stroke="#000" stroke-width="1.0" />
<line x1="410.10" y1="655.50" x2="481.00" y2="655.50" stroke="#000" stroke-width="1.0" />
<line x1="404.00" y1="655.50" x2="410.50" y2="655.50" stroke="#000" stroke-width="1.0" />
<text x="403.70" y="658.40" font-size="8.9" text-anchor="end" font-weight="normal" font-style="normal" fill="#000" >0.0</text>
<line x1="404.00" y1="632.50" x2="410.50" y2="632.50" stroke="#000" stroke-width="1.0" />
<text x="403.70" y="635.80" font-size="8.9" text-anchor="end" font-weight="normal" font-style="normal" fill="#000" >0.5</text>
<line x1="404.00" y1="610.50" x2="410.50" y2="610.50" stroke="#000" stroke-width="1.0" />
<text x="403.70" y="613.20" font-size="8.9" text-anchor="end" font-weight="normal" font-style="normal" fill="#000" >1.0</text>
<line x1="404.00" y1="587.50" x2="410.50" y2="587.50" stroke="#000" stroke-width="1.0" />
<text x="403.70" y="590.60" font-size="8.9" text-anchor="end" font-weight="normal" font-style="normal" fill="#000" >1.5</text>
<line x1="423.50" y1="655.20" x2="423.50" y2="661.00" stroke="#000" stroke-width="1.0" />
<text x="423.50" y="668.90" font-size="9.3" text-anchor="middle" font-weight="normal" font-style="normal" fill="#000" >2M</text>
<line x1="445.50" y1="655.20" x2="445.50" y2="661.00" stroke="#000" stroke-width="1.0" />
<text x="445.60" y="668.90" font-size="9.3" text-anchor="middle" font-weight="normal" font-style="normal" fill="#000" >4M</text>
<line x1="467.50" y1="655.20" x2="467.50" y2="661.00" stroke="#000" stroke-width="1.0" />
<text x="467.70" y="668.90" font-size="9.3" text-anchor="middle" font-weight="normal" font-style="normal" fill="#000" >9M</text>
<text x="445.00" y="578.80" font-size="9.1" text-anchor="middle" font-weight="bold" font-style="normal" fill="#000" >Dkk1</text>
<line x1="419.00" y1="607.74" x2="419.00" y2="612.80" stroke="#000" stroke-width="0.7" />
<line x1="417.20" y1="607.74" x2="420.80" y2="607.74" stroke="#000" stroke-width="0.7" />
<circle cx="420.27" cy="615.39" r="1.3" fill="#fff" stroke="#111" stroke-width="0.6"/>
<circle cx="418.80" cy="607.11" r="1.3" fill="#fff" stroke="#111" stroke-width="0.6"/>
<circle cx="418.87" cy="615.25" r="1.3" fill="#fff" stroke="#111" stroke-width="0.6"/>
<circle cx="417.22" cy="616.23" r="1.3" fill="#fff" stroke="#111" stroke-width="0.6"/>
<circle cx="417.04" cy="611.85" r="1.3" fill="#fff" stroke="#111" stroke-width="0.6"/>
<circle cx="419.05" cy="611.69" r="1.3" fill="#fff" stroke="#111" stroke-width="0.6"/>
<line x1="428.00" y1="608.64" x2="428.00" y2="613.71" stroke="#000" stroke-width="0.7" />
<line x1="426.20" y1="608.64" x2="429.80" y2="608.64" stroke="#000" stroke-width="0.7" />
<circle cx="428.65" cy="618.04" r="1.3" fill="#fff" stroke="#111" stroke-width="0.6"/>
<circle cx="429.12" cy="616.34" r="1.3" fill="#fff" stroke="#111" stroke-width="0.6"/>
<circle cx="428.06" cy="608.80" r="1.3" fill="#fff" stroke="#111" stroke-width="0.6"/>
<circle cx="428.02" cy="616.64" r="1.3" fill="#fff" stroke="#111" stroke-width="0.6"/>
<circle cx="430.16" cy="613.13" r="1.3" fill="#fff" stroke="#111" stroke-width="0.6"/>
<circle cx="429.71" cy="615.75" r="1.3" fill="#fff" stroke="#111" stroke-width="0.6"/>
<line x1="441.10" y1="606.38" x2="441.10" y2="613.62" stroke="#000" stroke-width="0.7" />
<line x1="439.30" y1="606.38" x2="442.90" y2="606.38" stroke="#000" stroke-width="0.7" />
<circle cx="442.21" cy="600.81" r="1.3" fill="#fff" stroke="#111" stroke-width="0.6"/>
<circle cx="439.63" cy="605.78" r="1.3" fill="#fff" stroke="#111" stroke-width="0.6"/>
<circle cx="441.06" cy="603.07" r="1.3" fill="#fff" stroke="#111" stroke-width="0.6"/>
<circle cx="443.10" cy="603.47" r="1.3" fill="#fff" stroke="#111" stroke-width="0.6"/>
<circle cx="442.48" cy="616.35" r="1.3" fill="#fff" stroke="#111" stroke-width="0.6"/>
<circle cx="439.01" cy="603.90" r="1.3" fill="#fff" stroke="#111" stroke-width="0.6"/>
<line x1="450.10" y1="624.46" x2="450.10" y2="634.59" stroke="#000" stroke-width="0.7" />
<line x1="448.30" y1="624.46" x2="451.90" y2="624.46" stroke="#000" stroke-width="0.7" />
<circle cx="451.33" cy="634.16" r="1.3" fill="#fff" stroke="#111" stroke-width="0.6"/>
<circle cx="452.00" cy="636.96" r="1.3" fill="#fff" stroke="#111" stroke-width="0.6"/>
<circle cx="451.62" cy="634.86" r="1.3" fill="#fff" stroke="#111" stroke-width="0.6"/>
<circle cx="450.11" cy="637.24" r="1.3" fill="#fff" stroke="#111" stroke-width="0.6"/>
<circle cx="448.70" cy="623.20" r="1.3" fill="#fff" stroke="#111" stroke-width="0.6"/>
<circle cx="450.13" cy="635.08" r="1.3" fill="#fff" stroke="#111" stroke-width="0.6"/>
<line x1="463.20" y1="607.74" x2="463.20" y2="612.80" stroke="#000" stroke-width="0.7" />
<line x1="461.40" y1="607.74" x2="465.00" y2="607.74" stroke="#000" stroke-width="0.7" />
<circle cx="460.98" cy="613.97" r="1.3" fill="#fff" stroke="#111" stroke-width="0.6"/>
<circle cx="461.57" cy="615.21" r="1.3" fill="#fff" stroke="#111" stroke-width="0.6"/>
<circle cx="464.06" cy="604.99" r="1.3" fill="#fff" stroke="#111" stroke-width="0.6"/>
<circle cx="461.61" cy="605.54" r="1.3" fill="#fff" stroke="#111" stroke-width="0.6"/>
<circle cx="461.35" cy="607.04" r="1.3" fill="#fff" stroke="#111" stroke-width="0.6"/>
<circle cx="463.85" cy="610.49" r="1.3" fill="#fff" stroke="#111" stroke-width="0.6"/>
<line x1="472.20" y1="630.79" x2="472.20" y2="639.47" stroke="#000" stroke-width="0.7" />
<line x1="470.40" y1="630.79" x2="474.00" y2="630.79" stroke="#000" stroke-width="0.7" />
<circle cx="473.99" cy="639.38" r="1.3" fill="#fff" stroke="#111" stroke-width="0.6"/>
<circle cx="472.58" cy="635.22" r="1.3" fill="#fff" stroke="#111" stroke-width="0.6"/>
<circle cx="470.30" cy="629.30" r="1.3" fill="#fff" stroke="#111" stroke-width="0.6"/>
<circle cx="472.82" cy="627.30" r="1.3" fill="#fff" stroke="#111" stroke-width="0.6"/>
<circle cx="473.63" cy="638.13" r="1.3" fill="#fff" stroke="#111" stroke-width="0.6"/>
<circle cx="474.55" cy="640.47" r="1.3" fill="#fff" stroke="#111" stroke-width="0.6"/>
<circle cx="450.25" cy="605.48" r="1.3" fill="#fff" stroke="#111" stroke-width="0.6"/>
<circle cx="449.82" cy="646.16" r="1.3" fill="#fff" stroke="#111" stroke-width="0.6"/>
<circle cx="472.73" cy="612.26" r="1.3" fill="#fff" stroke="#111" stroke-width="0.6"/>
<circle cx="472.08" cy="619.04" r="1.3" fill="#fff" stroke="#111" stroke-width="0.6"/>
<circle cx="462.55" cy="596.44" r="1.3" fill="#fff" stroke="#111" stroke-width="0.6"/>
<text transform="translate(454.10,598.00) rotate(-90)" font-size="7.5" text-anchor="middle" font-weight="bold" fill="#000">*</text>
<text transform="translate(476.20,608.00) rotate(-90)" font-size="7.5" text-anchor="middle" font-weight="bold" fill="#000">*</text>
<text transform="translate(378.50,622.70) rotate(-90)" font-size="9.3" text-anchor="middle" font-weight="normal" fill="#000">Relative</text>
<text transform="translate(389.50,622.30) rotate(-90)" font-size="9.3" text-anchor="middle" textLength="69.8" lengthAdjust="spacingAndGlyphs">mRNA expression</text>
<rect x="533.00" y="580.30" width="8.70" height="8.20" fill="#1054b6" stroke="none" stroke-width="0" />
<rect x="533.00" y="591.30" width="8.70" height="8.20" fill="#b8075f" stroke="none" stroke-width="0" />
<text x="544.30" y="588.00" font-size="9.2" text-anchor="start" font-weight="bold" font-style="normal" fill="#000" >WT</text>
<text x="544.30" y="599.00" font-size="9.2" text-anchor="start" font-weight="bold" font-style="normal" fill="#000" >APP/PS1</text>
</svg>
</body></html>
